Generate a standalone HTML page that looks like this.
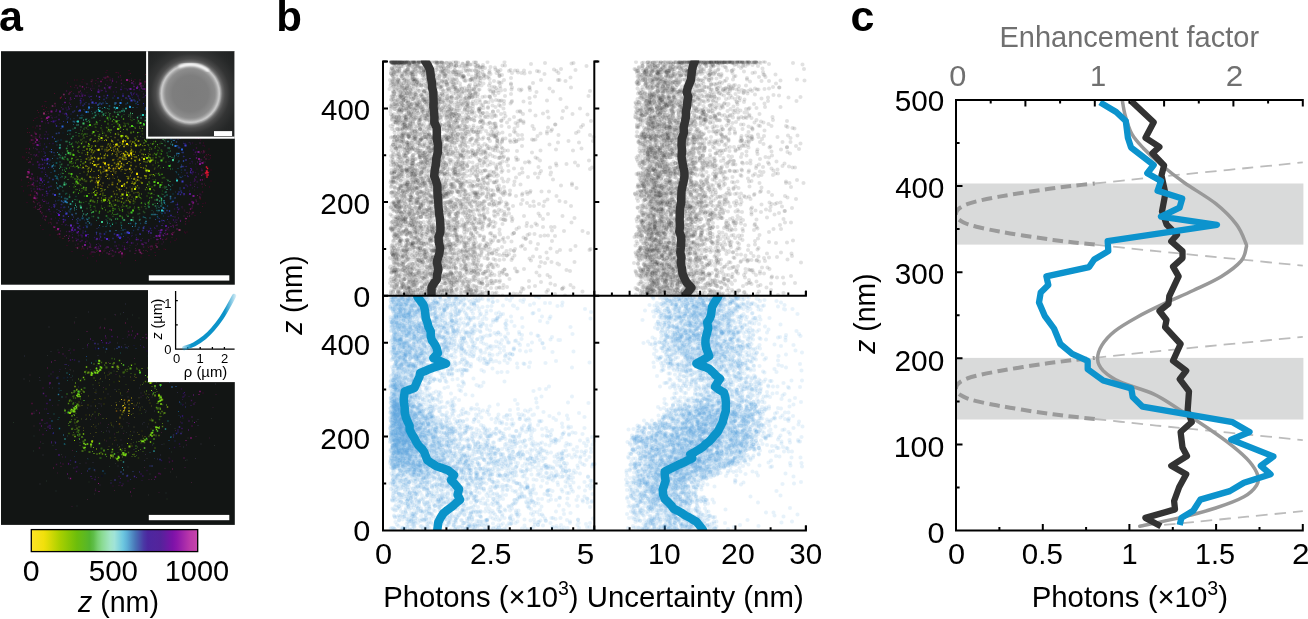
<!DOCTYPE html>
<html><head><meta charset="utf-8"><title>Figure</title>
<style>html,body{margin:0;padding:0;background:#fff}svg{display:block}text{font-family:"Liberation Sans", sans-serif}</style>
</head><body>
<svg width="1308" height="619" viewBox="0 0 1308 619">
<rect width="1308" height="619" fill="#fff"/>
<rect x="1.0" y="51.2" width="233.8" height="233.5" fill="#121514"/>
<rect x="1.0" y="290.1" width="233.8" height="234.8" fill="#121514"/>
<filter id="bl3" x="-2%" y="-2%" width="104%" height="104%"><feGaussianBlur stdDeviation="0.7"/></filter>
<clipPath id="ca1"><rect x="1.0" y="51.2" width="233.8" height="233.5"/></clipPath>
<clipPath id="ca2"><rect x="1.0" y="290.1" width="233.8" height="234.8"/></clipPath>
<g clip-path="url(#ca1)"><g transform="scale(.5)" filter="url(#bl3)" fill="none" stroke-linecap="square">
<path stroke="#14143c" stroke-width="2" d="M216 195zM118 253zM277 197zM367 284zM368 302z"/>
<path stroke="#14143c" stroke-width="2.6" d="M142 228zM287 210zM99 383zM369 290z"/>
<path stroke="#14143c" stroke-width="3.2" d="M352 411z"/>
<path stroke="#14283c" stroke-width="2" d="M242 461zM109 279zM106 325zM200 456zM346 398zM369 313zM115 376zM363 345zM172 451zM351 395zM322 425zM130 415zM109 379zM131 423zM126 266zM299 219zM351 278z"/>
<path stroke="#14283c" stroke-width="2.6" d="M178 213zM114 290zM175 453zM174 455zM251 459zM116 281zM232 207zM335 257z"/>
<path stroke="#14283c" stroke-width="3.2" d="M164 229zM363 340zM183 448zM175 450zM344 270zM109 311z"/>
<path stroke="#142850" stroke-width="2" d="M197 455zM238 464zM126 405zM133 233zM249 459zM295 214zM169 440zM308 231zM211 203zM148 237zM169 222zM173 453zM252 470zM350 267zM116 401zM327 432zM320 230zM243 467zM351 384zM360 379zM348 279zM324 234zM274 215zM112 357z"/>
<path stroke="#142850" stroke-width="2.6" d="M173 452zM267 461zM212 206zM365 353zM208 199zM100 320zM212 464zM226 196zM326 238zM99 329zM358 296z"/>
<path stroke="#142850" stroke-width="3.2" d="M129 414zM316 436zM238 470z"/>
<path stroke="#143c14" stroke-width="2" d="M336 337zM265 236zM223 429zM179 416zM199 232zM318 277zM192 240zM277 419z"/>
<path stroke="#143c14" stroke-width="2.6" d="M324 388zM326 375zM325 382zM306 277z"/>
<path stroke="#143c14" stroke-width="3.2" d="M167 405zM244 232zM324 301z"/>
<path stroke="#143c28" stroke-width="2" d="M130 335zM254 430zM279 434zM125 306zM152 271zM210 227zM314 399zM331 284zM129 354zM338 323zM124 335zM174 237z"/>
<path stroke="#143c28" stroke-width="2.6" d="M234 437zM160 413zM333 374zM297 411zM192 229zM197 228zM154 400zM207 229zM128 370zM330 385zM184 433z"/>
<path stroke="#143c28" stroke-width="3.2" d="M152 393zM216 436zM179 240zM338 303z"/>
<path stroke="#143c3c" stroke-width="2" d="M331 260zM157 249zM144 410zM347 276zM353 357zM345 280zM282 228zM121 348zM356 313zM260 447zM166 231zM113 372zM305 241zM307 424zM331 409zM316 424zM328 401zM117 360zM278 232zM295 227zM115 368zM124 354zM121 355zM212 439z"/>
<path stroke="#143c3c" stroke-width="2.6" d="M292 437zM116 358zM291 230zM118 375zM129 397zM331 392zM322 412zM315 242zM271 445zM317 255z"/>
<path stroke="#143c3c" stroke-width="3.2" d="M345 370zM110 342zM211 216zM164 235z"/>
<path stroke="#143c50" stroke-width="2" d="M356 325zM108 306zM270 453zM335 270zM149 245zM206 453zM357 324zM297 228zM183 223zM128 401zM184 215zM118 393zM176 219z"/>
<path stroke="#143c50" stroke-width="2.6" d="M281 447zM357 349zM330 417zM353 345zM259 212zM318 240zM318 242zM146 243z"/>
<path stroke="#143c50" stroke-width="3.2" d="M272 207zM193 222zM341 398zM115 317z"/>
<path stroke="#143c64" stroke-width="2" d="M339 264zM125 403zM141 238zM162 231zM348 268zM153 439zM188 207zM357 312zM311 228zM102 345zM118 400z"/>
<path stroke="#143c64" stroke-width="2.6" d="M335 412zM160 440zM278 455z"/>
<path stroke="#143c64" stroke-width="3.2" d="M324 427zM243 468zM357 295zM342 278z"/>
<path stroke="#14503c" stroke-width="2" d="M248 224zM136 398zM232 446zM122 373zM346 323zM214 450zM304 421zM292 232zM345 338z"/>
<path stroke="#14503c" stroke-width="2.6" d="M214 442zM282 231zM246 218zM185 227zM242 445zM291 235zM225 447zM313 416z"/>
<path stroke="#14503c" stroke-width="3.2" d="M124 373zM121 311zM124 353zM324 409zM218 218zM133 387z"/>
<path stroke="#145050" stroke-width="2" d="M323 403zM117 349z"/>
<path stroke="#145050" stroke-width="3.2" d="M131 397z"/>
<path stroke="#145064" stroke-width="2" d="M107 337zM352 343zM147 249zM153 419zM346 388zM356 337zM219 447zM131 403zM167 436z"/>
<path stroke="#145064" stroke-width="2.6" d="M341 379zM342 273zM130 397zM178 217zM300 436zM315 433zM120 297z"/>
<path stroke="#145064" stroke-width="3.2" d="M219 212zM287 434zM261 447zM113 283z"/>
<path stroke="#145078" stroke-width="2" d="M164 436zM230 205zM342 405zM140 424zM310 237zM363 330zM117 378zM122 280z"/>
<path stroke="#145078" stroke-width="2.6" d="M255 206zM291 219zM123 394zM198 208zM109 342zM246 460z"/>
<path stroke="#145078" stroke-width="3.2" d="M165 437z"/>
<path stroke="#146450" stroke-width="2" d="M131 388zM135 269zM205 217zM296 235zM193 441z"/>
<path stroke="#146450" stroke-width="2.6" d="M325 256zM348 316z"/>
<path stroke="#146450" stroke-width="3.2" d="M178 436zM163 236z"/>
<path stroke="#146464" stroke-width="2" d="M341 288zM173 438zM307 238zM323 258zM316 412z"/>
<path stroke="#146464" stroke-width="2.6" d="M297 232zM303 429zM314 421zM221 452z"/>
<path stroke="#146464" stroke-width="3.2" d="M113 326z"/>
<path stroke="#146478" stroke-width="2" d="M197 219zM212 453zM200 215zM135 262zM239 211zM110 332zM302 231zM353 310z"/>
<path stroke="#146478" stroke-width="2.6" d="M328 404zM114 354zM271 448zM326 255zM138 261zM326 415zM153 243zM243 451zM343 275zM141 261z"/>
<path stroke="#146478" stroke-width="3.2" d="M114 357zM111 352zM141 419z"/>
<path stroke="#281428" stroke-width="2" d="M326 203zM314 204zM368 255zM322 470zM72 296zM85 412zM60 340zM229 510zM322 187zM356 429zM379 272zM134 466zM174 185zM392 289zM277 175zM92 420zM85 428zM83 303zM68 386zM271 166zM399 321zM349 227zM388 241zM377 232zM78 405zM263 158zM89 400zM181 487zM348 218zM374 260zM248 485zM59 346zM398 332zM247 170zM184 499zM379 424zM105 237zM86 379zM183 495zM386 407zM92 244zM68 361zM339 447zM73 289zM210 501zM302 477zM157 469zM151 490zM208 155zM319 198zM227 503zM157 188zM288 494zM111 436zM394 354zM251 499zM67 274zM389 380zM91 246zM259 495zM63 353z"/>
<path stroke="#281428" stroke-width="2.6" d="M184 177zM355 241zM390 359zM390 369zM133 463zM197 487zM410 324zM91 402zM365 416zM253 177zM365 413zM75 353zM355 231zM174 482zM338 444zM140 200zM75 391zM272 491zM368 432zM212 153zM149 175zM188 177zM348 202zM177 175zM202 179zM400 306zM241 154zM137 475zM221 501zM369 420zM301 472zM394 363zM388 309zM69 309zM221 178zM175 498zM369 422zM412 351zM101 438zM62 377z"/>
<path stroke="#281428" stroke-width="3.2" d="M242 161zM85 436zM298 480zM176 494zM58 305zM406 291zM385 286zM71 273zM214 161zM383 428zM315 487zM72 392zM157 471zM381 254zM345 198zM209 498zM324 488zM76 313zM210 176zM185 172z"/>
<path stroke="#28143c" stroke-width="2" d="M157 472zM333 461zM392 334zM110 235zM102 243zM127 444zM230 180zM96 268zM133 463zM359 228zM381 343zM267 167zM156 458zM83 318zM284 183zM113 425zM314 462zM394 364zM156 192zM231 492zM386 364zM96 270zM136 451zM229 492zM147 187zM97 233zM280 190zM120 247zM93 404zM91 345zM265 195zM300 465zM83 362zM387 256zM128 443zM71 297zM273 177zM94 422zM332 458zM353 262zM144 465zM145 469zM92 263zM391 328zM84 394zM99 413zM385 326zM102 371zM112 222zM197 185zM215 171zM89 393zM162 187zM329 216zM150 188zM199 490zM242 179zM92 256zM90 342zM376 390zM259 478zM258 177zM316 201zM383 339zM92 332zM89 353zM211 180zM265 471zM95 246zM98 323zM133 449zM260 491zM202 170zM385 376zM97 375zM285 477zM125 421zM248 171zM119 437zM125 209z"/>
<path stroke="#28143c" stroke-width="2.6" d="M87 379zM66 359zM79 328zM349 418zM391 345zM385 348zM361 225zM161 210zM96 237zM350 434zM350 444zM161 197zM337 234zM372 291zM307 207zM64 349zM162 470zM139 217zM267 169zM68 378zM266 486zM351 440zM119 457zM381 365zM80 287zM166 189zM90 313zM118 230zM288 194zM103 415zM395 364zM254 497zM227 184zM166 462zM76 324zM203 468zM99 287zM152 477zM193 498zM250 177zM67 359zM325 470zM395 375zM233 473zM113 234zM68 310zM348 227zM243 174zM126 227zM279 179z"/>
<path stroke="#28143c" stroke-width="3.2" d="M277 196zM289 485zM143 462zM222 497zM93 376zM162 470zM163 186zM245 492zM393 310zM403 338zM167 200zM90 269zM379 285zM256 475zM279 180zM347 229zM325 204zM391 304zM211 178zM148 451zM380 327zM352 240zM326 447zM80 291zM203 481zM222 173z"/>
<path stroke="#281450" stroke-width="2" d="M252 480zM371 287zM112 241zM142 213zM286 195zM352 248zM178 190zM179 195zM358 417zM88 303zM92 349zM85 379zM298 454zM100 423zM355 406zM363 414zM255 198zM147 454zM88 339zM376 354zM163 197zM184 192zM256 482zM242 478zM100 381zM84 357zM381 288zM233 184zM177 474zM352 409zM183 199zM374 371zM336 426zM172 478zM379 382z"/>
<path stroke="#281450" stroke-width="2.6" d="M132 228zM294 461zM106 287zM210 476zM384 323zM315 201zM299 462zM131 450zM94 391zM375 373zM303 461zM372 370zM371 287zM208 192zM154 213zM87 298zM189 475zM269 186zM296 204zM373 333zM313 207zM96 364zM117 441zM80 329zM89 326z"/>
<path stroke="#281450" stroke-width="3.2" d="M264 191zM331 223zM111 242zM255 180zM337 433zM122 415zM387 300z"/>
<path stroke="#281464" stroke-width="2" d="M375 351zM95 365zM93 387zM178 193zM309 455zM89 288zM263 472zM111 248zM209 475zM273 475z"/>
<path stroke="#281464" stroke-width="2.6" d="M166 466zM88 361zM131 440zM273 189zM167 455zM229 192zM276 192zM369 388z"/>
<path stroke="#281464" stroke-width="3.2" d="M108 413zM130 440zM320 218zM383 346zM89 320zM162 204z"/>
<path stroke="#282850" stroke-width="2" d="M328 229zM364 386z"/>
<path stroke="#282864" stroke-width="2" d="M85 365zM172 205zM184 206zM264 466zM272 470zM357 264zM340 253zM356 279zM281 469zM319 437zM109 415zM361 277zM122 257zM243 200zM263 189zM114 419zM256 463zM218 481zM100 303zM370 351zM194 457z"/>
<path stroke="#282864" stroke-width="2.6" d="M161 206zM159 452zM367 333zM295 210zM149 222zM241 474zM279 200zM99 356zM355 415zM208 199zM155 442zM213 196zM307 220zM97 364zM344 404z"/>
<path stroke="#282864" stroke-width="3.2" d="M146 224zM169 208zM226 477zM362 382zM136 235zM332 231zM128 415zM123 409zM178 208z"/>
<path stroke="#282878" stroke-width="2" d="M134 220zM111 402zM97 335zM329 442zM372 333zM110 391zM147 434zM322 234zM242 475zM344 250zM118 421zM364 305zM335 439zM199 199zM127 243zM108 305z"/>
<path stroke="#282878" stroke-width="2.6" d="M171 463zM367 313zM324 441zM330 426zM301 457zM93 294zM328 237zM370 340z"/>
<path stroke="#282878" stroke-width="3.2" d="M132 428zM337 247zM359 295zM229 468zM166 211zM94 321z"/>
<path stroke="#28288c" stroke-width="2" d="M102 373zM112 408zM287 207zM153 214zM247 473zM134 238z"/>
<path stroke="#28288c" stroke-width="2.6" d="M358 384zM363 385zM270 202zM105 274z"/>
<path stroke="#28288c" stroke-width="3.2" d="M209 468z"/>
<path stroke="#283c14" stroke-width="2" d="M305 352zM169 380zM298 339zM282 407zM164 367zM142 332zM151 367zM259 416zM236 412zM319 297zM206 388zM191 416zM159 364zM330 356zM156 296zM269 413zM306 359zM278 265zM187 284zM313 277zM268 416zM284 282zM237 253zM301 287zM315 334zM301 389zM254 257zM159 378zM300 372zM142 333zM157 385zM241 421zM255 260zM265 421zM254 411zM286 275zM158 285zM320 287zM224 243zM180 271z"/>
<path stroke="#283c14" stroke-width="2.6" d="M198 278zM146 294zM322 300zM310 336zM129 319zM323 300zM309 381zM283 414zM204 232zM165 267zM258 427zM215 262zM244 414zM248 252zM243 414zM261 239zM295 378zM320 372zM162 384zM250 404zM164 358zM204 404zM235 399zM168 276zM307 379zM269 386zM153 369z"/>
<path stroke="#283c14" stroke-width="3.2" d="M332 324zM169 362zM315 292zM216 424zM285 268zM326 318zM321 308zM192 261zM208 266zM293 344z"/>
<path stroke="#283c78" stroke-width="2" d="M91 311zM250 466zM138 422zM135 243zM233 206zM311 439zM168 219zM182 450z"/>
<path stroke="#283c78" stroke-width="2.6" d="M145 430zM353 284zM200 467zM276 459zM155 231zM156 437zM350 396zM268 200zM346 269zM127 405z"/>
<path stroke="#283c78" stroke-width="3.2" d="M104 334zM113 267z"/>
<path stroke="#283c8c" stroke-width="2" d="M356 292zM355 264zM288 453zM314 222zM299 219zM109 277z"/>
<path stroke="#283c8c" stroke-width="2.6" d="M193 465zM342 247zM118 266zM313 229zM334 421zM366 305zM275 204zM174 454z"/>
<path stroke="#283c8c" stroke-width="3.2" d="M203 208zM106 359z"/>
<path stroke="#283cb4" stroke-width="2.6" d="M319 443zM260 197zM339 422zM356 388z"/>
<path stroke="#283cb4" stroke-width="3.2" d="M236 196z"/>
<path stroke="#285014" stroke-width="2" d="M155 379zM307 283zM165 278zM274 246zM216 425zM311 359zM170 255zM168 282zM218 252zM334 359zM139 373zM167 405zM188 413zM256 424zM302 387zM224 249zM203 251zM297 408zM294 276zM204 404zM290 242zM276 242zM227 255zM237 250zM172 403zM300 381zM237 413zM254 247zM221 239zM192 255zM248 251zM295 289zM148 383zM181 250zM150 384zM190 420zM269 416zM260 407zM312 347zM181 415zM147 326zM226 432zM324 369zM308 389zM149 370zM138 309zM320 288zM195 405zM176 259zM269 416zM320 306zM281 273zM180 403zM143 319zM157 283zM325 365zM195 401zM283 405zM248 413zM156 336zM194 406zM216 412zM145 333zM317 392zM300 387zM209 415zM323 307zM253 430zM203 412z"/>
<path stroke="#285014" stroke-width="2.6" d="M152 366zM167 378zM329 373zM245 420zM320 314zM315 306zM315 391zM279 419zM250 248zM220 438zM205 418zM155 286zM168 275zM217 240zM163 268zM311 322zM256 247zM284 252zM298 373zM225 413zM152 321zM311 360zM174 268zM203 416zM162 371zM294 279zM248 406zM257 249zM216 263zM238 417zM264 241zM198 426zM308 363zM205 264zM318 313zM256 416zM323 301zM316 325z"/>
<path stroke="#285014" stroke-width="3.2" d="M191 254zM328 355zM267 407zM324 365zM299 367zM168 375zM297 386zM223 412zM146 355zM189 249zM169 392zM144 327zM216 256zM325 356zM235 248zM327 316zM282 397z"/>
<path stroke="#285028" stroke-width="2" d="M327 279zM310 407zM248 229zM226 433zM129 357zM275 238zM238 231zM145 286zM312 255zM242 448zM217 225zM338 331zM232 233zM161 260zM309 272zM264 230zM322 284zM296 412zM322 402z"/>
<path stroke="#285028" stroke-width="2.6" d="M230 225zM292 417zM287 423zM212 226zM187 424zM258 230zM174 417zM261 234zM310 400zM184 236z"/>
<path stroke="#285028" stroke-width="3.2" d="M339 297zM289 425zM220 439zM298 408zM330 376zM279 427z"/>
<path stroke="#28503c" stroke-width="2" d="M240 224zM339 295z"/>
<path stroke="#28503c" stroke-width="2.6" d="M321 263z"/>
<path stroke="#28503c" stroke-width="3.2" d="M329 281zM120 315z"/>
<path stroke="#28508c" stroke-width="2" d="M360 354zM360 376zM362 355zM252 208z"/>
<path stroke="#28508c" stroke-width="2.6" d="M123 402zM144 429zM341 396zM362 334z"/>
<path stroke="#28508c" stroke-width="3.2" d="M196 210zM231 206z"/>
<path stroke="#2850b4" stroke-width="2" d="M103 299zM157 222zM348 265zM135 245zM354 291z"/>
<path stroke="#2850b4" stroke-width="2.6" d="M341 253zM367 322zM292 216zM103 304z"/>
<path stroke="#2850b4" stroke-width="3.2" d="M346 403z"/>
<path stroke="#286414" stroke-width="2" d="M200 241zM184 252zM228 246zM210 243zM318 295zM321 336zM296 407zM144 302zM216 246zM146 367z"/>
<path stroke="#286414" stroke-width="2.6" d="M226 233zM173 256zM270 255zM152 379zM244 433z"/>
<path stroke="#286414" stroke-width="3.2" d="M181 411zM189 413zM230 418zM316 301zM260 414z"/>
<path stroke="#286428" stroke-width="2" d="M124 346zM124 328zM185 425zM301 254zM219 234zM257 233zM181 414z"/>
<path stroke="#286428" stroke-width="2.6" d="M221 237zM187 433zM127 318zM266 435zM317 270zM176 252zM134 297zM178 407zM290 407zM335 311zM315 399zM219 230z"/>
<path stroke="#286428" stroke-width="3.2" d="M320 395zM235 428z"/>
<path stroke="#28643c" stroke-width="2" d="M261 230zM326 389zM206 229zM234 225zM314 398zM135 292zM139 390zM341 330zM261 227zM177 241z"/>
<path stroke="#28643c" stroke-width="2.6" d="M314 267zM304 248zM123 329zM136 330zM132 309zM332 374zM338 296z"/>
<path stroke="#28643c" stroke-width="3.2" d="M134 283zM161 411zM331 277z"/>
<path stroke="#286450" stroke-width="2" d="M267 440zM341 373zM215 217zM126 382zM321 261zM146 258zM322 271zM267 442zM125 375z"/>
<path stroke="#286450" stroke-width="2.6" d="M336 296zM329 393zM280 439z"/>
<path stroke="#286450" stroke-width="3.2" d="M173 429zM156 250z"/>
<path stroke="#286464" stroke-width="2" d="M318 415z"/>
<path stroke="#286464" stroke-width="3.2" d="M345 289z"/>
<path stroke="#28648c" stroke-width="2" d="M271 452zM348 281zM137 414zM111 283zM314 429zM336 252zM199 451zM105 317z"/>
<path stroke="#28648c" stroke-width="2.6" d="M334 261zM358 307zM152 427zM148 243z"/>
<path stroke="#28648c" stroke-width="3.2" d="M328 241zM175 439z"/>
<path stroke="#2864b4" stroke-width="2" d="M292 447zM200 206zM206 206zM172 446z"/>
<path stroke="#2864b4" stroke-width="2.6" d="M220 462z"/>
<path stroke="#2864dc" stroke-width="4" d="M125 253zM347 268zM364 299z"/>
<path stroke="#287828" stroke-width="2.6" d="M136 320z"/>
<path stroke="#28783c" stroke-width="2" d="M183 426z"/>
<path stroke="#28783c" stroke-width="2.6" d="M240 224zM330 291z"/>
<path stroke="#28783c" stroke-width="3.2" d="M336 361zM146 273z"/>
<path stroke="#287850" stroke-width="2" d="M140 268zM249 223zM344 315zM337 369zM341 302zM120 330z"/>
<path stroke="#287850" stroke-width="2.6" d="M139 285zM132 283zM197 436zM196 435zM229 224z"/>
<path stroke="#287850" stroke-width="3.2" d="M207 228zM311 412zM129 365z"/>
<path stroke="#287864" stroke-width="2" d="M149 420zM120 324zM119 337zM236 216zM153 250zM337 274z"/>
<path stroke="#287864" stroke-width="2.6" d="M319 402zM323 406zM167 428zM279 440zM282 236z"/>
<path stroke="#28788c" stroke-width="2" d="M290 446zM349 312zM115 305z"/>
<path stroke="#28788c" stroke-width="2.6" d="M134 398zM179 446zM230 208zM306 429zM115 376z"/>
<path stroke="#28788c" stroke-width="3.2" d="M119 388zM318 421zM341 393zM330 260z"/>
<path stroke="#2878b4" stroke-width="2" d="M348 281zM232 461zM142 417zM357 307zM214 207zM197 215zM341 263z"/>
<path stroke="#2878b4" stroke-width="2.6" d="M327 422zM303 224zM327 416zM354 307z"/>
<path stroke="#2878dc" stroke-width="4" d="M173 224zM178 215zM351 292zM241 206z"/>
<path stroke="#288c28" stroke-width="2" d="M290 413zM267 253zM238 241zM140 289zM228 239zM268 239zM276 246zM243 234z"/>
<path stroke="#288c28" stroke-width="2.6" d="M235 438zM131 354zM133 337zM143 288zM162 405z"/>
<path stroke="#288c28" stroke-width="3.2" d="M135 318zM213 432z"/>
<path stroke="#288c3c" stroke-width="2" d="M183 425zM150 399zM129 340zM159 402zM211 231zM334 306zM158 267zM152 265zM199 426zM341 338zM296 259zM236 224zM276 428z"/>
<path stroke="#288c3c" stroke-width="2.6" d="M130 314zM133 297z"/>
<path stroke="#288c3c" stroke-width="3.2" d="M125 315zM306 409z"/>
<path stroke="#288c50" stroke-width="2" d="M125 340zM174 243zM131 309z"/>
<path stroke="#288c50" stroke-width="2.6" d="M143 277zM121 334z"/>
<path stroke="#288c50" stroke-width="3.2" d="M298 414zM125 317zM291 241z"/>
<path stroke="#288c64" stroke-width="2" d="M320 259zM133 368zM175 427zM151 408z"/>
<path stroke="#288c64" stroke-width="2.6" d="M309 255zM332 384zM207 230z"/>
<path stroke="#288c64" stroke-width="3.2" d="M150 256zM311 257zM188 235zM204 224zM191 231zM139 394zM247 440z"/>
<path stroke="#288c78" stroke-width="2" d="M257 447zM231 218zM172 430z"/>
<path stroke="#288c78" stroke-width="2.6" d="M119 296zM248 221zM190 225z"/>
<path stroke="#288c8c" stroke-width="2" d="M343 284zM313 242zM165 432zM243 456zM290 435z"/>
<path stroke="#288c8c" stroke-width="2.6" d="M120 372zM336 283z"/>
<path stroke="#288cb4" stroke-width="2" d="M272 447zM107 330zM265 453zM266 215zM177 224z"/>
<path stroke="#288cb4" stroke-width="2.6" d="M292 443zM310 429z"/>
<path stroke="#288cb4" stroke-width="3.2" d="M134 405zM105 332z"/>
<path stroke="#288cdc" stroke-width="4" d="M131 403zM335 257z"/>
<path stroke="#28a0b4" stroke-width="2" d="M160 236zM209 215zM328 401zM358 322zM176 443zM322 412zM345 290z"/>
<path stroke="#28a0b4" stroke-width="2.6" d="M329 406z"/>
<path stroke="#28a0b4" stroke-width="3.2" d="M229 215z"/>
<path stroke="#28a0dc" stroke-width="4" d="M260 214z"/>
<path stroke="#28b48c" stroke-width="2" d="M153 414zM151 411zM225 449z"/>
<path stroke="#28b48c" stroke-width="2.6" d="M120 290zM172 239zM323 397zM244 222zM145 403z"/>
<path stroke="#28b4a0" stroke-width="2" d="M215 446zM294 235zM167 240zM334 390z"/>
<path stroke="#28b4a0" stroke-width="2.6" d="M120 295zM197 219z"/>
<path stroke="#28b4a0" stroke-width="3.2" d="M141 408zM252 217z"/>
<path stroke="#28b4b4" stroke-width="2" d="M325 258zM113 366zM149 416z"/>
<path stroke="#28b4b4" stroke-width="2.6" d="M303 239z"/>
<path stroke="#28b4c8" stroke-width="4" d="M234 216z"/>
<path stroke="#28c8b4" stroke-width="4" d="M286 230zM156 243z"/>
<path stroke="#28c8c8" stroke-width="4" d="M324 421zM354 361zM199 222z"/>
<path stroke="#3c1414" stroke-width="2" d="M66 398zM199 510z"/>
<path stroke="#3c1414" stroke-width="2.6" d="M163 498zM401 398z"/>
<path stroke="#3c1428" stroke-width="2" d="M410 302zM91 441zM384 428zM137 482zM118 468zM184 159zM58 306zM110 208zM365 220zM400 266zM395 260zM191 167zM315 175zM287 501zM96 223zM349 464zM403 303zM66 287zM170 166zM100 216zM411 350zM58 371zM54 320zM409 368zM92 229zM289 168zM305 494zM344 475z"/>
<path stroke="#3c1428" stroke-width="2.6" d="M205 159zM115 469zM63 358zM379 425zM69 405zM371 448zM146 482zM208 502zM97 227zM185 160zM92 238zM346 466z"/>
<path stroke="#3c1428" stroke-width="3.2" d="M101 445zM152 171zM405 384zM302 493zM280 160zM68 372zM83 237z"/>
<path stroke="#3c143c" stroke-width="2" d="M360 219zM102 428zM326 189zM377 247zM103 448zM221 160zM402 390zM220 156zM339 195zM65 349zM129 473zM327 484zM75 356zM189 504zM401 266zM123 215zM217 495zM271 497zM275 173zM209 156zM392 303zM404 320zM102 231zM57 315zM394 338zM376 232zM223 166zM343 467zM130 472zM111 212zM330 181zM373 438zM382 398zM139 481zM296 492zM196 164zM124 449zM402 326zM270 168zM81 415zM378 427z"/>
<path stroke="#3c143c" stroke-width="2.6" d="M139 206zM393 403zM278 500zM196 501zM82 379zM291 178zM155 176zM375 433zM198 172zM58 339zM336 204zM329 192zM225 158zM208 155zM211 169zM71 413zM63 382zM174 168zM393 296zM78 283zM237 154zM260 502zM116 460zM173 175zM212 496zM363 229zM400 286zM233 164zM196 498zM337 212zM175 497zM249 493zM385 412zM287 494zM74 252zM314 473zM87 432zM355 215zM70 266zM404 368zM74 396z"/>
<path stroke="#3c143c" stroke-width="3.2" d="M74 386zM385 256zM139 472zM341 212zM354 450zM161 483zM214 506zM351 217zM390 269zM74 373zM286 172zM396 408zM133 182zM193 494zM80 258zM67 356zM325 479zM110 454zM70 397zM334 458zM402 319zM301 493zM189 496zM72 285zM80 270zM183 504z"/>
<path stroke="#3c1450" stroke-width="2" d="M341 447zM328 201zM397 348zM103 243zM353 445zM179 486zM82 367zM389 373zM67 370zM80 380zM238 490zM391 360zM193 498zM93 264zM331 466zM300 181zM275 488zM287 188zM355 225zM162 193zM249 496zM274 188zM255 483zM94 407zM297 483z"/>
<path stroke="#3c1450" stroke-width="2.6" d="M391 305zM85 400zM297 480zM326 204zM104 235zM321 200zM164 190zM197 494zM66 329zM103 438zM181 490zM197 179zM74 299zM389 362zM82 277zM97 246zM68 287z"/>
<path stroke="#3c1450" stroke-width="3.2" d="M381 370zM164 481zM332 469zM214 494z"/>
<path stroke="#3c1464" stroke-width="2" d="M308 475zM381 275zM342 213zM193 489zM119 424zM383 337zM218 478zM346 433zM85 363zM158 457zM202 182zM79 366zM149 460zM141 209zM373 263zM196 182zM354 440zM354 254zM86 372zM310 457zM132 216zM198 181zM88 313zM80 371zM108 424zM126 439zM129 228z"/>
<path stroke="#3c1464" stroke-width="2.6" d="M255 485zM291 191zM352 241zM267 188zM126 218zM319 469zM89 277zM347 440zM212 183zM392 354zM156 479zM150 459zM164 471zM134 230zM339 219zM138 218zM339 219z"/>
<path stroke="#3c1464" stroke-width="3.2" d="M282 481zM193 479zM386 344zM357 419zM194 477zM85 329zM95 387zM78 330zM199 478z"/>
<path stroke="#3c1478" stroke-width="2" d="M97 406zM147 462zM355 425zM253 485z"/>
<path stroke="#3c1478" stroke-width="2.6" d="M78 335z"/>
<path stroke="#3c1478" stroke-width="3.2" d="M242 179zM353 238z"/>
<path stroke="#3c148c" stroke-width="2" d="M381 337zM84 344zM89 369z"/>
<path stroke="#3c148c" stroke-width="3.2" d="M161 201zM150 460z"/>
<path stroke="#3c148c" stroke-width="4" d="M107 243z"/>
<path stroke="#3c2878" stroke-width="2" d="M362 250zM137 214z"/>
<path stroke="#3c288c" stroke-width="2" d="M246 188zM94 328zM91 349zM315 220zM308 208zM240 474zM145 439zM182 200zM160 458zM368 287zM327 441zM376 353zM121 423zM381 342zM297 466zM366 268z"/>
<path stroke="#3c288c" stroke-width="2.6" d="M127 439zM258 193zM262 186zM361 389zM303 198zM132 227zM355 409zM368 389zM257 192zM252 196zM201 474zM93 383zM286 461zM95 277zM381 345z"/>
<path stroke="#3c288c" stroke-width="3.2" d="M127 432zM237 474zM109 412zM344 240z"/>
<path stroke="#3c28b4" stroke-width="2" d="M368 387zM200 470zM90 306zM94 352zM98 374zM82 337zM89 336zM116 427zM137 433z"/>
<path stroke="#3c28b4" stroke-width="2.6" d="M347 258zM342 431zM280 468zM215 191zM372 320zM359 257zM113 252zM368 376z"/>
<path stroke="#3c28b4" stroke-width="3.2" d="M336 233zM192 206zM246 192z"/>
<path stroke="#3c28c8" stroke-width="4" d="M240 476z"/>
<path stroke="#3c3c14" stroke-width="2" d="M293 353zM194 284zM164 337zM178 321zM246 266zM212 273zM215 403zM205 278zM192 362zM247 388zM180 352zM222 413zM280 332zM243 388zM180 292zM181 325zM199 273zM280 355zM168 328zM174 362z"/>
<path stroke="#3c3c14" stroke-width="2.6" d="M297 307zM271 323zM274 290zM255 397zM264 394zM279 387zM291 341zM195 375zM205 388zM193 299zM240 383zM269 338zM253 383zM218 396zM222 292zM205 378z"/>
<path stroke="#3c3c14" stroke-width="3.2" d="M200 358zM260 284zM243 276zM275 372zM177 315z"/>
<path stroke="#3c3cb4" stroke-width="2" d="M276 209zM106 388zM156 447z"/>
<path stroke="#3c3cb4" stroke-width="2.6" d="M95 327zM364 333z"/>
<path stroke="#3c3cb4" stroke-width="3.2" d="M287 456z"/>
<path stroke="#3c3cc8" stroke-width="4" d="M185 205zM255 465zM160 221zM263 201zM371 291zM258 466zM110 390zM365 363zM133 427z"/>
<path stroke="#3c5014" stroke-width="2" d="M299 303zM155 359zM178 336zM286 292zM159 368zM237 395zM209 379zM206 271zM169 301zM241 272zM179 280zM262 399zM160 335zM176 305zM242 397zM271 281zM171 309zM270 291zM168 337zM255 396zM175 348zM165 356zM223 279z"/>
<path stroke="#3c5014" stroke-width="2.6" d="M278 376zM309 338zM175 338zM234 389zM239 258zM172 363zM292 331zM275 273z"/>
<path stroke="#3c5014" stroke-width="3.2" d="M238 402zM172 284zM243 271zM246 272zM197 273zM210 299zM179 319z"/>
<path stroke="#3c6414" stroke-width="2" d="M306 310zM185 394zM230 241zM239 257zM219 263zM270 404zM278 389zM160 347zM228 408zM162 319zM299 356zM300 295zM152 314zM316 348zM195 248zM166 272zM267 398zM248 246zM318 346zM271 257zM203 401zM165 284zM161 369zM166 301zM275 266zM219 401zM204 260zM298 357zM245 410zM246 412zM153 333zM157 358zM184 386zM306 330zM236 247zM164 382zM270 256z"/>
<path stroke="#3c6414" stroke-width="2.6" d="M297 290zM169 359zM303 298zM299 299zM156 319zM180 279zM297 291zM309 307zM213 255zM192 248zM216 248zM291 379zM260 254zM235 402zM223 409zM307 287zM221 265zM271 398zM206 391zM186 401zM162 280z"/>
<path stroke="#3c6414" stroke-width="3.2" d="M312 315zM189 404zM254 273zM156 302zM186 403zM185 267zM182 400zM199 269z"/>
<path stroke="#3c7814" stroke-width="2.6" d="M219 412z"/>
<path stroke="#3c7814" stroke-width="3.2" d="M278 392z"/>
<path stroke="#3c8c14" stroke-width="2" d="M158 305zM167 270zM317 347zM299 396zM140 326zM165 262zM139 336zM150 334zM324 303zM311 293zM151 373zM291 409zM294 392zM318 331zM142 354zM235 242zM159 381zM284 262zM158 272z"/>
<path stroke="#3c8c14" stroke-width="2.6" d="M220 422zM210 243zM150 358zM138 347zM311 283zM283 406zM301 276zM313 309zM170 268zM199 423zM245 422z"/>
<path stroke="#3c8c14" stroke-width="3.2" d="M140 324zM141 309zM303 395zM309 371zM215 235zM253 412zM319 350zM312 309z"/>
<path stroke="#3ca014" stroke-width="2" d="M148 374zM228 429zM157 387zM205 417zM225 426zM324 349zM323 308z"/>
<path stroke="#3ca014" stroke-width="2.6" d="M226 421z"/>
<path stroke="#3ca014" stroke-width="3.2" d="M297 405z"/>
<path stroke="#3ca028" stroke-width="2" d="M227 239zM299 402zM131 343zM232 429zM152 284zM194 245zM187 423zM143 352zM192 422zM315 289zM300 268zM182 420zM327 335zM256 433z"/>
<path stroke="#3ca028" stroke-width="2.6" d="M233 234zM193 244zM145 293zM147 385zM277 242zM245 436z"/>
<path stroke="#3ca028" stroke-width="3.2" d="M240 432zM141 306zM215 237z"/>
<path stroke="#3ca03c" stroke-width="2" d="M136 359zM220 227zM168 258z"/>
<path stroke="#3ca03c" stroke-width="3.2" d="M135 302zM320 374z"/>
<path stroke="#3cb43c" stroke-width="2.6" d="M179 244z"/>
<path stroke="#3cb450" stroke-width="2" d="M126 347zM287 247zM337 314zM340 363zM324 287zM162 254zM256 432zM326 279z"/>
<path stroke="#3cb450" stroke-width="2.6" d="M186 424zM159 404zM317 392z"/>
<path stroke="#3cb464" stroke-width="2" d="M231 438zM261 226zM340 313z"/>
<path stroke="#3cb464" stroke-width="2.6" d="M323 400zM314 400zM249 440z"/>
<path stroke="#3cb464" stroke-width="3.2" d="M236 229z"/>
<path stroke="#3cb478" stroke-width="2" d="M334 379zM165 422zM265 227zM223 440zM315 407zM163 415zM338 371z"/>
<path stroke="#3cb478" stroke-width="2.6" d="M118 309zM275 235z"/>
<path stroke="#3cb48c" stroke-width="3.2" d="M326 273z"/>
<path stroke="#3cc828" stroke-width="4" d="M288 249zM263 425zM339 332z"/>
<path stroke="#3cc850" stroke-width="4" d="M137 306z"/>
<path stroke="#3cc864" stroke-width="4" d="M167 247z"/>
<path stroke="#3cc878" stroke-width="4" d="M129 369z"/>
<path stroke="#3cc88c" stroke-width="4" d="M263 440zM162 415zM346 320zM204 444z"/>
<path stroke="#460a28" stroke-width="2" d="M55 257zM375 217zM184 168zM328 498zM312 489zM89 212zM261 147zM66 254zM91 223zM83 427zM327 180zM93 215zM135 166zM58 390zM214 155zM303 168zM391 239zM413 309zM193 503zM305 494zM44 373zM342 189zM409 358zM90 203zM411 371zM259 163zM81 451zM390 431zM86 459zM405 374zM365 208zM243 160zM419 374zM291 149zM405 359zM318 499zM205 506zM182 508zM418 319zM336 175zM70 237zM134 491zM418 298zM308 165zM192 161zM241 151zM68 415zM180 508zM298 511zM399 393zM144 503zM311 172zM341 190zM421 311zM408 349zM149 160zM422 340zM347 198zM166 511zM370 227zM401 265zM341 484zM404 359zM186 513zM279 164zM245 506zM142 174zM52 298zM397 232zM366 210zM358 205zM56 348zM407 286zM53 305zM45 314zM248 510zM305 161zM379 238zM412 311zM421 316zM310 505zM384 226zM327 164zM214 141zM87 219zM88 219zM55 265zM219 160zM271 521zM295 503zM317 177zM71 256zM422 362zM371 466zM54 319zM420 311zM48 314zM141 173zM112 461zM282 514zM234 145zM370 215zM297 495zM241 526zM75 221zM258 148zM393 236zM366 192zM405 413zM328 166zM66 290zM67 241zM369 464zM72 399zM312 487zM371 443zM74 401zM403 304zM411 406zM290 165zM212 156zM166 159zM48 316zM417 348zM350 481zM334 476zM361 194zM54 297zM212 145zM232 145zM414 312zM97 446zM303 166zM373 228zM74 235zM331 479zM137 482zM417 309zM158 494zM354 204zM253 161zM100 470zM84 213zM60 284zM224 513zM250 508zM244 515zM306 497zM312 174zM59 265zM43 360zM407 269zM379 236zM302 161zM143 183zM175 516zM412 273zM398 249zM129 194zM62 361zM66 287zM47 382zM331 499zM408 315zM152 495zM374 464zM311 511zM80 232zM85 212zM237 146zM317 484zM182 506zM401 280zM164 164zM409 292zM55 372zM193 522zM65 274zM109 187zM286 507zM406 407zM57 365zM270 159zM353 478zM401 425zM202 503zM92 203zM69 264zM402 266zM258 141zM347 189zM77 225zM388 249zM419 344zM378 442zM322 175zM71 416zM54 405zM154 160zM108 213z"/>
<path stroke="#501428" stroke-width="2.6" d="M217 154z"/>
<path stroke="#50143c" stroke-width="2" d="M168 498zM166 496zM70 276zM84 425zM281 168zM292 501zM129 473zM333 478zM190 505zM280 503zM57 325zM374 223zM346 195zM62 370zM67 296zM357 209zM384 244zM62 309zM407 324z"/>
<path stroke="#50143c" stroke-width="2.6" d="M407 302zM56 348zM279 504zM302 499zM127 189zM392 276zM412 318zM376 236zM211 156zM406 348zM215 153zM90 439zM67 403zM267 163zM335 189zM343 468zM404 350z"/>
<path stroke="#50143c" stroke-width="3.2" d="M183 163zM241 503zM110 207zM69 392zM338 204zM408 304zM70 383zM290 163z"/>
<path stroke="#501450" stroke-width="2" d="M406 306zM78 406zM338 460zM382 256zM219 503zM71 312zM388 263zM352 451zM121 462zM169 178zM400 388zM378 241z"/>
<path stroke="#501450" stroke-width="2.6" d="M354 458zM346 451zM243 167zM79 274zM361 441zM384 403zM272 501zM186 504zM114 446zM404 341z"/>
<path stroke="#501450" stroke-width="3.2" d="M231 504zM369 227zM225 501zM64 348zM279 169z"/>
<path stroke="#501464" stroke-width="2" d="M329 467zM317 471zM361 443zM72 362zM395 324zM233 492zM232 175zM75 362zM181 178zM321 470zM142 199zM183 181zM323 208zM198 497zM321 461zM131 197zM155 192zM336 203zM357 436z"/>
<path stroke="#501464" stroke-width="2.6" d="M331 461zM201 492zM145 475zM153 481zM75 324zM85 390zM67 366zM216 494zM73 310zM113 220zM141 196zM75 388zM292 486zM283 176zM337 455zM171 484z"/>
<path stroke="#501464" stroke-width="3.2" d="M307 190zM299 184zM364 232zM284 488zM139 463zM400 323zM235 497zM316 185zM374 241zM268 173zM75 378z"/>
<path stroke="#501478" stroke-width="2" d="M112 223zM355 424zM164 474zM88 403zM149 197zM78 304zM318 461zM389 358zM204 181z"/>
<path stroke="#501478" stroke-width="2.6" d="M268 179zM276 479zM79 378zM127 444zM317 196zM263 486zM152 192zM275 173zM165 192zM365 258zM209 176zM170 191z"/>
<path stroke="#501478" stroke-width="3.2" d="M307 198zM306 194zM98 419z"/>
<path stroke="#50148c" stroke-width="2.6" d="M383 340zM118 239z"/>
<path stroke="#50148c" stroke-width="3.2" d="M273 479z"/>
<path stroke="#50148c" stroke-width="4" d="M332 452zM81 357zM321 465zM197 184zM155 465zM380 388zM120 223zM144 460zM82 360z"/>
<path stroke="#5014a0" stroke-width="2" d="M84 318zM312 209z"/>
<path stroke="#5028a0" stroke-width="2" d="M297 463zM324 451z"/>
<path stroke="#5028a0" stroke-width="2.6" d="M85 336z"/>
<path stroke="#5028b4" stroke-width="2" d="M298 462zM380 317zM374 346zM108 409zM90 320zM369 270zM193 192zM154 446zM314 452zM85 320zM193 468zM182 193zM351 239zM133 228zM176 469zM230 484zM341 234z"/>
<path stroke="#5028b4" stroke-width="2.6" d="M194 478zM302 466zM156 455z"/>
<path stroke="#5028b4" stroke-width="3.2" d="M199 194z"/>
<path stroke="#5028c8" stroke-width="4" d="M214 478zM310 203zM314 207zM307 207zM235 470zM95 318z"/>
<path stroke="#503c14" stroke-width="2" d="M194 331zM249 381zM225 338zM254 292zM262 297zM260 374z"/>
<path stroke="#503c14" stroke-width="2.6" d="M192 355zM226 351zM207 334zM261 305zM274 348z"/>
<path stroke="#503c14" stroke-width="3.2" d="M191 365zM204 372z"/>
<path stroke="#505014" stroke-width="2" d="M269 356zM218 358zM260 344zM266 374zM224 296zM223 332zM241 309zM216 375zM234 368zM213 348zM215 290zM208 343zM243 379zM215 329zM233 381zM267 386zM272 358zM191 317zM229 357zM226 356zM201 369zM258 307zM185 308zM261 350zM232 334zM235 354zM188 302zM218 341zM242 318zM243 307zM183 361zM274 318zM266 313zM202 345zM190 302zM228 344zM194 366zM279 328zM202 354zM241 291z"/>
<path stroke="#505014" stroke-width="2.6" d="M212 332zM233 374zM227 295zM228 319zM219 357zM227 383zM221 297zM278 361zM231 291zM227 342zM247 313zM236 319zM236 280zM215 301zM218 340zM194 329zM253 310zM262 325zM192 330zM213 299zM249 319zM218 370zM227 299zM247 329z"/>
<path stroke="#505014" stroke-width="3.2" d="M279 320zM198 300zM210 316zM224 309zM226 284zM244 315zM248 316zM204 298zM202 293zM245 334zM231 346zM235 333zM225 365zM233 304zM194 362zM227 340zM245 318zM183 361zM236 301zM262 293zM272 333zM187 355zM261 282zM227 341z"/>
<path stroke="#506414" stroke-width="2" d="M272 385zM173 375zM204 281zM166 360zM174 273zM262 267zM285 291zM292 355zM236 266zM202 377zM211 379zM231 394zM179 301zM202 383zM279 317z"/>
<path stroke="#506414" stroke-width="2.6" d="M291 337zM305 320zM182 312zM189 386zM187 378zM292 324zM242 392zM209 380z"/>
<path stroke="#506414" stroke-width="3.2" d="M255 274zM176 343zM237 269zM300 309zM216 275zM236 257zM264 382zM257 393zM253 401zM267 402zM199 279zM211 396z"/>
<path stroke="#507814" stroke-width="2" d="M154 319zM291 281zM192 390zM247 406zM229 411zM248 253zM222 273zM262 264zM311 326zM172 362zM196 263zM168 326z"/>
<path stroke="#507814" stroke-width="2.6" d="M203 401zM176 292zM270 276zM181 280zM182 355zM271 374zM181 363zM166 327zM162 323zM298 364zM288 286zM240 253z"/>
<path stroke="#507814" stroke-width="3.2" d="M257 385zM212 271zM169 293z"/>
<path stroke="#508c14" stroke-width="2" d="M304 349zM209 401zM164 377zM226 402zM205 267zM239 420zM280 257zM153 352zM306 316zM283 388zM195 402zM154 333zM304 374zM279 254zM317 332zM182 277zM262 265zM247 259z"/>
<path stroke="#508c14" stroke-width="2.6" d="M219 404zM155 332zM226 417zM254 259zM198 273zM155 354zM163 357zM220 406zM309 351zM158 293zM172 376zM190 271zM267 264zM160 360zM172 380z"/>
<path stroke="#508c14" stroke-width="3.2" d="M231 410zM222 260z"/>
<path stroke="#50a014" stroke-width="2" d="M154 358zM225 242zM151 326zM147 332zM285 257zM324 348zM147 300zM146 308zM211 420z"/>
<path stroke="#50a014" stroke-width="2.6" d="M247 238zM305 288zM143 323z"/>
<path stroke="#50a014" stroke-width="3.2" d="M155 365zM303 387zM277 415zM181 402z"/>
<path stroke="#50b414" stroke-width="2" d="M228 253zM156 295zM160 313zM310 296zM202 256zM310 370zM245 419zM276 265z"/>
<path stroke="#50b414" stroke-width="2.6" d="M157 335zM167 375z"/>
<path stroke="#50b414" stroke-width="3.2" d="M144 317z"/>
<path stroke="#50c814" stroke-width="4" d="M147 310zM321 370zM264 252zM174 392zM266 421zM143 348zM153 363zM309 364zM180 250z"/>
<path stroke="#50c828" stroke-width="4" d="M323 321zM281 246z"/>
<path stroke="#641428" stroke-width="2" d="M120 474zM126 477zM367 215z"/>
<path stroke="#641428" stroke-width="2.6" d="M61 390z"/>
<path stroke="#641450" stroke-width="2" d="M82 415zM222 508zM400 394zM270 507zM71 397zM156 488zM63 318zM351 209zM370 225zM196 157zM123 194zM384 237zM55 343zM133 471zM244 512zM263 161zM72 397zM171 491zM258 160zM346 465zM374 425zM380 234zM75 408zM161 182zM395 391zM409 314z"/>
<path stroke="#641450" stroke-width="2.6" d="M398 263zM165 493zM158 184zM386 425zM140 185zM72 277zM79 418zM283 507zM346 195zM138 188zM80 411zM81 423zM304 174zM360 212zM337 192z"/>
<path stroke="#641450" stroke-width="3.2" d="M60 324zM165 174zM356 207zM92 433zM218 508zM63 280zM238 505zM63 271z"/>
<path stroke="#641478" stroke-width="2" d="M342 453zM316 479zM362 237zM347 454zM130 205zM381 275zM159 192zM76 291zM292 182zM88 403zM95 241z"/>
<path stroke="#641478" stroke-width="2.6" d="M249 498zM286 489zM289 178zM286 178zM321 477zM225 162zM191 495zM327 471zM401 360zM393 316z"/>
<path stroke="#641478" stroke-width="3.2" d="M379 409zM130 205zM314 479zM84 243zM398 318zM385 404zM264 166z"/>
<path stroke="#64148c" stroke-width="4" d="M384 271zM274 176zM219 175zM313 472zM323 460zM261 178z"/>
<path stroke="#6414a0" stroke-width="2" d="M157 463z"/>
<path stroke="#6414a0" stroke-width="3.2" d="M145 456z"/>
<path stroke="#6414c8" stroke-width="4" d="M172 471zM118 430z"/>
<path stroke="#6428c8" stroke-width="4" d="M368 270zM142 451z"/>
<path stroke="#646414" stroke-width="2" d="M189 302zM231 309zM247 370zM235 327zM236 330zM245 312zM175 333zM200 370zM242 342zM215 374zM282 364zM236 301zM241 363zM263 357zM199 354zM227 289zM235 376zM210 302zM249 312z"/>
<path stroke="#646414" stroke-width="2.6" d="M224 369zM233 290zM193 357zM284 308zM184 361zM248 330zM240 285zM242 331zM219 292zM206 366zM202 347zM204 381zM230 275zM178 335zM214 295zM253 376zM252 315zM263 304zM238 304zM238 378zM229 388zM284 315z"/>
<path stroke="#646414" stroke-width="3.2" d="M257 354zM205 293zM282 356zM247 369zM181 319zM265 364zM250 339zM183 304zM215 349zM269 358zM229 326zM181 326z"/>
<path stroke="#647800" stroke-width="2" d="M183 295zM174 350zM234 388zM234 287zM206 386zM277 311zM168 344zM280 304zM246 272zM247 279z"/>
<path stroke="#647800" stroke-width="2.6" d="M187 305zM288 323zM266 303zM257 401zM276 385zM272 375zM300 350z"/>
<path stroke="#647800" stroke-width="3.2" d="M243 274zM217 288zM268 284z"/>
<path stroke="#647814" stroke-width="2" d="M295 324zM177 344z"/>
<path stroke="#647814" stroke-width="2.6" d="M297 321zM272 279zM254 274zM196 396z"/>
<path stroke="#647814" stroke-width="3.2" d="M297 321z"/>
<path stroke="#648c00" stroke-width="2" d="M178 387zM220 396zM197 277zM203 396zM164 306z"/>
<path stroke="#648c00" stroke-width="2.6" d="M301 316zM243 404zM217 400z"/>
<path stroke="#648c00" stroke-width="3.2" d="M289 299z"/>
<path stroke="#648c14" stroke-width="2" d="M293 375zM241 263zM220 406z"/>
<path stroke="#64b400" stroke-width="2.6" d="M167 294z"/>
<path stroke="#64b400" stroke-width="3.2" d="M178 289z"/>
<path stroke="#64b414" stroke-width="2" d="M275 265zM251 252zM189 383zM219 407zM280 395zM259 403zM289 280z"/>
<path stroke="#64b414" stroke-width="2.6" d="M295 369zM218 260zM292 283zM298 315zM163 287zM241 255zM239 250z"/>
<path stroke="#64b414" stroke-width="3.2" d="M180 298zM156 367z"/>
<path stroke="#64c814" stroke-width="4" d="M316 366zM187 264zM233 243z"/>
<path stroke="#781464" stroke-width="2" d="M66 280zM304 492zM312 491zM165 173zM59 298zM400 396zM403 351zM405 360zM241 503zM384 416zM392 400zM109 455zM379 432zM385 247z"/>
<path stroke="#781464" stroke-width="2.6" d="M80 252zM58 346zM371 437zM71 284zM381 418zM345 469zM73 386zM386 407zM180 494zM335 468z"/>
<path stroke="#781464" stroke-width="3.2" d="M72 268zM119 468zM279 500zM61 357zM65 369zM202 163zM397 276zM379 235zM108 454z"/>
<path stroke="#781478" stroke-width="2" d="M137 477z"/>
<path stroke="#781478" stroke-width="2.6" d="M282 172zM387 405z"/>
<path stroke="#781478" stroke-width="4" d="M398 318zM97 234zM405 326zM74 280zM103 223z"/>
<path stroke="#78148c" stroke-width="4" d="M397 304zM319 472zM170 490zM387 392zM75 290zM400 328zM378 260zM383 259z"/>
<path stroke="#782864" stroke-width="2" d="M160 172zM226 512zM76 419zM373 437z"/>
<path stroke="#782864" stroke-width="2.6" d="M155 496zM281 505zM128 189z"/>
<path stroke="#782864" stroke-width="3.2" d="M105 212zM314 494z"/>
<path stroke="#786414" stroke-width="2" d="M232 343zM216 329zM242 303zM218 336zM238 316zM252 341z"/>
<path stroke="#786414" stroke-width="2.6" d="M214 302z"/>
<path stroke="#786414" stroke-width="3.2" d="M231 337z"/>
<path stroke="#787800" stroke-width="2" d="M239 379zM271 304zM275 371zM200 340zM231 298zM290 314zM221 288zM255 364zM281 327zM233 333zM219 299z"/>
<path stroke="#787800" stroke-width="2.6" d="M177 337zM196 375zM273 314zM257 357zM261 302zM249 372zM287 336z"/>
<path stroke="#787800" stroke-width="3.2" d="M246 319zM270 314z"/>
<path stroke="#788c00" stroke-width="2" d="M201 388zM200 389zM282 300zM165 358zM191 374zM196 282zM187 283z"/>
<path stroke="#788c00" stroke-width="2.6" d="M278 291zM194 386zM287 309zM231 400zM256 276z"/>
<path stroke="#788c00" stroke-width="3.2" d="M270 287zM174 298zM173 318zM260 404z"/>
<path stroke="#78b400" stroke-width="2" d="M178 293zM210 391zM291 309zM187 385zM306 320zM245 271zM217 259zM161 330z"/>
<path stroke="#78b400" stroke-width="2.6" d="M207 399z"/>
<path stroke="#78b400" stroke-width="3.2" d="M223 393z"/>
<path stroke="#78c800" stroke-width="4" d="M210 400zM300 378zM208 401zM191 390zM236 258z"/>
<path stroke="#8c1428" stroke-width="2.6" d="M390 245zM121 196z"/>
<path stroke="#8c1478" stroke-width="4" d="M200 502zM57 344zM69 396zM281 167zM94 236zM254 160zM244 507zM116 458z"/>
<path stroke="#8c2864" stroke-width="4" d="M312 171zM384 235zM55 354zM88 227zM359 460z"/>
<path stroke="#8c7800" stroke-width="2" d="M236 324zM254 339zM198 328zM261 352zM263 346zM217 337z"/>
<path stroke="#8c7800" stroke-width="2.6" d="M228 302zM233 329zM235 290zM218 329zM217 300zM237 336z"/>
<path stroke="#8c7800" stroke-width="3.2" d="M230 293zM240 315zM207 325zM225 369z"/>
<path stroke="#8c8c00" stroke-width="2" d="M289 351zM274 345zM177 342zM193 362zM188 343zM209 281z"/>
<path stroke="#8c8c00" stroke-width="2.6" d="M175 309zM224 282zM197 341zM290 352z"/>
<path stroke="#8c8c00" stroke-width="3.2" d="M264 378zM239 379zM172 332zM183 316z"/>
<path stroke="#8ca000" stroke-width="2" d="M250 290zM293 332zM257 290z"/>
<path stroke="#8ca000" stroke-width="2.6" d="M265 284z"/>
<path stroke="#8ca000" stroke-width="3.2" d="M245 288z"/>
<path stroke="#8cb400" stroke-width="2" d="M297 312zM177 287zM209 401zM307 349zM192 381zM202 377zM212 279zM167 335z"/>
<path stroke="#8cb400" stroke-width="2.6" d="M171 324zM175 305zM231 268zM191 292zM281 289zM245 397z"/>
<path stroke="#8cb400" stroke-width="3.2" d="M296 341z"/>
<path stroke="#8cc800" stroke-width="4" d="M294 316zM273 394zM302 321z"/>
<path stroke="#a0a000" stroke-width="2" d="M181 343zM201 308zM265 344zM223 301zM250 347zM244 339zM206 344zM254 353zM196 320zM209 327zM225 307zM245 317zM211 308zM214 350zM201 344zM221 295zM210 342zM211 328zM255 326zM255 309zM238 364zM183 338zM215 357zM253 304z"/>
<path stroke="#a0a000" stroke-width="2.6" d="M263 311zM255 306zM235 298zM193 333zM262 331zM237 327zM189 315zM251 303zM275 360zM256 357zM215 311zM263 300zM237 360zM203 316zM238 293z"/>
<path stroke="#a0a000" stroke-width="3.2" d="M237 329zM254 365zM224 282zM209 311zM268 368zM198 362z"/>
<path stroke="#a0b400" stroke-width="2" d="M289 318zM290 291zM292 357zM184 292zM260 390zM251 273z"/>
<path stroke="#a0b400" stroke-width="2.6" d="M184 300zM252 272zM166 335zM292 352zM256 277zM190 282z"/>
<path stroke="#a0b400" stroke-width="3.2" d="M284 366zM270 366z"/>
<path stroke="#a0c800" stroke-width="4" d="M300 323z"/>
<path stroke="#a0dc00" stroke-width="4" d="M243 272zM254 390z"/>
<path stroke="#b4a000" stroke-width="2" d="M237 337zM222 343zM241 335zM208 338zM220 337zM197 351zM224 331z"/>
<path stroke="#b4a000" stroke-width="2.6" d="M240 362zM226 320zM227 337zM263 317z"/>
<path stroke="#b4b400" stroke-width="2" d="M253 386zM263 309zM183 340zM213 281zM258 323zM282 335zM263 288z"/>
<path stroke="#b4b400" stroke-width="2.6" d="M251 282zM180 354zM196 370z"/>
<path stroke="#b4b400" stroke-width="3.2" d="M187 323zM277 282z"/>
<path stroke="#b4c800" stroke-width="2" d="M198 298z"/>
<path stroke="#b4c800" stroke-width="2.6" d="M270 321z"/>
<path stroke="#b4dc00" stroke-width="4" d="M203 276zM293 341zM245 389zM298 342z"/>
<path stroke="#c8c800" stroke-width="2" d="M272 362zM197 365zM235 368zM234 312zM185 327zM231 289zM248 281zM263 309zM185 316zM264 367zM208 316zM252 316zM268 309z"/>
<path stroke="#c8c800" stroke-width="2.6" d="M260 337zM268 358zM279 320zM250 312zM249 368z"/>
<path stroke="#c8c800" stroke-width="3.2" d="M197 317zM249 310z"/>
<path stroke="#c8dc00" stroke-width="4" d="M288 318zM270 378zM272 291z"/>
<path stroke="#dcc800" stroke-width="2" d="M250 309zM196 329zM211 326zM212 353zM262 340zM197 355zM190 329zM252 319zM225 349zM234 308zM254 327z"/>
<path stroke="#dcc800" stroke-width="2.6" d="M259 338zM240 323zM263 306zM217 330zM248 293zM239 337zM276 354zM243 327zM242 333z"/>
<path stroke="#dcc800" stroke-width="3.2" d="M197 317zM218 335zM201 334zM247 307z"/>
<path stroke="#dcdc00" stroke-width="4" d="M189 330zM197 300zM244 372zM233 289zM196 365z"/>
<path stroke="#e61432" stroke-width="3" d="M414 354zM413 334zM414 343zM414 350zM414 346zM416 345zM415 337zM416 350zM411 346zM414 342zM413 342zM414 345z"/>
<path stroke="#f0dc00" stroke-width="4" d="M254 288zM274 348zM262 307zM258 311zM246 283zM210 327z"/>
<path stroke="#ffdc00" stroke-width="4" d="M213 341z"/>
</g></g>
<g clip-path="url(#ca2)"><g transform="scale(.5)" filter="url(#bl3)" fill="none" stroke-linecap="square">
<path stroke="#14143c" stroke-width="2" d="M204 952zM234 695zM365 811zM268 691z"/>
<path stroke="#14143c" stroke-width="2.8" d="M191 698zM349 760z"/>
<path stroke="#14283c" stroke-width="2" d="M119 782zM246 696zM186 936zM358 831zM360 805zM309 917zM149 913z"/>
<path stroke="#14283c" stroke-width="2.8" d="M135 755zM210 947zM118 777zM180 937z"/>
<path stroke="#142850" stroke-width="2" d="M272 697zM128 756zM339 897z"/>
<path stroke="#142850" stroke-width="2.8" d="M207 695z"/>
<path stroke="#143c3c" stroke-width="2" d="M176 918zM135 872zM145 752z"/>
<path stroke="#143c3c" stroke-width="2.8" d="M108 828zM297 712z"/>
<path stroke="#143c50" stroke-width="2" d="M255 696zM339 765zM362 808z"/>
<path stroke="#143c78" stroke-width="2" d="M173 713z"/>
<path stroke="#145050" stroke-width="2" d="M300 905zM118 835zM173 720zM116 839zM122 781zM192 722zM135 761zM153 903zM118 801zM241 706z"/>
<path stroke="#145050" stroke-width="2.8" d="M134 746zM321 746zM336 842z"/>
<path stroke="#145078" stroke-width="2" d="M357 823zM338 881z"/>
<path stroke="#145078" stroke-width="2.8" d="M206 942zM104 842z"/>
<path stroke="#146478" stroke-width="2" d="M341 875zM308 903zM321 773zM139 749z"/>
<path stroke="#146478" stroke-width="2.8" d="M342 874zM129 888zM119 857z"/>
<path stroke="#243228" stroke-width="2" d="M291 825zM158 791zM222 961zM350 857zM376 876zM163 758zM181 739zM244 791zM67 902zM106 891zM403 688zM278 636zM308 711zM219 933zM366 836zM229 698zM255 638zM141 740zM285 814zM86 887zM228 742zM205 763zM211 704zM343 904zM145 760zM260 870zM248 862zM241 628zM93 962zM227 854zM166 875zM374 760zM328 888zM27 845zM265 630zM149 644zM385 842zM334 998zM257 852zM178 964zM177 687zM131 889zM145 719z"/>
<path stroke="#28143c" stroke-width="2" d="M378 793zM99 775zM106 754zM110 883zM89 818zM376 838zM340 918zM175 694zM119 743zM221 685zM141 706zM191 696zM120 739zM365 799zM246 677zM105 811zM284 961zM255 674zM309 723zM158 940zM129 729zM100 857zM285 952zM281 679zM301 696z"/>
<path stroke="#28143c" stroke-width="2.8" d="M219 686zM246 968zM366 793zM294 941zM370 790zM366 809zM93 818zM99 769zM349 895zM363 778zM368 793zM238 953zM98 851z"/>
<path stroke="#281450" stroke-width="2" d="M288 695zM186 681zM131 914zM281 691zM137 731zM307 714zM100 837zM294 702zM325 713zM217 687zM366 795z"/>
<path stroke="#281450" stroke-width="2.8" d="M149 720zM323 921zM359 888zM357 754zM356 860zM205 685zM364 846zM367 787zM240 965zM141 921zM106 867z"/>
<path stroke="#282814" stroke-width="2" d="M254 785zM186 804zM249 827zM236 817zM262 760zM193 857zM262 889zM247 838zM197 888zM284 813zM238 784zM221 793zM240 854zM278 828zM297 848z"/>
<path stroke="#282850" stroke-width="2" d="M339 758zM333 741zM105 857zM315 918zM352 762z"/>
<path stroke="#282850" stroke-width="2.8" d="M347 870zM111 885zM158 723zM196 688z"/>
<path stroke="#282864" stroke-width="2" d="M322 715zM261 959zM350 882zM103 886z"/>
<path stroke="#282864" stroke-width="2.8" d="M252 695z"/>
<path stroke="#282878" stroke-width="2" d="M116 756zM371 814zM220 684zM361 834z"/>
<path stroke="#282878" stroke-width="2.8" d="M114 756zM346 759z"/>
<path stroke="#28288c" stroke-width="2.8" d="M353 867zM320 919z"/>
<path stroke="#282c2c" stroke-width="2" d="M154 1012zM364 864zM141 929zM233 782zM112 982zM244 890zM429 891zM152 635zM123 909zM231 927zM147 742zM151 805zM192 780zM140 698zM423 837zM374 920zM187 777zM304 794zM198 807zM59 762zM186 770zM302 841zM113 756zM133 716zM297 990zM341 849zM341 944zM371 921zM327 750zM235 738zM399 694zM116 753zM294 917zM393 843zM116 700zM400 764zM90 857zM333 740zM256 934zM68 872zM192 852zM332 986zM307 757zM245 897zM189 988zM294 676zM253 865zM95 711zM353 954zM308 853z"/>
<path stroke="#283c14" stroke-width="2" d="M236 905zM149 844zM211 732zM317 748zM238 779zM207 865zM267 885zM228 764zM252 769zM211 752zM242 852zM295 793zM186 769zM283 827z"/>
<path stroke="#283c14" stroke-width="2.8" d="M149 869zM277 916zM152 851z"/>
<path stroke="#283c14" stroke-width="4" d="M312 871zM310 776z"/>
<path stroke="#283c78" stroke-width="2" d="M266 943z"/>
<path stroke="#283c78" stroke-width="2.8" d="M246 948zM255 951zM304 932zM242 944zM189 940zM118 767z"/>
<path stroke="#283ca0" stroke-width="2" d="M300 932zM107 866z"/>
<path stroke="#283ca0" stroke-width="2.8" d="M197 697z"/>
<path stroke="#285014" stroke-width="2" d="M199 723zM171 748zM316 818zM273 911zM311 785zM138 820zM152 827zM327 828zM192 738zM257 733zM159 879z"/>
<path stroke="#285014" stroke-width="2.8" d="M244 901zM319 839zM224 717zM325 809zM142 843zM223 905zM143 802zM225 910zM296 764zM307 887zM249 744z"/>
<path stroke="#285014" stroke-width="4" d="M201 916zM146 823zM158 785zM140 844zM203 897zM169 776z"/>
<path stroke="#2850a0" stroke-width="2" d="M331 748zM234 697zM359 804zM178 938z"/>
<path stroke="#2850a0" stroke-width="2.8" d="M238 694zM213 698z"/>
<path stroke="#2864a0" stroke-width="2" d="M352 773z"/>
<path stroke="#2864a0" stroke-width="2.8" d="M344 774z"/>
<path stroke="#2878a0" stroke-width="2" d="M324 728zM127 870z"/>
<path stroke="#2878a0" stroke-width="2.8" d="M117 789z"/>
<path stroke="#288c8c" stroke-width="2" d="M320 760zM245 935zM183 726zM247 940zM124 794z"/>
<path stroke="#288c8c" stroke-width="2.8" d="M247 924zM130 878zM308 902zM331 858z"/>
<path stroke="#2c2c3c" stroke-width="2" d="M213 862zM219 864zM233 783zM175 816zM300 948zM396 729zM149 814zM49 712zM396 851zM186 828zM344 731zM48 758zM248 753zM98 654zM166 697zM268 899zM182 812zM236 932zM90 847zM289 921zM195 817zM256 794zM86 910zM230 629zM324 635zM80 761zM268 854zM288 845zM137 956zM268 864zM102 748zM337 724zM186 925zM345 656zM321 826zM196 711zM396 839zM192 787zM430 752zM367 894zM321 910zM175 917zM199 732zM371 806zM292 822zM235 890zM305 890zM142 755zM216 788zM230 779zM203 812zM160 885zM309 754zM80 968zM402 888zM251 608zM145 814zM324 889zM247 625zM355 785zM277 814z"/>
<path stroke="#2e283a" stroke-width="2" d="M295 854zM102 703zM215 855zM328 762zM201 654zM299 799zM282 786zM391 917zM264 801zM346 742zM130 827zM242 880zM431 768zM172 926zM202 808zM131 737zM257 693zM305 783zM158 877zM129 818zM244 857zM278 795zM160 927zM285 848zM191 954zM79 755zM171 839zM279 807zM68 827zM254 845zM194 731zM218 862zM291 909zM68 824zM323 673zM200 970zM132 825zM250 689zM309 822zM157 774zM177 624zM235 686zM181 839zM203 863zM282 794zM147 936zM279 776zM105 776zM163 806z"/>
<path stroke="#3a1a30" stroke-width="2" d="M60 750zM231 630zM360 893zM227 730zM286 791zM303 959zM125 695zM140 739zM255 783zM132 794zM419 876zM258 847zM351 861zM191 836zM125 914zM156 813zM263 992zM207 775zM426 815zM201 829zM302 932zM232 749zM229 868zM213 882zM229 881zM323 865zM68 852zM229 981zM291 896zM217 725zM289 935zM383 965zM144 1013zM197 955zM115 946zM247 867zM217 849zM238 971zM338 916zM361 844zM218 744zM145 785zM145 901zM330 937zM244 972zM270 812zM210 638zM257 782zM116 810zM190 942zM263 654zM175 999zM269 717zM149 646zM432 789zM201 846zM318 985z"/>
<path stroke="#3c143c" stroke-width="2" d="M373 890zM64 829zM303 683zM390 805zM298 959zM157 679zM79 860zM300 680zM226 972zM392 873zM81 884zM370 935zM263 670zM191 978z"/>
<path stroke="#3c143c" stroke-width="2.8" d="M292 669zM308 684zM113 929zM118 705zM191 981zM86 869zM339 924zM345 922zM220 659zM321 948zM73 821zM257 663zM137 927zM258 670zM126 708z"/>
<path stroke="#3c1450" stroke-width="2" d="M256 962zM263 670zM309 959zM130 712zM163 947zM184 957zM121 926z"/>
<path stroke="#3c1450" stroke-width="2.8" d="M383 801zM378 842zM388 808zM153 943zM328 704zM96 854zM80 847zM269 676zM384 834z"/>
<path stroke="#3c1464" stroke-width="2" d="M382 811zM369 785zM241 957zM150 936zM353 746zM287 694zM93 861zM273 955zM316 711zM112 899zM106 744zM98 752z"/>
<path stroke="#3c1464" stroke-width="2.8" d="M345 740zM224 673zM190 959zM141 720zM94 807zM364 857zM100 851z"/>
<path stroke="#3c148c" stroke-width="2.8" d="M365 832z"/>
<path stroke="#3c288c" stroke-width="2" d="M100 854zM222 966zM96 827zM132 729zM352 744zM243 694zM175 942zM347 874zM352 754zM356 864zM279 944zM111 886z"/>
<path stroke="#3c288c" stroke-width="2.8" d="M87 787zM269 953zM151 924zM190 687zM362 867zM100 800zM359 854zM230 960zM254 952z"/>
<path stroke="#3c3c14" stroke-width="2" d="M200 759zM239 803zM183 832zM231 817zM261 863zM154 835zM232 880zM197 848zM285 872zM187 849zM269 753zM219 770zM268 810zM207 784zM284 862zM238 895zM289 819zM266 827zM181 867zM241 788zM209 880zM233 783zM199 797zM190 785zM223 811zM262 887zM220 876zM160 812zM226 852zM298 801zM269 835zM268 854zM230 875zM293 796zM281 816zM281 770zM211 756zM245 854zM278 796zM160 853zM218 893zM279 806zM275 865zM172 830zM183 853zM298 789zM187 873zM190 854zM210 796zM240 754zM192 784zM225 888z"/>
<path stroke="#3c5014" stroke-width="2" d="M283 881zM275 894zM263 879zM287 766zM239 752zM222 746zM163 838zM257 831zM237 864zM239 893zM273 810zM247 745zM265 871zM297 795zM289 784zM302 858zM219 748zM185 829zM190 824zM234 865zM280 820zM198 766z"/>
<path stroke="#3c5014" stroke-width="2.8" d="M166 894zM226 915zM298 873zM158 872zM231 916zM325 800z"/>
<path stroke="#3c5014" stroke-width="4" d="M154 844zM154 857z"/>
<path stroke="#3c6414" stroke-width="2" d="M143 839zM298 761zM161 798zM254 743zM131 821zM243 902zM222 746zM137 847zM273 736zM285 769zM318 793zM297 765zM313 779zM157 865zM281 899zM301 868zM265 909zM183 749zM160 891zM286 903zM185 885zM172 742zM147 865zM299 763zM264 913zM262 747zM314 783zM242 921zM273 884z"/>
<path stroke="#3c6414" stroke-width="2.8" d="M202 905zM203 725zM320 833zM316 816zM300 751zM225 904zM255 739zM146 793zM270 749zM298 762zM144 786zM257 905zM151 796zM250 901zM320 818zM150 839zM274 738zM224 904zM235 736zM138 867zM188 728zM289 885zM160 783zM158 854zM226 728zM287 877zM145 857zM249 907zM321 827zM311 845zM251 740zM320 816z"/>
<path stroke="#3c6414" stroke-width="4" d="M297 736zM170 880zM189 743zM213 735zM167 883zM179 904zM247 745zM164 874zM144 858zM315 817zM165 902zM182 893zM157 811zM168 784z"/>
<path stroke="#3c7814" stroke-width="2" d="M319 853zM148 792zM229 718zM147 796zM270 728zM246 905zM159 790zM154 819zM313 764zM213 913zM282 886zM272 897zM314 807zM237 739z"/>
<path stroke="#3c7814" stroke-width="2.8" d="M140 800zM147 806zM294 879zM146 808zM300 766zM175 746zM169 759zM319 797zM247 906z"/>
<path stroke="#3c7814" stroke-width="4" d="M320 795zM159 869zM208 901zM157 861zM149 782z"/>
<path stroke="#50143c" stroke-width="2" d="M122 933zM406 786zM373 726zM268 977z"/>
<path stroke="#50143c" stroke-width="2.8" d="M369 726zM79 896zM353 721zM377 756zM64 807z"/>
<path stroke="#501450" stroke-width="2" d="M138 701z"/>
<path stroke="#501450" stroke-width="2.8" d="M318 947zM293 676z"/>
<path stroke="#501464" stroke-width="2" d="M332 705zM235 674zM244 971z"/>
<path stroke="#501464" stroke-width="2.8" d="M330 709zM328 712z"/>
<path stroke="#50148c" stroke-width="2" d="M137 928zM182 953zM282 948zM286 952zM94 846zM100 857zM154 934z"/>
<path stroke="#50148c" stroke-width="2.8" d="M118 910zM213 686zM323 709z"/>
<path stroke="#505014" stroke-width="2" d="M201 757zM208 808zM222 846zM167 856zM216 750zM275 806zM199 771zM190 799zM233 843zM303 838zM202 798zM300 806zM305 790zM261 754zM219 759zM256 802zM167 861zM248 801zM163 787zM257 779zM177 792zM232 805zM213 837zM303 812z"/>
<path stroke="#506414" stroke-width="2" d="M241 786zM191 761zM206 837zM197 830zM198 827zM234 743zM209 746zM223 850zM292 788zM173 838zM300 840zM263 829zM212 778zM250 897z"/>
<path stroke="#507814" stroke-width="2" d="M245 914zM150 846zM150 859zM277 901zM304 773zM209 730zM141 821zM322 833zM310 785zM143 785zM188 756zM325 847z"/>
<path stroke="#507814" stroke-width="2.8" d="M318 789zM268 909zM316 806zM263 730zM324 823zM318 871zM236 921zM194 908zM226 910zM325 853zM291 763z"/>
<path stroke="#507814" stroke-width="4" d="M226 912zM302 755zM329 826zM310 791z"/>
<path stroke="#508c14" stroke-width="2" d="M144 833zM223 913zM185 903zM270 913zM272 903z"/>
<path stroke="#508c14" stroke-width="2.8" d="M137 807zM282 881zM313 815z"/>
<path stroke="#508c14" stroke-width="4" d="M310 772zM155 809zM305 841zM130 821z"/>
<path stroke="#50a014" stroke-width="2" d="M149 831zM138 851zM170 900zM154 864zM144 823z"/>
<path stroke="#50a014" stroke-width="2.8" d="M308 878zM239 721zM183 889zM303 753zM211 909zM244 909z"/>
<path stroke="#50a014" stroke-width="4" d="M261 737zM321 793z"/>
<path stroke="#50c828" stroke-width="2" d="M193 736zM159 878zM155 870zM168 801zM134 788zM291 751zM272 892zM307 786zM306 788z"/>
<path stroke="#50c828" stroke-width="2.8" d="M289 896zM306 861zM199 887zM306 757zM247 730zM315 862zM229 908zM293 877z"/>
<path stroke="#50c828" stroke-width="4" d="M280 745zM157 783zM137 825zM321 770z"/>
<path stroke="#641450" stroke-width="2" d="M174 663zM271 672zM110 721zM126 928zM95 736z"/>
<path stroke="#641464" stroke-width="2" d="M148 700zM286 675zM87 787zM328 713zM86 776zM265 662zM212 676z"/>
<path stroke="#641464" stroke-width="2.8" d="M275 668zM84 840zM311 954zM343 708z"/>
<path stroke="#64148c" stroke-width="2" d="M175 690zM181 678zM103 884zM92 792zM211 672zM357 747zM377 860zM203 681z"/>
<path stroke="#646414" stroke-width="2" d="M191 812zM164 811zM240 834zM278 869zM192 865zM257 877zM179 830zM264 892zM268 761zM272 755zM290 873zM239 763zM158 804zM238 762zM176 810z"/>
<path stroke="#646414" stroke-width="2.8" d="M258 809zM244 829z"/>
<path stroke="#648c14" stroke-width="2" d="M157 758z"/>
<path stroke="#648c14" stroke-width="2.8" d="M237 735zM325 799zM212 726zM205 908zM308 870zM139 802zM154 779z"/>
<path stroke="#648c14" stroke-width="4" d="M177 745z"/>
<path stroke="#64a014" stroke-width="2" d="M278 883zM293 782zM243 727zM187 895zM148 785zM154 791zM333 810zM146 870zM310 896zM148 829zM297 751zM220 727zM216 899z"/>
<path stroke="#64a014" stroke-width="2.8" d="M156 842zM279 741zM228 726zM161 761zM163 779zM199 907z"/>
<path stroke="#64a014" stroke-width="4" d="M225 734zM322 808z"/>
<path stroke="#781450" stroke-width="2" d="M342 709zM345 938zM251 646zM200 656zM107 936zM391 761z"/>
<path stroke="#781450" stroke-width="2.8" d="M64 827z"/>
<path stroke="#781478" stroke-width="2" d="M103 724zM297 675zM79 826zM384 852z"/>
<path stroke="#78148c" stroke-width="2" d="M389 845zM387 790zM83 852zM135 948z"/>
<path stroke="#78148c" stroke-width="2.8" d="M100 766z"/>
<path stroke="#785014" stroke-width="2.8" d="M239 848zM249 800zM233 822z"/>
<path stroke="#786414" stroke-width="2" d="M255 804zM250 809z"/>
<path stroke="#786414" stroke-width="2.8" d="M241 821z"/>
<path stroke="#78a014" stroke-width="2" d="M166 782zM284 737zM140 844z"/>
<path stroke="#78a014" stroke-width="2.8" d="M247 910zM335 814zM323 798zM199 741zM150 773zM185 882z"/>
<path stroke="#78a014" stroke-width="4" d="M222 911zM235 733z"/>
<path stroke="#78c814" stroke-width="2" d="M153 811zM302 869zM321 818zM303 781zM221 916zM151 766zM304 764zM263 731zM295 754zM144 831zM188 907z"/>
<path stroke="#78c814" stroke-width="2.8" d="M167 755zM173 734zM247 909zM170 744zM142 824zM317 824zM167 868zM241 899zM301 884zM313 859zM225 899zM150 873z"/>
<path stroke="#78c814" stroke-width="4" d="M259 893zM149 823zM183 750zM182 889z"/>
<path stroke="#78dc14" stroke-width="3.2" d="M323 800zM321 801zM322 795zM320 802zM317 803zM246 906zM251 911zM252 908zM247 906zM249 910zM198 722zM197 727zM199 722zM198 727zM198 721zM191 746zM183 747zM190 745zM185 747zM183 745zM284 883zM290 880zM287 883zM286 882zM286 883zM201 734zM203 736zM200 739zM203 735zM201 740zM303 866zM301 870zM304 866zM304 872zM305 865zM312 854zM318 856zM312 855zM315 855zM315 855zM153 814zM150 818zM153 816zM153 814zM151 813zM170 895zM175 888zM171 889zM168 896zM168 887zM238 915zM235 917zM237 913zM234 918zM237 916zM147 823zM144 820zM148 820zM148 816zM143 819zM195 746zM195 745zM193 737zM194 741zM197 743zM154 791zM156 793zM160 793zM158 789zM156 788z"/>
<path stroke="#8c1478" stroke-width="2" d="M209 656zM261 984zM198 983zM398 789zM223 660zM197 967zM372 881zM368 916z"/>
<path stroke="#8c1478" stroke-width="2.8" d="M141 957zM382 876zM400 783z"/>
<path stroke="#8cc800" stroke-width="2" d="M255 887zM193 898zM153 780zM149 881zM311 754z"/>
<path stroke="#8cc800" stroke-width="4" d="M318 791zM140 826zM184 883zM301 766z"/>
<path stroke="#a0a014" stroke-width="2" d="M248 822zM247 821z"/>
<path stroke="#b48c14" stroke-width="2" d="M267 817zM240 836z"/>
<path stroke="#b4a014" stroke-width="2" d="M249 806zM258 827zM263 796z"/>
<path stroke="#c8b414" stroke-width="2" d="M243 799zM258 816zM264 807z"/>
<path stroke="#c8b414" stroke-width="2.8" d="M250 815z"/>
<path stroke="#dca014" stroke-width="2" d="M257 831z"/>
<path stroke="#dca014" stroke-width="2.8" d="M258 801zM249 816z"/>
<path stroke="#dcc814" stroke-width="2" d="M249 820zM246 824zM247 811zM245 812zM233 810z"/>
<path stroke="#dcc814" stroke-width="2.8" d="M258 822z"/>
</g></g>
<defs>
<radialGradient id="gbg" cx="190.4" cy="93.5" r="62" gradientUnits="userSpaceOnUse"><stop offset="0" stop-color="#8a8a8a"/><stop offset="0.485" stop-color="#8c8c8c"/><stop offset="0.51" stop-color="#6c6c6c"/><stop offset="0.56" stop-color="#4a4a4a"/><stop offset="0.64" stop-color="#333434"/><stop offset="0.78" stop-color="#262828"/><stop offset="1" stop-color="#1d1f1f"/></radialGradient>
<radialGradient id="gdisc" cx="190.4" cy="93.5" r="29.8" gradientUnits="userSpaceOnUse"><stop offset="0" stop-color="#7c7c7c"/><stop offset="0.6" stop-color="#7e7e7e"/><stop offset="0.82" stop-color="#8c8c8c"/><stop offset="0.92" stop-color="#a8a8a8"/><stop offset="0.97" stop-color="#c4c4c4"/><stop offset="1" stop-color="#cacaca"/></radialGradient>
<filter id="bl1" x="-20%" y="-20%" width="140%" height="140%"><feGaussianBlur stdDeviation="0.9"/></filter>
</defs>
<rect x="146.1" y="51.2" width="88.7" height="87.5" fill="#fff"/>
<rect x="148.1" y="51.2" width="86.2" height="85.4" fill="url(#gbg)"/>
<circle cx="190.4" cy="93.5" r="29.6" fill="url(#gdisc)"/>
<circle cx="190.4" cy="93.5" r="29.2" fill="none" stroke="#cbcbcb" stroke-width="2.0" filter="url(#bl1)"/>
<path d="M180 66.3A29 29 0 0 1 208 70.5" fill="none" stroke="#fff" stroke-width="2.6" stroke-linecap="round" filter="url(#bl1)"/>
<rect x="214" y="131.1" width="18.1" height="4.9" fill="#fff"/>
<rect x="148.8" y="275.3" width="80.5" height="5.3" fill="#fff"/>
<rect x="148.8" y="514.9" width="80.5" height="5.3" fill="#fff"/>
<rect x="148.0" y="289.6" width="87.8" height="92.5" fill="#fff"/>
<g stroke="#000" stroke-width="1.3" fill="none">
<path d="M175.6 291V349.1H234.6"/>
<path d="M175.6 300.6h2.2M175.6 324.8h2.2M187.8 349.1v-2.2M200.2 349.1v-2.2M212.4 349.1v-2.2M224.4 349.1v-2.2"/>
</g>
<defs><linearGradient id="gcv" x1="180" y1="0" x2="236" y2="0" gradientUnits="userSpaceOnUse"><stop offset="0" stop-color="#0c93c9" stop-opacity="0.1"/><stop offset="0.2" stop-color="#0c93c9"/><stop offset="0.8" stop-color="#0c93c9"/><stop offset="1" stop-color="#0c93c9" stop-opacity="0.15"/></linearGradient></defs>
<path d="M184.1 348.1C185.8 347.5 190.8 346.1 194.2 344.3C197.6 342.5 201.3 340.0 204.4 337.5C207.5 335.0 210.1 332.3 212.9 329.1C215.7 325.9 218.9 321.8 221.4 318.1C223.9 314.4 226.0 310.7 228.1 307.0C230.2 303.3 233.1 297.8 234.1 296.0" fill="none" stroke="url(#gcv)" stroke-width="4.3" stroke-linecap="round"/>
<text transform="translate(171.60 307.60)" font-size="13" text-anchor="end">1</text>
<text transform="translate(171.60 354.30)" font-size="13" text-anchor="end">0</text>
<text transform="translate(176.70 362.60)" font-size="13" text-anchor="middle">0</text>
<text transform="translate(200.20 362.60)" font-size="13" text-anchor="middle">1</text>
<text transform="translate(224.60 362.60)" font-size="13" text-anchor="middle">2</text>
<text transform="translate(183.86 377.30) scale(1.0375 1)" font-size="14.3">ρ (µm)</text>
<text transform="translate(162.20 339.60) rotate(-90) scale(1.0050 1)" font-size="14.3"><tspan font-style="italic">z</tspan> (µm)</text>
<defs><linearGradient id="gcb" x1="0" y1="0" x2="1" y2="0">
<stop offset="0.000" stop-color="#fde228"/>
<stop offset="0.025" stop-color="#f9e11f"/>
<stop offset="0.050" stop-color="#f5e115"/>
<stop offset="0.075" stop-color="#f1e00c"/>
<stop offset="0.100" stop-color="#e0dc08"/>
<stop offset="0.125" stop-color="#cdd805"/>
<stop offset="0.150" stop-color="#bad402"/>
<stop offset="0.175" stop-color="#a7cf00"/>
<stop offset="0.200" stop-color="#98cb03"/>
<stop offset="0.225" stop-color="#89c605"/>
<stop offset="0.250" stop-color="#7ac208"/>
<stop offset="0.275" stop-color="#6cbd0c"/>
<stop offset="0.300" stop-color="#64bb17"/>
<stop offset="0.325" stop-color="#5cb822"/>
<stop offset="0.350" stop-color="#53b52e"/>
<stop offset="0.375" stop-color="#5fbe4a"/>
<stop offset="0.400" stop-color="#78d072"/>
<stop offset="0.425" stop-color="#8ada92"/>
<stop offset="0.450" stop-color="#96e0ad"/>
<stop offset="0.475" stop-color="#a2e5c7"/>
<stop offset="0.500" stop-color="#a0e3d8"/>
<stop offset="0.525" stop-color="#87d6dc"/>
<stop offset="0.550" stop-color="#6ec8e0"/>
<stop offset="0.575" stop-color="#5eb1d7"/>
<stop offset="0.600" stop-color="#5392c7"/>
<stop offset="0.625" stop-color="#4874b7"/>
<stop offset="0.650" stop-color="#4857ad"/>
<stop offset="0.675" stop-color="#4a39a5"/>
<stop offset="0.700" stop-color="#4c279f"/>
<stop offset="0.725" stop-color="#4f269e"/>
<stop offset="0.750" stop-color="#52259d"/>
<stop offset="0.775" stop-color="#54239b"/>
<stop offset="0.800" stop-color="#601e9f"/>
<stop offset="0.825" stop-color="#6e18a3"/>
<stop offset="0.850" stop-color="#7c12a8"/>
<stop offset="0.875" stop-color="#8b16aa"/>
<stop offset="0.900" stop-color="#9a21aa"/>
<stop offset="0.925" stop-color="#aa2caa"/>
<stop offset="0.950" stop-color="#b937aa"/>
<stop offset="0.975" stop-color="#c03eaa"/>
<stop offset="1.000" stop-color="#c846aa"/>
</linearGradient></defs>
<rect x="31.3" y="529.6" width="166.4" height="22.0" fill="url(#gcb)" stroke="#000" stroke-width="1.3"/>
<text transform="translate(22.84 580.80) scale(1.0105 1)" font-size="30">0</text>
<text transform="translate(88.77 580.80) scale(0.9843 1)" font-size="30">500</text>
<text transform="translate(164.73 580.80) scale(0.9660 1)" font-size="30">1000</text>
<text transform="translate(77.94 612.20) scale(0.9533 1)" font-size="30"><tspan font-style="italic">z</tspan> (nm)</text>
<text transform="translate(-1.00 31.00)" font-size="43" font-weight="bold">a</text>
<text transform="translate(276.20 30.80)" font-size="42" font-weight="bold">b</text>
<text transform="translate(850.50 31.00)" font-size="43" font-weight="bold">c</text>
<clipPath id="cb1"><rect x="383.0" y="60.6" width="424.9" height="235.2"/></clipPath>
<clipPath id="cb2"><rect x="383.0" y="295.8" width="424.9" height="234.6"/></clipPath>
<path d="M383.0 249.0h3.2M594.3 249.0h3.2M383.0 202.1h5.0M594.3 202.1h5.0M383.0 155.3h3.2M594.3 155.3h3.2M383.0 108.4h5.0M594.3 108.4h5.0M383.0 61.6h5.0M594.3 61.6h5.0M404.1 295.8v-3.2M425.3 295.8v-3.2M446.4 295.8v-3.2M467.5 295.8v-3.2M488.6 295.8v-5.0M509.8 295.8v-3.2M530.9 295.8v-3.2M552.0 295.8v-3.2M573.2 295.8v-3.2M594.3 295.8v-5.0M383.0 483.5h3.2M594.3 483.5h3.2M383.0 436.6h5.0M594.3 436.6h5.0M383.0 389.6h3.2M594.3 389.6h3.2M383.0 342.7h5.0M594.3 342.7h5.0M383.0 295.8h5.0M594.3 295.8h5.0M404.1 530.4v-3.2M425.3 530.4v-3.2M446.4 530.4v-3.2M467.5 530.4v-3.2M488.6 530.4v-5.0M509.8 530.4v-3.2M530.9 530.4v-3.2M552.0 530.4v-3.2M573.2 530.4v-3.2M594.3 530.4v-5.0M611.9 295.8v-3.2M629.6 295.8v-5.0M647.2 295.8v-3.2M664.8 295.8v-5.0M682.5 295.8v-3.2M700.1 295.8v-5.0M717.7 295.8v-3.2M735.4 295.8v-5.0M753.0 295.8v-3.2M770.6 295.8v-5.0M788.3 295.8v-3.2M805.9 295.8v-5.0M629.6 530.4v-3.2M664.8 530.4v-5.0M700.1 530.4v-3.2M735.4 530.4v-5.0M770.6 530.4v-3.2M805.9 530.4v-5.0" fill="none" stroke="#000" stroke-width="2"/>
<filter id="bl2" x="-2%" y="-2%" width="104%" height="104%"><feGaussianBlur stdDeviation="0.8"/></filter>
<g clip-path="url(#cb1)">
<g transform="scale(.5)" filter="url(#bl2)" fill="none" stroke="#1c1c1c" stroke-opacity="0.118" stroke-width="8.2" stroke-linecap="round"><path d="M1045 491zM881 174zM880 198zM929 176zM848 490zM831 365zM845 311zM844 582zM832 436zM813 252zM827 495zM883 535zM880 328zM900 589zM811 437zM893 279zM783 504zM855 230zM844 276zM935 181zM789 545zM904 384zM857 191zM840 314zM815 213zM970 438zM897 302zM932 230zM871 200zM842 349zM827 429zM911 241zM860 244zM875 317zM866 310zM846 523zM922 311zM887 126zM868 496zM862 406zM957 141zM887 147zM805 382zM983 263zM855 460zM861 581zM933 538zM821 355zM916 433zM1023 434zM859 225zM886 472zM930 485zM1000 326zM969 544zM945 371zM882 392zM825 143zM967 318zM914 579zM861 246zM855 507zM927 152zM822 186zM831 460zM791 244zM848 137zM1177 192zM824 491zM846 336zM799 484zM937 234zM878 215zM932 475zM1095 550zM789 274zM882 556zM797 308zM823 143zM825 265zM819 520zM789 574zM911 227zM786 124zM796 512zM802 371zM848 355zM825 519zM881 249zM902 219zM963 331zM808 254zM888 405zM802 132zM956 161zM1089 471zM915 280zM819 299zM891 495zM830 445zM1032 315zM926 425zM854 257zM872 440zM806 156zM905 372zM830 554zM1078 408zM946 449zM828 128zM807 210zM849 198zM834 387zM947 488zM842 453zM992 271zM900 408zM868 171zM889 442zM853 296zM852 176zM994 280zM821 538zM975 366zM784 150zM897 222zM869 333zM961 438zM792 572zM967 152zM859 500zM916 254zM993 585zM789 410zM791 333zM790 457zM827 158zM911 456zM974 500zM803 153zM861 441zM833 420zM816 381zM959 363zM947 553zM980 498zM890 446zM1153 376zM861 274zM823 591zM948 241zM792 570zM932 503zM888 395zM855 497zM876 585zM805 178zM795 331zM812 503zM1074 450zM935 142zM970 193zM826 315zM860 138zM992 333zM815 369zM874 277zM784 546zM837 415zM825 528zM930 362zM897 275zM827 560zM1090 126zM924 335zM870 226zM950 130zM795 388zM911 429zM818 435zM864 426zM960 225zM933 132zM831 414zM940 499zM840 258zM814 398zM825 157zM888 579zM792 470zM875 310zM1130 591zM946 212zM898 565zM893 388zM827 248zM898 429zM909 518zM828 444zM797 448zM811 576zM812 167zM848 183zM943 499zM916 269zM893 465zM922 409zM984 174zM899 532zM913 333zM945 476zM961 367zM793 414zM967 216zM826 590zM879 319zM863 305zM832 444zM792 393zM893 491zM818 465zM847 487zM824 291zM939 224zM945 225zM871 168zM896 524zM817 541zM912 132zM923 240zM799 564zM1142 412zM911 454zM842 404zM1001 140zM985 211zM782 585zM993 348zM806 575zM891 507zM931 382zM866 182zM993 562zM788 146zM887 201zM941 393zM975 518zM914 442zM979 158zM845 471zM799 488zM795 284zM847 141zM950 163zM908 376zM919 545zM819 129zM907 368zM946 423zM936 294zM814 285zM897 455zM786 509zM849 274zM818 273zM806 568zM824 423zM790 192zM849 558zM854 434zM795 505zM969 516zM935 571zM859 203zM987 566zM792 234zM797 423zM907 336zM900 505zM875 557zM859 431zM1137 282zM958 447zM880 465zM936 490zM816 250zM822 146zM857 487zM889 407zM805 181zM830 451zM895 159zM881 125zM794 201zM866 449zM884 133zM890 230zM962 406zM875 548zM876 475zM896 178zM866 328zM951 587zM833 359zM905 170zM930 133zM1012 405zM985 411zM873 259zM913 468zM965 331zM871 158zM793 153zM803 182zM925 288zM950 141zM1027 587zM854 464zM910 233zM900 235zM801 174zM813 296zM785 519zM927 330zM789 420zM976 268zM841 589zM864 318zM930 431zM874 235zM797 126zM954 282zM805 528zM877 173zM868 164zM940 188zM796 498zM869 239zM860 478zM868 408zM898 252zM863 417zM870 306zM812 196zM888 493zM876 526zM964 253zM1122 138zM959 217zM959 472zM882 371zM854 197zM817 339zM856 278zM881 520zM868 501zM821 235zM827 172zM789 468zM951 285zM1008 507zM810 175zM824 372zM882 282zM817 574zM864 155zM802 184zM858 287zM946 511zM889 373zM959 179zM926 276zM894 309zM835 132zM800 432zM894 357zM916 322zM851 499zM1122 371zM859 512zM928 337zM799 287zM803 439zM946 306zM824 208zM897 535zM935 513zM938 194zM899 348zM806 448zM850 396zM812 544zM912 188zM861 509zM1000 172zM822 423zM857 138zM960 431zM911 333zM870 202zM979 179zM857 330zM876 237zM825 557zM804 427zM839 480zM950 287zM825 134zM840 288zM941 586zM797 348zM863 515zM849 333zM823 298zM868 150zM949 543zM893 372zM923 332zM832 272zM837 226zM867 567zM817 304zM806 125zM802 125zM815 125zM845 123zM873 123zM791 126zM815 123zM801 126zM787 123zM790 123zM802 125zM788 123zM812 123zM812 125zM827 123zM786 123z"/><path d="M791 288zM857 359zM790 449zM902 229zM832 551zM835 481zM1019 390zM807 200zM949 363zM906 166zM920 232zM893 230zM841 461zM860 180zM789 344zM956 546zM1030 141zM852 373zM824 261zM841 146zM1005 542zM838 170zM887 338zM898 361zM1059 174zM894 197zM788 461zM925 225zM816 139zM916 146zM943 189zM823 546zM824 358zM881 178zM808 160zM991 296zM800 126zM788 406zM846 230zM821 161zM871 413zM871 289zM929 388zM929 424zM827 337zM1080 514zM917 350zM1028 502zM860 125zM939 431zM1066 166zM786 513zM1047 475zM892 328zM864 501zM1048 432zM847 310zM874 528zM913 506zM950 475zM858 591zM816 544zM790 272zM927 299zM809 249zM825 343zM956 345zM963 211zM929 255zM906 145zM841 319zM840 214zM951 155zM866 470zM914 146zM849 510zM829 220zM883 198zM835 356zM885 143zM881 499zM824 489zM814 300zM931 142zM801 415zM885 204zM900 519zM820 432zM1152 266zM916 195zM796 335zM813 298zM845 535zM933 425zM966 130zM859 249zM821 267zM836 179zM891 507zM975 354zM848 182zM782 166zM820 419zM920 195zM881 335zM829 459zM790 535zM938 324zM836 361zM843 172zM802 424zM959 405zM938 182zM908 529zM802 577zM794 425zM982 390zM889 495zM786 355zM870 250zM952 148zM797 417zM845 223zM810 536zM825 481zM806 383zM828 225zM790 589zM809 394zM1003 242zM881 507zM885 179zM899 338zM1149 436zM872 257zM1141 500zM804 274zM880 457zM868 492zM787 308zM797 377zM1108 139zM957 288zM827 271zM929 380zM873 406zM796 551zM921 173zM786 325zM855 148zM881 481zM880 464zM977 277zM911 177zM903 202zM786 154zM955 193zM793 412zM921 383zM808 288zM961 218zM859 390zM789 541zM918 385zM849 241zM795 248zM842 487zM967 418zM873 208zM784 161zM924 453zM877 343zM904 277zM869 343zM884 521zM813 322zM975 297zM868 501zM838 587zM858 405zM867 297zM914 237zM808 535zM802 393zM882 203zM931 277zM857 295zM1004 282zM866 147zM865 395zM852 515zM796 583zM866 370zM970 341zM895 547zM860 170zM966 480zM1150 325zM872 570zM789 244zM875 299zM814 590zM1067 280zM807 500zM1002 228zM1010 440zM873 565zM795 448zM893 517zM848 587zM879 323zM902 203zM884 188zM830 277zM936 435zM850 306zM822 478zM873 140zM799 310zM808 177zM789 391zM820 424zM920 547zM832 195zM840 309zM838 434zM830 353zM907 168zM907 396zM866 475zM867 326zM934 564zM865 144zM867 276zM812 486zM793 516zM829 239zM908 231zM822 587zM791 560zM931 540zM1020 281zM976 385zM928 537zM902 523zM961 410zM979 450zM845 363zM844 344zM864 235zM904 263zM891 405zM940 194zM951 545zM853 547zM914 565zM840 576zM800 426zM831 485zM1147 575zM863 186zM804 566zM939 447zM827 159zM860 548zM907 499zM994 264zM1016 331zM821 394zM867 529zM809 311zM1029 279zM1023 179zM1070 347zM936 263zM894 583zM907 228zM911 460zM862 366zM932 575zM850 366zM919 329zM903 577zM857 213zM884 591zM929 451zM1032 355zM829 476zM802 334zM1001 212zM931 415zM934 242zM954 529zM780 535zM937 572zM886 489zM903 560zM950 557zM914 399zM942 129zM813 267zM836 169zM801 193zM816 366zM784 460zM957 494zM907 571zM822 210zM853 343zM896 575zM1058 562zM1040 587zM781 365zM1017 419zM797 384zM962 241zM805 175zM929 221zM792 236zM792 551zM923 531zM1019 239zM798 354zM794 357zM819 451zM897 471zM825 281zM888 357zM939 510zM820 213zM934 240zM861 530zM788 188zM907 418zM789 453zM826 565zM901 135zM952 464zM1029 511zM786 289zM895 577zM825 231zM946 372zM803 319zM867 459zM982 380zM980 527zM813 338zM881 305zM845 311zM790 470zM834 506zM1028 466zM912 328zM793 131zM897 515zM882 175zM925 313zM840 348zM922 198zM917 143zM944 193zM880 504zM972 493zM1180 270zM813 230zM849 158zM843 190zM787 471zM793 445zM811 143zM843 135zM916 306zM888 297zM873 398zM789 411zM880 282zM1008 202zM955 387zM943 238zM875 307zM822 327zM926 301zM823 159zM812 444zM924 439zM853 302zM879 153zM859 444zM850 544zM851 554zM916 241zM922 413zM781 533zM841 537zM827 169zM1010 192zM951 438zM961 539zM829 426zM881 544zM886 274zM903 401zM946 208zM872 315zM797 465zM849 583zM832 194zM856 163zM900 433zM885 379zM783 385zM1045 400zM843 434zM1045 278zM836 173zM826 536zM860 475zM824 299zM849 373zM826 326zM964 564zM788 123zM864 124zM786 124zM794 124zM798 124zM788 124zM798 123zM785 124zM788 123zM854 123zM793 123zM798 124zM841 125zM795 123zM782 123zM795 125z"/><path d="M966 134zM843 325zM851 370zM858 157zM886 557zM917 203zM908 571zM980 193zM869 225zM1003 344zM846 585zM829 217zM885 145zM785 393zM809 368zM934 581zM903 368zM802 468zM910 302zM838 521zM791 244zM810 551zM804 221zM914 361zM890 566zM970 403zM819 171zM848 386zM813 177zM927 398zM857 260zM791 124zM906 555zM909 277zM898 231zM817 240zM873 458zM867 300zM906 124zM805 208zM795 447zM921 585zM784 385zM943 379zM884 565zM999 149zM1181 498zM902 547zM923 576zM796 460zM902 453zM941 478zM831 342zM943 509zM859 335zM811 453zM925 339zM952 513zM940 408zM933 487zM925 303zM807 281zM955 350zM837 182zM820 179zM833 571zM871 334zM878 276zM971 233zM870 511zM809 220zM840 209zM800 450zM858 131zM789 294zM855 275zM810 249zM872 504zM807 390zM1053 384zM982 229zM944 516zM821 590zM950 403zM838 240zM1009 384zM809 159zM911 274zM881 444zM789 167zM886 133zM871 306zM835 207zM940 193zM928 450zM909 476zM891 149zM865 561zM869 423zM995 282zM928 183zM879 480zM888 436zM952 419zM865 221zM911 580zM812 360zM815 255zM798 519zM920 252zM996 351zM1086 438zM948 522zM803 193zM955 532zM834 164zM1028 466zM834 374zM804 341zM821 343zM861 302zM918 325zM1014 511zM1102 454zM949 487zM907 230zM1131 162zM872 473zM905 255zM786 360zM878 342zM852 453zM1180 182zM782 217zM936 517zM815 509zM899 125zM782 414zM782 582zM827 321zM968 411zM944 228zM876 205zM853 220zM896 450zM910 461zM895 344zM957 171zM998 371zM865 463zM846 223zM889 491zM922 368zM950 340zM829 195zM814 149zM875 126zM908 460zM801 184zM910 294zM793 508zM830 446zM907 149zM851 328zM849 428zM782 199zM828 269zM977 230zM871 497zM801 189zM829 370zM817 425zM895 260zM860 523zM891 222zM814 186zM912 415zM817 361zM855 295zM791 515zM882 295zM807 568zM797 445zM800 333zM899 196zM940 422zM890 367zM893 421zM901 276zM986 402zM927 311zM901 150zM980 308zM879 198zM1002 385zM820 229zM860 297zM844 555zM872 342zM838 367zM785 230zM836 530zM834 464zM886 334zM857 301zM886 324zM848 341zM1165 462zM852 151zM936 235zM907 533zM839 512zM853 230zM912 144zM860 147zM802 575zM839 518zM786 139zM853 203zM856 320zM812 238zM952 351zM797 161zM864 228zM898 206zM990 301zM882 583zM788 481zM784 508zM889 522zM889 219zM841 384zM906 585zM826 550zM895 490zM914 244zM797 224zM856 544zM894 200zM806 232zM1144 367zM935 212zM823 527zM910 344zM795 574zM878 229zM821 446zM1143 127zM862 179zM1059 176zM1033 588zM781 429zM920 450zM871 413zM809 536zM1113 392zM829 236zM813 233zM796 163zM877 167zM858 445zM905 358zM874 192zM783 445zM823 548zM821 242zM873 412zM838 543zM1116 160zM871 430zM823 551zM917 341zM1032 283zM815 504zM957 559zM874 235zM819 383zM879 512zM974 226zM839 548zM942 159zM901 587zM792 543zM989 247zM878 492zM955 255zM878 355zM788 217zM864 369zM825 555zM781 588zM976 542zM985 471zM1016 301zM890 141zM825 535zM995 425zM910 440zM890 467zM782 374zM825 450zM826 559zM808 424zM969 366zM824 342zM911 438zM1104 461zM908 159zM839 247zM798 410zM861 208zM1005 479zM925 551zM800 468zM996 532zM794 415zM841 501zM793 476zM868 580zM853 539zM890 204zM956 360zM808 464zM947 385zM890 431zM815 239zM825 147zM819 400zM994 352zM897 202zM1052 477zM806 358zM926 259zM945 277zM892 554zM926 414zM883 584zM1089 148zM1022 188zM934 586zM790 218zM786 493zM1062 521zM855 577zM1110 249zM992 252zM835 566zM790 575zM837 200zM826 223zM810 143zM785 390zM783 193zM991 446zM914 426zM868 229zM858 420zM945 529zM984 529zM809 386zM812 460zM848 508zM808 166zM902 565zM871 176zM856 272zM803 278zM893 261zM924 519zM846 367zM891 531zM842 509zM860 373zM878 320zM858 341zM829 539zM787 458zM897 280zM820 581zM1004 545zM805 433zM879 276zM819 298zM841 136zM802 480zM860 135zM790 501zM913 475zM910 557zM982 576zM916 451zM901 438zM965 144zM789 234zM796 450zM860 176zM984 547zM995 381zM949 504zM846 276zM909 167zM832 159zM855 215zM794 243zM883 422zM1024 442zM831 207zM815 206zM955 334zM875 371zM933 516zM807 199zM985 505zM925 450zM831 235zM796 273zM856 171zM911 414zM859 572zM950 187zM843 471zM909 439zM801 124zM789 125zM803 124zM853 123zM825 124zM801 125zM807 125zM838 123zM784 123zM783 123zM811 124zM790 123zM788 125zM800 124zM800 123zM808 125z"/><path d="M786 405zM897 582zM805 327zM893 588zM1044 292zM829 574zM902 543zM986 481zM828 278zM799 277zM818 269zM887 485zM939 388zM1035 223zM891 295zM811 234zM891 170zM996 378zM786 482zM1007 570zM927 481zM836 511zM808 243zM836 580zM916 499zM854 325zM1063 453zM813 256zM802 426zM874 293zM928 316zM824 510zM839 235zM878 304zM947 251zM798 145zM851 144zM853 324zM863 403zM875 328zM958 439zM865 170zM821 378zM888 153zM931 267zM919 366zM1066 513zM913 131zM926 450zM802 283zM979 145zM1165 583zM1032 392zM838 125zM846 468zM786 510zM907 412zM1016 317zM960 234zM806 382zM1023 483zM820 267zM994 361zM786 198zM790 377zM856 460zM872 296zM860 161zM850 381zM931 238zM963 241zM1020 381zM859 219zM1125 577zM852 388zM1082 160zM812 243zM795 435zM862 551zM924 155zM951 458zM856 240zM823 132zM830 264zM797 133zM817 400zM865 559zM893 523zM891 458zM882 204zM901 325zM897 143zM893 549zM944 386zM842 413zM862 300zM788 346zM841 525zM806 512zM799 485zM854 583zM849 578zM863 530zM784 500zM932 285zM828 400zM824 385zM909 231zM795 418zM847 565zM826 528zM964 431zM861 303zM1005 448zM911 222zM832 456zM921 207zM836 196zM823 495zM841 482zM872 200zM1064 305zM816 374zM905 174zM972 204zM999 407zM805 196zM874 421zM883 469zM841 410zM887 259zM859 267zM805 274zM827 325zM867 333zM940 438zM884 231zM835 377zM799 411zM902 374zM862 208zM787 422zM836 134zM791 524zM919 190zM884 342zM884 590zM821 375zM812 512zM1044 390zM819 428zM957 521zM869 159zM859 290zM911 554zM832 137zM921 546zM951 125zM860 354zM934 330zM918 221zM907 471zM787 530zM936 442zM917 454zM856 516zM861 460zM839 144zM902 537zM853 533zM892 529zM886 381zM905 205zM1182 242zM950 550zM866 466zM934 178zM951 343zM936 504zM893 278zM809 266zM813 341zM855 519zM873 207zM855 540zM855 507zM809 547zM896 176zM878 498zM792 412zM1013 511zM801 241zM856 156zM806 271zM796 511zM949 308zM857 456zM890 552zM822 590zM884 280zM801 361zM837 421zM823 553zM810 542zM820 549zM811 372zM913 205zM873 386zM818 412zM870 396zM806 151zM890 421zM882 240zM807 432zM870 580zM841 301zM878 209zM880 277zM940 541zM989 232zM949 391zM953 307zM870 550zM853 336zM927 348zM837 301zM907 357zM946 497zM988 409zM834 567zM861 233zM826 198zM850 509zM805 189zM848 142zM831 354zM992 292zM911 428zM798 476zM897 382zM856 485zM934 439zM855 314zM952 497zM960 156zM919 340zM958 260zM798 581zM1112 327zM794 149zM819 210zM883 250zM892 389zM832 560zM942 511zM989 274zM920 341zM807 185zM893 349zM807 373zM795 577zM853 168zM895 538zM927 240zM872 587zM867 328zM871 233zM947 373zM836 286zM960 457zM830 220zM797 400zM801 302zM896 404zM1119 160zM1006 511zM929 248zM788 170zM795 169zM841 370zM815 489zM794 525zM937 139zM863 327zM853 420zM805 506zM889 518zM836 199zM840 562zM789 524zM900 560zM1011 413zM850 568zM839 554zM937 579zM948 348zM792 297zM803 387zM897 168zM812 547zM805 504zM802 413zM900 175zM825 487zM805 495zM965 194zM786 182zM785 324zM871 145zM818 296zM1067 403zM865 501zM890 149zM916 384zM838 233zM882 522zM844 562zM834 210zM839 312zM791 506zM895 303zM802 214zM842 279zM854 479zM1144 370zM799 552zM818 130zM860 391zM781 212zM873 200zM980 567zM870 379zM942 279zM804 191zM892 237zM802 336zM795 176zM894 550zM815 365zM797 267zM832 162zM819 451zM889 533zM868 220zM865 545zM820 245zM887 491zM887 337zM865 287zM984 507zM898 218zM791 141zM818 228zM856 399zM1048 141zM875 217zM829 158zM927 445zM899 499zM855 366zM889 248zM822 183zM1079 347zM868 389zM856 227zM865 456zM787 363zM925 365zM882 143zM925 504zM841 326zM786 249zM1008 374zM875 564zM805 339zM845 383zM803 541zM926 246zM906 557zM820 304zM843 546zM898 433zM852 501zM841 423zM1007 363zM866 211zM928 509zM878 391zM934 544zM828 495zM881 133zM955 509zM958 566zM914 481zM934 219zM1016 475zM793 500zM943 456zM803 221zM820 546zM880 367zM920 374zM805 344zM892 361zM850 317zM981 255zM837 239zM966 547zM805 500zM786 290zM1059 325zM861 331zM822 194zM1082 524zM925 127zM865 405zM816 539zM857 253zM823 327zM878 229zM847 306zM945 158zM794 123zM809 126zM793 123zM816 123zM791 123zM789 124zM807 123zM792 125zM830 123zM847 123zM787 124zM799 125zM846 124zM840 124zM873 124zM851 124z"/><path d="M818 565zM1024 146zM831 374zM950 545zM850 317zM812 414zM827 246zM825 350zM811 436zM992 232zM853 282zM923 503zM1149 524zM1038 279zM820 514zM940 495zM934 225zM791 229zM855 198zM783 293zM1041 224zM862 252zM826 381zM814 342zM947 542zM969 150zM831 139zM896 469zM818 223zM945 311zM794 164zM864 185zM787 192zM784 211zM845 289zM1035 141zM830 585zM957 298zM944 587zM843 234zM840 505zM962 511zM799 418zM1071 315zM897 244zM831 152zM897 485zM863 167zM882 473zM861 366zM799 353zM919 560zM785 418zM845 267zM922 327zM905 507zM923 482zM802 382zM1128 462zM949 181zM865 553zM837 519zM814 514zM1004 150zM994 286zM987 443zM1035 248zM950 442zM839 282zM1163 297zM798 587zM828 418zM946 527zM1003 165zM1143 445zM841 497zM790 209zM844 220zM999 459zM787 129zM856 547zM992 529zM832 484zM881 398zM948 444zM791 289zM929 524zM915 252zM822 441zM1038 455zM888 534zM829 351zM785 191zM885 331zM845 366zM868 323zM858 192zM975 488zM940 169zM967 275zM866 344zM815 306zM895 590zM873 245zM792 339zM852 237zM781 171zM800 293zM884 288zM893 248zM935 444zM975 570zM847 402zM873 272zM833 381zM1101 349zM783 492zM975 124zM948 235zM842 271zM883 221zM873 219zM807 534zM859 436zM829 139zM859 240zM987 388zM844 334zM806 530zM812 379zM903 584zM831 253zM1035 252zM938 190zM814 322zM825 290zM958 220zM860 252zM831 416zM889 499zM966 443zM1007 217zM894 344zM844 269zM977 296zM974 489zM871 288zM874 339zM887 391zM787 356zM820 559zM989 550zM791 508zM790 203zM839 460zM1059 468zM831 177zM1018 254zM947 445zM956 359zM846 428zM785 364zM945 325zM984 567zM817 208zM906 165zM930 488zM897 232zM804 409zM890 587zM862 490zM875 469zM924 326zM858 269zM988 430zM842 383zM816 445zM900 368zM839 314zM867 210zM821 218zM879 198zM839 522zM836 406zM915 280zM840 170zM1004 284zM888 581zM880 379zM838 167zM900 237zM981 134zM872 332zM799 456zM823 491zM806 250zM810 255zM813 469zM878 581zM840 250zM879 397zM844 201zM811 493zM813 505zM1147 126zM851 332zM782 147zM823 285zM974 511zM810 180zM884 377zM945 335zM1000 561zM797 380zM934 342zM795 352zM807 298zM905 583zM817 205zM841 240zM836 130zM845 180zM896 133zM890 251zM972 355zM831 189zM874 258zM858 233zM874 205zM900 320zM912 126zM949 180zM906 304zM809 366zM877 491zM832 216zM952 313zM796 334zM1020 270zM930 162zM965 567zM890 297zM875 372zM804 220zM916 268zM835 477zM850 450zM931 529zM831 274zM788 234zM963 347zM834 278zM1000 202zM952 282zM907 564zM798 441zM849 325zM879 195zM860 430zM921 530zM820 260zM815 483zM892 330zM1118 529zM839 541zM923 325zM978 294zM903 185zM812 521zM872 169zM904 527zM873 472zM892 365zM798 283zM788 144zM816 135zM957 180zM783 555zM843 268zM785 502zM816 485zM904 224zM843 248zM800 349zM816 216zM889 406zM850 334zM810 303zM800 350zM824 262zM801 350zM835 462zM813 498zM796 336zM788 184zM833 143zM929 156zM909 529zM811 306zM952 184zM1012 431zM943 412zM780 516zM840 454zM824 464zM838 464zM929 198zM842 373zM893 126zM866 404zM828 196zM900 470zM848 226zM793 297zM902 129zM893 409zM805 341zM926 563zM847 370zM823 568zM954 330zM913 350zM971 376zM970 435zM882 359zM959 422zM831 589zM821 180zM921 373zM922 553zM1115 527zM839 547zM1024 175zM795 540zM888 463zM988 423zM962 447zM806 540zM843 551zM891 482zM874 408zM819 487zM872 294zM822 461zM848 139zM788 228zM872 515zM835 398zM909 174zM843 342zM881 467zM867 366zM1102 345zM781 457zM891 567zM873 480zM894 389zM799 218zM786 583zM890 549zM876 390zM802 548zM1059 517zM858 381zM874 551zM910 467zM964 417zM861 188zM976 388zM842 459zM940 280zM929 493zM1007 431zM948 264zM888 128zM845 193zM862 289zM832 339zM869 273zM854 458zM885 529zM849 200zM991 214zM993 411zM859 356zM903 164zM908 590zM915 518zM842 413zM822 565zM812 258zM926 409zM872 502zM917 318zM928 464zM806 528zM862 482zM976 248zM840 334zM915 208zM815 285zM1081 301zM831 463zM965 452zM788 544zM865 514zM854 429zM844 547zM852 429zM824 457zM897 459zM821 446zM794 281zM813 513zM818 555zM880 264zM855 263zM907 187zM789 202zM838 341zM817 463zM867 193zM794 123zM803 125zM812 124zM796 126zM800 123zM790 123zM788 123zM790 123zM798 124zM810 123zM832 123zM870 124zM811 125zM791 124zM789 125zM795 124z"/><path d="M831 362zM866 273zM957 292zM893 125zM782 275zM817 517zM891 250zM904 291zM825 563zM1068 258zM788 474zM875 254zM829 454zM839 393zM865 138zM789 281zM880 252zM884 569zM996 406zM825 160zM910 349zM932 140zM865 563zM807 511zM929 454zM845 211zM823 199zM793 172zM882 477zM1145 228zM867 298zM860 521zM894 335zM875 138zM886 581zM1000 469zM969 341zM828 354zM790 553zM954 543zM884 172zM901 221zM890 270zM881 290zM920 310zM962 230zM1055 388zM819 131zM806 352zM824 377zM878 138zM820 277zM858 165zM887 159zM888 505zM912 131zM853 129zM846 199zM815 363zM1008 208zM887 388zM926 326zM822 535zM802 167zM1124 578zM1158 285zM838 486zM797 208zM784 563zM931 292zM920 366zM885 420zM915 482zM948 456zM1023 520zM896 128zM860 283zM909 210zM810 419zM892 468zM986 381zM790 516zM891 567zM843 326zM821 351zM981 443zM861 568zM815 341zM1002 241zM783 496zM792 240zM899 213zM793 525zM873 563zM784 363zM968 247zM892 456zM1039 348zM789 408zM902 578zM890 161zM909 286zM801 482zM991 403zM976 214zM913 217zM820 466zM909 506zM1133 215zM908 547zM899 493zM1041 242zM900 567zM912 271zM877 405zM1023 204zM880 161zM798 219zM905 339zM817 493zM933 238zM823 395zM986 454zM946 302zM900 284zM821 204zM935 124zM789 161zM806 279zM1096 255zM899 484zM911 241zM997 143zM801 292zM818 174zM802 362zM836 497zM932 182zM899 250zM1046 228zM821 198zM1007 390zM785 384zM869 519zM830 503zM1001 378zM830 474zM853 187zM895 442zM850 269zM839 414zM814 457zM912 564zM915 182zM933 414zM911 565zM849 287zM886 498zM804 177zM928 381zM916 125zM835 163zM784 125zM841 258zM849 275zM846 307zM793 519zM814 161zM821 249zM961 575zM923 357zM957 395zM938 196zM875 249zM959 200zM792 559zM893 234zM999 466zM838 306zM798 220zM1009 484zM788 208zM1110 472zM862 145zM836 375zM959 541zM972 314zM873 297zM949 459zM806 133zM915 518zM958 444zM792 392zM990 135zM971 153zM865 548zM843 345zM960 496zM823 257zM826 383zM898 569zM810 245zM964 228zM952 151zM935 460zM912 175zM790 344zM860 322zM897 245zM875 404zM815 131zM952 154zM800 259zM836 268zM811 468zM816 289zM1077 334zM794 437zM802 402zM868 228zM929 397zM897 249zM835 226zM902 238zM806 501zM966 210zM847 557zM835 519zM884 527zM792 566zM845 372zM794 395zM902 498zM855 177zM903 515zM903 411zM889 374zM875 454zM847 483zM790 501zM835 446zM846 252zM853 131zM791 327zM1014 574zM961 489zM905 374zM854 428zM876 588zM954 575zM868 151zM823 285zM950 529zM939 534zM893 473zM859 532zM943 591zM903 571zM831 144zM826 489zM807 124zM895 338zM913 154zM1058 574zM798 234zM859 195zM976 312zM848 141zM814 576zM896 386zM861 589zM880 427zM913 399zM850 305zM865 173zM873 225zM794 330zM946 470zM805 280zM856 360zM871 572zM817 125zM804 346zM837 544zM800 412zM792 571zM987 266zM822 351zM866 539zM885 316zM803 526zM886 190zM851 402zM893 336zM813 254zM811 234zM930 549zM918 563zM843 410zM944 346zM959 223zM934 459zM842 238zM796 403zM953 386zM893 295zM819 528zM912 413zM891 416zM788 340zM869 302zM819 390zM813 500zM934 244zM856 582zM846 324zM893 580zM817 343zM832 210zM804 271zM787 289zM809 255zM881 434zM815 235zM965 568zM840 280zM809 186zM990 475zM966 209zM849 365zM919 313zM802 206zM819 232zM832 189zM881 343zM816 181zM911 159zM835 423zM888 257zM796 237zM946 571zM902 299zM815 139zM846 524zM809 462zM1048 538zM827 550zM802 461zM941 216zM961 162zM864 378zM821 549zM860 540zM814 250zM782 545zM820 529zM832 406zM948 582zM959 326zM824 437zM1026 412zM863 288zM896 467zM952 201zM874 216zM1071 279zM794 567zM860 218zM865 464zM861 405zM880 520zM816 481zM899 410zM933 502zM795 451zM826 433zM883 552zM940 367zM979 245zM813 413zM863 426zM813 494zM863 417zM922 365zM886 526zM818 419zM887 183zM811 586zM904 406zM785 164zM789 178zM936 398zM828 570zM835 295zM907 450zM810 558zM955 338zM870 283zM805 184zM991 247zM893 181zM799 208zM892 575zM866 183zM804 534zM914 273zM865 149zM933 352zM782 229zM949 310zM968 475zM814 533zM823 544zM815 268zM975 155zM886 394zM876 134zM934 210zM960 295zM837 485zM784 349zM891 273zM784 123zM830 126zM791 125zM804 125zM788 125zM912 123zM783 123zM803 124zM795 124zM811 125zM805 124zM799 125zM790 125zM884 125zM795 125zM838 123z"/><path d="M970 136zM936 547zM972 585zM966 342zM903 413zM961 391zM868 473zM862 209zM976 517zM866 272zM800 482zM847 201zM806 203zM794 398zM969 436zM931 448zM803 513zM976 234zM845 302zM824 272zM854 325zM833 376zM804 260zM939 405zM833 170zM819 322zM848 170zM829 564zM827 237zM871 176zM995 277zM784 544zM982 562zM939 196zM798 165zM837 589zM970 204zM866 337zM868 292zM850 236zM898 384zM943 277zM861 547zM834 406zM972 556zM987 535zM995 329zM946 504zM862 258zM1060 180zM974 563zM884 503zM868 414zM806 531zM926 334zM984 235zM930 326zM1045 387zM884 370zM942 467zM786 584zM827 310zM952 143zM860 534zM856 386zM913 197zM985 312zM922 282zM839 134zM828 430zM869 524zM936 519zM965 135zM911 363zM884 251zM869 174zM938 578zM970 234zM956 130zM826 486zM981 270zM937 230zM860 154zM814 538zM791 528zM916 237zM812 568zM1064 279zM839 532zM965 138zM851 143zM825 571zM969 415zM838 125zM810 192zM990 191zM835 341zM780 160zM844 194zM1005 297zM958 278zM1162 254zM951 584zM883 136zM843 385zM787 563zM870 556zM789 407zM953 455zM799 391zM912 455zM800 423zM869 470zM813 165zM828 169zM828 533zM811 313zM793 548zM962 309zM784 590zM804 469zM809 481zM837 141zM908 263zM912 148zM870 344zM848 314zM1117 270zM820 369zM889 325zM861 364zM847 557zM856 327zM886 181zM807 275zM783 573zM933 544zM790 208zM1081 472zM807 442zM866 504zM919 274zM808 212zM799 322zM883 234zM859 415zM892 136zM1086 227zM842 277zM849 548zM1020 388zM997 164zM1082 564zM880 462zM921 537zM838 204zM848 516zM826 243zM950 507zM801 375zM855 308zM844 145zM866 276zM823 211zM803 224zM845 498zM829 438zM895 488zM825 198zM910 347zM909 344zM893 508zM933 558zM802 522zM1009 124zM877 362zM784 346zM944 447zM904 353zM831 330zM839 416zM878 417zM893 306zM920 167zM900 488zM797 497zM874 479zM903 285zM926 154zM854 159zM784 538zM931 253zM935 132zM801 194zM817 131zM818 257zM996 498zM852 591zM873 470zM880 322zM802 554zM924 187zM824 360zM947 255zM932 327zM877 521zM936 303zM862 186zM1110 588zM829 207zM795 588zM879 271zM815 294zM953 279zM898 484zM981 447zM922 580zM922 259zM976 537zM871 338zM914 446zM842 227zM998 575zM1015 408zM988 352zM848 338zM835 265zM895 480zM899 250zM882 388zM901 424zM821 583zM853 550zM865 504zM1184 335zM921 213zM840 334zM924 177zM841 445zM826 151zM863 401zM894 289zM986 390zM960 321zM918 524zM869 567zM807 267zM890 425zM890 209zM818 560zM875 476zM896 224zM825 167zM955 389zM955 421zM870 561zM806 463zM909 492zM783 340zM929 584zM920 407zM925 352zM855 422zM830 184zM820 250zM802 192zM797 403zM832 230zM782 386zM835 541zM815 323zM989 500zM863 367zM876 554zM822 225zM956 301zM949 587zM1157 263zM799 138zM863 449zM1009 424zM817 145zM903 284zM949 225zM785 174zM813 165zM880 589zM864 558zM881 420zM797 519zM794 407zM795 137zM932 452zM1151 492zM905 367zM902 227zM815 171zM828 361zM1069 468zM813 297zM795 204zM900 257zM853 378zM950 492zM883 362zM878 199zM798 235zM844 231zM936 519zM950 459zM1060 412zM813 221zM784 238zM878 257zM999 152zM917 165zM909 141zM972 262zM921 472zM936 397zM885 522zM843 160zM949 516zM873 571zM798 528zM800 521zM854 565zM914 254zM952 264zM872 135zM885 371zM915 560zM872 206zM893 271zM976 398zM889 494zM799 204zM1019 558zM887 328zM821 214zM808 526zM942 303zM835 496zM813 141zM898 450zM923 587zM814 131zM886 551zM796 273zM1005 341zM913 586zM840 522zM889 567zM827 166zM813 390zM903 308zM1033 543zM937 481zM828 458zM940 186zM876 169zM823 315zM885 427zM891 387zM822 147zM812 236zM839 500zM803 341zM871 280zM848 385zM884 187zM820 507zM958 563zM1180 338zM814 286zM815 376zM920 216zM829 162zM823 395zM807 200zM867 467zM810 542zM868 237zM932 427zM809 406zM836 215zM852 352zM916 355zM784 136zM996 302zM914 455zM873 261zM817 272zM872 395zM990 422zM930 290zM951 561zM933 254zM796 295zM889 471zM1133 328zM968 326zM987 184zM861 188zM785 489zM876 197zM814 520zM836 362zM971 307zM868 500zM866 455zM809 519zM806 166zM809 558zM791 439zM810 580zM838 255zM971 543zM870 465zM929 493zM909 307zM805 125zM784 124zM792 124zM807 125zM797 125zM828 124zM788 124zM826 124zM811 126zM884 124zM791 125zM802 123zM786 123zM794 125zM786 126zM804 123zM860 124z"/><path d="M969 288zM890 351zM884 426zM952 580zM849 274zM852 474zM822 564zM841 469zM983 405zM801 373zM895 583zM884 126zM948 542zM987 518zM894 170zM1093 584zM914 160zM853 221zM795 258zM873 497zM804 453zM838 378zM800 332zM784 317zM982 466zM846 462zM985 586zM822 335zM812 238zM862 249zM894 394zM826 326zM910 446zM924 178zM914 430zM824 334zM819 566zM815 536zM885 141zM879 348zM1041 369zM822 487zM841 357zM1050 498zM856 516zM813 515zM858 352zM925 306zM803 225zM907 443zM952 174zM852 568zM914 474zM824 451zM917 427zM1074 142zM929 305zM884 307zM842 564zM825 484zM1187 274zM873 213zM850 151zM870 306zM858 207zM782 322zM956 525zM831 573zM903 129zM948 495zM861 296zM1041 240zM1126 222zM938 373zM878 207zM806 528zM834 549zM859 307zM942 581zM937 506zM1141 155zM923 375zM919 149zM957 264zM877 216zM913 382zM997 382zM798 135zM952 232zM883 366zM852 464zM893 418zM927 152zM891 215zM1005 265zM803 501zM788 496zM986 182zM884 162zM822 446zM914 324zM789 199zM817 567zM1057 323zM821 390zM864 454zM997 201zM884 499zM888 426zM803 466zM862 482zM861 478zM826 329zM929 560zM841 206zM931 563zM869 337zM792 199zM809 177zM814 588zM787 149zM905 306zM895 555zM840 240zM948 429zM864 502zM909 522zM794 281zM830 397zM871 214zM791 434zM812 434zM848 501zM1006 576zM801 186zM899 157zM810 187zM913 383zM805 127zM877 369zM822 296zM815 322zM894 281zM920 307zM1045 345zM805 514zM853 525zM944 191zM860 382zM946 589zM789 347zM826 561zM822 404zM807 559zM818 377zM836 399zM797 225zM859 425zM797 403zM785 167zM924 331zM833 538zM891 535zM1114 504zM831 515zM846 400zM830 466zM828 584zM815 424zM974 582zM1028 263zM893 256zM813 369zM906 159zM899 403zM864 296zM819 344zM868 327zM918 510zM888 548zM860 418zM792 413zM1133 540zM894 387zM896 552zM1002 438zM785 312zM824 468zM799 221zM1010 131zM800 197zM874 496zM939 560zM793 509zM839 415zM1009 539zM923 183zM807 250zM885 425zM1127 575zM810 404zM1041 181zM994 295zM860 284zM818 225zM805 266zM905 143zM890 273zM840 269zM903 582zM814 327zM1038 179zM901 517zM851 146zM979 550zM870 217zM798 315zM798 415zM912 427zM821 575zM846 307zM934 333zM908 418zM920 556zM826 357zM944 153zM874 127zM954 537zM809 439zM952 390zM883 389zM811 426zM892 274zM851 150zM883 127zM814 346zM787 542zM816 301zM1028 234zM856 389zM831 279zM932 486zM810 384zM924 368zM813 202zM856 513zM807 172zM844 337zM949 526zM870 462zM848 184zM938 568zM819 296zM967 404zM802 434zM799 191zM916 573zM872 226zM841 433zM812 534zM890 364zM810 509zM822 365zM795 367zM931 494zM794 423zM895 491zM908 536zM1000 575zM987 269zM816 290zM1110 570zM789 133zM945 307zM795 411zM795 431zM890 471zM829 495zM788 518zM948 492zM971 289zM788 365zM825 352zM813 339zM827 347zM854 319zM833 170zM886 278zM897 387zM936 205zM849 590zM845 188zM859 387zM960 342zM819 427zM826 149zM840 376zM832 585zM880 175zM800 252zM999 545zM790 273zM901 267zM826 193zM851 310zM940 576zM878 485zM789 579zM863 547zM875 272zM911 245zM868 395zM968 304zM805 465zM875 202zM840 361zM859 536zM1021 140zM1112 299zM1002 422zM781 223zM965 587zM833 263zM936 430zM904 233zM798 359zM798 180zM878 447zM915 221zM1009 226zM827 192zM785 505zM787 535zM913 491zM871 464zM799 227zM1109 454zM789 260zM850 204zM814 177zM912 228zM791 509zM862 479zM925 208zM794 210zM907 346zM861 256zM935 258zM880 236zM1113 142zM962 532zM833 486zM915 571zM797 239zM905 243zM782 455zM826 227zM839 315zM905 277zM850 232zM967 421zM869 242zM795 568zM819 188zM829 230zM850 151zM834 533zM799 531zM842 279zM896 201zM807 310zM929 536zM877 411zM936 202zM950 455zM894 554zM876 200zM792 246zM1003 421zM903 572zM844 574zM830 350zM894 532zM842 412zM949 241zM931 537zM834 211zM822 148zM823 576zM855 567zM966 356zM784 355zM876 210zM905 228zM850 568zM835 366zM796 478zM923 509zM962 254zM835 579zM814 479zM822 407zM782 330zM848 221zM865 435zM859 360zM873 573zM951 193zM831 363zM975 418zM845 393zM790 214zM800 313zM842 510zM929 528zM797 308zM883 574zM920 379zM932 403zM807 377zM866 473zM794 123zM783 124zM787 125zM805 126zM785 123zM815 123zM848 123zM824 124zM787 124zM784 125zM851 123zM801 123zM797 125zM821 126zM790 124zM813 125zM793 124z"/><path d="M852 232zM932 388zM863 313zM834 475zM805 371zM902 273zM817 274zM830 258zM864 481zM832 453zM878 482zM783 407zM978 508zM952 262zM854 489zM812 372zM835 580zM1011 232zM810 439zM868 163zM856 148zM898 479zM806 385zM911 490zM917 180zM875 392zM871 482zM946 189zM1101 497zM894 169zM902 163zM847 144zM889 163zM982 392zM893 521zM862 316zM918 259zM818 337zM926 315zM802 442zM1073 184zM893 589zM871 455zM812 123zM902 490zM830 161zM1043 146zM853 490zM938 458zM1106 183zM852 420zM928 521zM925 403zM963 506zM886 515zM895 446zM909 374zM829 566zM978 171zM825 452zM932 512zM969 434zM812 311zM828 215zM931 384zM836 436zM842 170zM1025 516zM975 331zM826 439zM857 160zM939 460zM979 409zM932 386zM814 305zM876 441zM814 175zM781 415zM903 370zM795 398zM861 497zM847 157zM918 364zM815 192zM865 563zM941 239zM869 277zM1116 285zM942 580zM850 204zM891 223zM818 585zM810 326zM858 256zM841 353zM796 259zM853 354zM953 207zM977 153zM871 468zM886 448zM847 367zM822 582zM804 515zM793 399zM866 524zM961 499zM900 378zM844 521zM884 506zM837 328zM900 525zM1022 156zM947 560zM967 386zM815 430zM900 229zM833 401zM881 474zM838 302zM845 259zM956 548zM878 389zM1078 143zM1007 476zM830 128zM838 399zM840 450zM826 296zM813 337zM869 427zM829 189zM865 523zM986 300zM999 315zM868 181zM855 466zM809 585zM784 240zM976 368zM797 159zM825 390zM848 590zM974 354zM814 334zM794 400zM837 504zM868 200zM943 207zM802 478zM804 586zM935 128zM890 336zM872 290zM897 276zM860 421zM897 427zM925 539zM966 226zM945 589zM807 463zM981 148zM932 495zM808 412zM877 511zM852 253zM814 307zM861 250zM828 445zM836 127zM920 333zM803 271zM884 460zM912 537zM858 564zM1103 524zM857 403zM949 384zM947 555zM888 225zM810 420zM923 291zM988 344zM794 398zM807 245zM790 454zM844 572zM813 499zM903 195zM834 252zM912 260zM1125 432zM913 196zM928 205zM851 552zM851 254zM802 426zM999 152zM895 308zM871 368zM878 574zM886 393zM814 580zM889 153zM842 486zM816 467zM1033 458zM932 272zM820 499zM874 284zM887 347zM909 411zM811 196zM864 195zM820 575zM848 248zM785 274zM796 591zM868 206zM932 396zM803 206zM923 475zM831 186zM803 590zM876 544zM792 323zM874 395zM806 590zM908 197zM956 169zM805 429zM928 284zM824 124zM844 214zM802 350zM823 572zM861 344zM818 195zM1070 193zM991 139zM888 136zM818 167zM849 335zM797 400zM956 154zM848 419zM918 444zM857 141zM857 312zM797 403zM839 484zM963 171zM863 511zM894 276zM828 408zM956 132zM990 587zM795 221zM824 421zM907 144zM908 565zM948 178zM850 325zM975 533zM967 167zM860 223zM842 454zM989 229zM797 246zM785 232zM800 465zM967 324zM789 265zM999 520zM893 163zM805 257zM812 217zM842 586zM968 473zM932 190zM954 589zM800 315zM791 469zM825 331zM916 194zM862 394zM864 522zM874 242zM987 365zM812 202zM972 543zM832 360zM942 468zM903 547zM841 192zM848 134zM819 414zM824 387zM1031 246zM869 291zM784 458zM942 401zM908 438zM901 547zM988 162zM867 341zM908 454zM923 402zM916 420zM943 259zM810 140zM862 492zM790 356zM986 223zM910 489zM992 176zM897 444zM937 264zM849 488zM813 340zM944 195zM890 553zM970 491zM872 161zM823 588zM1006 315zM1008 519zM1005 387zM892 326zM865 422zM943 158zM879 409zM836 447zM947 450zM804 152zM862 251zM992 200zM792 540zM880 151zM861 373zM857 361zM933 197zM820 427zM890 415zM953 552zM826 346zM1077 427zM911 315zM826 495zM952 133zM805 540zM788 509zM788 577zM814 481zM956 144zM947 504zM913 379zM784 432zM1013 549zM875 156zM864 591zM930 458zM1101 567zM892 302zM884 436zM791 361zM894 470zM925 273zM826 394zM899 405zM812 434zM957 218zM1179 500zM791 179zM966 241zM783 300zM926 369zM886 590zM893 478zM935 332zM919 256zM893 146zM1096 471zM814 187zM822 188zM846 326zM876 488zM861 566zM808 574zM824 123zM886 314zM829 277zM833 445zM884 308zM793 309zM869 348zM920 502zM813 383zM797 355zM865 300zM884 495zM847 323zM825 158zM916 421zM880 221zM877 543zM827 589zM988 408zM893 556zM887 390zM960 244zM847 362zM815 551zM851 424zM909 455zM872 380zM814 152zM978 147zM789 185zM912 335zM873 431zM785 123zM837 123zM828 123zM827 123zM790 126zM783 124zM793 124zM784 124zM786 124zM784 124zM809 124zM784 123zM824 125zM800 123zM823 123zM805 124zM801 124z"/><path d="M1002 181zM920 290zM954 352zM858 569zM867 214zM911 183zM816 372zM845 151zM877 349zM856 342zM968 496zM866 380zM804 273zM832 306zM837 328zM1075 272zM797 240zM930 251zM839 165zM882 437zM803 170zM799 163zM870 587zM1141 570zM876 238zM927 475zM914 246zM823 348zM865 375zM944 141zM817 272zM965 547zM890 347zM929 368zM867 318zM1028 370zM844 387zM806 438zM807 193zM918 253zM960 205zM978 505zM976 216zM832 348zM897 555zM932 529zM896 495zM943 465zM891 591zM891 515zM801 454zM944 300zM871 566zM850 361zM854 470zM902 520zM850 269zM885 439zM919 349zM830 477zM811 408zM958 491zM1015 363zM855 158zM1009 539zM832 148zM796 128zM863 274zM807 573zM819 289zM855 209zM963 504zM931 514zM948 513zM926 243zM796 582zM898 422zM915 362zM813 228zM971 324zM806 524zM834 360zM792 546zM938 527zM854 269zM906 253zM902 545zM814 463zM877 263zM852 274zM854 186zM824 329zM905 385zM931 511zM803 157zM935 577zM959 511zM985 202zM906 323zM867 454zM858 321zM927 522zM787 524zM795 472zM805 284zM839 293zM862 236zM913 545zM898 179zM1121 198zM803 267zM871 561zM917 150zM929 262zM821 400zM786 141zM981 324zM977 350zM1001 328zM813 588zM814 572zM854 577zM903 227zM887 479zM788 384zM868 537zM941 499zM1047 203zM817 564zM881 144zM869 378zM954 369zM813 490zM1102 262zM877 410zM865 233zM991 253zM1094 267zM876 253zM922 267zM796 193zM932 538zM815 353zM866 158zM787 443zM826 310zM817 584zM897 445zM1060 206zM814 144zM1124 236zM957 318zM790 343zM910 556zM834 206zM830 378zM987 327zM928 153zM848 389zM898 351zM900 427zM873 215zM811 397zM931 236zM835 297zM827 366zM926 235zM910 140zM895 550zM946 521zM906 405zM800 492zM941 160zM799 234zM882 344zM965 378zM866 380zM838 430zM869 455zM859 471zM944 179zM939 269zM912 526zM809 294zM993 364zM978 438zM875 258zM818 128zM914 473zM893 378zM866 351zM910 372zM857 161zM899 219zM784 234zM999 166zM795 341zM853 134zM834 222zM847 165zM825 586zM869 530zM797 385zM951 185zM793 561zM903 415zM812 179zM929 502zM784 507zM1017 359zM835 406zM785 444zM927 338zM870 297zM788 124zM951 405zM930 516zM900 177zM989 272zM864 452zM898 132zM855 165zM908 245zM788 413zM825 435zM827 514zM897 515zM826 586zM834 133zM808 307zM863 538zM961 589zM904 217zM1090 526zM913 435zM817 370zM901 495zM1007 439zM1002 305zM841 452zM1001 177zM812 462zM825 488zM819 252zM1005 323zM821 392zM911 338zM799 220zM934 575zM870 182zM933 301zM848 141zM893 165zM820 577zM792 365zM917 212zM989 390zM791 296zM974 320zM967 371zM1022 167zM882 286zM905 268zM933 364zM865 285zM877 548zM868 539zM924 250zM955 466zM805 590zM944 560zM1073 498zM848 408zM815 317zM910 255zM825 548zM979 141zM826 149zM941 563zM825 167zM883 398zM802 434zM933 582zM985 534zM922 310zM884 164zM879 149zM862 191zM840 496zM871 394zM837 520zM873 457zM944 259zM877 131zM908 373zM884 585zM864 519zM845 529zM892 279zM903 581zM849 500zM878 583zM960 204zM853 397zM846 218zM794 279zM889 411zM878 157zM861 393zM958 515zM820 534zM861 231zM828 298zM794 234zM889 441zM820 370zM944 222zM914 478zM813 283zM851 514zM956 188zM866 191zM819 336zM982 199zM849 289zM954 303zM797 561zM853 201zM902 534zM843 142zM844 427zM968 480zM799 195zM785 151zM866 202zM877 525zM882 586zM992 182zM809 559zM929 470zM957 549zM996 180zM896 419zM928 489zM952 303zM894 187zM900 257zM908 499zM977 450zM885 191zM877 506zM931 535zM879 435zM825 338zM877 293zM950 395zM848 347zM899 456zM873 212zM905 374zM931 510zM870 431zM901 525zM882 124zM880 498zM797 460zM796 408zM902 493zM865 328zM925 501zM856 226zM936 390zM860 464zM894 404zM892 425zM997 592zM795 143zM852 505zM943 177zM840 453zM918 516zM982 351zM927 372zM974 291zM843 357zM943 546zM983 530zM829 490zM783 372zM899 255zM963 135zM986 223zM835 209zM787 419zM890 188zM814 379zM966 307zM1089 403zM907 249zM823 228zM853 563zM968 157zM954 446zM856 569zM1047 578zM850 237zM851 128zM918 236zM886 212zM788 562zM970 304zM922 375zM884 377zM865 349zM983 561zM872 197zM816 518zM832 123zM902 369zM836 386zM860 211zM811 123zM801 123zM789 125zM783 123zM782 124zM788 124zM835 123zM794 124zM803 125zM804 125zM846 125zM797 124zM797 125zM828 124zM783 125zM782 124zM815 124z"/><path d="M959 146zM894 193zM826 449zM905 440zM808 219zM886 215zM785 253zM955 150zM1073 545zM808 331zM944 370zM950 173zM806 348zM904 549zM983 399zM965 459zM981 182zM918 229zM907 437zM853 274zM956 270zM897 550zM809 236zM961 471zM869 184zM922 202zM927 136zM811 269zM999 510zM1120 500zM901 445zM793 241zM836 404zM809 345zM886 528zM901 258zM823 208zM811 261zM980 361zM953 581zM993 336zM939 480zM871 483zM916 384zM884 478zM809 392zM907 510zM800 482zM817 205zM917 187zM846 357zM811 443zM823 469zM826 502zM835 427zM818 127zM817 285zM898 430zM887 311zM823 252zM842 215zM925 297zM798 405zM808 127zM799 585zM1166 250zM843 491zM922 298zM814 315zM880 487zM1096 428zM925 427zM913 511zM911 407zM930 196zM927 512zM837 246zM894 476zM924 485zM859 269zM787 332zM840 258zM921 370zM940 351zM792 444zM935 403zM833 521zM946 472zM804 148zM950 157zM933 447zM851 570zM939 214zM841 137zM829 554zM865 535zM999 551zM790 354zM980 246zM908 131zM1021 500zM846 427zM1018 427zM861 535zM874 550zM1099 289zM897 266zM1009 428zM1018 508zM888 142zM926 300zM866 426zM851 172zM1013 502zM828 377zM853 319zM860 362zM931 215zM847 590zM930 533zM782 361zM869 307zM903 498zM940 431zM1062 128zM960 135zM1008 313zM935 500zM865 149zM861 432zM989 453zM796 473zM884 510zM788 328zM1175 229zM797 245zM825 145zM865 243zM1042 408zM803 575zM995 282zM882 285zM1100 335zM815 479zM882 306zM798 553zM902 500zM876 272zM883 526zM938 485zM902 271zM896 215zM907 440zM873 343zM899 310zM1011 277zM930 389zM980 488zM1151 140zM924 275zM830 349zM831 415zM880 546zM1061 485zM862 284zM1106 359zM821 230zM902 258zM803 371zM849 508zM938 587zM867 561zM809 300zM949 572zM1003 201zM1054 446zM830 273zM1176 466zM1051 478zM894 580zM890 512zM842 189zM952 485zM846 423zM958 412zM965 388zM937 212zM903 283zM932 267zM884 470zM911 175zM947 179zM864 276zM855 583zM832 520zM885 204zM1186 282zM832 261zM933 464zM792 434zM795 528zM822 441zM789 124zM950 480zM805 325zM1082 342zM843 420zM892 499zM964 375zM812 491zM954 404zM977 277zM902 269zM864 424zM1016 319zM842 251zM926 153zM912 536zM900 270zM834 126zM1034 302zM839 310zM886 554zM1024 202zM862 157zM872 177zM803 347zM817 214zM936 125zM938 422zM938 588zM825 153zM789 218zM827 581zM831 567zM795 161zM884 284zM862 276zM810 438zM963 566zM789 472zM816 546zM953 538zM971 315zM943 223zM916 520zM817 583zM785 463zM916 473zM850 305zM912 543zM967 447zM885 349zM918 424zM925 322zM840 407zM847 444zM867 560zM863 164zM837 389zM873 260zM797 436zM929 202zM823 465zM965 244zM928 160zM1049 147zM973 394zM853 534zM970 576zM910 342zM1047 243zM918 476zM831 338zM847 454zM1076 355zM844 515zM901 450zM785 451zM1111 249zM813 306zM787 511zM879 204zM902 389zM815 221zM861 368zM800 295zM889 390zM940 341zM860 462zM1013 409zM796 179zM842 434zM806 346zM943 262zM804 397zM873 499zM869 225zM926 566zM818 289zM942 372zM921 347zM876 448zM854 585zM805 258zM963 530zM915 302zM904 382zM784 345zM923 143zM907 347zM1068 412zM837 497zM884 500zM881 331zM923 207zM799 141zM781 559zM842 421zM986 295zM830 512zM835 159zM952 124zM1018 142zM794 519zM1044 576zM929 347zM845 281zM885 536zM1007 237zM911 468zM784 571zM841 394zM960 147zM845 576zM804 235zM1025 468zM901 242zM912 438zM847 149zM837 488zM792 554zM814 470zM920 474zM1021 284zM898 213zM964 292zM885 329zM930 583zM808 541zM990 433zM959 217zM862 317zM944 543zM812 459zM825 321zM1096 580zM1017 342zM850 314zM838 480zM833 565zM861 569zM878 481zM952 533zM799 548zM940 129zM796 434zM822 394zM816 222zM885 387zM806 216zM1061 484zM845 363zM967 499zM896 308zM807 199zM821 415zM829 187zM815 365zM848 504zM781 252zM823 472zM788 558zM865 332zM978 193zM882 281zM898 560zM919 179zM915 473zM1021 207zM831 132zM961 264zM801 340zM815 205zM946 218zM889 530zM930 420zM832 168zM786 305zM808 338zM966 246zM801 342zM1006 277zM867 529zM831 300zM816 209zM877 347zM898 262zM831 268zM974 555zM1095 517zM796 159zM828 263zM817 290zM898 329zM858 239zM990 562zM816 192zM803 403zM841 491zM1003 252zM815 124zM784 124zM796 123zM786 123zM878 124zM805 124zM793 124zM787 125zM794 124zM791 125zM850 124zM792 125zM838 124zM786 126zM813 123zM799 124zM808 123z"/><path d="M826 581zM994 373zM819 549zM795 160zM814 172zM825 422zM795 552zM839 217zM938 172zM808 313zM1079 551zM803 391zM1053 452zM872 548zM848 213zM805 127zM931 131zM865 180zM1028 501zM798 327zM901 488zM956 275zM958 429zM938 584zM1099 177zM975 425zM903 194zM860 179zM840 258zM956 360zM869 236zM915 230zM899 490zM969 548zM924 284zM883 173zM898 274zM855 349zM870 579zM932 206zM913 236zM873 346zM852 486zM1004 494zM898 247zM809 231zM905 558zM1095 223zM910 266zM803 415zM1036 319zM883 517zM918 402zM843 357zM856 276zM915 345zM846 407zM811 311zM994 374zM864 458zM943 363zM809 146zM936 363zM998 267zM894 152zM789 526zM989 255zM842 345zM919 360zM853 239zM919 391zM806 269zM859 173zM882 219zM795 470zM1173 132zM992 274zM830 238zM950 387zM861 562zM1060 385zM824 539zM961 566zM958 591zM936 572zM823 145zM862 477zM790 468zM834 508zM932 196zM782 458zM946 491zM785 443zM822 436zM846 477zM798 232zM910 338zM786 163zM875 485zM872 256zM932 435zM892 273zM816 408zM914 461zM938 253zM934 254zM801 213zM1070 572zM839 250zM901 552zM819 499zM795 292zM922 407zM976 351zM797 540zM874 244zM973 392zM1014 245zM813 575zM836 494zM802 562zM863 392zM915 412zM797 260zM945 404zM844 492zM798 314zM880 192zM834 403zM946 203zM869 235zM792 453zM820 152zM873 210zM819 214zM853 583zM810 581zM849 311zM1044 337zM912 563zM824 344zM817 575zM856 411zM865 356zM814 591zM880 577zM932 161zM993 339zM1020 590zM1010 301zM847 293zM865 515zM798 377zM947 537zM862 364zM807 245zM926 379zM860 302zM864 433zM814 186zM908 249zM962 445zM877 213zM899 291zM855 558zM862 584zM823 350zM795 212zM804 568zM785 194zM815 463zM962 300zM801 587zM820 247zM895 387zM912 124zM980 166zM1029 363zM836 301zM816 346zM1036 270zM813 469zM1005 131zM832 346zM888 311zM946 484zM898 251zM863 279zM804 173zM816 159zM813 209zM795 437zM795 351zM864 348zM968 402zM786 205zM904 471zM800 423zM996 222zM788 157zM897 280zM965 258zM1031 265zM813 240zM944 161zM1036 145zM931 573zM786 510zM868 580zM860 152zM1104 482zM887 303zM912 149zM1104 259zM872 127zM906 269zM965 584zM883 480zM784 138zM784 207zM982 395zM993 576zM968 428zM936 419zM907 262zM802 509zM791 241zM877 326zM788 541zM814 290zM858 231zM806 440zM832 318zM835 469zM943 339zM794 166zM835 304zM853 208zM788 403zM869 502zM880 233zM896 299zM827 238zM893 274zM1028 284zM839 259zM826 486zM810 252zM933 532zM977 494zM809 502zM820 269zM936 221zM800 370zM814 428zM921 151zM858 452zM924 570zM934 541zM953 519zM851 183zM924 268zM782 142zM831 466zM837 546zM789 509zM868 364zM1009 382zM854 129zM814 217zM996 429zM823 377zM803 353zM893 211zM879 382zM792 387zM954 384zM873 124zM787 284zM830 202zM875 522zM1094 263zM912 297zM885 532zM965 454zM881 574zM942 584zM997 186zM846 312zM977 531zM954 270zM953 412zM828 428zM794 257zM939 160zM1076 488zM820 401zM1146 301zM786 314zM805 512zM849 507zM1156 331zM810 158zM817 274zM886 374zM791 169zM846 525zM902 320zM817 269zM803 481zM802 416zM912 327zM854 404zM1000 316zM905 564zM902 460zM839 236zM790 374zM1029 257zM807 287zM909 286zM797 342zM978 408zM845 524zM825 321zM804 245zM860 577zM953 372zM983 484zM848 416zM838 367zM902 569zM859 271zM956 418zM946 264zM918 487zM918 553zM785 209zM843 576zM877 293zM793 312zM882 452zM1079 533zM873 463zM889 349zM960 320zM855 581zM896 317zM803 173zM849 546zM804 294zM801 218zM825 374zM836 427zM811 523zM853 269zM916 480zM940 141zM831 277zM816 239zM1030 537zM836 208zM840 291zM843 171zM824 234zM884 512zM858 588zM968 364zM906 341zM939 237zM860 185zM934 209zM821 430zM965 359zM835 274zM828 443zM813 460zM839 395zM825 332zM820 564zM803 451zM809 149zM974 571zM887 557zM821 550zM815 240zM1117 146zM873 151zM930 218zM946 578zM869 542zM1030 498zM855 581zM1017 417zM802 484zM875 382zM794 490zM784 460zM855 225zM930 555zM868 365zM908 461zM807 127zM789 274zM788 438zM940 362zM897 392zM959 134zM792 540zM972 305zM888 149zM808 248zM839 182zM824 336zM816 202zM867 382zM845 555zM993 508zM1095 399zM894 262zM954 397zM798 126zM806 125zM790 123zM785 123zM796 123zM783 124zM822 125zM801 124zM791 125zM790 124zM796 125zM788 125zM795 123zM800 124zM791 124zM827 124zM802 126z"/><path d="M908 257zM793 279zM878 467zM849 132zM862 208zM830 318zM790 477zM1014 550zM823 243zM822 400zM814 588zM965 558zM790 124zM798 143zM820 255zM804 570zM843 345zM862 228zM803 132zM875 525zM842 519zM943 413zM1094 201zM833 560zM893 292zM874 366zM816 555zM838 347zM1080 321zM878 474zM884 318zM870 388zM899 181zM1075 317zM903 458zM901 464zM811 239zM861 185zM812 439zM808 402zM905 235zM960 583zM817 138zM995 141zM891 383zM955 265zM904 456zM889 196zM913 578zM863 325zM842 408zM908 178zM893 232zM924 562zM788 496zM805 438zM831 580zM937 305zM914 405zM787 364zM852 504zM980 350zM964 408zM960 382zM867 395zM1060 221zM967 360zM864 174zM838 287zM1060 145zM825 450zM808 501zM903 196zM815 552zM816 485zM950 169zM799 415zM900 461zM790 145zM796 302zM936 124zM793 486zM822 219zM858 450zM876 343zM799 440zM850 264zM784 368zM933 310zM1054 406zM907 507zM907 455zM817 584zM797 277zM1071 447zM848 422zM835 394zM832 547zM812 162zM1037 242zM881 491zM876 537zM788 280zM858 296zM864 518zM835 284zM890 347zM937 149zM860 481zM833 164zM902 204zM843 221zM874 523zM815 445zM893 370zM905 488zM823 254zM895 224zM872 225zM865 394zM836 125zM806 282zM792 406zM798 274zM961 387zM879 442zM938 408zM779 178zM911 227zM892 331zM953 393zM907 330zM946 194zM810 444zM811 507zM789 375zM906 310zM827 569zM834 221zM955 370zM872 404zM1000 288zM791 444zM866 515zM986 248zM803 490zM843 344zM821 187zM782 312zM828 162zM901 210zM1028 337zM914 448zM1047 246zM861 526zM790 536zM830 300zM869 243zM922 311zM896 134zM866 501zM895 278zM835 460zM842 323zM885 282zM830 527zM973 486zM868 335zM826 276zM880 248zM861 410zM854 379zM869 555zM894 450zM817 373zM883 421zM879 187zM983 271zM918 230zM920 293zM915 446zM842 476zM780 566zM915 144zM827 141zM869 215zM852 372zM1003 311zM893 138zM912 360zM885 393zM833 331zM869 298zM843 265zM795 448zM832 376zM882 321zM842 434zM858 415zM800 404zM957 395zM818 185zM911 344zM1042 583zM966 226zM896 192zM805 257zM973 379zM1005 279zM999 564zM988 364zM864 481zM979 344zM871 183zM884 378zM1035 543zM962 156zM950 386zM902 251zM920 401zM930 408zM901 295zM1013 323zM802 333zM822 236zM878 505zM934 128zM1098 383zM936 315zM854 385zM829 131zM996 482zM853 315zM1003 403zM1087 412zM908 337zM874 236zM864 196zM907 174zM839 307zM895 236zM898 562zM863 139zM980 297zM905 284zM1059 196zM880 447zM817 576zM827 137zM804 210zM823 176zM802 446zM833 473zM872 590zM1004 357zM882 285zM802 151zM892 164zM816 533zM825 312zM858 269zM913 560zM916 331zM998 419zM813 502zM837 443zM949 436zM802 191zM788 126zM948 124zM812 252zM808 571zM876 415zM1113 331zM960 376zM838 419zM789 343zM849 125zM809 551zM851 514zM785 542zM921 417zM879 496zM872 276zM863 403zM982 343zM794 571zM965 588zM811 369zM822 473zM790 339zM936 208zM835 366zM1080 432zM980 467zM913 285zM1008 160zM842 135zM948 333zM1003 295zM840 581zM884 258zM867 398zM1083 383zM942 540zM902 195zM827 293zM885 553zM922 554zM890 414zM824 343zM818 165zM1050 325zM878 167zM795 185zM796 512zM937 173zM938 175zM980 282zM797 378zM818 558zM804 248zM897 453zM839 383zM903 566zM916 551zM902 492zM866 236zM865 588zM875 416zM848 391zM922 384zM830 289zM899 416zM1142 175zM955 581zM848 197zM925 276zM901 400zM856 522zM887 139zM899 323zM834 467zM976 356zM798 171zM925 184zM954 307zM788 354zM915 383zM835 284zM787 173zM927 356zM927 211zM840 370zM888 375zM885 483zM923 131zM820 319zM789 405zM907 487zM876 190zM895 196zM909 457zM809 495zM941 181zM887 165zM930 260zM810 273zM866 462zM794 543zM782 147zM799 138zM909 219zM980 329zM879 413zM800 243zM852 422zM858 458zM978 440zM911 535zM787 158zM890 562zM990 472zM812 502zM960 244zM809 415zM846 218zM882 393zM941 579zM846 293zM884 581zM888 324zM1042 493zM954 132zM868 528zM794 536zM835 478zM894 242zM789 447zM926 128zM849 488zM977 205zM976 453zM916 426zM824 327zM829 380zM886 292zM845 501zM839 205zM980 194zM945 419zM825 364zM834 222zM902 549zM935 515zM837 477zM818 275zM793 328zM791 412zM935 213zM800 540zM799 125zM782 124zM790 123zM800 126zM804 123zM792 123zM792 123zM842 123zM815 123zM828 125zM795 124zM794 125zM822 124zM815 124zM815 123zM783 126z"/><path d="M1055 470zM831 547zM947 401zM909 134zM1033 282zM942 546zM894 167zM822 471zM872 516zM935 204zM849 367zM930 269zM849 530zM914 270zM813 449zM845 328zM792 517zM1010 180zM904 193zM830 262zM864 317zM805 573zM912 167zM874 346zM826 365zM851 290zM825 217zM893 559zM906 487zM846 426zM822 407zM840 456zM796 584zM910 460zM937 476zM898 144zM960 166zM1007 547zM823 541zM806 145zM848 572zM783 214zM819 450zM891 560zM997 316zM881 311zM919 133zM871 294zM798 348zM888 383zM836 212zM875 308zM949 496zM788 557zM898 423zM992 256zM798 504zM849 182zM816 329zM991 520zM917 315zM990 365zM977 589zM924 515zM850 203zM870 195zM837 245zM902 303zM843 467zM859 549zM810 444zM888 300zM898 535zM842 446zM981 543zM884 217zM786 320zM867 539zM854 233zM834 399zM987 345zM817 530zM814 369zM849 570zM792 517zM903 585zM905 515zM872 166zM888 393zM834 387zM866 442zM862 182zM850 554zM845 199zM952 388zM1040 222zM793 423zM815 497zM928 394zM796 439zM817 143zM981 480zM876 437zM1178 321zM1002 335zM814 384zM911 484zM943 441zM959 153zM993 502zM886 509zM900 507zM860 480zM821 488zM830 139zM864 279zM907 279zM827 509zM913 432zM799 473zM900 502zM793 468zM923 410zM869 396zM979 351zM846 410zM820 466zM847 541zM872 337zM835 426zM911 273zM999 405zM1033 320zM790 298zM789 542zM1160 217zM859 581zM794 142zM912 180zM846 458zM875 320zM821 404zM972 492zM806 317zM864 460zM843 525zM840 497zM876 456zM929 501zM889 581zM834 386zM905 423zM826 319zM1005 305zM1097 235zM794 355zM886 340zM913 470zM964 303zM1011 440zM939 475zM793 212zM990 314zM924 418zM824 416zM858 176zM800 323zM807 590zM960 371zM842 315zM852 468zM986 259zM876 485zM783 137zM888 317zM1086 454zM815 352zM852 207zM855 443zM982 551zM802 282zM887 294zM804 399zM911 277zM840 416zM866 515zM824 442zM913 312zM993 270zM1025 438zM807 194zM901 385zM858 303zM914 213zM807 591zM1007 439zM862 551zM915 268zM862 246zM828 405zM884 462zM903 218zM843 425zM820 335zM939 284zM837 351zM949 438zM952 138zM822 296zM897 274zM869 513zM883 224zM967 149zM953 354zM1119 402zM798 205zM976 376zM783 539zM784 258zM961 370zM831 438zM824 348zM906 271zM863 179zM985 507zM929 219zM805 562zM790 385zM897 141zM830 284zM788 185zM798 503zM785 458zM783 200zM850 321zM839 243zM902 578zM833 524zM918 483zM829 340zM945 433zM818 577zM972 341zM872 501zM790 134zM927 569zM803 445zM898 308zM855 553zM928 279zM793 466zM855 533zM883 468zM835 559zM840 302zM802 440zM856 294zM808 389zM822 544zM998 210zM858 124zM1061 382zM965 278zM993 146zM911 408zM795 124zM804 240zM1000 397zM953 573zM891 290zM827 124zM870 329zM820 379zM884 274zM834 527zM878 245zM994 293zM863 184zM941 314zM1131 404zM860 220zM937 564zM827 476zM787 329zM830 347zM862 518zM808 424zM995 146zM812 340zM1093 505zM936 583zM798 530zM957 222zM996 378zM880 320zM895 505zM801 377zM925 499zM959 590zM825 178zM825 154zM841 280zM1140 542zM890 394zM787 148zM969 301zM792 301zM792 210zM905 157zM791 539zM865 535zM998 482zM917 505zM1056 354zM1081 267zM864 144zM801 559zM834 453zM865 546zM855 419zM790 492zM851 141zM902 404zM888 506zM848 262zM852 434zM863 147zM872 453zM869 218zM855 327zM922 193zM820 542zM786 185zM808 216zM1011 387zM806 202zM989 272zM956 149zM879 502zM887 462zM1071 231zM1043 179zM807 393zM900 544zM835 190zM851 193zM796 200zM939 441zM942 442zM837 286zM873 273zM874 475zM854 396zM829 159zM866 404zM849 517zM858 202zM941 583zM967 430zM891 152zM989 174zM845 486zM865 374zM950 309zM901 127zM961 305zM855 163zM1022 169zM885 344zM883 309zM864 455zM792 297zM917 182zM859 437zM789 569zM1005 591zM942 424zM892 392zM939 438zM986 187zM868 449zM955 410zM870 333zM923 391zM832 235zM923 147zM912 348zM906 550zM863 135zM799 201zM796 318zM837 555zM806 322zM858 310zM788 189zM846 150zM945 290zM808 558zM872 525zM782 457zM1044 270zM782 346zM950 504zM900 494zM874 538zM830 464zM814 146zM879 581zM899 506zM1100 554zM880 420zM877 308zM1065 252zM871 577zM817 225zM815 498zM951 187zM905 552zM976 379zM887 369zM928 458zM868 123zM819 123zM796 123zM814 123zM788 124zM815 124zM815 123zM875 125zM793 124zM789 125zM784 124zM815 123zM786 125zM790 125zM819 125zM803 125z"/></g>
<g transform="scale(.5)" filter="url(#bl2)" fill="none" stroke="#1c1c1c" stroke-opacity="0.118" stroke-width="8.2" stroke-linecap="round"><path d="M1354 491zM1409 174zM1386 198zM1418 176zM1434 490zM1315 365zM1280 311zM1320 582zM1442 436zM1306 252zM1282 495zM1318 535zM1417 328zM1355 589zM1424 437zM1503 279zM1318 504zM1331 230zM1336 276zM1335 181zM1403 545zM1537 384zM1308 191zM1301 314zM1329 213zM1323 438zM1471 302zM1335 230zM1389 200zM1433 349zM1391 429zM1343 241zM1314 244zM1281 317zM1308 310zM1518 523zM1406 311zM1333 126zM1288 496zM1340 406zM1368 141zM1378 147zM1311 382zM1426 263zM1406 460zM1340 581zM1286 538zM1283 355zM1323 433zM1381 434zM1321 225zM1476 472zM1307 485zM1322 326zM1332 544zM1447 371zM1488 392zM1338 143zM1427 318zM1295 579zM1328 246zM1376 507zM1391 152zM1400 186zM1508 460zM1340 244zM1351 137zM1282 192zM1399 491zM1443 336zM1448 484zM1491 234zM1365 215zM1370 475zM1512 550zM1422 274zM1395 556zM1345 308zM1315 143zM1306 265zM1343 520zM1355 574zM1438 227zM1331 124zM1326 512zM1314 371zM1316 355zM1285 519zM1307 249zM1281 219zM1371 331zM1425 254zM1322 405zM1315 132zM1353 161zM1463 471zM1340 280zM1320 299zM1390 495zM1324 445zM1311 315zM1424 425zM1589 257zM1418 440zM1343 156zM1398 372zM1317 554zM1375 408zM1282 449zM1347 128zM1294 210zM1321 198zM1328 387zM1404 488zM1451 453zM1356 271zM1364 408zM1397 171zM1339 442zM1410 296zM1345 176zM1334 280zM1347 538zM1309 366zM1302 150zM1305 222zM1357 333zM1567 438zM1298 572zM1350 152zM1393 500zM1339 254zM1295 585zM1323 410zM1578 333zM1418 457zM1423 158zM1360 456zM1309 500zM1382 153zM1314 441zM1314 420zM1368 381zM1339 363zM1383 553zM1335 498zM1350 446zM1477 376zM1394 274zM1344 591zM1310 241zM1303 570zM1317 503zM1452 395zM1479 497zM1355 585zM1303 178zM1411 331zM1312 503zM1490 450zM1463 142zM1380 193zM1330 315zM1349 138zM1454 333zM1276 369zM1359 277zM1312 546zM1386 415zM1310 528zM1440 362zM1310 275zM1301 560zM1396 126zM1342 335zM1330 226zM1425 130zM1470 388zM1333 429zM1429 435zM1399 426zM1303 225zM1300 132zM1338 414zM1334 499zM1340 258zM1449 398zM1285 157zM1303 579zM1439 470zM1315 310zM1282 591zM1338 212zM1305 565zM1361 388zM1366 248zM1287 429zM1350 518zM1368 444zM1368 448zM1412 576zM1292 167zM1361 183zM1321 499zM1348 269zM1350 465zM1481 409zM1312 174zM1382 532zM1320 333zM1344 476zM1360 367zM1319 414zM1321 216zM1347 590zM1358 319zM1321 305zM1390 444zM1317 393zM1365 491zM1445 465zM1299 487zM1328 291zM1408 224zM1284 225zM1429 168zM1481 524zM1320 541zM1413 132zM1410 240zM1360 564zM1358 412zM1389 454zM1374 404zM1322 140zM1366 211zM1488 585zM1273 348zM1299 575zM1347 507zM1458 382zM1346 182zM1377 562zM1355 146zM1381 201zM1407 393zM1381 518zM1283 442zM1296 158zM1478 471zM1321 488zM1277 284zM1336 141zM1345 163zM1467 376zM1336 545zM1496 129zM1343 368zM1471 423zM1399 294zM1319 285zM1300 455zM1482 509zM1555 274zM1374 273zM1277 568zM1321 423zM1382 192zM1420 558zM1391 434zM1293 505zM1334 516zM1332 571zM1320 203zM1330 566zM1346 234zM1283 423zM1357 336zM1279 505zM1313 557zM1354 431zM1291 282zM1416 447zM1358 465zM1373 490zM1401 250zM1315 146zM1275 487zM1350 407zM1300 181zM1347 451zM1365 159zM1336 125zM1364 201zM1339 449zM1342 133zM1285 230zM1457 406zM1465 548zM1304 475zM1433 178zM1451 328zM1362 587zM1294 359zM1374 170zM1372 133zM1468 405zM1400 411zM1296 259zM1425 468zM1300 331zM1320 158zM1294 153zM1396 182zM1375 288zM1372 141zM1281 587zM1333 464zM1430 233zM1381 235zM1335 174zM1391 296zM1352 519zM1375 330zM1475 420zM1364 268zM1434 589zM1427 318zM1433 431zM1477 235zM1284 126zM1312 282zM1312 528zM1325 173zM1274 164zM1402 188zM1291 498zM1328 239zM1329 478zM1439 408zM1331 252zM1314 417zM1435 306zM1337 196zM1332 493zM1268 526zM1443 253zM1390 138zM1292 217zM1402 472zM1396 371zM1375 197zM1358 339zM1375 278zM1503 520zM1397 501zM1429 235zM1393 172zM1329 468zM1346 285zM1340 507zM1333 175zM1364 372zM1372 282zM1285 574zM1324 155zM1410 184zM1431 287zM1301 511zM1320 373zM1385 179zM1352 276zM1296 309zM1331 132zM1437 432zM1496 357zM1372 322zM1281 499zM1426 371zM1291 512zM1543 337zM1402 287zM1386 439zM1295 306zM1336 208zM1368 535zM1285 513zM1429 194zM1379 348zM1370 448zM1331 396zM1334 544zM1315 188zM1275 509zM1300 172zM1380 423zM1292 138zM1439 431zM1299 333zM1426 202zM1337 179zM1455 330zM1401 237zM1333 557zM1355 427zM1485 480zM1601 287zM1402 134zM1398 288zM1316 586zM1310 348zM1362 515zM1430 333zM1334 298zM1419 150zM1520 543zM1323 372zM1337 332zM1312 272zM1426 226zM1448 567zM1575 304zM1387 125zM1508 125zM1419 125zM1425 123zM1512 123zM1383 126zM1479 123zM1357 126zM1391 123zM1385 123zM1375 125zM1427 123zM1481 123zM1448 125zM1458 123zM1438 123z"/><path d="M1378 288zM1378 359zM1340 449zM1371 229zM1304 551zM1404 481zM1272 390zM1323 200zM1414 363zM1351 166zM1330 232zM1449 230zM1296 461zM1364 180zM1315 344zM1304 546zM1337 141zM1287 373zM1357 261zM1415 146zM1363 542zM1354 170zM1339 338zM1340 361zM1418 174zM1438 197zM1322 461zM1274 225zM1315 139zM1315 146zM1443 189zM1347 546zM1448 358zM1529 178zM1418 160zM1310 296zM1521 126zM1360 406zM1329 230zM1401 161zM1304 413zM1438 289zM1311 388zM1522 424zM1293 337zM1291 514zM1319 350zM1306 502zM1363 125zM1304 431zM1315 166zM1517 513zM1353 475zM1343 328zM1451 501zM1475 432zM1339 310zM1441 528zM1296 506zM1330 475zM1388 591zM1406 544zM1325 272zM1292 299zM1320 249zM1318 343zM1383 345zM1420 211zM1310 255zM1288 145zM1359 319zM1395 214zM1380 155zM1402 470zM1303 146zM1295 510zM1300 220zM1367 198zM1433 356zM1298 143zM1311 499zM1510 489zM1303 300zM1376 142zM1376 415zM1299 204zM1374 519zM1368 432zM1399 266zM1536 195zM1590 335zM1476 298zM1535 535zM1411 425zM1487 130zM1367 249zM1344 267zM1514 179zM1316 507zM1337 354zM1371 182zM1330 166zM1308 419zM1339 195zM1361 335zM1455 459zM1278 535zM1316 324zM1378 361zM1315 172zM1301 424zM1334 405zM1323 182zM1327 529zM1386 577zM1446 425zM1508 390zM1327 495zM1336 355zM1302 250zM1401 148zM1318 417zM1363 223zM1308 536zM1378 481zM1301 383zM1322 225zM1430 589zM1371 394zM1349 242zM1391 507zM1445 179zM1407 338zM1443 436zM1333 257zM1418 500zM1403 274zM1424 457zM1310 492zM1378 308zM1317 377zM1271 139zM1301 288zM1313 271zM1350 380zM1323 406zM1377 551zM1326 173zM1310 325zM1293 148zM1310 481zM1538 464zM1326 277zM1450 177zM1293 202zM1280 154zM1347 193zM1415 412zM1370 383zM1418 288zM1369 218zM1300 390zM1392 541zM1320 385zM1285 241zM1383 248zM1288 487zM1359 418zM1369 208zM1284 161zM1369 453zM1333 343zM1312 277zM1328 343zM1277 521zM1285 322zM1369 297zM1317 501zM1438 587zM1539 405zM1319 297zM1431 237zM1380 535zM1423 393zM1308 203zM1413 277zM1385 295zM1330 282zM1405 147zM1422 395zM1346 515zM1429 583zM1407 370zM1307 341zM1273 547zM1458 170zM1300 480zM1357 325zM1360 570zM1420 244zM1562 299zM1297 590zM1298 280zM1496 500zM1346 228zM1384 440zM1329 565zM1510 448zM1381 517zM1376 587zM1295 323zM1361 203zM1300 188zM1366 277zM1389 435zM1380 306zM1441 478zM1311 140zM1420 310zM1334 177zM1319 391zM1358 424zM1434 547zM1280 195zM1295 309zM1307 434zM1296 353zM1395 168zM1329 396zM1456 475zM1455 326zM1359 564zM1396 144zM1452 276zM1552 486zM1300 516zM1298 239zM1430 231zM1285 587zM1359 560zM1286 540zM1374 281zM1294 385zM1328 537zM1341 523zM1356 410zM1317 450zM1409 363zM1330 344zM1302 235zM1287 263zM1386 405zM1302 194zM1507 545zM1417 547zM1442 565zM1442 576zM1371 426zM1328 485zM1386 575zM1299 186zM1333 566zM1300 447zM1316 159zM1283 548zM1299 499zM1470 264zM1412 331zM1289 394zM1332 529zM1401 311zM1336 279zM1327 179zM1337 347zM1391 263zM1306 583zM1357 228zM1306 460zM1286 366zM1334 575zM1284 366zM1285 329zM1348 577zM1325 213zM1314 591zM1368 451zM1362 355zM1412 476zM1387 334zM1347 212zM1392 415zM1574 242zM1454 529zM1308 535zM1372 572zM1361 489zM1388 560zM1406 557zM1290 399zM1342 129zM1459 267zM1356 169zM1379 193zM1385 366zM1381 460zM1281 494zM1329 571zM1319 210zM1299 343zM1325 575zM1335 562zM1303 587zM1334 365zM1284 419zM1345 384zM1412 241zM1558 175zM1305 221zM1359 236zM1326 551zM1415 531zM1374 239zM1301 354zM1454 357zM1342 451zM1362 471zM1484 281zM1307 357zM1311 510zM1444 213zM1408 240zM1315 530zM1471 188zM1322 418zM1310 453zM1500 565zM1365 135zM1306 464zM1313 511zM1388 289zM1335 577zM1308 231zM1437 372zM1330 319zM1287 459zM1418 380zM1329 527zM1393 338zM1372 305zM1544 311zM1360 470zM1361 506zM1326 466zM1346 328zM1309 131zM1318 515zM1325 175zM1299 313zM1296 348zM1363 198zM1333 143zM1413 193zM1376 504zM1355 493zM1283 270zM1315 230zM1288 158zM1285 190zM1388 471zM1314 445zM1308 143zM1380 135zM1310 306zM1297 297zM1325 398zM1471 411zM1497 282zM1386 202zM1343 387zM1279 238zM1357 307zM1425 327zM1358 301zM1494 159zM1299 444zM1398 439zM1326 302zM1341 153zM1342 444zM1357 544zM1465 554zM1458 241zM1351 413zM1308 533zM1350 537zM1393 169zM1387 192zM1377 438zM1387 539zM1287 426zM1340 544zM1296 274zM1334 401zM1304 208zM1340 315zM1376 465zM1439 583zM1287 194zM1291 163zM1301 433zM1384 379zM1371 385zM1311 400zM1362 434zM1390 278zM1325 173zM1328 536zM1300 475zM1317 299zM1309 373zM1494 326zM1342 564zM1440 123zM1438 124zM1475 124zM1497 124zM1434 124zM1496 124zM1422 123zM1455 124zM1479 123zM1459 123zM1435 123zM1494 124zM1438 125zM1382 123zM1395 123zM1500 125z"/><path d="M1363 134zM1484 325zM1365 370zM1409 157zM1341 557zM1375 203zM1301 571zM1294 193zM1385 225zM1448 344zM1367 585zM1441 217zM1395 145zM1498 393zM1374 368zM1478 581zM1450 368zM1363 468zM1397 302zM1513 521zM1472 244zM1340 551zM1395 221zM1311 361zM1355 566zM1326 403zM1467 171zM1318 386zM1319 177zM1294 398zM1290 260zM1296 124zM1490 555zM1301 277zM1414 231zM1339 240zM1310 458zM1343 300zM1329 124zM1400 208zM1295 447zM1299 585zM1432 385zM1393 379zM1381 565zM1551 149zM1300 498zM1297 547zM1341 576zM1362 460zM1302 453zM1322 478zM1343 342zM1323 509zM1407 335zM1350 453zM1341 339zM1286 513zM1287 408zM1286 487zM1311 303zM1385 281zM1407 350zM1367 182zM1501 179zM1415 571zM1332 334zM1348 276zM1320 233zM1284 511zM1331 220zM1340 209zM1453 450zM1428 131zM1308 294zM1358 275zM1299 249zM1293 504zM1397 390zM1345 384zM1326 229zM1284 516zM1312 590zM1325 403zM1285 240zM1345 384zM1286 159zM1289 274zM1311 444zM1358 167zM1485 133zM1371 306zM1322 207zM1429 193zM1309 450zM1420 476zM1428 149zM1385 561zM1370 423zM1385 282zM1329 183zM1366 480zM1361 436zM1532 419zM1357 221zM1366 580zM1281 360zM1306 255zM1488 519zM1382 252zM1305 351zM1393 438zM1395 522zM1337 193zM1476 532zM1337 164zM1404 466zM1418 374zM1498 341zM1372 343zM1404 302zM1326 325zM1336 511zM1321 454zM1435 487zM1289 230zM1333 162zM1385 473zM1415 255zM1341 360zM1460 342zM1348 453zM1315 182zM1314 217zM1325 517zM1474 509zM1395 125zM1541 414zM1308 582zM1501 321zM1290 411zM1338 228zM1301 205zM1325 220zM1456 450zM1332 461zM1331 344zM1492 171zM1289 371zM1283 463zM1373 223zM1312 491zM1325 368zM1339 340zM1338 195zM1438 149zM1410 126zM1391 460zM1316 184zM1299 294zM1272 508zM1296 446zM1336 149zM1335 328zM1296 428zM1309 199zM1444 269zM1333 230zM1359 497zM1308 189zM1328 370zM1411 425zM1372 260zM1311 523zM1343 222zM1487 186zM1289 415zM1361 361zM1454 295zM1290 515zM1409 295zM1280 568zM1321 445zM1424 333zM1367 196zM1569 422zM1382 367zM1354 421zM1337 276zM1339 402zM1297 311zM1377 150zM1336 308zM1470 198zM1320 385zM1435 229zM1306 297zM1350 555zM1348 342zM1358 367zM1284 230zM1378 530zM1295 464zM1423 334zM1287 301zM1420 324zM1310 341zM1368 462zM1373 151zM1392 235zM1390 533zM1362 512zM1412 230zM1289 144zM1292 147zM1371 575zM1491 518zM1421 139zM1378 203zM1324 320zM1376 238zM1363 351zM1290 161zM1338 228zM1352 206zM1420 301zM1422 583zM1307 481zM1307 508zM1396 522zM1394 219zM1381 384zM1410 585zM1457 550zM1312 490zM1286 244zM1408 224zM1473 544zM1382 200zM1392 232zM1358 367zM1333 212zM1430 527zM1446 344zM1302 574zM1271 229zM1452 446zM1405 127zM1460 179zM1305 176zM1315 588zM1503 429zM1300 450zM1365 413zM1368 536zM1305 392zM1282 236zM1455 233zM1329 163zM1334 167zM1359 445zM1312 358zM1404 192zM1359 445zM1378 548zM1302 242zM1380 412zM1308 543zM1276 160zM1309 430zM1311 551zM1484 341zM1369 283zM1361 504zM1331 559zM1272 235zM1393 383zM1413 512zM1345 226zM1300 548zM1291 159zM1322 587zM1286 543zM1457 247zM1303 492zM1277 255zM1287 355zM1316 217zM1371 369zM1334 555zM1515 588zM1280 542zM1386 471zM1447 301zM1329 141zM1342 535zM1410 425zM1351 440zM1317 467zM1370 374zM1377 450zM1315 559zM1439 424zM1607 366zM1339 342zM1403 438zM1460 461zM1375 159zM1295 247zM1343 410zM1448 208zM1311 479zM1360 551zM1351 468zM1430 532zM1312 415zM1349 501zM1377 476zM1319 580zM1298 539zM1391 204zM1338 360zM1372 464zM1380 385zM1420 431zM1388 239zM1425 147zM1297 400zM1417 352zM1407 202zM1480 477zM1305 358zM1383 259zM1333 277zM1463 554zM1399 414zM1289 584zM1443 148zM1372 188zM1567 586zM1296 218zM1335 493zM1398 521zM1392 577zM1328 249zM1429 252zM1386 566zM1533 575zM1324 200zM1391 223zM1488 143zM1320 390zM1284 193zM1338 446zM1367 426zM1340 229zM1346 420zM1355 529zM1324 529zM1327 386zM1306 460zM1354 508zM1344 166zM1416 565zM1327 176zM1305 272zM1371 278zM1290 261zM1309 519zM1416 367zM1389 531zM1298 509zM1330 373zM1386 320zM1371 341zM1359 539zM1372 458zM1351 280zM1304 581zM1334 545zM1276 433zM1581 276zM1303 298zM1340 136zM1368 480zM1452 135zM1300 501zM1303 475zM1372 557zM1379 576zM1470 451zM1383 438zM1322 144zM1309 234zM1304 450zM1452 176zM1294 547zM1280 381zM1421 504zM1482 276zM1294 167zM1318 159zM1433 215zM1384 243zM1312 422zM1310 442zM1344 207zM1340 206zM1325 334zM1389 371zM1406 516zM1321 199zM1318 505zM1364 450zM1364 235zM1287 273zM1370 171zM1345 414zM1435 572zM1438 187zM1484 471zM1474 439zM1393 124zM1428 125zM1421 124zM1369 123zM1449 124zM1513 125zM1465 125zM1484 123zM1420 123zM1384 123zM1376 124zM1511 123zM1389 125zM1464 124zM1406 123zM1474 125z"/><path d="M1438 405zM1293 582zM1331 327zM1305 588zM1338 292zM1296 574zM1350 543zM1365 481zM1365 278zM1303 277zM1302 269zM1338 485zM1366 388zM1323 223zM1320 295zM1270 234zM1470 170zM1337 378zM1396 482zM1384 570zM1305 481zM1306 511zM1384 243zM1350 580zM1364 499zM1536 325zM1338 453zM1296 256zM1383 426zM1339 293zM1429 316zM1333 510zM1298 235zM1302 304zM1453 251zM1510 145zM1526 144zM1327 324zM1315 403zM1385 328zM1414 439zM1331 170zM1374 378zM1307 153zM1408 267zM1286 366zM1393 513zM1304 131zM1560 450zM1493 283zM1335 145zM1336 583zM1312 392zM1305 125zM1350 468zM1299 510zM1286 412zM1354 317zM1306 234zM1300 382zM1273 483zM1283 267zM1304 361zM1299 198zM1288 377zM1310 460zM1387 296zM1609 161zM1288 381zM1334 238zM1440 241zM1388 381zM1300 219zM1381 577zM1345 388zM1371 160zM1402 243zM1295 435zM1324 551zM1342 155zM1485 458zM1357 240zM1491 132zM1317 264zM1340 133zM1344 400zM1341 559zM1399 523zM1368 458zM1340 204zM1386 325zM1374 143zM1334 549zM1333 386zM1381 413zM1341 300zM1282 346zM1461 525zM1313 512zM1475 485zM1373 583zM1300 578zM1334 530zM1306 500zM1388 285zM1339 400zM1383 385zM1302 231zM1322 418zM1430 565zM1413 528zM1393 431zM1514 303zM1381 448zM1376 222zM1398 456zM1331 207zM1308 196zM1333 495zM1348 482zM1290 200zM1296 305zM1333 374zM1433 174zM1273 204zM1325 407zM1458 196zM1316 421zM1297 469zM1332 410zM1323 259zM1379 267zM1399 274zM1408 325zM1319 333zM1293 438zM1285 231zM1346 377zM1376 411zM1333 374zM1383 208zM1374 422zM1346 134zM1304 524zM1370 190zM1468 342zM1455 590zM1354 375zM1368 512zM1381 390zM1343 428zM1364 521zM1312 159zM1323 290zM1447 554zM1525 137zM1424 546zM1294 125zM1292 354zM1320 330zM1392 221zM1304 471zM1288 530zM1288 442zM1286 454zM1340 516zM1414 460zM1290 144zM1344 537zM1353 533zM1338 529zM1364 381zM1271 205zM1304 242zM1488 550zM1309 466zM1336 178zM1372 343zM1385 504zM1505 278zM1308 266zM1294 341zM1295 519zM1529 207zM1319 540zM1385 507zM1312 547zM1461 176zM1334 498zM1281 412zM1324 511zM1433 241zM1494 156zM1595 271zM1431 511zM1369 308zM1328 456zM1582 552zM1332 590zM1457 280zM1304 361zM1314 421zM1411 553zM1400 542zM1303 549zM1283 372zM1300 205zM1318 386zM1370 412zM1304 396zM1345 151zM1302 421zM1513 240zM1287 432zM1337 580zM1359 301zM1341 209zM1381 277zM1503 541zM1279 232zM1298 391zM1322 307zM1333 550zM1440 336zM1331 348zM1386 301zM1381 357zM1281 497zM1368 409zM1396 567zM1276 233zM1415 198zM1387 509zM1389 189zM1293 142zM1430 354zM1486 292zM1422 428zM1328 476zM1312 382zM1321 485zM1414 439zM1421 314zM1380 497zM1314 156zM1330 340zM1442 260zM1426 581zM1312 327zM1315 149zM1294 210zM1315 250zM1325 389zM1429 560zM1403 511zM1309 274zM1324 341zM1304 185zM1346 349zM1335 373zM1319 577zM1375 168zM1336 538zM1380 240zM1362 587zM1328 328zM1430 233zM1499 373zM1405 286zM1380 457zM1406 220zM1290 400zM1279 302zM1335 404zM1360 160zM1279 511zM1299 248zM1431 170zM1388 169zM1313 370zM1406 489zM1403 525zM1305 139zM1406 327zM1311 420zM1299 506zM1364 518zM1285 199zM1365 562zM1400 524zM1317 560zM1345 413zM1354 568zM1306 554zM1275 579zM1390 348zM1302 297zM1328 387zM1277 168zM1346 547zM1385 504zM1460 413zM1559 175zM1395 487zM1314 495zM1348 194zM1370 182zM1328 324zM1335 145zM1344 296zM1422 403zM1295 501zM1300 149zM1520 384zM1401 233zM1333 522zM1435 562zM1317 210zM1359 312zM1381 506zM1317 303zM1348 214zM1383 279zM1401 479zM1367 370zM1349 552zM1469 130zM1319 391zM1346 212zM1322 200zM1306 567zM1400 379zM1310 279zM1461 191zM1334 237zM1286 336zM1331 176zM1356 550zM1331 365zM1333 267zM1323 162zM1296 451zM1296 533zM1275 220zM1325 545zM1368 245zM1444 491zM1387 337zM1349 287zM1583 507zM1277 218zM1360 141zM1409 228zM1452 399zM1334 141zM1283 217zM1307 158zM1356 445zM1515 499zM1572 366zM1336 248zM1326 183zM1348 347zM1431 389zM1372 227zM1315 456zM1281 363zM1312 365zM1364 143zM1342 504zM1392 326zM1374 249zM1381 374zM1304 564zM1398 339zM1276 383zM1325 541zM1293 246zM1310 557zM1382 304zM1388 546zM1391 433zM1290 501zM1456 423zM1305 363zM1338 211zM1299 509zM1298 391zM1305 544zM1318 495zM1399 133zM1391 509zM1420 566zM1394 481zM1327 219zM1346 475zM1329 500zM1340 456zM1364 221zM1306 546zM1359 367zM1439 374zM1413 344zM1289 361zM1361 317zM1341 255zM1411 239zM1307 547zM1315 500zM1496 290zM1360 325zM1279 331zM1307 194zM1393 524zM1343 127zM1333 405zM1287 539zM1328 253zM1351 327zM1373 229zM1386 306zM1340 158zM1479 123zM1498 126zM1366 123zM1509 123zM1468 123zM1530 124zM1422 123zM1368 125zM1496 123zM1464 123zM1464 124zM1403 125zM1433 124zM1427 124zM1351 124zM1470 124z"/><path d="M1428 565zM1505 146zM1582 374zM1370 545zM1408 317zM1304 414zM1353 246zM1317 350zM1465 436zM1389 232zM1300 282zM1299 503zM1458 524zM1391 279zM1554 514zM1328 495zM1315 225zM1388 229zM1331 198zM1325 293zM1295 224zM1520 252zM1347 381zM1329 342zM1271 542zM1285 150zM1402 139zM1314 469zM1357 223zM1351 311zM1347 164zM1336 185zM1326 192zM1382 211zM1356 289zM1292 141zM1363 585zM1362 298zM1337 587zM1421 234zM1466 505zM1308 511zM1349 418zM1339 315zM1320 244zM1341 152zM1336 485zM1434 167zM1374 473zM1519 366zM1319 353zM1377 560zM1502 418zM1296 267zM1318 327zM1348 507zM1282 482zM1366 382zM1420 462zM1370 181zM1286 553zM1317 519zM1339 514zM1418 150zM1292 286zM1419 443zM1317 248zM1324 442zM1280 282zM1289 297zM1294 587zM1390 418zM1276 527zM1334 165zM1341 445zM1369 497zM1423 209zM1360 220zM1278 459zM1373 129zM1305 547zM1289 529zM1423 484zM1501 398zM1338 444zM1386 289zM1305 524zM1360 252zM1417 441zM1290 455zM1376 534zM1282 351zM1448 191zM1430 331zM1404 366zM1305 323zM1318 192zM1313 488zM1336 169zM1349 275zM1338 344zM1344 306zM1398 590zM1358 245zM1483 339zM1397 237zM1307 171zM1409 293zM1355 288zM1537 248zM1386 444zM1521 570zM1473 402zM1365 272zM1288 381zM1359 349zM1347 492zM1441 124zM1332 235zM1324 271zM1337 221zM1298 219zM1448 534zM1300 436zM1345 139zM1368 240zM1342 388zM1404 334zM1422 530zM1374 379zM1489 584zM1370 253zM1302 252zM1300 190zM1400 322zM1291 290zM1344 220zM1323 252zM1351 416zM1376 499zM1339 443zM1274 217zM1527 344zM1286 269zM1403 296zM1316 489zM1527 288zM1555 339zM1335 391zM1415 356zM1400 559zM1346 550zM1358 508zM1314 203zM1342 460zM1295 468zM1325 177zM1339 254zM1415 445zM1288 359zM1317 428zM1355 364zM1300 325zM1542 567zM1454 208zM1340 165zM1478 488zM1372 232zM1397 409zM1320 587zM1327 490zM1401 469zM1367 326zM1352 269zM1314 430zM1361 383zM1339 445zM1308 368zM1345 314zM1455 210zM1461 218zM1353 198zM1355 522zM1355 406zM1280 280zM1336 170zM1354 284zM1284 581zM1307 379zM1310 167zM1326 237zM1359 134zM1386 332zM1397 456zM1372 491zM1365 250zM1345 255zM1347 469zM1374 581zM1383 250zM1432 397zM1295 201zM1334 493zM1351 505zM1325 126zM1428 332zM1316 147zM1291 285zM1358 511zM1347 180zM1351 377zM1355 335zM1332 561zM1323 380zM1338 342zM1290 352zM1395 298zM1303 583zM1359 205zM1350 240zM1328 130zM1398 180zM1285 133zM1318 251zM1374 355zM1428 189zM1445 258zM1301 233zM1377 205zM1325 320zM1364 126zM1391 180zM1331 304zM1340 366zM1322 491zM1365 216zM1328 313zM1310 334zM1287 270zM1306 162zM1432 567zM1306 297zM1276 372zM1356 220zM1325 268zM1312 477zM1384 450zM1347 529zM1332 274zM1311 234zM1551 347zM1385 278zM1403 202zM1367 282zM1402 564zM1319 441zM1316 325zM1371 195zM1283 430zM1294 530zM1365 260zM1364 483zM1372 330zM1340 529zM1281 541zM1387 325zM1292 294zM1381 185zM1293 521zM1328 169zM1342 527zM1284 472zM1294 365zM1293 283zM1304 144zM1358 135zM1317 180zM1369 555zM1350 268zM1434 502zM1316 485zM1291 224zM1306 248zM1351 349zM1499 216zM1373 406zM1282 334zM1305 303zM1546 350zM1355 262zM1523 350zM1404 462zM1314 498zM1388 336zM1478 184zM1422 143zM1357 156zM1299 529zM1307 306zM1359 184zM1306 431zM1303 412zM1296 516zM1293 454zM1388 464zM1438 464zM1452 198zM1387 373zM1309 126zM1367 404zM1480 196zM1341 470zM1371 226zM1303 297zM1410 129zM1450 409zM1392 341zM1379 563zM1332 370zM1412 568zM1425 330zM1333 350zM1365 376zM1332 435zM1339 359zM1326 422zM1272 589zM1315 180zM1288 373zM1352 553zM1435 527zM1528 547zM1393 175zM1328 540zM1359 463zM1280 423zM1482 447zM1313 540zM1400 551zM1434 482zM1309 408zM1387 487zM1364 294zM1280 461zM1321 139zM1519 228zM1360 515zM1592 398zM1546 174zM1350 342zM1302 467zM1433 366zM1324 345zM1308 457zM1340 567zM1413 480zM1404 389zM1304 218zM1330 583zM1362 549zM1316 390zM1342 548zM1433 517zM1308 381zM1295 551zM1369 467zM1327 417zM1360 188zM1346 388zM1295 459zM1441 280zM1357 493zM1283 431zM1317 264zM1336 128zM1337 193zM1329 289zM1403 339zM1336 273zM1385 458zM1318 529zM1303 200zM1291 214zM1389 411zM1450 356zM1377 164zM1339 590zM1312 518zM1377 413zM1364 565zM1291 258zM1339 409zM1303 502zM1520 318zM1315 464zM1304 528zM1293 482zM1363 248zM1526 334zM1457 208zM1287 285zM1321 301zM1291 463zM1420 452zM1328 544zM1365 514zM1343 429zM1394 547zM1549 429zM1515 457zM1305 459zM1310 446zM1435 281zM1273 513zM1345 555zM1349 264zM1339 263zM1340 187zM1357 202zM1292 341zM1402 463zM1355 193zM1448 123zM1362 125zM1431 124zM1391 126zM1396 123zM1361 123zM1445 123zM1443 123zM1374 124zM1491 123zM1381 123zM1385 124zM1475 125zM1390 124zM1443 125zM1451 124z"/><path d="M1317 362zM1284 273zM1375 292zM1314 125zM1339 275zM1278 517zM1353 250zM1341 291zM1347 563zM1305 258zM1269 474zM1275 254zM1435 454zM1413 393zM1408 138zM1327 281zM1324 252zM1340 569zM1361 406zM1417 160zM1301 349zM1436 140zM1281 563zM1324 511zM1288 454zM1360 211zM1288 199zM1478 172zM1296 477zM1378 228zM1340 298zM1495 521zM1357 335zM1363 138zM1365 581zM1381 469zM1304 341zM1465 354zM1357 553zM1362 543zM1379 172zM1330 221zM1327 270zM1449 290zM1357 310zM1313 230zM1334 388zM1398 131zM1317 352zM1338 377zM1323 138zM1291 277zM1317 165zM1369 159zM1330 505zM1316 131zM1382 129zM1350 199zM1313 363zM1397 208zM1289 388zM1429 326zM1299 535zM1552 167zM1368 578zM1389 285zM1331 486zM1382 208zM1396 563zM1358 292zM1305 366zM1338 420zM1341 482zM1448 456zM1514 520zM1359 128zM1443 283zM1278 210zM1441 419zM1330 468zM1403 381zM1528 516zM1329 567zM1280 326zM1362 351zM1281 443zM1464 568zM1381 341zM1309 241zM1476 496zM1546 240zM1313 213zM1312 525zM1457 563zM1475 363zM1368 247zM1367 456zM1510 348zM1331 408zM1313 578zM1396 161zM1409 286zM1321 482zM1363 403zM1314 214zM1421 217zM1318 466zM1314 506zM1326 215zM1327 547zM1303 493zM1299 242zM1308 567zM1302 271zM1321 405zM1325 204zM1303 161zM1401 219zM1351 339zM1395 493zM1424 238zM1493 395zM1309 454zM1359 302zM1290 284zM1348 204zM1342 124zM1331 161zM1353 279zM1331 255zM1322 484zM1455 241zM1400 143zM1592 292zM1457 174zM1311 362zM1314 497zM1315 182zM1376 250zM1372 228zM1275 198zM1425 390zM1426 384zM1401 519zM1410 503zM1404 378zM1277 474zM1495 187zM1467 442zM1363 269zM1294 414zM1279 457zM1364 564zM1460 182zM1351 414zM1462 565zM1282 287zM1381 498zM1538 177zM1394 381zM1388 125zM1353 163zM1336 125zM1319 258zM1387 275zM1344 307zM1376 519zM1320 161zM1274 249zM1293 575zM1298 357zM1296 395zM1295 196zM1487 249zM1298 200zM1291 559zM1372 234zM1402 466zM1333 306zM1404 220zM1307 484zM1344 208zM1347 472zM1381 145zM1306 375zM1327 541zM1373 314zM1309 297zM1471 459zM1310 133zM1345 518zM1302 444zM1283 392zM1359 135zM1275 153zM1386 548zM1371 345zM1436 496zM1336 257zM1301 383zM1450 569zM1310 245zM1320 228zM1362 151zM1299 460zM1295 175zM1497 344zM1467 322zM1426 245zM1319 404zM1297 131zM1278 154zM1310 259zM1380 268zM1416 468zM1288 289zM1301 334zM1334 437zM1276 402zM1320 228zM1392 397zM1321 249zM1405 226zM1408 238zM1331 501zM1332 210zM1368 557zM1328 519zM1419 527zM1317 566zM1284 372zM1385 395zM1302 498zM1465 177zM1300 515zM1319 411zM1321 374zM1401 454zM1408 483zM1439 501zM1426 446zM1390 252zM1445 131zM1569 327zM1325 574zM1394 489zM1305 374zM1373 428zM1293 588zM1308 575zM1298 151zM1277 285zM1306 529zM1469 534zM1356 473zM1302 532zM1348 591zM1419 571zM1313 144zM1347 489zM1316 124zM1313 338zM1411 154zM1314 574zM1367 234zM1319 195zM1276 312zM1292 141zM1381 576zM1454 386zM1298 589zM1377 427zM1293 399zM1354 305zM1301 173zM1310 225zM1325 330zM1387 470zM1353 280zM1331 360zM1336 572zM1377 125zM1366 346zM1272 544zM1355 412zM1380 571zM1335 266zM1394 351zM1432 539zM1312 316zM1404 526zM1414 190zM1411 402zM1354 336zM1340 254zM1319 234zM1360 549zM1302 563zM1382 410zM1296 346zM1272 223zM1346 459zM1417 238zM1411 403zM1341 386zM1539 295zM1403 528zM1411 413zM1307 416zM1359 340zM1297 302zM1313 390zM1410 500zM1376 244zM1385 582zM1287 324zM1356 580zM1318 343zM1334 210zM1309 271zM1401 289zM1360 255zM1321 434zM1397 235zM1384 568zM1344 280zM1312 186zM1313 475zM1475 209zM1353 365zM1297 313zM1321 206zM1310 232zM1301 189zM1298 343zM1371 181zM1300 159zM1350 423zM1369 257zM1368 237zM1370 571zM1354 299zM1293 139zM1312 524zM1312 462zM1315 538zM1303 550zM1343 461zM1365 216zM1449 162zM1327 378zM1348 549zM1505 540zM1277 250zM1309 545zM1311 529zM1315 406zM1328 582zM1404 326zM1359 437zM1327 412zM1368 288zM1314 467zM1388 201zM1325 216zM1312 279zM1300 567zM1497 218zM1390 464zM1403 405zM1304 520zM1420 481zM1336 410zM1300 502zM1324 451zM1441 433zM1377 552zM1297 367zM1353 245zM1371 413zM1359 426zM1326 494zM1378 417zM1414 365zM1365 526zM1326 419zM1341 183zM1474 586zM1340 406zM1303 164zM1447 178zM1306 398zM1350 570zM1400 295zM1509 450zM1400 558zM1323 338zM1481 283zM1342 184zM1307 247zM1330 181zM1289 208zM1318 575zM1421 183zM1339 534zM1280 273zM1527 149zM1372 352zM1291 229zM1373 310zM1285 475zM1338 533zM1300 544zM1339 268zM1308 155zM1490 394zM1422 134zM1310 210zM1302 295zM1387 485zM1392 349zM1316 273zM1495 123zM1435 126zM1437 125zM1422 125zM1509 125zM1409 123zM1437 123zM1370 124zM1441 124zM1367 125zM1433 124zM1407 125zM1455 125zM1391 125zM1488 125zM1511 123z"/><path d="M1482 136zM1446 547zM1355 585zM1474 342zM1350 413zM1318 391zM1373 473zM1328 209zM1305 517zM1483 272zM1459 482zM1336 201zM1473 203zM1308 398zM1277 436zM1318 448zM1301 513zM1363 234zM1459 302zM1372 272zM1362 325zM1347 376zM1345 260zM1378 405zM1354 170zM1468 322zM1302 170zM1345 564zM1391 237zM1293 176zM1365 277zM1407 544zM1298 562zM1299 196zM1297 165zM1404 589zM1324 204zM1308 337zM1491 292zM1453 236zM1306 384zM1285 277zM1375 547zM1311 406zM1298 556zM1304 535zM1366 329zM1350 504zM1303 258zM1405 180zM1513 563zM1437 503zM1302 414zM1341 531zM1320 334zM1409 235zM1390 326zM1318 387zM1392 370zM1356 467zM1385 584zM1328 310zM1348 143zM1466 534zM1351 386zM1396 197zM1405 312zM1335 282zM1296 134zM1420 430zM1310 524zM1391 519zM1297 135zM1572 363zM1377 251zM1404 174zM1353 578zM1402 234zM1505 130zM1352 486zM1338 270zM1290 230zM1531 154zM1405 538zM1317 528zM1451 237zM1355 568zM1377 279zM1305 532zM1608 138zM1349 143zM1323 571zM1384 415zM1365 125zM1311 192zM1396 191zM1299 341zM1286 160zM1325 194zM1348 297zM1289 278zM1329 254zM1313 584zM1314 136zM1308 385zM1332 563zM1302 556zM1404 407zM1456 455zM1312 391zM1344 455zM1342 423zM1283 470zM1373 165zM1329 169zM1405 533zM1311 313zM1335 548zM1304 309zM1327 590zM1330 469zM1458 481zM1317 141zM1355 263zM1422 148zM1326 344zM1387 314zM1387 270zM1439 369zM1415 325zM1338 364zM1330 557zM1486 327zM1333 181zM1496 275zM1315 573zM1293 544zM1330 208zM1370 472zM1306 442zM1431 504zM1284 274zM1302 212zM1420 322zM1361 234zM1292 415zM1326 136zM1292 227zM1339 277zM1327 548zM1316 388zM1326 164zM1440 564zM1344 462zM1280 537zM1409 204zM1401 516zM1522 243zM1342 507zM1357 375zM1515 308zM1384 145zM1301 276zM1419 211zM1398 224zM1336 498zM1393 438zM1319 488zM1320 198zM1386 347zM1451 344zM1337 508zM1450 558zM1423 522zM1296 124zM1294 362zM1298 346zM1343 447zM1406 353zM1371 330zM1342 416zM1373 417zM1388 306zM1321 167zM1410 488zM1345 497zM1282 479zM1312 285zM1319 154zM1324 159zM1539 538zM1434 253zM1477 132zM1349 194zM1426 131zM1352 257zM1310 498zM1339 591zM1382 470zM1442 322zM1326 554zM1288 187zM1358 360zM1339 255zM1385 327zM1433 521zM1286 303zM1382 186zM1423 588zM1329 207zM1306 588zM1392 271zM1334 294zM1404 279zM1388 484zM1299 447zM1328 580zM1319 259zM1306 537zM1380 338zM1309 446zM1368 227zM1328 575zM1312 408zM1517 352zM1349 338zM1346 265zM1359 480zM1330 250zM1270 388zM1349 424zM1422 583zM1412 550zM1337 504zM1391 335zM1313 213zM1357 334zM1296 177zM1286 445zM1374 151zM1309 401zM1286 289zM1322 390zM1447 321zM1301 524zM1294 567zM1296 267zM1503 425zM1356 209zM1405 560zM1394 476zM1347 224zM1320 167zM1303 389zM1371 421zM1308 561zM1344 463zM1297 492zM1306 340zM1424 584zM1317 407zM1430 352zM1355 422zM1434 184zM1358 250zM1419 192zM1302 403zM1499 230zM1341 386zM1313 541zM1410 323zM1473 500zM1321 367zM1350 554zM1344 225zM1442 301zM1447 587zM1377 263zM1396 138zM1310 449zM1342 424zM1430 145zM1498 284zM1328 225zM1409 174zM1273 165zM1418 589zM1355 558zM1351 420zM1442 519zM1393 407zM1304 137zM1459 452zM1381 492zM1359 367zM1282 227zM1383 171zM1323 361zM1326 468zM1392 297zM1364 204zM1505 257zM1467 378zM1384 492zM1286 362zM1489 199zM1345 235zM1406 231zM1365 519zM1349 459zM1300 412zM1402 221zM1302 238zM1346 257zM1332 152zM1326 165zM1375 141zM1372 262zM1388 472zM1403 397zM1355 522zM1352 160zM1361 516zM1454 571zM1276 528zM1380 521zM1307 565zM1305 254zM1274 264zM1306 135zM1313 371zM1330 560zM1298 206zM1398 271zM1303 398zM1335 494zM1318 204zM1331 558zM1380 328zM1362 214zM1320 526zM1310 303zM1340 496zM1419 141zM1409 450zM1295 587zM1285 131zM1418 551zM1320 273zM1547 341zM1296 586zM1530 522zM1568 567zM1318 166zM1401 390zM1346 308zM1351 543zM1360 481zM1562 458zM1325 186zM1402 169zM1390 315zM1429 427zM1341 387zM1422 147zM1354 236zM1372 500zM1370 341zM1343 280zM1305 385zM1305 187zM1281 507zM1309 563zM1390 338zM1379 286zM1324 376zM1513 216zM1279 162zM1395 395zM1376 200zM1391 467zM1368 542zM1275 237zM1425 427zM1554 406zM1298 215zM1483 352zM1351 355zM1337 136zM1284 302zM1313 455zM1529 261zM1318 272zM1406 395zM1388 422zM1372 290zM1470 561zM1575 254zM1497 295zM1391 471zM1467 328zM1485 326zM1278 184zM1371 188zM1325 489zM1523 197zM1497 520zM1365 362zM1290 307zM1283 500zM1319 455zM1327 519zM1374 166zM1402 558zM1336 439zM1327 580zM1346 255zM1283 543zM1373 465zM1298 493zM1388 307zM1433 125zM1461 124zM1465 124zM1463 125zM1409 125zM1519 124zM1444 124zM1355 124zM1419 126zM1412 124zM1407 125zM1377 123zM1475 123zM1484 125zM1396 126zM1351 123zM1380 124z"/><path d="M1425 288zM1289 351zM1355 426zM1542 580zM1312 274zM1358 474zM1307 564zM1333 469zM1404 405zM1361 373zM1354 583zM1320 126zM1301 542zM1302 518zM1422 170zM1295 584zM1379 160zM1280 221zM1313 258zM1308 497zM1310 453zM1315 378zM1513 332zM1400 317zM1328 466zM1379 462zM1305 586zM1326 335zM1411 238zM1393 249zM1388 394zM1350 326zM1456 446zM1477 178zM1379 430zM1416 334zM1345 566zM1343 536zM1345 141zM1285 348zM1387 369zM1294 487zM1290 357zM1362 498zM1351 516zM1319 515zM1447 352zM1289 306zM1476 225zM1322 443zM1346 174zM1312 568zM1426 474zM1300 451zM1307 427zM1402 142zM1364 305zM1340 307zM1330 564zM1345 484zM1299 274zM1359 213zM1311 151zM1324 306zM1353 207zM1290 322zM1352 525zM1328 573zM1305 129zM1352 495zM1326 296zM1435 240zM1373 222zM1327 373zM1311 207zM1297 528zM1301 549zM1432 307zM1392 581zM1403 506zM1331 155zM1307 375zM1370 149zM1497 264zM1388 216zM1365 382zM1340 382zM1351 135zM1428 232zM1339 366zM1302 464zM1371 418zM1336 152zM1446 215zM1432 265zM1340 501zM1517 496zM1488 182zM1406 162zM1343 446zM1285 324zM1324 199zM1415 567zM1308 323zM1383 390zM1384 454zM1344 201zM1339 499zM1342 426zM1421 466zM1289 482zM1308 478zM1288 329zM1341 560zM1432 206zM1378 563zM1351 337zM1316 199zM1372 177zM1354 588zM1393 149zM1444 306zM1342 555zM1312 240zM1293 429zM1278 502zM1366 522zM1309 281zM1392 397zM1333 214zM1309 434zM1381 434zM1433 501zM1317 576zM1440 186zM1353 157zM1457 187zM1379 383zM1389 127zM1305 369zM1296 296zM1394 322zM1344 281zM1319 307zM1365 345zM1352 514zM1314 525zM1348 191zM1314 382zM1355 589zM1433 347zM1358 561zM1331 404zM1314 559zM1354 377zM1356 399zM1494 225zM1426 425zM1347 403zM1278 167zM1433 331zM1295 538zM1524 535zM1370 504zM1315 515zM1289 400zM1294 466zM1310 584zM1387 424zM1360 582zM1362 263zM1309 256zM1301 369zM1313 159zM1303 403zM1399 296zM1330 344zM1359 327zM1324 510zM1322 548zM1304 418zM1377 413zM1395 540zM1378 387zM1388 552zM1306 438zM1326 312zM1319 468zM1321 221zM1308 131zM1378 197zM1431 496zM1323 560zM1312 509zM1381 415zM1370 539zM1392 183zM1362 250zM1380 425zM1342 575zM1395 404zM1446 181zM1353 295zM1346 284zM1489 225zM1320 266zM1341 143zM1452 273zM1442 269zM1343 582zM1383 327zM1424 179zM1306 517zM1292 146zM1420 550zM1305 217zM1313 315zM1375 415zM1327 427zM1287 575zM1580 307zM1334 333zM1322 418zM1407 556zM1279 357zM1291 153zM1382 127zM1310 537zM1354 439zM1323 390zM1354 389zM1305 426zM1342 274zM1367 150zM1439 127zM1277 346zM1348 542zM1409 301zM1545 234zM1282 389zM1305 279zM1338 486zM1379 384zM1347 368zM1385 202zM1429 513zM1337 172zM1294 337zM1368 526zM1384 462zM1426 184zM1315 568zM1317 296zM1329 404zM1277 434zM1323 191zM1358 573zM1293 226zM1308 433zM1407 534zM1390 364zM1368 509zM1291 365zM1335 367zM1462 494zM1323 423zM1303 491zM1310 536zM1303 575zM1336 269zM1313 290zM1365 570zM1427 133zM1297 307zM1412 411zM1399 431zM1320 471zM1382 495zM1367 518zM1313 492zM1335 289zM1368 365zM1383 352zM1442 339zM1358 347zM1296 319zM1349 170zM1457 278zM1474 387zM1292 205zM1444 590zM1345 188zM1294 387zM1311 342zM1360 427zM1377 149zM1322 376zM1420 585zM1352 175zM1543 252zM1439 545zM1293 273zM1288 267zM1408 193zM1406 310zM1339 576zM1383 485zM1306 579zM1326 547zM1325 272zM1303 245zM1575 395zM1302 304zM1293 465zM1536 202zM1303 361zM1463 536zM1372 140zM1383 299zM1316 422zM1304 223zM1439 587zM1395 263zM1394 430zM1373 233zM1425 359zM1345 180zM1453 447zM1288 221zM1346 226zM1321 192zM1330 505zM1367 535zM1359 491zM1316 464zM1320 227zM1513 454zM1298 260zM1278 204zM1510 177zM1439 228zM1292 509zM1298 479zM1377 208zM1296 210zM1380 346zM1288 256zM1329 258zM1503 236zM1305 142zM1410 532zM1342 486zM1354 571zM1342 239zM1339 243zM1333 455zM1294 227zM1367 315zM1310 277zM1388 232zM1331 421zM1351 242zM1334 568zM1389 188zM1357 230zM1319 151zM1394 533zM1290 531zM1374 279zM1371 201zM1354 310zM1303 536zM1370 411zM1294 202zM1379 455zM1342 554zM1418 200zM1321 246zM1511 421zM1383 572zM1291 574zM1298 350zM1353 532zM1404 412zM1342 241zM1458 537zM1291 211zM1290 148zM1298 576zM1287 567zM1314 356zM1313 355zM1283 210zM1406 228zM1493 568zM1303 366zM1293 478zM1342 509zM1333 254zM1355 579zM1298 479zM1326 407zM1366 330zM1374 221zM1372 435zM1358 360zM1395 573zM1307 193zM1384 363zM1306 418zM1288 393zM1303 214zM1305 313zM1375 510zM1287 528zM1367 308zM1308 574zM1321 379zM1448 403zM1291 377zM1383 473zM1512 123zM1509 124zM1412 125zM1467 126zM1409 123zM1398 123zM1413 123zM1428 124zM1498 124zM1449 125zM1477 123zM1390 123zM1461 125zM1363 126zM1359 124zM1481 125zM1479 124z"/><path d="M1460 232zM1461 388zM1378 313zM1399 475zM1342 371zM1304 273zM1290 274zM1468 258zM1586 481zM1318 453zM1315 482zM1318 407zM1340 508zM1340 262zM1300 489zM1416 372zM1306 580zM1341 232zM1358 439zM1339 163zM1420 148zM1310 479zM1334 385zM1371 490zM1348 180zM1445 392zM1369 482zM1305 189zM1336 497zM1341 169zM1332 163zM1318 144zM1300 163zM1393 392zM1418 521zM1290 316zM1372 259zM1314 337zM1335 315zM1381 442zM1285 184zM1374 589zM1350 455zM1312 123zM1318 490zM1277 161zM1277 146zM1302 490zM1301 458zM1316 183zM1295 420zM1388 521zM1455 403zM1360 506zM1393 515zM1471 446zM1401 374zM1366 566zM1291 171zM1325 452zM1323 512zM1363 434zM1493 311zM1320 215zM1421 384zM1347 436zM1316 170zM1335 516zM1303 331zM1374 439zM1381 160zM1375 460zM1445 409zM1321 386zM1374 305zM1320 441zM1306 175zM1340 415zM1324 370zM1302 398zM1357 497zM1299 157zM1345 364zM1422 192zM1377 563zM1318 239zM1336 277zM1429 285zM1299 580zM1298 204zM1315 223zM1294 585zM1389 326zM1352 256zM1340 353zM1505 259zM1347 354zM1292 207zM1300 153zM1387 468zM1382 448zM1367 367zM1321 582zM1467 515zM1345 399zM1315 524zM1297 499zM1355 378zM1380 521zM1322 506zM1341 328zM1354 525zM1316 156zM1456 560zM1274 386zM1342 430zM1358 229zM1427 401zM1331 474zM1408 302zM1347 259zM1329 548zM1410 389zM1291 143zM1359 476zM1472 128zM1403 399zM1381 450zM1304 296zM1348 337zM1439 427zM1384 189zM1356 523zM1375 300zM1401 315zM1367 181zM1279 466zM1350 585zM1439 240zM1408 368zM1334 159zM1544 390zM1340 590zM1379 354zM1375 334zM1319 400zM1328 504zM1351 200zM1378 207zM1302 478zM1334 586zM1411 128zM1350 336zM1367 290zM1503 276zM1409 421zM1446 427zM1382 539zM1403 226zM1344 589zM1325 463zM1347 148zM1446 495zM1436 412zM1358 511zM1305 253zM1329 307zM1298 250zM1469 445zM1468 127zM1299 333zM1336 271zM1403 460zM1328 537zM1283 564zM1306 524zM1313 403zM1282 384zM1554 555zM1357 225zM1323 420zM1295 291zM1346 344zM1336 398zM1345 245zM1454 454zM1304 572zM1407 499zM1346 195zM1338 252zM1459 260zM1317 432zM1317 196zM1370 205zM1307 552zM1463 254zM1303 426zM1321 152zM1314 308zM1409 368zM1391 574zM1298 393zM1464 580zM1373 153zM1372 486zM1306 467zM1326 458zM1528 272zM1403 499zM1418 284zM1347 347zM1332 411zM1327 196zM1289 195zM1410 575zM1406 248zM1305 274zM1383 591zM1291 206zM1386 396zM1332 206zM1421 475zM1353 186zM1556 590zM1295 544zM1304 323zM1367 395zM1353 590zM1377 197zM1275 169zM1368 429zM1565 284zM1359 124zM1328 214zM1326 350zM1516 572zM1366 344zM1362 195zM1291 193zM1344 139zM1295 136zM1388 167zM1329 335zM1318 400zM1518 154zM1432 419zM1366 444zM1337 141zM1287 312zM1388 403zM1367 484zM1308 171zM1353 511zM1285 276zM1543 408zM1285 132zM1366 587zM1470 221zM1449 421zM1294 144zM1365 565zM1456 178zM1330 325zM1338 533zM1407 167zM1368 223zM1426 454zM1465 229zM1401 246zM1299 232zM1311 465zM1457 324zM1286 265zM1438 520zM1360 163zM1334 257zM1426 217zM1391 586zM1273 473zM1423 190zM1426 589zM1323 315zM1452 469zM1331 331zM1601 194zM1322 394zM1354 522zM1368 242zM1393 365zM1593 202zM1382 543zM1429 360zM1390 468zM1520 547zM1325 192zM1450 134zM1404 414zM1270 387zM1306 246zM1336 291zM1463 458zM1327 401zM1460 438zM1418 547zM1523 162zM1406 341zM1353 454zM1315 402zM1401 420zM1343 259zM1372 140zM1309 492zM1304 356zM1285 223zM1451 489zM1436 176zM1400 444zM1380 264zM1335 488zM1371 340zM1425 195zM1436 553zM1497 491zM1561 161zM1342 588zM1538 315zM1330 519zM1395 387zM1351 326zM1336 422zM1337 158zM1523 409zM1284 447zM1376 450zM1359 152zM1285 251zM1400 200zM1356 540zM1335 151zM1471 373zM1402 361zM1370 197zM1405 427zM1301 415zM1434 552zM1350 346zM1421 427zM1307 315zM1316 495zM1377 133zM1346 540zM1294 509zM1295 577zM1304 481zM1330 144zM1466 504zM1339 379zM1368 432zM1287 549zM1323 156zM1346 591zM1309 458zM1313 567zM1440 302zM1343 436zM1309 361zM1304 470zM1297 273zM1436 394zM1336 405zM1375 434zM1430 218zM1353 500zM1452 179zM1281 241zM1343 300zM1311 369zM1290 590zM1377 478zM1313 332zM1336 256zM1274 146zM1276 471zM1325 187zM1299 188zM1324 326zM1426 488zM1387 566zM1333 574zM1321 123zM1531 314zM1364 277zM1582 445zM1369 308zM1342 309zM1291 348zM1302 502zM1292 383zM1315 355zM1369 300zM1279 495zM1391 323zM1322 158zM1540 421zM1278 221zM1317 543zM1291 589zM1394 408zM1304 556zM1288 390zM1409 244zM1503 362zM1336 551zM1353 424zM1333 455zM1335 380zM1334 152zM1420 147zM1376 185zM1337 335zM1376 431zM1451 123zM1473 123zM1402 123zM1464 123zM1495 126zM1485 124zM1446 124zM1445 124zM1503 124zM1469 124zM1351 124zM1461 123zM1429 125zM1390 123zM1473 123zM1460 124zM1460 124z"/><path d="M1360 181zM1310 290zM1341 352zM1309 569zM1561 214zM1319 183zM1279 372zM1361 151zM1288 349zM1310 342zM1413 496zM1306 380zM1298 273zM1306 306zM1304 328zM1273 272zM1276 240zM1338 251zM1328 165zM1308 437zM1376 170zM1500 163zM1405 587zM1375 570zM1365 238zM1298 475zM1357 246zM1313 348zM1310 375zM1339 141zM1503 272zM1407 547zM1444 347zM1288 368zM1400 318zM1386 370zM1309 387zM1402 438zM1339 193zM1389 253zM1302 205zM1328 505zM1364 216zM1310 348zM1543 555zM1339 529zM1421 495zM1283 465zM1324 591zM1397 515zM1301 454zM1296 300zM1497 566zM1382 361zM1379 470zM1335 520zM1290 269zM1349 439zM1296 349zM1361 477zM1356 408zM1391 491zM1330 363zM1305 158zM1497 539zM1372 148zM1346 128zM1280 274zM1300 573zM1324 289zM1274 209zM1361 504zM1410 514zM1328 513zM1390 243zM1305 582zM1386 422zM1330 362zM1281 228zM1407 324zM1354 524zM1372 360zM1285 546zM1347 527zM1332 269zM1346 253zM1491 545zM1277 463zM1418 263zM1321 274zM1283 186zM1518 329zM1308 385zM1294 511zM1433 157zM1297 577zM1357 511zM1331 202zM1320 323zM1365 454zM1405 321zM1482 522zM1386 524zM1321 472zM1434 284zM1478 293zM1493 236zM1362 545zM1286 179zM1329 198zM1402 267zM1430 561zM1419 150zM1370 262zM1347 400zM1385 141zM1283 324zM1277 350zM1356 328zM1298 588zM1344 572zM1367 577zM1298 227zM1414 479zM1367 384zM1335 537zM1373 499zM1335 203zM1426 564zM1319 144zM1297 378zM1369 369zM1461 490zM1324 262zM1340 410zM1411 233zM1497 253zM1470 267zM1309 253zM1358 267zM1421 193zM1491 538zM1432 353zM1308 158zM1311 443zM1295 310zM1285 584zM1285 445zM1305 206zM1277 144zM1401 236zM1308 318zM1357 343zM1284 556zM1330 206zM1426 378zM1358 327zM1292 153zM1331 389zM1506 351zM1292 427zM1314 215zM1418 397zM1305 236zM1408 297zM1579 366zM1432 235zM1289 140zM1331 550zM1346 521zM1320 405zM1366 492zM1291 160zM1337 234zM1286 344zM1402 378zM1334 380zM1417 430zM1309 455zM1284 471zM1473 179zM1405 269zM1314 526zM1426 294zM1366 364zM1301 438zM1350 258zM1346 128zM1294 473zM1289 378zM1280 351zM1389 372zM1290 161zM1315 219zM1421 234zM1305 166zM1361 341zM1329 134zM1294 222zM1421 165zM1459 586zM1351 530zM1411 385zM1327 185zM1425 561zM1307 415zM1422 179zM1277 502zM1358 507zM1414 359zM1363 406zM1327 444zM1308 338zM1282 297zM1338 124zM1422 405zM1469 516zM1275 177zM1499 272zM1310 452zM1389 132zM1321 165zM1339 245zM1564 413zM1341 435zM1303 514zM1434 515zM1396 586zM1354 133zM1334 307zM1356 538zM1322 589zM1392 217zM1289 526zM1534 435zM1293 370zM1337 495zM1513 439zM1358 305zM1407 452zM1341 177zM1361 462zM1441 488zM1277 252zM1553 323zM1352 392zM1366 338zM1344 220zM1296 575zM1399 182zM1291 301zM1275 141zM1356 165zM1321 577zM1468 365zM1318 212zM1277 390zM1279 296zM1400 320zM1277 371zM1422 167zM1341 286zM1376 268zM1447 364zM1285 285zM1293 548zM1402 539zM1343 250zM1404 466zM1405 590zM1457 560zM1446 498zM1550 408zM1415 317zM1293 255zM1402 548zM1378 141zM1348 149zM1355 563zM1275 167zM1357 398zM1337 434zM1387 582zM1363 534zM1333 310zM1323 164zM1350 149zM1327 191zM1292 496zM1325 394zM1280 520zM1296 457zM1376 259zM1330 131zM1333 373zM1383 585zM1338 519zM1417 529zM1324 279zM1304 581zM1305 500zM1299 583zM1345 204zM1344 397zM1299 218zM1396 279zM1411 411zM1395 157zM1364 393zM1365 515zM1297 534zM1318 231zM1598 298zM1483 234zM1418 441zM1423 370zM1455 222zM1349 478zM1444 283zM1302 514zM1419 188zM1416 191zM1370 336zM1330 199zM1349 289zM1388 303zM1351 561zM1340 201zM1345 534zM1430 142zM1322 427zM1312 480zM1395 195zM1302 151zM1433 202zM1384 525zM1374 586zM1437 182zM1408 559zM1371 470zM1310 549zM1343 180zM1301 419zM1398 489zM1493 303zM1290 187zM1305 257zM1298 499zM1329 450zM1303 191zM1288 506zM1290 535zM1392 435zM1329 338zM1541 293zM1413 395zM1355 347zM1421 456zM1363 212zM1328 374zM1366 510zM1381 431zM1368 525zM1272 124zM1341 498zM1393 460zM1334 408zM1290 493zM1405 328zM1305 501zM1275 226zM1278 390zM1289 464zM1300 404zM1416 425zM1358 592zM1431 143zM1562 505zM1467 177zM1337 453zM1349 516zM1339 351zM1344 372zM1281 291zM1322 357zM1393 546zM1324 530zM1356 490zM1321 372zM1503 255zM1330 135zM1344 223zM1338 209zM1402 419zM1356 188zM1389 379zM1399 307zM1317 403zM1315 249zM1320 228zM1310 563zM1379 157zM1342 446zM1319 569zM1274 578zM1347 237zM1426 128zM1372 236zM1344 212zM1446 562zM1336 304zM1420 375zM1415 377zM1351 349zM1358 561zM1433 197zM1392 518zM1336 123zM1351 369zM1342 386zM1386 211zM1422 123zM1364 123zM1422 125zM1394 123zM1387 124zM1457 124zM1379 123zM1493 124zM1391 125zM1444 125zM1453 125zM1415 124zM1361 125zM1450 124zM1488 125zM1437 124zM1487 124z"/><path d="M1315 146zM1363 193zM1313 449zM1344 440zM1361 219zM1319 215zM1323 253zM1529 150zM1317 545zM1424 331zM1297 370zM1294 173zM1342 348zM1314 549zM1313 399zM1293 459zM1496 182zM1318 229zM1379 437zM1334 274zM1345 270zM1452 550zM1336 236zM1314 471zM1363 184zM1293 202zM1277 136zM1288 269zM1276 510zM1345 500zM1382 445zM1407 241zM1340 404zM1346 345zM1325 528zM1394 258zM1508 208zM1374 261zM1292 361zM1296 581zM1302 336zM1370 480zM1292 483zM1318 384zM1299 478zM1570 392zM1357 510zM1318 482zM1383 205zM1280 187zM1307 357zM1274 443zM1272 469zM1276 502zM1397 427zM1401 127zM1397 285zM1286 430zM1337 311zM1572 252zM1285 215zM1362 297zM1363 405zM1363 127zM1320 585zM1409 250zM1368 491zM1386 298zM1393 315zM1347 487zM1410 428zM1300 427zM1491 511zM1295 407zM1300 196zM1377 512zM1382 246zM1347 476zM1574 485zM1327 269zM1319 332zM1328 258zM1367 370zM1302 351zM1392 444zM1398 403zM1433 521zM1303 472zM1390 148zM1417 157zM1330 447zM1422 570zM1360 214zM1342 137zM1365 554zM1354 535zM1292 551zM1325 354zM1340 246zM1310 131zM1330 500zM1391 427zM1313 427zM1377 535zM1357 550zM1310 289zM1340 266zM1321 428zM1453 508zM1301 142zM1298 300zM1328 426zM1336 172zM1437 502zM1457 377zM1317 319zM1338 362zM1330 215zM1346 590zM1304 533zM1368 361zM1379 307zM1386 498zM1430 431zM1538 128zM1300 135zM1295 313zM1308 500zM1281 149zM1342 432zM1275 453zM1404 473zM1341 510zM1315 328zM1378 229zM1305 245zM1333 145zM1298 243zM1305 408zM1402 575zM1482 282zM1337 285zM1405 335zM1336 479zM1324 306zM1544 553zM1389 500zM1318 272zM1371 526zM1374 485zM1313 271zM1314 215zM1342 440zM1336 343zM1327 310zM1307 277zM1382 389zM1391 488zM1308 140zM1388 275zM1319 349zM1356 415zM1305 546zM1427 485zM1295 284zM1332 359zM1413 230zM1427 258zM1288 371zM1378 508zM1470 587zM1357 561zM1451 300zM1377 572zM1345 201zM1467 446zM1275 273zM1348 466zM1410 478zM1371 580zM1341 512zM1510 189zM1332 485zM1477 423zM1360 412zM1509 388zM1296 212zM1308 283zM1330 267zM1420 470zM1345 175zM1350 179zM1301 276zM1365 583zM1362 520zM1278 204zM1277 282zM1299 261zM1339 464zM1308 434zM1334 528zM1287 441zM1358 124zM1403 480zM1413 325zM1313 342zM1421 420zM1330 499zM1342 375zM1271 491zM1368 404zM1357 277zM1387 269zM1484 424zM1274 319zM1375 251zM1336 153zM1319 536zM1344 270zM1439 126zM1299 302zM1386 310zM1341 554zM1358 202zM1454 157zM1333 177zM1556 347zM1530 214zM1384 125zM1353 422zM1359 588zM1286 153zM1475 218zM1346 581zM1389 567zM1452 161zM1331 284zM1289 276zM1330 438zM1313 566zM1372 472zM1314 546zM1296 538zM1318 315zM1417 223zM1394 520zM1329 583zM1342 463zM1401 473zM1397 305zM1365 543zM1307 447zM1400 349zM1336 424zM1429 322zM1299 407zM1342 444zM1498 560zM1440 164zM1458 389zM1351 260zM1481 436zM1299 202zM1319 465zM1358 244zM1304 160zM1427 147zM1441 394zM1308 534zM1332 576zM1360 342zM1338 243zM1310 476zM1429 338zM1426 454zM1299 355zM1538 515zM1372 450zM1286 451zM1280 249zM1381 306zM1278 511zM1326 204zM1451 389zM1406 221zM1286 368zM1316 295zM1371 390zM1309 341zM1318 462zM1353 409zM1434 179zM1325 434zM1402 346zM1398 262zM1369 397zM1294 499zM1469 225zM1374 566zM1329 289zM1318 372zM1375 347zM1335 448zM1348 585zM1460 258zM1415 530zM1346 302zM1366 382zM1316 345zM1375 143zM1358 347zM1433 412zM1364 497zM1279 500zM1371 331zM1272 207zM1313 141zM1345 559zM1365 421zM1330 295zM1283 512zM1466 159zM1300 124zM1273 142zM1363 519zM1334 576zM1361 347zM1342 281zM1321 536zM1333 237zM1308 468zM1344 571zM1309 394zM1384 147zM1356 576zM1325 235zM1303 468zM1333 242zM1356 438zM1291 149zM1356 488zM1360 554zM1319 470zM1406 474zM1340 284zM1333 213zM1289 292zM1311 329zM1320 583zM1435 541zM1411 433zM1317 217zM1297 317zM1357 543zM1281 459zM1375 321zM1295 580zM1340 342zM1332 314zM1311 480zM1395 565zM1373 569zM1376 481zM1450 533zM1406 548zM1605 129zM1426 434zM1479 394zM1467 222zM1302 387zM1322 216zM1386 484zM1302 363zM1354 499zM1365 308zM1396 199zM1383 415zM1359 187zM1350 365zM1379 504zM1274 252zM1360 472zM1316 558zM1565 332zM1334 193zM1481 281zM1325 560zM1361 179zM1435 473zM1366 207zM1422 132zM1327 264zM1370 340zM1280 205zM1343 218zM1307 530zM1324 420zM1290 168zM1311 305zM1330 338zM1465 246zM1385 342zM1328 277zM1313 529zM1471 300zM1319 209zM1317 347zM1436 262zM1289 268zM1281 555zM1346 517zM1594 159zM1429 263zM1302 290zM1465 329zM1322 239zM1307 562zM1374 192zM1440 403zM1403 491zM1298 252zM1408 124zM1391 124zM1474 123zM1390 123zM1402 124zM1381 124zM1467 124zM1446 125zM1469 124zM1377 125zM1466 124zM1415 125zM1505 124zM1422 126zM1398 123zM1466 124zM1497 123z"/><path d="M1308 581zM1399 373zM1389 549zM1311 160zM1315 172zM1570 422zM1314 552zM1410 217zM1398 172zM1464 313zM1319 551zM1281 391zM1342 452zM1294 548zM1351 213zM1302 127zM1436 131zM1403 180zM1315 501zM1501 327zM1354 488zM1356 275zM1307 429zM1350 584zM1370 177zM1351 425zM1392 194zM1326 179zM1485 258zM1411 360zM1307 236zM1283 230zM1460 490zM1381 548zM1328 284zM1326 173zM1320 274zM1312 349zM1301 579zM1449 206zM1487 236zM1319 346zM1291 486zM1328 494zM1328 247zM1347 231zM1329 558zM1421 223zM1303 266zM1275 415zM1325 319zM1324 517zM1372 402zM1322 357zM1374 276zM1298 345zM1474 407zM1353 311zM1358 374zM1332 458zM1402 363zM1369 146zM1382 363zM1441 267zM1471 152zM1419 526zM1338 255zM1439 345zM1314 360zM1341 239zM1294 391zM1406 269zM1462 173zM1319 219zM1467 470zM1326 132zM1445 274zM1302 238zM1482 387zM1354 562zM1359 385zM1474 539zM1392 566zM1380 591zM1486 572zM1299 145zM1303 477zM1273 468zM1287 508zM1321 196zM1371 458zM1372 491zM1359 443zM1319 436zM1290 477zM1498 232zM1381 338zM1347 163zM1339 485zM1585 256zM1294 435zM1360 273zM1299 408zM1317 461zM1334 253zM1313 254zM1348 213zM1310 572zM1351 250zM1334 552zM1303 499zM1350 292zM1353 407zM1317 351zM1282 540zM1281 244zM1333 392zM1509 245zM1443 575zM1293 494zM1316 562zM1408 392zM1369 412zM1393 260zM1450 404zM1377 492zM1385 314zM1317 192zM1402 403zM1343 203zM1466 235zM1329 453zM1344 152zM1425 210zM1271 214zM1518 583zM1355 581zM1310 311zM1296 337zM1325 563zM1377 344zM1397 575zM1285 411zM1367 356zM1371 591zM1354 577zM1389 161zM1435 339zM1299 590zM1435 301zM1354 293zM1295 515zM1376 377zM1444 537zM1312 364zM1295 245zM1327 379zM1304 302zM1325 433zM1455 186zM1482 249zM1333 445zM1334 213zM1484 291zM1297 558zM1321 584zM1295 350zM1351 212zM1503 568zM1476 194zM1376 463zM1347 300zM1431 587zM1387 247zM1333 387zM1392 124zM1444 166zM1498 363zM1330 301zM1341 346zM1332 270zM1360 469zM1369 131zM1379 346zM1440 311zM1317 484zM1311 251zM1327 279zM1395 173zM1388 159zM1331 209zM1349 437zM1404 351zM1276 348zM1383 402zM1379 205zM1386 471zM1402 423zM1394 222zM1310 157zM1484 280zM1363 258zM1328 265zM1295 240zM1308 161zM1333 145zM1373 573zM1356 510zM1420 580zM1277 152zM1510 482zM1349 303zM1323 149zM1369 259zM1305 127zM1303 269zM1328 584zM1319 480zM1437 138zM1310 207zM1344 395zM1396 576zM1331 428zM1318 419zM1333 262zM1369 509zM1387 241zM1356 326zM1343 541zM1405 290zM1444 231zM1282 440zM1315 318zM1361 469zM1306 339zM1387 166zM1296 304zM1298 208zM1348 403zM1413 502zM1286 233zM1515 299zM1477 238zM1387 274zM1373 284zM1366 259zM1462 486zM1319 252zM1396 532zM1302 494zM1355 502zM1353 269zM1481 221zM1286 370zM1384 428zM1362 151zM1353 452zM1310 570zM1444 541zM1399 519zM1357 183zM1433 268zM1275 142zM1357 466zM1344 546zM1438 509zM1464 364zM1282 382zM1296 129zM1302 217zM1331 429zM1306 377zM1430 353zM1347 211zM1316 382zM1321 387zM1407 384zM1308 124zM1520 284zM1307 202zM1300 522zM1305 263zM1347 297zM1323 532zM1404 454zM1391 574zM1373 584zM1280 186zM1322 312zM1292 531zM1352 270zM1426 412zM1341 428zM1357 257zM1291 160zM1356 488zM1325 401zM1319 301zM1385 314zM1397 512zM1286 507zM1319 331zM1326 158zM1364 274zM1275 374zM1291 169zM1380 525zM1299 320zM1283 269zM1348 481zM1443 416zM1289 327zM1326 404zM1447 316zM1357 564zM1318 460zM1366 236zM1311 374zM1338 257zM1280 287zM1341 286zM1383 342zM1317 408zM1349 524zM1381 321zM1391 245zM1374 577zM1290 372zM1463 484zM1584 416zM1367 367zM1421 569zM1576 271zM1324 418zM1402 264zM1347 487zM1296 553zM1369 209zM1405 576zM1288 293zM1328 312zM1395 452zM1353 533zM1322 463zM1321 349zM1289 320zM1476 581zM1291 317zM1364 173zM1291 546zM1314 294zM1373 218zM1382 374zM1322 427zM1436 523zM1394 269zM1323 480zM1464 141zM1402 277zM1384 239zM1347 537zM1297 208zM1367 291zM1379 171zM1290 234zM1507 512zM1444 588zM1359 364zM1459 341zM1293 237zM1364 185zM1350 209zM1300 430zM1309 359zM1366 274zM1467 443zM1363 460zM1378 395zM1331 332zM1359 564zM1292 451zM1344 149zM1335 571zM1304 557zM1278 550zM1319 240zM1359 146zM1443 151zM1413 218zM1388 578zM1296 542zM1381 498zM1478 581zM1369 417zM1322 484zM1311 382zM1371 490zM1464 460zM1295 225zM1356 555zM1370 365zM1288 461zM1301 127zM1504 274zM1295 438zM1298 362zM1320 392zM1278 134zM1431 540zM1301 305zM1437 149zM1313 248zM1504 182zM1512 336zM1324 202zM1522 382zM1327 555zM1394 508zM1450 399zM1315 262zM1274 397zM1486 126zM1415 125zM1429 123zM1423 123zM1388 123zM1480 124zM1464 125zM1404 124zM1396 125zM1377 124zM1371 125zM1424 125zM1527 123zM1453 124zM1437 124zM1461 124zM1411 126z"/><path d="M1298 257zM1410 279zM1313 467zM1516 132zM1339 208zM1362 318zM1451 477zM1433 550zM1324 243zM1307 400zM1380 588zM1375 558zM1322 124zM1337 143zM1274 255zM1409 570zM1352 345zM1405 228zM1316 132zM1334 525zM1575 519zM1362 413zM1426 201zM1350 560zM1362 292zM1283 366zM1344 555zM1321 347zM1384 321zM1322 474zM1362 318zM1382 388zM1406 181zM1323 317zM1299 458zM1326 464zM1281 239zM1376 185zM1376 439zM1360 402zM1327 235zM1433 583zM1322 138zM1286 141zM1389 383zM1369 265zM1420 456zM1347 196zM1375 578zM1371 325zM1334 408zM1347 178zM1340 232zM1308 562zM1350 496zM1422 438zM1418 580zM1346 305zM1561 405zM1365 364zM1293 504zM1481 350zM1369 408zM1327 382zM1343 395zM1316 221zM1594 360zM1386 174zM1488 287zM1334 145zM1337 450zM1349 501zM1320 196zM1291 552zM1459 485zM1342 169zM1504 415zM1298 461zM1402 145zM1312 302zM1341 124zM1339 486zM1295 219zM1417 450zM1358 343zM1396 440zM1295 264zM1308 368zM1351 310zM1309 406zM1389 507zM1360 455zM1366 584zM1363 277zM1323 447zM1357 422zM1317 394zM1476 547zM1387 162zM1351 242zM1342 491zM1326 537zM1319 280zM1322 296zM1412 518zM1300 284zM1385 347zM1313 149zM1373 481zM1359 164zM1488 204zM1281 221zM1495 523zM1360 445zM1378 370zM1348 488zM1315 254zM1407 224zM1380 225zM1348 394zM1287 125zM1430 282zM1345 406zM1450 274zM1351 387zM1322 442zM1363 408zM1301 178zM1367 227zM1314 331zM1298 393zM1329 330zM1302 194zM1306 444zM1380 507zM1324 375zM1329 310zM1303 569zM1387 221zM1297 370zM1396 404zM1452 288zM1291 444zM1410 515zM1296 248zM1321 490zM1324 344zM1335 187zM1457 312zM1538 162zM1369 210zM1336 337zM1299 448zM1329 246zM1322 526zM1329 536zM1315 300zM1412 243zM1363 311zM1382 134zM1424 501zM1348 278zM1327 460zM1347 323zM1363 282zM1392 527zM1361 486zM1585 335zM1447 276zM1342 248zM1357 410zM1419 379zM1321 555zM1308 450zM1302 373zM1340 421zM1276 187zM1351 271zM1460 230zM1301 293zM1348 446zM1470 476zM1590 566zM1316 144zM1277 141zM1346 215zM1353 372zM1308 311zM1379 138zM1302 360zM1352 393zM1379 331zM1338 298zM1335 265zM1374 448zM1405 376zM1296 321zM1325 434zM1312 415zM1334 404zM1281 395zM1388 185zM1429 344zM1365 583zM1315 226zM1300 192zM1412 257zM1429 379zM1388 279zM1332 564zM1381 364zM1365 481zM1441 344zM1311 183zM1293 378zM1309 543zM1423 156zM1359 386zM1517 251zM1303 401zM1417 408zM1574 295zM1333 323zM1388 333zM1338 236zM1293 505zM1356 128zM1357 383zM1304 315zM1363 385zM1392 131zM1436 482zM1273 315zM1349 403zM1310 412zM1286 337zM1368 236zM1282 196zM1285 174zM1431 307zM1299 236zM1384 562zM1330 139zM1352 297zM1391 284zM1399 196zM1336 447zM1271 576zM1361 137zM1438 210zM1343 176zM1316 446zM1447 473zM1333 590zM1376 357zM1385 285zM1332 151zM1305 164zM1291 533zM1306 312zM1293 269zM1302 560zM1416 331zM1315 419zM1290 502zM1283 443zM1445 436zM1558 191zM1586 126zM1384 124zM1377 252zM1372 571zM1380 415zM1366 331zM1310 376zM1315 419zM1373 343zM1306 125zM1274 551zM1291 514zM1313 542zM1307 417zM1321 496zM1289 276zM1409 403zM1470 343zM1432 571zM1437 588zM1306 369zM1370 473zM1307 339zM1360 208zM1338 366zM1298 432zM1304 467zM1323 285zM1403 160zM1357 135zM1444 333zM1341 295zM1454 581zM1381 258zM1361 398zM1376 383zM1345 540zM1577 195zM1303 293zM1347 553zM1323 554zM1286 414zM1520 343zM1352 165zM1286 325zM1438 167zM1290 185zM1584 512zM1295 173zM1320 175zM1457 282zM1341 378zM1449 558zM1369 248zM1328 453zM1302 383zM1317 566zM1279 551zM1324 492zM1357 236zM1363 588zM1381 416zM1327 391zM1292 384zM1371 289zM1284 416zM1305 175zM1279 581zM1338 197zM1336 276zM1342 400zM1327 522zM1405 139zM1460 323zM1298 467zM1353 356zM1314 171zM1354 184zM1365 307zM1317 354zM1285 383zM1581 284zM1440 173zM1381 356zM1443 211zM1438 370zM1523 375zM1423 483zM1358 131zM1380 319zM1306 405zM1304 487zM1547 190zM1321 196zM1334 457zM1377 495zM1344 181zM1349 165zM1349 260zM1401 273zM1486 462zM1357 543zM1393 147zM1269 138zM1323 219zM1335 329zM1439 413zM1355 243zM1345 422zM1547 458zM1309 440zM1329 535zM1313 158zM1331 562zM1281 472zM1343 502zM1387 244zM1407 415zM1292 218zM1311 393zM1332 579zM1302 293zM1407 581zM1327 324zM1364 493zM1413 132zM1375 528zM1410 536zM1361 478zM1457 242zM1354 447zM1412 128zM1294 488zM1474 205zM1339 453zM1284 426zM1289 327zM1431 380zM1362 292zM1317 501zM1277 205zM1329 194zM1431 419zM1342 364zM1425 222zM1383 549zM1349 515zM1516 477zM1397 275zM1538 328zM1380 412zM1431 213zM1500 540zM1380 125zM1418 124zM1369 123zM1410 126zM1418 123zM1460 123zM1497 123zM1399 123zM1380 123zM1385 125zM1485 124zM1411 125zM1435 124zM1448 124zM1391 123zM1513 126z"/><path d="M1519 470zM1405 547zM1287 401zM1346 134zM1422 282zM1335 546zM1323 167zM1318 471zM1410 516zM1309 204zM1394 367zM1516 269zM1334 530zM1335 270zM1305 449zM1314 328zM1309 517zM1282 180zM1380 193zM1365 262zM1382 317zM1434 573zM1318 167zM1333 346zM1370 365zM1334 290zM1389 217zM1334 559zM1379 487zM1558 426zM1361 407zM1375 456zM1328 584zM1301 460zM1293 476zM1332 144zM1336 166zM1376 547zM1287 541zM1359 145zM1287 572zM1388 214zM1334 450zM1389 560zM1399 316zM1317 311zM1328 133zM1468 294zM1366 348zM1355 383zM1407 212zM1381 308zM1286 496zM1324 557zM1317 423zM1354 256zM1458 504zM1358 182zM1296 329zM1302 520zM1334 315zM1371 365zM1492 589zM1392 515zM1340 203zM1464 195zM1527 245zM1543 303zM1373 467zM1418 549zM1384 444zM1319 300zM1326 535zM1473 446zM1391 543zM1303 217zM1357 320zM1335 539zM1326 233zM1374 399zM1342 345zM1328 530zM1381 369zM1429 570zM1333 517zM1342 585zM1277 515zM1375 166zM1439 393zM1315 387zM1482 442zM1449 182zM1386 554zM1378 199zM1309 388zM1349 222zM1346 423zM1345 497zM1313 394zM1383 439zM1408 143zM1322 480zM1304 437zM1372 321zM1355 335zM1283 384zM1538 484zM1372 441zM1468 153zM1309 502zM1304 509zM1380 507zM1319 480zM1314 488zM1467 139zM1304 279zM1394 279zM1343 509zM1296 432zM1379 473zM1458 502zM1315 468zM1323 410zM1402 396zM1336 351zM1316 410zM1420 466zM1337 541zM1380 337zM1356 426zM1291 273zM1376 405zM1320 320zM1298 298zM1472 542zM1324 217zM1342 581zM1305 142zM1484 180zM1312 458zM1322 320zM1483 404zM1369 492zM1315 317zM1359 460zM1436 525zM1281 497zM1290 456zM1323 501zM1342 581zM1353 386zM1415 423zM1461 319zM1281 305zM1310 235zM1316 355zM1298 340zM1298 470zM1359 303zM1486 440zM1436 475zM1373 212zM1341 314zM1379 418zM1276 416zM1315 176zM1276 323zM1418 590zM1318 371zM1371 315zM1302 468zM1446 259zM1384 485zM1284 137zM1311 317zM1277 454zM1340 352zM1302 207zM1310 443zM1356 551zM1315 282zM1460 294zM1482 399zM1331 277zM1339 416zM1318 515zM1453 442zM1327 312zM1367 270zM1290 438zM1312 194zM1295 385zM1295 303zM1467 213zM1331 591zM1423 439zM1337 551zM1312 268zM1420 246zM1401 405zM1359 462zM1312 218zM1289 425zM1304 335zM1359 284zM1312 351zM1273 438zM1305 138zM1429 296zM1517 274zM1321 513zM1303 224zM1356 149zM1369 354zM1323 402zM1304 205zM1359 376zM1296 539zM1396 258zM1407 370zM1326 438zM1309 348zM1493 271zM1517 179zM1534 507zM1342 219zM1425 562zM1316 385zM1367 141zM1334 284zM1487 185zM1457 503zM1357 458zM1303 200zM1431 321zM1312 243zM1290 578zM1311 524zM1369 483zM1302 340zM1306 433zM1325 577zM1335 341zM1364 501zM1311 134zM1356 569zM1570 445zM1484 308zM1432 553zM1368 279zM1328 466zM1330 533zM1279 468zM1374 559zM1380 302zM1286 440zM1574 294zM1400 389zM1306 544zM1332 210zM1328 124zM1405 382zM1524 278zM1338 146zM1298 408zM1360 124zM1292 240zM1356 397zM1315 573zM1352 290zM1357 124zM1471 329zM1303 379zM1373 274zM1317 527zM1305 245zM1324 293zM1353 184zM1482 314zM1325 404zM1310 220zM1363 564zM1337 476zM1375 329zM1351 347zM1309 518zM1347 424zM1320 146zM1369 340zM1271 505zM1338 583zM1300 530zM1417 222zM1304 378zM1369 320zM1390 505zM1441 377zM1294 499zM1397 590zM1378 178zM1441 154zM1334 280zM1373 542zM1403 394zM1347 148zM1303 301zM1319 301zM1358 210zM1384 157zM1291 539zM1356 535zM1358 482zM1305 505zM1296 354zM1359 267zM1325 144zM1368 559zM1284 453zM1397 546zM1444 419zM1334 492zM1454 141zM1302 404zM1304 506zM1434 262zM1395 434zM1289 147zM1363 453zM1492 218zM1278 327zM1304 193zM1383 542zM1338 185zM1391 216zM1361 387zM1416 202zM1444 272zM1363 149zM1309 502zM1303 462zM1283 231zM1344 179zM1306 393zM1332 544zM1387 190zM1422 193zM1308 200zM1337 441zM1328 442zM1372 286zM1387 273zM1326 475zM1319 396zM1397 159zM1361 404zM1333 517zM1318 202zM1466 583zM1425 430zM1348 152zM1413 174zM1424 486zM1278 374zM1300 309zM1321 127zM1314 305zM1329 163zM1423 169zM1290 344zM1299 309zM1309 455zM1480 297zM1489 182zM1436 437zM1345 569zM1281 591zM1407 424zM1410 392zM1321 438zM1309 187zM1338 449zM1423 410zM1347 333zM1362 391zM1312 235zM1317 147zM1426 348zM1417 550zM1324 135zM1479 201zM1296 318zM1566 555zM1301 322zM1377 310zM1294 189zM1284 150zM1314 290zM1447 558zM1602 525zM1298 457zM1375 270zM1383 346zM1340 504zM1293 494zM1337 538zM1359 464zM1465 146zM1346 581zM1502 506zM1322 554zM1310 420zM1325 308zM1314 252zM1457 577zM1362 225zM1397 498zM1348 187zM1281 552zM1304 379zM1400 369zM1333 458zM1399 123zM1443 123zM1433 123zM1387 123zM1395 124zM1458 124zM1371 123zM1434 125zM1348 124zM1455 125zM1447 124zM1392 123zM1384 125zM1422 125zM1511 125zM1381 125z"/></g>
</g>
<g clip-path="url(#cb2)">
<g transform="scale(.5)" filter="url(#bl2)" fill="none" stroke="#3a94d2" stroke-opacity="0.118" stroke-width="8.2" stroke-linecap="round"><path d="M817 860zM849 690zM961 1033zM789 863zM872 783zM942 946zM943 704zM837 622zM843 668zM795 809zM873 942zM815 880zM785 808zM808 812zM841 891zM864 892zM818 636zM815 621zM805 948zM936 996zM937 1048zM805 899zM1096 990zM821 705zM786 915zM789 678zM817 1013zM786 952zM796 810zM1061 1002zM1061 701zM835 679zM792 633zM918 878zM904 886zM834 791zM786 845zM954 976zM833 670zM788 789zM874 708zM839 855zM790 819zM940 893zM1158 975zM865 885zM789 1057zM1002 910zM977 695zM956 1051zM882 911zM1053 936zM855 1006zM1160 947zM813 973zM838 715zM825 1051zM1006 872zM847 872zM789 847zM860 859zM827 661zM806 933zM871 934zM1138 954zM818 702zM803 731zM841 970zM832 861zM791 899zM861 921zM789 801zM1088 932zM822 1040zM824 919zM900 897zM902 787zM788 932zM821 641zM839 929zM844 628zM937 993zM840 863zM907 1052zM799 916zM890 682zM887 917zM1035 1029zM842 998zM837 658zM921 1005zM1166 1003zM807 764zM834 663zM807 641zM991 907zM803 918zM792 633zM920 598zM793 814zM855 864zM893 889zM804 822zM796 593zM795 830zM904 921zM808 926zM1123 875zM956 966zM855 844zM831 832zM801 908zM984 897zM860 911zM1108 953zM817 810zM801 704zM847 945zM828 1049zM789 655zM835 602zM843 754zM790 910zM1028 873zM815 894zM839 789zM790 837zM906 607zM938 893zM812 911zM942 656zM1007 927zM872 855zM1015 930zM825 908zM790 793zM1097 932zM834 816zM784 865zM896 701zM797 603zM863 906zM791 963zM947 996zM938 1053zM808 885zM927 1012zM1058 854zM826 870zM814 909zM1060 1005zM813 677zM791 919zM794 882zM830 710zM907 663zM788 956zM854 951zM846 611zM1013 598zM811 873zM908 907zM847 694zM788 890zM817 627zM1057 837zM791 952zM1169 834zM796 608zM1022 925zM812 633zM822 928zM835 882zM797 929zM829 655zM822 862zM798 901zM789 697zM942 1024zM929 940zM1045 942zM905 811zM841 927zM802 746zM838 1004zM874 973zM817 660zM1008 916zM986 1056zM923 698zM859 947zM803 900zM902 628zM848 673zM791 803zM995 745zM822 709zM1056 918zM814 898zM905 715zM900 900zM864 833zM817 733zM957 830zM832 855zM986 644zM1138 910zM914 664zM998 880zM914 975zM1015 744zM810 905zM886 972zM893 717zM795 1016zM882 850zM783 794zM808 970zM856 612zM884 731zM1059 879zM896 868zM818 596zM970 1060zM869 873zM959 1043zM824 851zM786 618zM836 893zM900 651zM847 902zM815 858zM812 778zM795 593zM1020 719zM800 878zM786 690zM883 883zM782 595zM867 728zM788 745zM792 816zM961 700zM894 1032zM819 842zM830 663zM848 657zM819 887zM844 870zM804 811zM974 824zM780 825zM830 669zM897 867zM888 930zM1014 1051zM795 767zM837 901zM799 786zM825 932zM872 873zM843 971zM1041 940zM1125 868zM794 820zM1179 914zM787 815zM789 851zM1074 902zM792 820zM1069 923zM804 817zM874 635zM781 644zM796 788zM847 833zM894 951zM797 827zM816 749zM942 728zM883 938zM894 884zM1112 943zM853 908zM1147 703zM820 878zM789 891zM782 916zM928 936zM1024 839zM876 881zM825 949zM818 838zM828 662zM873 863zM791 705zM868 662zM838 806zM848 599zM819 911zM840 593zM783 844zM819 638zM874 926zM841 708zM1065 627zM816 876zM791 857zM846 884zM815 925zM818 620zM869 903zM861 645zM845 958zM792 749zM872 902zM1025 1009zM785 851zM885 814zM800 678zM885 908zM857 767zM842 851zM928 677zM920 842zM810 900zM934 970zM825 689zM805 1005zM833 868zM942 640zM1063 922zM818 974zM928 768zM844 677zM803 633zM892 924zM812 710zM787 828zM814 780zM923 912zM841 599zM1169 930zM798 736zM792 649zM872 623zM970 705zM820 867zM804 849zM785 848zM827 622zM882 922zM794 743zM932 663zM812 872zM855 839zM817 880zM1019 906zM1045 861zM810 856zM801 763zM961 955zM939 969zM802 609zM1017 948zM896 989zM1184 962zM907 659zM791 810zM877 999zM934 911zM792 895zM915 1034zM902 687zM808 869zM878 914zM808 714zM1041 913zM886 850zM803 673zM801 829zM789 797zM1015 726zM880 999zM800 764zM866 674zM911 597zM1127 1020zM806 916zM1068 1039zM926 868zM818 914zM814 700zM849 929zM868 914zM827 835zM792 974zM813 705zM887 929zM807 631zM810 757zM905 609zM916 656zM838 862zM875 672zM926 1019zM874 924zM847 725zM806 1024zM790 1013zM865 832zM792 871zM799 642zM842 974zM946 627zM812 727zM1028 874zM869 612zM852 914zM797 659zM866 924zM979 872zM815 847zM965 937zM787 925zM827 687zM1056 918zM1015 971zM846 661zM819 629zM893 994zM1044 829zM943 872zM895 662zM803 925zM785 1017zM856 739zM879 956zM903 942zM835 655zM843 923zM835 847zM798 829zM815 799zM987 964zM808 887zM859 912zM813 1038zM792 863zM783 872zM865 870zM866 887zM823 728zM903 1015zM802 631zM873 876zM985 710zM838 941zM815 1001zM890 646zM799 942zM936 1017zM825 659zM849 916zM841 723zM907 1045zM832 669zM785 890zM930 935zM893 1038zM842 849zM855 641zM813 848zM795 829zM810 874zM821 609zM800 646zM857 867zM963 706zM828 811zM800 766zM952 951zM816 597zM817 699zM1080 887zM821 794zM787 672zM902 1059zM882 962zM811 798zM862 869zM1010 919zM966 821zM811 880zM889 944zM825 762zM925 955zM920 927zM913 601zM835 624zM1039 1029zM1033 951zM920 924zM902 695zM977 601zM816 870zM871 835zM802 680zM831 633zM866 871zM865 706zM868 919zM782 806zM799 884zM789 757zM883 927zM1078 920zM1065 934zM826 925zM826 837zM803 839zM899 923zM881 970zM805 646zM796 925zM811 841zM924 773zM789 678zM969 717zM796 740zM869 759zM911 1033zM888 656zM854 1024zM857 849zM891 674zM827 805zM815 866zM814 868zM945 921zM891 1033zM809 883zM1047 910z"/><path d="M836 1046zM796 626zM838 757zM825 906zM788 639zM813 802zM792 933zM846 830zM907 652zM806 776zM911 862zM954 1030zM882 616zM801 715zM823 812zM797 888zM859 926zM901 811zM981 942zM820 885zM1073 805zM844 704zM1012 676zM799 920zM886 1047zM828 677zM986 997zM977 598zM807 661zM813 867zM835 738zM1014 679zM892 1004zM969 904zM911 896zM781 878zM1145 668zM812 884zM815 686zM861 808zM790 690zM1169 993zM783 947zM843 617zM793 799zM851 602zM872 630zM812 967zM800 800zM997 665zM892 664zM786 897zM903 906zM859 1017zM865 797zM887 879zM936 1043zM903 997zM903 806zM869 899zM829 770zM872 910zM911 879zM824 845zM795 646zM1116 970zM823 881zM895 695zM988 988zM956 950zM906 864zM793 810zM934 839zM994 641zM904 642zM838 607zM788 818zM961 702zM989 896zM944 1040zM846 859zM798 1013zM973 698zM1165 1000zM800 778zM911 634zM1030 682zM817 1041zM921 874zM813 821zM791 829zM819 666zM787 792zM812 600zM1118 881zM799 874zM871 636zM980 992zM801 869zM823 876zM832 901zM834 892zM856 651zM827 692zM1055 974zM793 774zM845 741zM872 874zM885 641zM852 878zM794 764zM789 846zM883 990zM839 960zM1062 1018zM802 828zM1006 611zM949 998zM788 921zM922 829zM892 687zM827 864zM967 879zM795 603zM781 775zM866 858zM872 643zM786 840zM837 931zM856 674zM808 629zM982 718zM809 861zM865 617zM823 853zM811 767zM826 947zM1104 1055zM810 1007zM795 657zM851 1038zM819 623zM1175 998zM815 1053zM1102 880zM842 900zM876 916zM799 753zM952 829zM785 892zM807 738zM826 733zM872 632zM888 906zM796 609zM995 1003zM953 770zM787 817zM904 863zM861 997zM798 688zM796 839zM902 932zM795 671zM909 723zM818 627zM1126 941zM878 675zM789 1058zM806 605zM893 904zM839 822zM795 811zM906 660zM803 827zM961 899zM869 691zM938 941zM794 915zM831 912zM781 857zM821 811zM1030 1005zM923 673zM847 893zM1119 995zM900 860zM829 812zM1155 931zM791 871zM930 852zM819 645zM818 691zM948 965zM869 973zM793 855zM960 1060zM855 991zM1033 862zM813 857zM785 769zM935 966zM824 871zM782 654zM810 719zM902 686zM866 599zM790 844zM823 927zM894 956zM819 889zM850 845zM810 900zM841 897zM933 631zM837 646zM933 983zM848 912zM874 963zM853 668zM790 666zM794 877zM928 930zM821 1001zM814 875zM810 867zM809 866zM800 847zM807 660zM935 725zM828 950zM904 998zM976 885zM1056 690zM845 639zM841 834zM824 620zM819 921zM959 928zM790 802zM945 962zM869 1059zM860 843zM1033 1003zM847 660zM862 923zM1059 926zM946 1023zM851 853zM817 819zM807 800zM836 1017zM815 871zM837 692zM1060 610zM825 713zM894 846zM796 803zM874 813zM854 853zM788 697zM819 710zM835 857zM981 909zM863 671zM1104 674zM951 1052zM791 817zM896 610zM928 676zM825 697zM876 835zM1037 828zM849 745zM1118 827zM825 903zM822 914zM799 872zM805 845zM812 960zM898 866zM872 920zM785 912zM864 924zM845 611zM904 800zM836 904zM955 678zM787 662zM811 634zM881 747zM803 839zM816 770zM814 829zM821 810zM852 956zM805 995zM833 630zM793 595zM841 653zM908 690zM932 1008zM837 921zM986 640zM798 820zM841 1023zM804 737zM813 666zM814 901zM861 667zM814 776zM956 594zM934 1037zM875 693zM826 858zM826 901zM814 665zM868 669zM845 798zM798 688zM811 785zM854 751zM883 866zM808 711zM805 900zM822 651zM781 600zM903 681zM872 606zM784 848zM855 911zM858 914zM1003 744zM805 696zM832 715zM992 683zM1029 1000zM803 846zM798 884zM874 917zM1109 913zM941 1043zM803 939zM873 859zM896 774zM873 613zM846 809zM785 599zM800 865zM823 613zM842 927zM783 775zM983 612zM853 697zM790 776zM852 835zM1036 818zM1049 953zM1083 913zM790 925zM856 892zM785 839zM807 600zM1147 965zM856 646zM992 838zM976 882zM800 857zM822 752zM880 853zM853 754zM812 875zM854 969zM830 828zM795 819zM833 727zM960 662zM791 905zM829 904zM879 992zM1048 952zM789 821zM973 728zM808 801zM820 1060zM826 911zM819 674zM793 890zM849 1009zM977 929zM906 886zM843 752zM809 934zM807 934zM1017 941zM795 905zM945 599zM907 1000zM823 863zM851 659zM1042 973zM860 671zM799 848zM965 639zM828 1025zM807 618zM827 784zM860 842zM1141 1026zM922 637zM856 892zM786 651zM792 771zM827 885zM889 700zM949 606zM845 598zM1068 607zM818 832zM1169 964zM832 856zM800 940zM1057 855zM784 861zM844 942zM1011 1021zM982 621zM806 831zM806 789zM842 956zM845 944zM832 859zM1061 899zM900 934zM893 875zM923 919zM935 708zM799 772zM823 946zM891 640zM813 877zM894 863zM874 816zM949 993zM815 778zM828 850zM816 871zM800 601zM795 855zM799 846zM822 995zM783 720zM818 787zM823 823zM974 1042zM870 1012zM806 883zM870 661zM880 874zM816 630zM863 841zM802 819zM820 839zM865 699zM832 792zM815 1038zM800 819zM796 837zM956 771zM877 979zM1128 926zM818 880zM916 918zM974 894zM841 796zM906 884zM784 854zM813 907zM881 815zM897 713zM1110 878zM1078 1044zM802 905zM1139 941zM833 718zM879 805zM828 684zM822 1003zM923 992zM864 935zM796 882zM791 881zM843 710zM863 918zM805 898zM811 868zM962 960zM794 771zM1103 958zM880 762zM827 602zM1170 618zM809 884zM793 933zM800 658zM906 866zM852 594zM833 836zM781 777zM790 870zM975 873zM865 835zM821 654zM799 618zM806 974zM808 866zM848 870zM812 943zM822 878zM806 886zM820 944zM882 732zM857 931zM849 659zM822 1036zM949 663zM1106 1036zM909 612zM798 922zM805 855zM849 706zM957 843zM807 900zM832 843zM913 592zM800 680zM915 842zM873 958zM943 1035zM1147 899zM854 694zM807 873zM829 1021z"/><path d="M815 670zM809 635zM828 644zM791 870zM867 847zM788 801zM842 1042zM791 813zM953 918zM793 804zM958 932zM797 784zM1038 664zM872 857zM817 597zM788 714zM781 876zM830 947zM803 951zM850 957zM835 611zM796 787zM861 893zM874 678zM942 1005zM843 812zM833 709zM843 656zM1059 861zM916 924zM789 769zM891 663zM831 850zM788 906zM808 863zM806 851zM843 940zM834 1012zM887 947zM819 652zM1100 980zM881 886zM853 927zM784 899zM850 630zM1050 821zM1095 989zM1020 708zM918 693zM865 796zM798 841zM862 823zM860 930zM803 878zM799 696zM817 810zM824 873zM862 683zM886 701zM811 832zM880 639zM857 1027zM858 654zM842 909zM898 697zM805 946zM842 947zM861 738zM828 940zM894 1051zM838 726zM1004 1060zM1026 873zM828 754zM785 845zM799 846zM950 894zM994 987zM828 766zM1039 967zM831 997zM875 759zM919 920zM837 717zM828 929zM816 773zM792 834zM795 872zM825 812zM848 927zM938 879zM802 862zM869 910zM835 989zM782 875zM820 666zM786 965zM851 876zM798 874zM820 935zM824 608zM837 906zM862 936zM847 1040zM826 992zM817 843zM877 1002zM932 596zM1077 926zM803 799zM933 923zM868 613zM1020 1021zM971 1008zM1025 941zM786 742zM1105 982zM799 831zM820 882zM1044 670zM854 840zM844 845zM1061 928zM815 658zM804 874zM1024 595zM1101 633zM834 900zM943 1052zM917 896zM967 852zM912 698zM954 660zM922 897zM854 969zM1026 1039zM815 984zM906 894zM799 658zM942 989zM1021 958zM859 916zM782 773zM953 1042zM821 845zM993 973zM952 602zM812 959zM909 912zM982 917zM863 899zM890 905zM820 673zM863 832zM869 934zM981 670zM1102 870zM922 694zM788 813zM870 595zM912 672zM814 993zM952 938zM824 898zM915 866zM861 923zM890 653zM810 881zM830 921zM973 892zM820 911zM900 938zM829 895zM798 815zM820 741zM973 627zM1173 920zM859 930zM801 819zM806 926zM845 885zM785 931zM896 593zM809 846zM949 611zM912 891zM786 601zM791 844zM883 829zM792 917zM800 626zM825 994zM853 929zM894 651zM928 908zM852 917zM998 1056zM861 919zM1140 970zM798 851zM966 966zM853 668zM963 968zM801 1032zM1020 830zM832 905zM887 694zM847 739zM827 616zM869 891zM882 935zM888 690zM793 634zM832 832zM865 852zM801 797zM1000 705zM789 800zM817 831zM956 958zM905 881zM803 769zM953 858zM824 835zM953 1001zM804 893zM860 924zM998 929zM800 816zM1001 880zM902 907zM863 972zM810 603zM1038 906zM865 892zM942 940zM804 788zM834 742zM790 711zM817 890zM850 635zM863 989zM789 879zM884 713zM801 681zM811 841zM825 665zM801 805zM899 858zM811 789zM888 865zM800 834zM793 654zM953 993zM905 747zM1187 1058zM784 803zM845 699zM790 675zM1027 883zM808 877zM860 869zM833 705zM798 645zM827 914zM887 888zM987 1057zM818 728zM1174 997zM822 866zM797 920zM808 851zM781 902zM1077 672zM848 1039zM836 884zM947 667zM827 884zM816 919zM813 605zM1025 851zM805 827zM930 1058zM920 623zM787 796zM884 971zM833 1027zM852 966zM929 983zM835 891zM824 787zM925 763zM920 956zM790 836zM805 637zM908 886zM1119 1056zM964 908zM853 610zM792 889zM962 1034zM792 834zM857 852zM848 906zM805 813zM802 684zM832 684zM925 747zM803 812zM792 592zM785 928zM846 680zM803 655zM807 888zM838 824zM801 925zM979 813zM876 927zM795 729zM785 858zM823 751zM807 665zM887 696zM852 948zM910 623zM849 891zM877 939zM807 867zM835 858zM852 941zM791 915zM1027 884zM861 613zM992 627zM999 864zM836 951zM820 679zM848 836zM834 621zM819 952zM791 720zM785 835zM831 922zM884 1045zM816 920zM859 684zM862 937zM795 678zM818 730zM801 672zM831 610zM790 772zM985 964zM1080 680zM798 682zM797 658zM850 654zM794 654zM891 931zM989 908zM841 678zM847 643zM931 865zM940 1052zM827 649zM872 935zM866 725zM994 1060zM1072 987zM793 812zM827 829zM805 665zM839 656zM826 729zM791 777zM946 1053zM807 708zM817 980zM854 627zM787 857zM970 866zM1083 793zM955 869zM1035 886zM915 758zM819 662zM817 705zM806 620zM809 1033zM879 703zM1144 793zM896 724zM793 869zM802 703zM800 878zM809 886zM888 670zM797 879zM866 700zM1006 1047zM1022 633zM952 997zM973 941zM801 855zM849 665zM1000 951zM1144 915zM785 709zM950 1010zM1058 1016zM804 668zM937 647zM859 817zM1030 800zM854 600zM805 842zM892 945zM1024 912zM794 874zM821 634zM1084 1029zM949 909zM880 894zM792 628zM826 613zM872 1040zM839 770zM874 1041zM834 953zM819 624zM786 598zM1020 911zM789 833zM876 1014zM838 1013zM793 723zM889 1034zM1031 1007zM827 961zM819 1043zM804 880zM935 931zM786 921zM941 1057zM844 865zM954 946zM836 715zM924 1052zM995 962zM802 608zM870 619zM1077 931zM947 712zM809 891zM800 823zM836 885zM860 861zM796 841zM830 877zM849 795zM931 947zM789 828zM808 864zM867 610zM784 872zM791 820zM798 880zM844 645zM798 1040zM792 791zM837 945zM881 688zM920 841zM808 834zM1095 983zM970 864zM783 853zM823 661zM791 999zM905 966zM802 897zM825 1039zM861 901zM1012 1059zM1106 961zM862 865zM932 987zM912 1054zM866 1048zM809 884zM807 626zM797 601zM898 863zM885 899zM827 888zM862 948zM905 857zM890 687zM863 612zM1022 944zM818 765zM880 642zM937 636zM818 851zM814 829zM807 666zM1054 958zM837 895zM851 669zM844 609zM922 944zM853 938zM1134 1040zM1066 985zM866 762zM1111 886zM839 930zM796 809zM936 998zM924 698zM1101 991zM863 608zM789 912zM789 894zM786 903zM812 609zM931 707zM1006 998zM900 741zM963 740zM1066 1004zM1185 929zM789 962zM825 977zM833 836zM821 895zM807 869zM1125 911zM858 1009zM1092 930zM799 906zM878 784zM820 602z"/><path d="M948 839zM791 866zM896 968zM856 932zM831 665zM847 657zM896 1035zM919 866zM789 703zM894 887zM825 864zM856 990zM795 866zM954 612zM831 1036zM810 655zM1168 886zM806 819zM900 1001zM812 930zM894 686zM848 904zM830 904zM973 967zM881 711zM847 686zM806 944zM1069 860zM828 594zM913 941zM834 638zM852 680zM865 675zM819 833zM858 911zM812 824zM922 1040zM822 617zM825 679zM818 964zM831 853zM869 993zM916 847zM1051 839zM797 814zM1074 917zM799 715zM961 938zM810 948zM949 1049zM875 886zM1122 915zM820 718zM819 820zM791 839zM839 850zM893 929zM804 858zM810 714zM905 668zM813 938zM895 628zM930 862zM841 864zM789 706zM983 922zM1084 885zM869 1012zM904 641zM788 978zM832 735zM861 629zM839 698zM899 858zM840 884zM1009 915zM966 648zM890 929zM912 858zM886 628zM1063 887zM785 974zM794 628zM785 617zM810 691zM833 913zM792 725zM855 636zM1018 897zM1026 937zM809 863zM1042 943zM905 738zM789 774zM884 924zM807 865zM863 871zM1123 908zM800 771zM791 599zM878 1058zM973 651zM802 898zM870 929zM1138 1011zM830 856zM886 686zM803 908zM808 880zM831 855zM857 949zM839 914zM1025 899zM919 888zM819 833zM973 622zM802 843zM820 859zM806 964zM799 867zM802 886zM798 865zM930 682zM886 997zM816 823zM781 816zM821 680zM871 928zM789 833zM820 985zM860 914zM1001 908zM827 950zM859 912zM799 991zM804 855zM943 698zM1175 1005zM991 639zM800 893zM795 682zM797 918zM887 715zM927 925zM960 721zM948 691zM812 967zM913 741zM840 860zM884 736zM808 926zM793 761zM812 835zM799 596zM839 682zM925 955zM1030 893zM873 1010zM791 644zM828 1037zM789 802zM967 977zM996 921zM943 664zM824 1010zM817 940zM861 837zM1172 1048zM1112 952zM851 937zM933 975zM1035 617zM847 638zM824 902zM998 1041zM998 1055zM875 702zM885 609zM836 854zM858 802zM866 816zM902 630zM905 592zM909 677zM800 841zM836 950zM797 949zM911 911zM833 664zM838 674zM927 609zM818 1032zM843 722zM930 892zM829 813zM1048 851zM800 623zM1076 998zM820 772zM843 822zM821 862zM826 905zM806 889zM947 867zM1107 937zM843 890zM919 726zM799 598zM801 823zM875 906zM1060 907zM975 915zM852 1036zM902 1015zM992 907zM801 961zM856 913zM836 853zM912 644zM890 697zM815 869zM842 926zM813 663zM807 651zM789 785zM984 867zM821 613zM804 840zM795 859zM783 821zM932 990zM833 716zM782 866zM881 721zM1134 1007zM861 682zM830 1028zM858 1012zM813 879zM922 605zM783 881zM810 685zM1025 709zM805 821zM810 857zM940 701zM871 1010zM1054 974zM942 960zM789 817zM839 653zM842 932zM1075 815zM938 889zM930 915zM895 728zM818 928zM873 848zM804 648zM908 973zM856 676zM841 937zM866 923zM858 849zM790 684zM868 605zM921 855zM845 721zM1061 940zM831 799zM842 706zM820 646zM794 625zM946 926zM820 785zM856 981zM820 625zM791 848zM881 650zM815 836zM795 848zM865 730zM808 837zM844 833zM955 899zM818 1039zM1184 874zM824 644zM859 680zM799 855zM819 1019zM804 927zM826 731zM977 866zM817 883zM816 850zM968 920zM890 988zM784 680zM853 698zM817 874zM820 692zM829 667zM854 982zM876 726zM841 915zM856 734zM848 804zM798 637zM883 803zM802 915zM795 665zM788 608zM808 827zM1009 1019zM866 939zM1060 852zM815 1008zM860 862zM814 688zM833 860zM811 869zM868 902zM860 1003zM1010 931zM985 737zM883 982zM927 1046zM947 883zM812 917zM823 911zM793 737zM836 681zM853 819zM876 950zM1182 897zM968 726zM974 658zM840 738zM1174 1054zM819 732zM909 810zM940 978zM861 991zM814 819zM822 691zM788 831zM1055 998zM885 933zM955 1048zM800 908zM1023 1047zM827 687zM810 885zM784 679zM804 669zM954 1002zM915 620zM846 837zM899 881zM854 964zM918 983zM803 909zM800 863zM1049 992zM845 802zM786 603zM794 828zM873 686zM873 1045zM910 879zM820 828zM828 876zM874 603zM894 747zM1037 913zM884 733zM790 720zM955 1001zM819 895zM1030 944zM858 954zM857 666zM848 894zM829 707zM819 633zM1034 967zM816 600zM1020 947zM1040 867zM799 936zM852 896zM797 1031zM806 931zM940 891zM810 841zM938 937zM810 626zM784 645zM953 953zM871 702zM783 844zM797 865zM855 1058zM955 900zM823 768zM878 942zM945 907zM1032 934zM791 775zM852 779zM894 710zM1062 1027zM849 870zM822 598zM870 858zM914 981zM848 928zM852 900zM785 821zM808 902zM866 992zM824 1028zM811 1020zM1035 1043zM784 783zM911 910zM927 645zM829 835zM809 868zM913 728zM853 854zM807 641zM886 1030zM858 869zM834 898zM908 1050zM1040 834zM899 1046zM794 921zM819 917zM1121 915zM798 900zM853 606zM799 830zM840 916zM795 702zM820 783zM1004 927zM830 629zM848 702zM1163 903zM832 719zM818 892zM905 962zM993 1006zM788 837zM788 907zM1083 1013zM792 770zM836 801zM850 837zM818 738zM834 721zM785 864zM847 636zM788 756zM792 808zM800 841zM795 847zM812 760zM843 822zM813 828zM915 595zM1097 1002zM788 828zM810 946zM801 683zM1094 966zM785 717zM939 854zM859 865zM794 636zM816 901zM835 746zM890 682zM1012 990zM889 973zM851 939zM796 815zM917 1054zM809 1032zM974 887zM841 855zM844 634zM820 595zM798 988zM907 1001zM825 814zM917 909zM1023 1011zM835 654zM794 863zM911 1041zM789 805zM784 690zM847 848zM900 1038zM935 892zM822 997zM798 798zM983 838zM989 918zM995 1060zM958 905zM853 908zM938 643zM789 617zM907 1010zM813 908zM794 819zM901 891zM894 928zM824 737zM895 728zM853 653zM799 637zM829 690zM820 801zM855 633zM925 719zM847 921zM969 633zM812 766zM809 827zM869 945zM1032 862zM889 618zM895 647zM937 693zM824 953zM960 714zM912 906z"/><path d="M994 637zM916 889zM810 722zM940 1016zM793 723zM872 912zM903 979zM817 884zM871 931zM827 840zM939 956zM893 972zM890 993zM804 824zM859 788zM854 872zM783 662zM956 887zM928 938zM867 616zM807 707zM782 840zM1001 1038zM959 959zM862 1045zM1111 1038zM856 643zM946 691zM802 814zM840 625zM822 1016zM794 1049zM826 764zM869 652zM788 845zM854 680zM1055 975zM895 939zM866 603zM904 827zM1041 601zM981 1034zM799 764zM1179 725zM804 912zM900 925zM969 859zM998 940zM828 876zM880 840zM789 811zM856 977zM802 891zM1064 857zM792 985zM1022 929zM813 1048zM1088 901zM781 817zM839 972zM903 747zM815 1001zM1029 883zM797 733zM841 706zM877 999zM804 704zM793 895zM917 628zM801 613zM839 892zM800 827zM997 952zM827 595zM780 614zM1145 865zM999 973zM791 821zM874 1003zM931 637zM1033 910zM815 880zM999 905zM954 1023zM798 844zM915 949zM821 924zM804 772zM785 892zM795 904zM827 853zM912 1004zM801 943zM861 929zM839 858zM783 604zM841 739zM823 923zM960 824zM804 692zM805 652zM831 1042zM798 867zM845 674zM833 932zM865 616zM954 809zM855 661zM790 695zM893 890zM968 978zM918 966zM863 1030zM1004 844zM832 890zM799 850zM787 678zM815 703zM940 941zM793 928zM1067 971zM796 886zM849 647zM805 592zM843 814zM876 709zM1132 943zM781 639zM874 976zM787 816zM964 679zM958 861zM865 825zM799 678zM791 882zM814 926zM1014 953zM816 778zM830 860zM783 928zM895 957zM882 723zM841 721zM941 930zM840 871zM940 668zM876 866zM796 780zM802 889zM841 827zM1018 857zM862 833zM816 631zM948 708zM997 949zM812 826zM858 699zM920 592zM792 896zM824 887zM841 920zM887 911zM858 712zM843 686zM805 711zM795 932zM836 689zM1138 986zM805 905zM834 983zM832 691zM900 971zM804 618zM1015 838zM935 617zM797 790zM782 662zM872 650zM882 1026zM849 877zM821 873zM795 953zM799 951zM800 678zM789 970zM847 956zM1020 1037zM835 700zM873 1040zM805 922zM832 860zM789 934zM833 825zM851 974zM794 798zM838 1007zM783 852zM837 776zM788 877zM947 635zM850 728zM959 876zM802 649zM802 891zM801 655zM1077 1007zM929 675zM788 593zM838 814zM815 899zM913 648zM813 815zM874 856zM928 1046zM796 852zM863 800zM1013 848zM893 706zM818 921zM799 803zM960 937zM791 931zM870 848zM961 674zM787 906zM891 948zM852 1030zM827 900zM807 895zM936 1054zM834 718zM882 904zM816 876zM793 827zM785 815zM856 933zM807 887zM923 878zM799 808zM840 783zM819 780zM842 655zM894 885zM816 940zM856 942zM818 686zM824 925zM1077 905zM798 833zM788 695zM995 944zM797 616zM805 872zM833 969zM819 795zM893 648zM785 951zM838 778zM811 918zM1135 965zM1041 917zM844 725zM796 818zM793 935zM882 930zM797 878zM814 874zM858 829zM810 652zM889 658zM1005 909zM877 667zM819 683zM928 740zM815 898zM1002 919zM839 812zM895 666zM1127 902zM827 890zM839 922zM1028 961zM858 695zM1004 1032zM1181 969zM869 721zM887 694zM1039 871zM873 596zM794 956zM812 859zM794 824zM782 822zM789 1033zM803 951zM802 858zM824 836zM884 856zM879 618zM794 722zM1034 966zM789 889zM905 759zM817 1015zM944 1049zM849 887zM893 1052zM918 887zM1036 926zM838 672zM951 945zM1115 612zM900 958zM789 775zM817 835zM855 640zM1002 1050zM787 893zM933 724zM788 823zM800 910zM843 789zM910 939zM849 894zM869 797zM1103 885zM801 688zM1126 939zM838 622zM1183 1004zM933 860zM826 870zM915 927zM945 1034zM836 934zM985 604zM933 1017zM791 615zM855 833zM806 990zM845 832zM868 889zM847 660zM817 703zM807 882zM810 837zM860 755zM971 860zM836 617zM842 839zM905 990zM908 933zM856 597zM898 964zM887 1004zM845 865zM947 899zM789 678zM891 867zM808 687zM858 1027zM793 713zM835 694zM826 730zM800 622zM856 862zM904 651zM963 835zM791 782zM950 596zM818 762zM848 862zM788 659zM1046 604zM881 598zM820 890zM847 730zM807 909zM830 627zM793 901zM957 894zM795 818zM908 985zM1055 970zM880 906zM836 828zM879 1015zM1050 881zM1011 972zM1092 937zM911 629zM790 841zM858 903zM792 928zM793 888zM1083 842zM948 607zM840 877zM822 846zM823 935zM879 623zM950 686zM904 678zM799 877zM924 677zM905 812zM831 712zM802 659zM808 819zM938 673zM858 985zM878 1004zM816 823zM815 629zM843 707zM786 930zM849 860zM784 798zM1054 904zM926 1047zM836 808zM820 837zM903 938zM797 936zM812 670zM859 940zM1143 979zM819 692zM798 762zM1084 633zM859 631zM1029 1000zM840 612zM784 673zM826 923zM801 941zM886 929zM849 595zM792 898zM880 1048zM1180 971zM831 626zM805 865zM846 934zM795 680zM815 945zM836 904zM800 838zM823 706zM825 904zM795 867zM815 607zM871 1035zM976 873zM822 804zM828 1010zM833 770zM1152 913zM797 843zM1078 620zM788 790zM1138 870zM811 755zM816 832zM804 802zM914 976zM854 695zM832 716zM808 761zM923 917zM827 944zM903 818zM860 802zM858 835zM789 651zM1031 881zM797 908zM908 598zM961 1022zM983 925zM813 903zM815 829zM827 857zM816 909zM812 954zM834 913zM1158 1056zM789 833zM867 989zM840 968zM1087 917zM801 828zM833 821zM821 996zM809 886zM932 923zM790 677zM873 637zM821 834zM808 639zM790 666zM860 695zM897 1004zM846 1023zM783 839zM881 674zM807 913zM812 844zM819 703zM857 612zM839 883zM915 1059zM787 851zM1018 1014zM846 608zM795 853zM820 766zM845 876zM805 725zM879 1012zM980 951zM802 856zM977 1023zM801 889zM885 921zM872 679zM913 955zM824 698zM786 850zM790 1021zM794 904zM810 967zM788 645zM865 712zM798 624zM789 811zM848 740zM826 822zM1068 891zM898 686zM793 871zM819 759zM865 890z"/><path d="M784 644zM837 929zM838 845zM835 925zM965 955zM954 966zM901 690zM864 814zM1048 599zM815 1044zM947 1025zM799 849zM1086 1032zM828 948zM799 987zM802 853zM799 816zM816 852zM808 897zM806 692zM983 1008zM810 617zM826 875zM935 855zM878 921zM798 896zM814 738zM869 646zM920 663zM788 765zM830 858zM800 888zM801 863zM832 987zM818 827zM904 912zM791 852zM814 865zM843 755zM794 747zM930 652zM885 915zM816 921zM818 831zM859 610zM800 842zM836 973zM944 991zM800 753zM993 669zM805 1055zM996 900zM837 1005zM948 1000zM1015 952zM827 678zM785 635zM948 934zM795 758zM840 769zM794 611zM790 918zM817 802zM978 890zM799 835zM823 877zM900 645zM834 611zM1026 904zM946 1054zM908 864zM900 977zM902 862zM792 880zM798 891zM877 607zM864 704zM855 941zM856 708zM846 865zM895 611zM907 1050zM865 892zM1052 943zM912 598zM995 636zM823 937zM925 682zM788 918zM815 599zM804 879zM1185 988zM1023 890zM930 925zM826 799zM901 732zM1020 882zM1185 889zM906 935zM902 1040zM800 606zM785 855zM1081 904zM846 851zM789 944zM906 956zM885 1025zM787 940zM1009 960zM851 771zM827 601zM835 894zM793 778zM798 893zM1021 926zM885 729zM825 814zM799 856zM829 861zM1112 1056zM1112 840zM791 807zM798 759zM944 963zM832 624zM1050 947zM940 712zM790 880zM952 836zM795 951zM1069 1011zM864 608zM821 877zM995 709zM806 697zM837 642zM840 676zM820 847zM813 844zM919 969zM861 740zM825 941zM1060 916zM995 835zM812 614zM790 650zM868 692zM1072 797zM801 817zM958 1051zM820 654zM1144 735zM973 908zM800 914zM829 625zM820 743zM792 856zM907 878zM854 987zM790 622zM810 925zM827 809zM856 627zM936 858zM846 874zM840 603zM857 706zM829 1054zM800 794zM829 869zM788 859zM801 617zM988 931zM881 786zM818 738zM803 837zM805 925zM787 943zM794 922zM787 810zM788 756zM1062 994zM1014 952zM790 842zM842 820zM836 816zM1138 941zM899 939zM907 690zM800 652zM784 999zM1107 836zM805 723zM804 721zM804 612zM842 726zM858 744zM839 942zM793 847zM883 678zM792 855zM820 595zM797 902zM896 669zM834 1003zM906 1006zM804 907zM883 936zM829 930zM795 629zM814 597zM887 721zM1123 979zM867 1009zM930 649zM789 732zM788 802zM1013 650zM994 969zM859 1014zM806 702zM938 936zM794 1034zM879 969zM935 877zM1071 935zM850 717zM884 961zM808 898zM850 693zM859 825zM807 684zM831 964zM891 608zM798 737zM933 686zM838 621zM795 894zM785 803zM805 696zM997 965zM845 711zM796 613zM816 864zM913 993zM812 916zM787 941zM798 773zM787 639zM854 1049zM821 727zM812 769zM972 1040zM839 648zM800 680zM883 996zM872 917zM856 849zM803 596zM951 890zM817 872zM796 782zM940 603zM840 778zM833 887zM855 720zM881 629zM1099 832zM805 1039zM786 761zM1113 950zM889 599zM791 874zM817 842zM1180 1014zM798 834zM883 873zM935 905zM805 929zM817 743zM801 614zM807 838zM808 598zM971 1060zM878 885zM820 693zM828 673zM788 850zM792 980zM835 1020zM816 897zM865 878zM851 673zM840 894zM1044 988zM871 636zM990 1029zM801 835zM877 933zM898 749zM818 896zM866 916zM806 828zM821 880zM855 949zM800 842zM1076 1050zM940 898zM937 967zM803 1010zM915 923zM821 716zM800 831zM784 886zM797 932zM952 958zM802 1003zM825 764zM1067 626zM1032 873zM801 721zM830 859zM793 858zM835 888zM878 698zM821 829zM1029 888zM1056 919zM790 683zM784 894zM788 826zM857 750zM828 894zM1140 1046zM798 886zM791 864zM841 873zM850 903zM809 751zM825 750zM1029 951zM808 894zM818 827zM954 984zM1000 1023zM1025 709zM788 669zM815 834zM897 911zM941 985zM881 918zM945 660zM1021 921zM794 810zM786 874zM797 915zM822 882zM1035 997zM792 956zM830 701zM802 1023zM798 882zM896 658zM1067 782zM817 618zM916 936zM814 705zM1032 681zM1085 687zM899 863zM871 866zM890 870zM837 907zM1175 878zM1156 1039zM886 854zM876 1004zM790 841zM1083 936zM820 594zM835 846zM1045 654zM822 1026zM799 691zM786 992zM826 734zM1035 735zM1027 1007zM805 957zM868 904zM864 975zM868 874zM805 773zM832 939zM846 674zM811 707zM879 1021zM805 592zM824 851zM809 890zM853 871zM810 704zM929 911zM815 837zM932 998zM792 846zM809 853zM813 733zM812 672zM1105 704zM850 872zM797 842zM864 960zM807 950zM979 960zM829 962zM797 995zM808 833zM809 785zM1013 659zM800 866zM793 893zM881 1037zM904 1005zM938 932zM1051 1057zM838 618zM935 896zM808 687zM799 692zM921 959zM790 888zM883 660zM888 707zM822 828zM909 647zM792 632zM861 817zM1061 819zM817 875zM903 710zM838 903zM792 840zM850 837zM938 615zM859 765zM910 1016zM1011 647zM1091 916zM879 670zM994 923zM935 741zM788 881zM854 837zM815 650zM861 708zM927 843zM1017 1012zM827 1047zM827 926zM1090 606zM840 795zM798 860zM1069 1045zM1054 1006zM784 870zM787 857zM972 1017zM806 826zM781 855zM825 1029zM955 925zM780 870zM853 809zM786 958zM829 951zM807 680zM1027 698zM1036 908zM836 833zM811 902zM866 860zM915 627zM797 848zM923 940zM873 734zM781 923zM802 856zM838 662zM1101 679zM1126 917zM849 648zM832 595zM831 597zM1107 882zM851 955zM818 668zM1179 1054zM906 822zM969 898zM854 898zM1014 899zM1001 1014zM870 955zM806 919zM940 639zM842 889zM812 923zM838 1004zM866 955zM791 753zM901 612zM903 634zM928 700zM790 771zM950 1049zM965 676zM852 890zM1095 982zM842 936zM820 874zM782 863zM1016 960zM975 1050zM835 678zM830 652zM830 830zM794 646zM1000 951zM945 791zM1101 1046zM855 746zM811 998zM811 882zM817 928zM880 823zM815 643zM797 842zM866 645zM795 693zM818 735zM1012 958zM802 628z"/><path d="M841 969zM921 936zM858 618zM914 1036zM897 972zM794 917zM910 1058zM792 834zM817 789zM817 654zM781 921zM804 916zM853 657zM840 868zM848 979zM1128 926zM936 968zM803 843zM802 680zM862 792zM934 955zM810 814zM794 881zM810 708zM866 923zM1055 859zM907 672zM882 847zM821 909zM807 716zM866 725zM792 707zM815 741zM821 656zM818 832zM823 901zM781 612zM799 1000zM874 660zM1119 923zM848 701zM857 639zM820 718zM833 594zM794 662zM782 935zM882 950zM1181 977zM962 1024zM813 901zM907 857zM831 653zM845 706zM851 636zM796 838zM879 1029zM862 892zM980 661zM794 888zM791 994zM808 855zM962 977zM794 835zM877 948zM923 940zM840 811zM802 754zM820 794zM1067 959zM849 841zM812 885zM867 841zM782 828zM799 696zM1125 953zM814 806zM821 842zM810 874zM849 912zM980 949zM846 874zM974 892zM891 623zM945 1039zM882 1012zM866 1032zM944 878zM819 852zM885 955zM789 604zM962 850zM916 995zM805 856zM1009 1057zM801 633zM789 882zM855 1055zM828 882zM862 753zM816 804zM794 858zM887 699zM978 723zM868 891zM793 608zM784 965zM914 843zM804 876zM874 986zM1084 998zM837 796zM896 691zM782 978zM1160 881zM1025 953zM858 1055zM947 605zM811 687zM895 692zM797 932zM801 989zM954 679zM824 1002zM833 1013zM823 869zM854 980zM837 662zM848 818zM984 949zM854 898zM812 993zM780 857zM829 674zM849 636zM822 844zM788 993zM828 902zM813 854zM911 862zM798 948zM822 888zM787 778zM812 865zM860 649zM825 822zM896 739zM1013 641zM792 896zM786 700zM869 944zM879 701zM1091 726zM833 975zM808 707zM801 647zM916 928zM1020 1036zM940 664zM815 914zM785 893zM816 728zM877 959zM1035 999zM790 732zM848 616zM893 764zM788 820zM800 709zM1055 975zM1085 901zM836 704zM870 1011zM820 991zM791 778zM970 1006zM842 664zM928 1012zM805 909zM817 871zM826 808zM815 833zM817 747zM847 624zM807 858zM864 665zM929 1046zM820 660zM1134 927zM881 941zM957 1042zM822 991zM861 695zM827 879zM1004 938zM808 917zM899 723zM920 1054zM931 935zM786 993zM837 933zM809 777zM929 909zM830 828zM863 1027zM873 670zM842 1032zM823 747zM810 901zM834 876zM884 730zM857 862zM814 743zM795 722zM843 876zM819 642zM834 791zM856 667zM818 627zM829 893zM804 874zM949 839zM1132 943zM973 872zM802 621zM791 769zM859 1017zM898 666zM832 910zM816 636zM932 922zM787 628zM834 898zM793 951zM851 892zM848 953zM1025 882zM962 1006zM821 917zM901 1025zM781 796zM887 737zM1085 686zM1078 595zM811 930zM808 872zM1135 1056zM1004 847zM974 724zM813 672zM1028 696zM1023 1031zM932 959zM844 883zM962 872zM791 657zM791 933zM1076 1050zM977 944zM854 648zM828 889zM797 856zM809 695zM977 1054zM781 899zM796 839zM992 1054zM924 866zM853 659zM861 704zM1100 937zM839 772zM793 847zM930 721zM839 826zM802 638zM855 830zM797 987zM968 897zM927 621zM892 917zM990 1002zM788 891zM824 714zM823 885zM832 817zM840 818zM879 617zM792 929zM816 988zM788 733zM797 916zM798 687zM804 843zM863 884zM883 920zM981 974zM845 592zM905 968zM911 977zM860 619zM796 884zM789 812zM814 773zM829 944zM803 880zM824 727zM794 913zM808 604zM840 912zM879 920zM931 978zM1112 722zM1115 914zM836 972zM1177 806zM803 860zM825 842zM797 908zM919 991zM833 870zM800 940zM840 611zM1005 974zM958 943zM901 607zM858 984zM806 845zM849 692zM933 985zM1007 951zM919 922zM996 634zM874 1054zM936 889zM867 878zM955 928zM833 866zM783 754zM921 604zM973 638zM827 882zM792 677zM803 862zM822 962zM794 827zM867 606zM805 594zM936 931zM798 779zM810 596zM816 980zM803 1059zM920 870zM848 717zM785 961zM873 731zM829 607zM924 975zM810 818zM827 732zM828 880zM845 878zM859 985zM789 729zM784 766zM1085 871zM788 689zM926 898zM807 941zM851 662zM932 1023zM848 817zM828 695zM1118 907zM788 830zM909 896zM848 899zM786 623zM787 813zM846 688zM967 947zM962 1043zM954 696zM827 760zM807 829zM880 611zM800 851zM867 935zM804 801zM829 698zM834 1061zM863 922zM811 872zM863 703zM1023 848zM1137 889zM832 930zM831 917zM789 687zM888 752zM829 902zM1034 932zM1006 628zM995 693zM870 968zM882 633zM792 899zM788 949zM935 727zM870 625zM927 677zM996 1006zM845 964zM796 979zM807 896zM827 740zM818 870zM882 939zM987 1026zM797 633zM796 966zM973 925zM865 652zM801 837zM791 767zM946 661zM795 975zM842 839zM785 966zM835 890zM783 906zM961 893zM844 1038zM807 717zM800 824zM1039 968zM977 898zM798 617zM797 902zM1016 685zM796 882zM791 656zM893 835zM861 611zM1156 1040zM952 992zM784 902zM928 994zM995 990zM924 910zM841 1053zM800 1017zM966 1007zM906 804zM786 987zM812 853zM851 715zM922 927zM869 704zM847 653zM818 847zM815 838zM800 768zM1094 873zM1072 1006zM871 633zM1067 1054zM790 823zM962 628zM936 881zM807 892zM810 797zM815 1055zM798 926zM840 680zM814 885zM806 920zM1165 928zM801 930zM803 613zM800 842zM789 918zM786 647zM802 896zM811 906zM1005 1029zM811 701zM790 809zM922 947zM790 828zM877 738zM970 1057zM800 680zM802 784zM818 966zM838 951zM898 748zM890 633zM814 825zM991 1039zM829 734zM874 632zM800 926zM870 718zM990 975zM1012 945zM802 825zM824 636zM822 634zM984 896zM1028 918zM1186 928zM832 905zM947 958zM1176 953zM923 822zM978 906zM884 750zM1134 831zM1016 667zM798 817zM899 1009zM787 847zM1003 1025zM833 601zM959 986zM801 767zM814 775zM831 936zM950 1055zM818 871zM790 861zM842 856zM792 673zM845 634zM782 752zM978 959zM1049 1039zM962 684zM794 768zM821 849zM939 897zM833 1025z"/><path d="M848 1023zM855 1053zM843 633zM865 627zM817 812zM999 998zM842 1017zM837 882zM1045 932zM944 866zM790 830zM848 1041zM806 917zM862 899zM818 872zM976 820zM801 926zM872 905zM788 862zM794 853zM864 909zM837 647zM851 933zM898 874zM896 911zM1064 1001zM811 870zM898 869zM838 713zM974 1040zM879 1003zM1085 961zM923 918zM845 667zM818 663zM843 943zM899 1061zM832 611zM821 622zM804 836zM801 854zM1063 949zM1035 808zM1040 883zM1043 858zM837 666zM827 613zM829 982zM893 831zM855 898zM854 673zM1092 1042zM805 870zM943 931zM802 824zM892 902zM851 756zM792 689zM1011 711zM784 595zM936 915zM821 826zM807 919zM819 987zM1001 669zM833 890zM821 815zM804 734zM832 949zM819 809zM902 644zM861 691zM967 889zM844 671zM1056 1059zM1176 954zM796 846zM966 917zM805 760zM839 827zM939 927zM803 739zM956 718zM974 881zM1005 970zM840 733zM808 852zM790 869zM1142 854zM847 965zM786 812zM796 855zM808 834zM840 724zM840 893zM886 875zM784 804zM881 1021zM991 913zM789 860zM819 700zM1124 847zM1083 940zM825 875zM949 701zM827 828zM812 862zM819 889zM850 714zM833 592zM829 677zM1011 950zM870 644zM782 875zM933 863zM962 866zM1065 917zM811 607zM921 739zM909 662zM988 885zM852 866zM840 931zM907 990zM837 612zM793 821zM812 881zM927 600zM791 838zM861 759zM967 687zM806 906zM803 822zM803 962zM923 985zM826 1061zM805 829zM793 907zM814 933zM838 598zM953 977zM823 887zM838 711zM932 703zM887 677zM848 945zM879 818zM834 875zM897 904zM794 888zM842 601zM799 651zM793 710zM838 810zM815 692zM819 847zM840 855zM873 1041zM995 602zM876 942zM818 759zM809 852zM794 827zM921 1012zM866 821zM796 655zM858 688zM836 629zM811 1025zM791 881zM790 844zM803 976zM1000 994zM1050 894zM811 710zM803 899zM818 724zM850 787zM789 852zM949 649zM806 898zM1002 952zM812 619zM804 879zM857 863zM793 814zM807 849zM932 669zM783 900zM829 839zM837 843zM788 935zM786 676zM922 647zM937 600zM871 946zM788 895zM838 600zM792 751zM895 719zM798 877zM879 673zM858 1037zM807 841zM799 848zM785 839zM788 765zM1019 935zM843 646zM802 895zM806 919zM930 951zM842 965zM791 904zM928 945zM816 1010zM832 750zM894 852zM800 875zM836 929zM1097 980zM796 898zM1124 1059zM971 721zM923 711zM874 634zM929 1029zM798 895zM844 909zM824 817zM854 612zM997 1050zM821 658zM944 684zM791 681zM843 737zM954 950zM895 894zM787 867zM1052 864zM977 927zM1010 894zM847 956zM950 818zM842 727zM789 814zM857 925zM1061 1041zM861 790zM959 1025zM996 809zM907 952zM832 882zM826 950zM850 616zM809 611zM788 741zM802 779zM783 917zM794 831zM817 934zM1020 871zM1013 887zM937 995zM867 934zM870 883zM838 758zM809 688zM961 653zM835 628zM793 827zM938 1036zM861 844zM1121 1036zM822 749zM890 609zM919 780zM953 953zM1137 853zM825 829zM827 742zM923 677zM862 985zM809 871zM885 642zM785 832zM825 849zM856 847zM799 773zM877 888zM889 620zM804 864zM824 892zM799 811zM824 698zM794 700zM1091 889zM982 904zM788 963zM815 601zM822 947zM826 670zM864 1028zM795 611zM926 912zM807 935zM897 675zM804 893zM904 750zM807 950zM790 871zM790 870zM785 852zM845 823zM859 615zM855 831zM788 895zM822 879zM850 925zM992 868zM846 770zM911 1037zM1121 933zM802 729zM786 911zM902 918zM876 608zM961 888zM982 692zM922 941zM820 638zM861 701zM852 644zM906 934zM799 820zM786 770zM837 722zM847 610zM1112 1000zM916 893zM1045 953zM801 841zM903 611zM866 916zM795 874zM809 599zM817 629zM802 613zM799 880zM910 726zM802 792zM967 937zM836 718zM835 841zM803 821zM811 860zM886 894zM832 612zM839 632zM985 927zM846 603zM1027 847zM795 683zM880 655zM898 883zM942 680zM1024 1017zM1136 838zM806 716zM804 892zM796 855zM789 930zM791 912zM1005 934zM872 917zM899 966zM784 828zM796 699zM792 646zM810 1057zM819 901zM837 769zM788 860zM961 597zM813 821zM824 620zM867 970zM801 702zM801 824zM800 842zM899 1012zM896 1044zM811 617zM1165 868zM931 704zM826 1028zM863 659zM936 918zM895 999zM805 874zM879 698zM1132 901zM816 873zM1093 903zM940 951zM836 660zM808 666zM798 804zM799 825zM811 835zM814 903zM785 854zM894 607zM781 617zM834 959zM805 932zM818 921zM805 822zM854 866zM880 663zM823 793zM852 776zM807 631zM806 920zM857 882zM1018 913zM807 699zM897 956zM814 974zM796 823zM886 702zM826 668zM822 889zM816 924zM809 663zM796 894zM839 849zM917 994zM855 1004zM792 712zM1049 881zM1044 994zM1035 1027zM917 608zM984 963zM1068 978zM813 656zM892 842zM1093 934zM839 975zM858 636zM828 935zM796 717zM964 910zM950 696zM943 609zM855 879zM802 625zM809 663zM811 744zM1032 1021zM865 875zM991 976zM785 812zM867 592zM1031 925zM793 984zM841 620zM966 997zM1188 882zM878 877zM808 828zM977 725zM925 594zM812 634zM824 912zM869 933zM852 660zM799 926zM871 863zM822 880zM897 945zM810 827zM1088 696zM827 825zM1147 946zM883 655zM870 717zM986 604zM923 1004zM809 822zM800 874zM805 834zM795 811zM935 650zM934 851zM864 674zM808 739zM830 1007zM826 928zM853 914zM806 897zM806 773zM872 888zM868 627zM878 822zM908 603zM871 870zM792 723zM1174 972zM971 857zM850 873zM814 908zM1010 673zM843 849zM1155 1012zM867 857zM873 883zM864 943zM819 914zM792 797zM789 880zM933 740zM811 945zM926 659zM856 881zM1020 707zM871 651zM824 749zM822 752zM971 1048zM919 690zM801 924zM785 896zM985 949zM807 899zM939 1050zM786 622zM893 616zM935 935zM838 633zM1169 856zM900 903z"/><path d="M944 668zM786 774zM822 611zM809 926zM825 611zM787 833zM786 658zM821 869zM892 694zM838 684zM846 910zM1186 1037zM924 898zM888 724zM880 953zM791 933zM887 929zM867 883zM826 938zM842 896zM977 900zM836 742zM890 664zM785 653zM811 873zM979 671zM807 792zM803 594zM833 852zM787 598zM933 628zM1180 1046zM944 856zM808 729zM903 958zM830 1033zM860 834zM826 878zM812 864zM801 714zM788 700zM857 951zM879 1009zM974 1040zM870 944zM812 905zM789 841zM810 768zM789 937zM897 901zM1133 951zM795 825zM947 902zM842 597zM965 956zM1061 916zM1027 918zM1011 858zM911 909zM786 641zM1024 946zM896 987zM860 1027zM850 922zM967 949zM903 739zM1080 843zM850 1008zM830 778zM836 592zM858 914zM796 929zM826 715zM885 674zM785 826zM783 920zM810 671zM928 929zM918 897zM895 855zM890 960zM825 630zM881 909zM840 875zM809 934zM859 690zM813 681zM826 735zM1137 856zM1099 873zM830 791zM816 843zM1015 980zM817 638zM864 697zM872 842zM825 848zM904 868zM844 715zM845 664zM794 871zM811 806zM796 667zM985 596zM947 844zM1077 910zM818 626zM949 993zM1023 910zM839 877zM787 827zM855 613zM1116 918zM809 890zM1020 601zM798 681zM850 859zM1090 930zM835 863zM845 1025zM854 730zM841 950zM956 1014zM1013 831zM801 766zM996 939zM869 708zM911 945zM866 874zM890 645zM785 820zM905 958zM806 859zM845 1039zM925 892zM893 975zM870 692zM836 601zM820 666zM843 880zM787 760zM824 894zM906 1033zM838 749zM802 824zM913 938zM1131 937zM806 848zM891 762zM820 931zM790 631zM788 809zM819 848zM796 863zM997 829zM804 812zM790 874zM905 631zM858 956zM844 932zM880 761zM784 802zM849 931zM867 1020zM942 956zM886 910zM804 737zM824 773zM1114 909zM798 902zM811 880zM1012 937zM786 869zM827 873zM792 774zM816 895zM906 698zM929 665zM939 911zM832 602zM1092 856zM939 732zM804 901zM825 913zM819 809zM853 1018zM832 698zM938 1038zM800 809zM1125 854zM1055 920zM1048 831zM812 626zM895 987zM884 1009zM801 821zM793 834zM848 706zM804 769zM1128 1055zM842 631zM828 939zM818 941zM852 617zM851 886zM1076 1044zM899 1039zM830 854zM895 612zM889 919zM826 845zM836 924zM903 1027zM956 884zM840 605zM801 725zM942 819zM879 899zM906 978zM786 907zM973 671zM794 800zM869 847zM1026 904zM970 955zM808 837zM839 899zM912 594zM924 957zM808 633zM999 1023zM975 993zM816 822zM917 628zM854 801zM895 700zM830 648zM936 665zM880 631zM887 979zM889 620zM881 649zM1092 946zM818 835zM1013 971zM797 842zM1010 713zM891 947zM822 632zM782 801zM1069 923zM804 862zM821 872zM846 599zM820 793zM934 1054zM793 858zM901 1034zM818 905zM788 889zM923 696zM793 775zM1123 918zM822 901zM911 928zM843 731zM871 626zM813 849zM828 762zM906 656zM926 739zM1137 957zM781 763zM1128 1060zM869 955zM803 855zM837 762zM979 979zM846 834zM843 829zM811 843zM1038 992zM856 847zM850 752zM811 712zM936 1052zM1100 606zM811 659zM808 691zM795 766zM803 968zM1050 978zM841 827zM878 883zM885 727zM786 880zM1020 880zM791 831zM812 840zM801 903zM810 881zM834 846zM788 825zM900 878zM820 704zM861 900zM1066 883zM1063 876zM855 683zM801 863zM1157 1046zM798 868zM901 902zM1125 907zM828 813zM1092 778zM790 813zM905 973zM791 808zM835 853zM1040 838zM1036 989zM880 921zM825 745zM800 791zM841 985zM892 844zM803 850zM889 1005zM803 866zM883 704zM819 892zM808 688zM918 625zM801 820zM838 652zM1090 1037zM1118 1011zM1002 1060zM793 834zM785 821zM838 713zM790 822zM963 903zM896 928zM851 881zM888 656zM1109 923zM791 771zM782 605zM855 938zM930 983zM900 915zM1114 930zM883 932zM898 597zM872 878zM1187 973zM867 848zM851 636zM970 950zM948 1060zM1155 1050zM826 846zM785 788zM833 703zM982 651zM873 674zM823 665zM864 906zM842 869zM877 790zM843 703zM839 711zM980 918zM827 922zM940 938zM852 740zM806 800zM869 601zM817 840zM820 840zM799 720zM846 799zM818 801zM791 726zM814 867zM806 871zM829 630zM810 685zM793 1020zM996 899zM835 814zM923 1027zM796 866zM784 1001zM857 626zM793 873zM924 1061zM784 644zM913 640zM937 920zM836 940zM857 767zM956 1023zM842 914zM809 908zM788 902zM1044 855zM1003 932zM848 800zM880 666zM798 633zM796 868zM822 823zM926 818zM838 826zM1009 763zM833 786zM826 843zM796 810zM1002 629zM802 888zM1043 678zM783 788zM833 860zM819 793zM850 881zM852 832zM816 862zM864 667zM848 734zM861 945zM869 946zM973 990zM879 1014zM808 670zM822 1042zM786 615zM813 884zM1113 880zM1032 887zM859 964zM957 916zM1136 952zM870 864zM852 913zM813 723zM1125 605zM798 835zM796 848zM833 656zM817 875zM866 870zM803 830zM801 849zM868 757zM1058 734zM809 609zM795 907zM1112 925zM791 873zM827 930zM796 755zM800 689zM800 818zM815 935zM848 642zM1080 1020zM801 919zM830 672zM848 1004zM903 856zM1093 955zM904 881zM884 636zM795 973zM832 976zM889 866zM791 853zM804 876zM1023 643zM872 604zM814 611zM855 663zM792 805zM1020 884zM805 884zM1106 1054zM802 620zM908 924zM800 810zM860 622zM797 786zM826 662zM802 859zM847 757zM891 601zM1060 725zM942 618zM864 642zM816 1008zM955 925zM1019 915zM874 653zM900 1035zM1099 953zM982 980zM794 706zM827 892zM902 711zM787 803zM831 863zM807 751zM827 859zM813 849zM910 796zM809 655zM815 835zM973 989zM832 962zM1007 867zM866 845zM876 912zM849 827zM852 615zM897 966zM1113 1052zM847 710zM926 828zM803 834zM800 821zM815 877zM826 757zM865 927zM982 1060zM829 849zM989 897zM993 925zM823 873zM997 928zM926 842zM886 943z"/><path d="M837 619zM887 731zM791 928zM813 854zM1006 908zM944 913zM1085 922zM951 946zM942 953zM796 735zM796 896zM934 921zM790 757zM872 999zM918 652zM782 770zM875 738zM797 882zM824 649zM838 875zM862 851zM822 907zM798 870zM867 801zM873 970zM810 692zM838 1020zM802 900zM784 912zM831 702zM952 1003zM1059 984zM1146 983zM898 1046zM799 706zM842 809zM784 884zM788 850zM947 1013zM926 950zM839 940zM824 861zM806 650zM897 1050zM885 1026zM1044 1057zM824 832zM802 853zM848 1005zM965 598zM938 947zM795 835zM922 724zM1059 1007zM1009 924zM835 713zM816 896zM789 899zM825 645zM895 615zM815 823zM804 885zM832 850zM986 1037zM794 878zM976 1011zM820 697zM814 910zM887 623zM863 1037zM905 641zM827 610zM825 876zM808 848zM1056 823zM805 904zM930 912zM813 909zM797 873zM849 666zM830 938zM792 842zM854 976zM948 609zM791 839zM1002 866zM978 940zM977 951zM1103 1036zM870 887zM871 923zM813 1027zM806 793zM827 631zM808 675zM966 943zM987 924zM912 1045zM866 632zM785 793zM997 1015zM815 692zM836 885zM812 865zM801 625zM797 858zM828 830zM784 702zM931 1061zM905 864zM799 961zM794 905zM933 961zM787 906zM959 650zM866 1002zM854 706zM845 599zM831 694zM986 885zM848 647zM847 741zM796 887zM879 846zM789 610zM845 999zM853 1043zM787 761zM886 629zM906 937zM960 1001zM1017 962zM811 807zM783 825zM1008 834zM814 957zM789 806zM831 1046zM829 730zM835 682zM993 995zM957 975zM829 834zM907 854zM808 593zM814 698zM799 819zM880 940zM851 871zM832 847zM916 983zM831 917zM785 834zM884 858zM886 627zM805 806zM796 830zM842 606zM881 843zM864 717zM821 1007zM820 919zM833 679zM811 619zM812 719zM913 964zM981 946zM865 831zM827 761zM1004 876zM806 822zM1009 873zM920 682zM809 817zM989 893zM803 933zM842 847zM803 995zM781 967zM819 617zM798 746zM1006 957zM828 717zM791 890zM884 902zM792 813zM812 729zM782 861zM926 1007zM806 874zM825 814zM855 962zM965 1043zM813 718zM1066 1030zM961 964zM893 956zM831 877zM875 798zM798 600zM831 832zM785 936zM863 952zM813 939zM894 806zM893 694zM808 900zM842 911zM894 656zM896 701zM941 985zM793 768zM912 668zM1106 935zM836 667zM817 850zM803 825zM867 628zM871 735zM841 1022zM812 844zM859 918zM925 1020zM964 1050zM902 849zM894 913zM808 691zM878 741zM796 706zM830 623zM887 675zM899 635zM965 1048zM831 873zM889 955zM1022 917zM1122 1050zM942 1028zM831 826zM1059 840zM808 779zM839 608zM797 932zM856 632zM943 940zM786 827zM796 895zM1121 931zM925 696zM1064 864zM954 1057zM1111 879zM833 831zM1053 841zM1103 946zM790 676zM809 694zM875 1043zM1154 894zM801 823zM993 857zM797 630zM1076 890zM871 731zM939 592zM895 666zM876 855zM805 887zM854 620zM922 601zM851 762zM819 837zM800 730zM902 887zM875 969zM826 882zM936 929zM790 706zM816 881zM856 923zM850 891zM803 806zM805 653zM853 886zM850 678zM835 948zM802 596zM956 602zM826 977zM919 622zM970 867zM810 902zM824 864zM820 806zM1184 1002zM1012 928zM971 933zM868 935zM856 734zM820 709zM793 754zM1043 992zM1089 988zM914 960zM790 861zM781 851zM924 981zM786 872zM803 679zM899 594zM879 654zM782 869zM789 865zM884 891zM783 696zM804 743zM790 769zM802 631zM959 623zM1062 870zM802 597zM873 708zM811 826zM849 621zM916 954zM878 860zM802 831zM1001 877zM996 922zM792 680zM816 730zM823 874zM903 864zM829 668zM784 884zM782 824zM925 689zM895 859zM907 663zM893 880zM909 903zM788 996zM888 653zM821 931zM843 593zM814 909zM832 883zM796 949zM941 920zM792 866zM786 887zM1074 1024zM854 650zM960 958zM782 841zM841 931zM824 612zM789 719zM824 743zM881 849zM827 689zM818 894zM856 847zM832 891zM952 904zM790 923zM852 994zM826 775zM836 1016zM922 782zM813 866zM823 897zM892 729zM850 865zM1017 915zM814 792zM816 962zM932 731zM859 813zM792 643zM812 593zM788 665zM794 771zM829 830zM814 902zM813 710zM826 919zM828 843zM850 632zM806 773zM887 937zM1058 1006zM1125 983zM848 871zM836 678zM827 872zM813 671zM830 714zM980 872zM830 923zM836 861zM995 1008zM818 787zM785 896zM793 609zM824 891zM987 943zM820 850zM817 665zM854 849zM838 859zM904 1032zM920 858zM789 867zM810 914zM964 914zM791 954zM852 616zM813 857zM832 658zM830 751zM857 935zM835 933zM819 801zM790 779zM796 886zM835 943zM808 918zM803 850zM811 642zM820 939zM887 632zM793 935zM848 719zM802 852zM882 899zM823 753zM857 759zM904 619zM867 998zM868 690zM831 891zM974 861zM889 851zM866 813zM814 757zM821 849zM794 730zM1131 892zM914 988zM822 866zM797 766zM814 685zM855 791zM887 622zM816 598zM788 841zM814 847zM813 799zM824 861zM831 927zM1142 960zM897 932zM846 900zM851 667zM820 845zM900 904zM853 838zM851 620zM871 938zM846 738zM863 827zM790 780zM806 853zM868 679zM1161 913zM989 906zM896 983zM1003 866zM800 764zM815 845zM900 834zM901 956zM804 815zM827 624zM857 848zM855 914zM794 937zM846 912zM817 659zM785 749zM799 834zM785 594zM849 609zM817 1013zM887 900zM1032 966zM845 725zM796 861zM850 936zM797 887zM800 792zM1154 903zM874 896zM817 626zM823 621zM809 719zM828 1032zM946 917zM810 894zM921 1025zM889 1007zM796 722zM808 744zM804 814zM827 982zM785 928zM999 993zM850 928zM891 719zM915 599zM809 828zM913 999zM1141 950zM785 838zM799 716zM885 1009zM784 734zM835 859zM912 941zM869 931zM938 672zM853 1005zM825 886zM929 740zM829 795zM813 607zM832 935zM877 949zM825 861zM847 978zM1005 990zM840 856z"/><path d="M838 652zM811 860zM861 928zM808 824zM834 643zM841 873zM1040 978zM806 848zM882 794zM871 670zM797 702zM917 771zM917 832zM1002 914zM844 991zM1005 982zM802 855zM1097 955zM941 708zM802 858zM857 866zM996 1019zM889 951zM932 741zM781 883zM794 879zM885 1033zM811 858zM836 819zM940 1031zM798 669zM801 718zM803 719zM843 674zM874 671zM805 802zM868 642zM883 890zM897 891zM786 738zM840 1041zM808 721zM904 957zM814 1002zM1065 830zM853 870zM858 658zM826 955zM937 974zM831 958zM812 724zM813 609zM842 881zM799 878zM930 920zM828 661zM796 815zM817 883zM832 713zM1020 1034zM785 846zM845 757zM808 645zM823 868zM845 911zM913 662zM848 592zM831 644zM806 663zM860 650zM923 907zM914 954zM885 626zM796 930zM947 757zM841 822zM868 819zM791 618zM895 1025zM790 969zM791 669zM794 605zM852 684zM891 610zM857 873zM815 669zM802 613zM823 928zM802 796zM809 632zM1068 829zM830 613zM998 685zM858 678zM798 844zM806 928zM1140 1043zM934 1042zM836 635zM865 992zM799 864zM848 865zM832 744zM803 712zM842 648zM794 793zM823 775zM807 817zM885 923zM828 887zM979 707zM854 645zM897 1021zM1077 948zM824 830zM1049 994zM809 1057zM789 678zM817 602zM796 709zM948 636zM1055 972zM963 772zM824 1004zM906 666zM824 849zM850 707zM790 709zM878 637zM807 685zM802 857zM898 840zM845 651zM906 830zM910 731zM830 814zM1004 898zM936 939zM791 635zM918 695zM847 845zM816 803zM846 851zM1111 883zM844 902zM790 915zM810 790zM785 834zM871 893zM827 606zM961 874zM831 646zM799 920zM835 853zM809 880zM794 835zM816 969zM810 646zM793 595zM786 830zM805 822zM971 885zM910 1018zM819 887zM822 617zM1156 936zM859 867zM795 958zM784 646zM865 663zM788 1031zM1044 973zM821 786zM823 644zM882 933zM944 676zM879 671zM942 1026zM872 855zM898 1017zM846 1057zM806 653zM867 786zM833 804zM850 845zM885 853zM823 661zM830 879zM878 641zM814 806zM900 677zM794 827zM916 949zM915 646zM794 779zM849 670zM834 618zM803 609zM999 948zM802 678zM955 904zM785 825zM789 694zM824 1032zM910 1043zM904 984zM824 863zM914 936zM786 809zM836 756zM798 878zM1072 911zM895 945zM803 873zM800 867zM816 927zM824 793zM828 674zM991 845zM827 1015zM831 914zM894 870zM817 713zM824 861zM825 631zM958 617zM823 880zM848 1055zM891 719zM857 670zM800 902zM849 690zM899 875zM887 614zM806 694zM983 872zM857 943zM818 865zM960 773zM795 902zM832 658zM858 719zM1031 1046zM789 920zM949 652zM884 956zM789 619zM824 1058zM941 636zM790 613zM978 829zM943 986zM839 897zM876 895zM813 832zM861 668zM794 818zM829 674zM828 934zM796 738zM924 1020zM824 600zM825 606zM797 829zM795 681zM828 893zM838 857zM827 887zM1110 955zM783 800zM1033 1029zM945 683zM828 923zM814 875zM866 875zM870 939zM907 1010zM817 896zM903 653zM802 914zM788 774zM784 835zM817 813zM801 921zM873 907zM861 593zM791 814zM910 682zM1008 694zM844 851zM1064 901zM797 907zM845 754zM864 902zM795 758zM949 618zM965 614zM820 654zM818 856zM869 637zM798 808zM784 928zM804 779zM795 650zM1141 889zM871 1054zM868 717zM878 792zM863 746zM788 694zM796 927zM909 706zM985 987zM1061 987zM793 780zM899 1016zM864 696zM841 698zM927 765zM842 882zM900 926zM791 836zM851 909zM810 809zM817 871zM1054 929zM798 883zM831 653zM787 715zM843 706zM790 789zM912 942zM980 938zM815 849zM863 732zM813 926zM883 855zM797 1052zM833 938zM909 822zM794 598zM810 894zM816 731zM793 889zM1082 896zM781 805zM979 910zM884 967zM828 932zM795 866zM852 655zM999 725zM814 832zM870 602zM922 915zM950 982zM788 935zM1169 905zM909 932zM797 818zM786 827zM819 708zM811 825zM860 597zM855 781zM1094 946zM797 749zM799 822zM788 750zM844 659zM943 816zM896 996zM826 600zM847 821zM791 883zM923 849zM792 819zM830 928zM819 723zM811 974zM937 946zM804 836zM829 924zM833 900zM842 849zM807 708zM1087 824zM868 944zM802 642zM870 619zM880 923zM1030 879zM835 837zM789 929zM884 993zM790 1002zM962 906zM827 862zM854 990zM795 858zM821 599zM1010 889zM1095 862zM935 854zM818 842zM831 988zM786 684zM813 829zM1101 933zM861 679zM804 840zM813 927zM785 640zM823 860zM982 983zM858 881zM1133 886zM797 605zM882 662zM892 680zM801 689zM786 868zM812 865zM811 647zM791 1044zM806 745zM1133 912zM1131 931zM814 847zM850 856zM823 677zM906 862zM785 773zM807 652zM1189 928zM829 852zM805 1029zM807 913zM1040 690zM889 776zM837 921zM876 643zM791 732zM903 871zM830 710zM852 886zM924 1041zM987 998zM940 957zM796 775zM795 746zM857 718zM824 793zM1008 701zM895 974zM831 736zM855 631zM883 865zM788 713zM784 788zM796 860zM804 613zM792 629zM888 689zM937 971zM836 867zM814 712zM1041 894zM884 706zM815 906zM792 834zM834 902zM793 841zM843 646zM898 948zM926 975zM794 895zM946 713zM792 631zM859 662zM818 1048zM820 640zM1040 902zM820 832zM909 974zM838 982zM853 633zM829 782zM877 652zM851 720zM1095 934zM787 882zM830 781zM824 606zM858 593zM821 894zM840 892zM791 848zM811 1023zM786 934zM791 805zM806 598zM819 594zM835 955zM803 654zM837 950zM1079 778zM850 675zM877 1047zM832 854zM810 879zM869 860zM1062 667zM849 687zM824 1048zM804 852zM1176 883zM841 648zM828 886zM787 889zM806 907zM787 832zM796 714zM808 866zM895 852zM814 883zM885 655zM814 850zM1102 951zM991 926zM801 840zM927 895zM786 923zM789 760zM832 916zM830 940zM806 870zM830 600zM802 731zM912 949zM792 890zM853 1021zM813 667z"/><path d="M818 869zM812 826zM824 922zM811 742zM985 938zM798 654zM829 638zM807 846zM816 927zM873 739zM795 815zM954 957zM833 659zM884 710zM792 816zM1049 1051zM1108 951zM918 1030zM821 802zM972 945zM854 917zM827 695zM788 777zM813 629zM817 856zM789 906zM801 759zM882 959zM1065 890zM871 883zM790 823zM975 1001zM817 667zM811 867zM796 885zM813 887zM791 777zM1015 922zM858 893zM1022 1042zM839 621zM975 938zM981 719zM952 1024zM782 682zM831 939zM1071 593zM1135 997zM817 842zM825 677zM816 608zM956 636zM807 970zM788 786zM883 847zM968 1052zM1160 924zM797 760zM812 735zM825 656zM801 594zM866 676zM852 955zM808 880zM815 753zM808 765zM988 970zM854 905zM809 662zM894 837zM868 732zM784 905zM853 879zM786 602zM882 690zM790 680zM828 985zM837 684zM1057 1013zM844 943zM804 899zM943 1015zM1059 859zM802 906zM1081 947zM797 1013zM1000 697zM850 934zM1014 830zM793 645zM872 691zM826 1032zM789 778zM799 650zM897 890zM805 728zM922 619zM881 899zM846 615zM826 883zM898 599zM837 650zM1134 986zM856 660zM815 691zM801 796zM916 978zM848 927zM861 828zM950 894zM894 694zM796 640zM826 839zM788 800zM810 779zM871 667zM924 751zM828 771zM911 846zM1000 633zM810 849zM797 897zM889 916zM840 913zM952 865zM805 799zM1021 974zM822 654zM802 868zM836 891zM781 879zM921 702zM882 980zM922 872zM902 592zM794 906zM848 973zM792 670zM1120 680zM986 1004zM828 844zM818 672zM925 1023zM811 842zM998 841zM918 667zM799 822zM787 1019zM798 827zM932 1000zM897 595zM925 982zM862 926zM796 829zM966 856zM857 623zM1128 1028zM858 685zM913 689zM855 623zM849 692zM847 886zM978 925zM889 675zM952 938zM882 999zM873 639zM929 1030zM793 714zM800 806zM872 992zM934 665zM842 885zM1047 727zM865 868zM791 861zM847 859zM794 913zM830 601zM850 743zM855 793zM1081 953zM800 810zM787 771zM886 900zM809 838zM783 811zM804 736zM830 775zM830 622zM930 928zM794 891zM817 858zM855 955zM786 1056zM874 969zM875 885zM801 747zM858 714zM846 950zM825 795zM960 970zM832 762zM795 710zM836 767zM801 728zM814 683zM841 681zM810 779zM891 602zM817 682zM886 651zM789 674zM801 674zM995 951zM989 965zM1170 981zM784 782zM920 620zM891 963zM860 607zM816 686zM820 1059zM924 719zM790 889zM847 732zM820 960zM816 634zM986 973zM789 764zM783 610zM894 617zM924 690zM822 949zM813 711zM854 886zM982 869zM943 622zM787 811zM1052 1004zM851 621zM912 613zM893 866zM782 683zM803 687zM854 862zM818 613zM1022 1047zM797 634zM831 994zM827 834zM989 666zM848 689zM831 733zM834 933zM796 842zM823 897zM799 714zM819 733zM809 660zM783 868zM993 902zM805 913zM785 937zM812 702zM985 909zM871 658zM782 834zM856 948zM1081 1041zM796 845zM885 988zM842 892zM787 913zM997 899zM1117 680zM1004 680zM864 686zM797 672zM859 889zM791 814zM831 723zM894 870zM791 793zM975 728zM1152 945zM794 730zM807 1057zM810 886zM1172 892zM836 786zM838 728zM798 751zM888 928zM826 599zM889 621zM858 965zM822 811zM836 887zM870 810zM785 881zM1032 982zM795 928zM786 895zM809 810zM862 671zM919 870zM1045 909zM789 875zM879 889zM802 892zM792 831zM858 905zM834 917zM812 1016zM841 922zM852 665zM829 844zM815 885zM915 1019zM848 727zM961 664zM879 894zM810 901zM829 790zM803 592zM804 769zM837 606zM937 892zM824 773zM811 778zM851 899zM1080 642zM795 887zM798 820zM884 880zM796 904zM788 634zM829 909zM856 732zM895 600zM809 941zM879 594zM820 913zM808 806zM901 597zM1076 850zM951 888zM841 843zM861 813zM992 858zM807 799zM946 881zM1076 941zM877 922zM909 917zM882 975zM962 653zM784 654zM794 758zM852 649zM868 882zM1036 908zM789 615zM811 623zM982 917zM862 822zM793 806zM963 1049zM859 965zM851 683zM785 707zM814 899zM812 723zM807 640zM807 861zM839 838zM799 849zM1158 826zM816 834zM804 603zM896 889zM817 709zM918 937zM942 733zM810 981zM788 604zM975 613zM814 647zM850 934zM966 896zM836 722zM1182 904zM962 893zM816 868zM782 796zM796 620zM820 940zM895 1013zM846 847zM797 670zM844 700zM999 862zM923 706zM795 796zM801 903zM820 602zM892 857zM784 684zM989 693zM909 1002zM918 800zM868 689zM1123 935zM791 623zM780 884zM841 902zM975 1039zM1093 871zM824 928zM858 1023zM789 816zM850 967zM813 865zM800 734zM871 615zM799 921zM826 933zM986 905zM837 858zM1115 965zM782 704zM904 737zM815 841zM787 747zM841 712zM788 781zM846 656zM814 694zM945 965zM799 675zM1018 1046zM807 773zM800 857zM849 601zM821 631zM798 875zM819 704zM796 797zM879 933zM800 782zM933 1057zM960 916zM866 679zM792 833zM844 784zM790 797zM943 987zM842 624zM862 834zM885 839zM839 1001zM876 694zM819 915zM801 597zM804 664zM1005 876zM1095 907zM923 943zM807 864zM992 641zM795 923zM804 633zM805 887zM796 911zM844 633zM856 794zM815 710zM805 879zM793 812zM826 929zM827 944zM925 963zM823 759zM805 757zM817 902zM817 690zM853 903zM799 827zM844 943zM968 948zM823 696zM942 970zM912 967zM818 991zM899 731zM1009 721zM796 672zM889 1039zM798 864zM854 964zM1055 939zM939 1053zM846 657zM816 630zM812 821zM826 932zM839 930zM792 866zM786 969zM819 964zM834 884zM825 804zM1016 932zM794 845zM1061 989zM920 1026zM828 903zM824 948zM860 826zM896 959zM841 932zM782 761zM845 846zM929 879zM916 660zM868 702zM798 696zM797 877zM815 826zM811 605zM1128 865zM792 889zM786 611zM981 1026zM1124 905zM929 717zM930 610zM1173 891zM864 679zM814 635zM877 604zM1148 941z"/><path d="M823 895zM798 1041zM1123 919zM905 920zM803 820zM1181 961zM811 704zM848 666zM820 821zM790 902zM789 854zM794 890zM881 969zM867 653zM807 1034zM1080 907zM837 816zM810 873zM1040 701zM907 943zM840 695zM804 826zM811 922zM823 872zM806 740zM991 930zM1034 727zM846 675zM784 866zM827 768zM1081 898zM876 999zM862 866zM859 776zM874 606zM944 925zM950 972zM791 865zM930 957zM848 961zM802 977zM1125 953zM810 717zM1039 994zM827 861zM794 895zM842 950zM789 788zM900 1032zM1120 996zM788 666zM843 697zM910 974zM814 898zM805 599zM782 916zM792 1010zM1036 1033zM822 826zM902 674zM855 878zM844 882zM1060 848zM1039 905zM794 810zM838 840zM866 843zM984 958zM839 616zM809 868zM821 696zM855 901zM862 854zM798 732zM819 697zM1063 1057zM889 685zM786 695zM793 818zM890 925zM996 665zM793 783zM924 744zM855 817zM804 869zM1095 936zM903 641zM787 713zM858 847zM916 1015zM800 599zM814 870zM1135 958zM857 824zM799 859zM871 681zM969 946zM805 851zM1104 860zM823 796zM1023 894zM953 946zM953 888zM835 901zM828 757zM851 658zM1063 1001zM817 826zM823 864zM928 729zM803 690zM799 921zM806 830zM798 740zM809 632zM879 957zM798 817zM1045 943zM818 899zM859 1044zM832 731zM800 964zM931 913zM917 1031zM800 678zM1098 773zM816 998zM810 738zM958 930zM857 924zM854 943zM1039 668zM786 859zM793 774zM1184 933zM852 902zM792 599zM846 959zM943 607zM1126 868zM792 892zM846 974zM842 661zM869 642zM854 979zM789 698zM896 742zM797 876zM893 893zM827 651zM808 655zM885 830zM828 1053zM1084 858zM797 851zM857 935zM810 610zM844 677zM800 818zM867 875zM830 798zM1037 1021zM794 820zM842 1021zM1095 981zM873 850zM824 849zM814 899zM841 694zM801 627zM873 919zM816 760zM1025 981zM797 905zM1026 611zM862 867zM796 867zM1141 974zM1186 930zM781 913zM802 881zM808 620zM949 887zM831 945zM796 690zM888 967zM969 940zM1091 933zM1156 993zM836 815zM833 718zM875 648zM791 818zM856 837zM841 922zM968 981zM794 902zM795 799zM833 757zM858 646zM1062 913zM824 760zM967 765zM801 776zM891 814zM1120 954zM803 661zM898 883zM987 1010zM968 743zM806 827zM787 964zM851 1031zM829 868zM786 704zM816 878zM989 936zM868 883zM1011 878zM931 927zM809 988zM795 809zM809 649zM806 933zM871 732zM977 877zM822 857zM1079 1029zM1172 902zM960 971zM790 832zM926 1056zM1070 924zM994 1034zM825 837zM908 684zM823 624zM879 921zM850 660zM815 943zM875 894zM1181 637zM911 933zM875 800zM868 958zM909 664zM838 923zM1131 963zM794 618zM956 885zM837 599zM833 624zM843 828zM783 1056zM811 745zM813 803zM802 823zM787 592zM928 1021zM884 911zM902 654zM860 616zM1017 716zM831 987zM1056 976zM834 623zM890 757zM804 841zM843 685zM798 820zM801 973zM979 1018zM876 739zM798 1007zM827 671zM855 921zM860 740zM839 605zM1038 874zM907 646zM898 931zM791 825zM835 709zM788 669zM875 679zM938 898zM1052 703zM863 619zM874 876zM824 1044zM787 878zM787 857zM845 650zM789 771zM825 837zM826 784zM791 847zM832 899zM796 652zM828 649zM854 624zM920 903zM945 694zM790 595zM834 828zM880 917zM1011 921zM827 831zM1018 685zM818 921zM807 888zM817 875zM880 1047zM963 967zM799 884zM1025 873zM803 856zM801 838zM798 625zM873 864zM817 907zM937 827zM881 905zM906 999zM786 1001zM798 811zM789 804zM806 694zM790 1035zM879 891zM1020 918zM792 864zM889 924zM900 971zM788 863zM797 674zM924 937zM863 841zM802 861zM847 821zM788 932zM798 634zM1075 671zM829 791zM1017 901zM911 619zM786 715zM1078 842zM864 975zM902 882zM793 813zM900 1009zM973 689zM793 914zM882 601zM831 874zM1070 1049zM867 920zM1101 864zM1017 892zM909 606zM888 923zM1067 1004zM878 863zM948 1020zM1010 950zM1044 636zM802 828zM800 846zM793 645zM853 595zM895 939zM804 729zM868 837zM928 598zM1102 905zM900 945zM797 704zM984 892zM802 1004zM830 897zM788 596zM1153 1000zM858 612zM912 974zM820 859zM823 1043zM811 827zM793 640zM1037 686zM903 1009zM933 825zM799 854zM860 855zM812 890zM811 755zM827 825zM864 836zM796 825zM870 631zM1056 977zM960 645zM962 975zM811 1007zM885 713zM1065 979zM818 696zM1006 978zM864 914zM1065 928zM789 658zM853 742zM804 911zM887 715zM935 648zM811 852zM928 702zM810 832zM818 845zM1064 685zM1151 866zM1049 728zM958 894zM864 674zM886 1035zM797 833zM921 924zM829 869zM842 943zM792 842zM852 1012zM814 822zM970 1023zM856 604zM888 965zM852 1039zM820 985zM847 674zM823 877zM988 864zM906 912zM886 967zM1070 898zM834 824zM816 743zM890 694zM1009 1036zM813 855zM801 805zM968 919zM787 941zM829 847zM787 866zM784 814zM803 607zM788 669zM901 960zM973 940zM1160 916zM793 881zM786 981zM1045 883zM818 760zM910 1058zM950 873zM793 842zM870 897zM1169 910zM930 625zM909 838zM818 964zM848 609zM893 679zM906 660zM820 893zM800 618zM876 915zM803 804zM900 897zM1002 922zM799 780zM848 743zM796 850zM795 908zM809 866zM883 706zM841 656zM796 920zM899 935zM818 745zM886 996zM927 945zM829 727zM810 960zM841 871zM858 618zM795 738zM965 647zM832 834zM900 1021zM839 826zM841 648zM1028 612zM852 620zM832 850zM815 943zM833 672zM1125 918zM863 971zM991 930zM790 934zM1124 611zM1046 909zM960 630zM849 722zM861 837zM884 1034zM831 1000zM810 627zM838 663zM786 642zM1020 820zM820 914zM800 756zM810 889zM802 942zM788 635zM881 597zM789 882zM815 872zM907 817zM816 860zM1011 648zM797 889zM790 888zM819 731zM797 977zM888 616zM1146 955zM1000 920zM891 907zM839 891z"/><path d="M881 716zM938 914zM786 959zM799 610zM890 881zM893 926zM830 770zM806 839zM828 939zM794 780zM820 716zM805 1056zM1032 1025zM804 729zM863 643zM845 860zM806 719zM889 879zM998 625zM932 666zM853 740zM903 729zM803 780zM781 634zM812 683zM829 864zM789 801zM917 741zM929 607zM835 1038zM894 970zM797 897zM913 915zM1050 927zM936 635zM824 901zM846 847zM886 747zM913 660zM825 892zM869 896zM1042 910zM930 866zM828 886zM843 959zM979 859zM854 653zM851 842zM783 650zM876 846zM851 616zM822 851zM1182 624zM816 926zM860 828zM835 901zM992 722zM912 631zM849 917zM811 709zM982 901zM788 808zM840 961zM791 757zM913 1028zM793 637zM1013 708zM814 930zM781 928zM904 979zM804 989zM1055 1013zM803 883zM851 856zM831 680zM1102 999zM811 781zM842 910zM910 608zM838 627zM821 715zM784 829zM880 595zM886 912zM1068 1024zM800 619zM826 892zM1116 949zM794 808zM898 944zM933 856zM919 640zM788 697zM1043 985zM894 825zM902 638zM835 929zM890 1039zM842 691zM784 618zM823 668zM796 864zM912 1039zM1131 943zM828 1043zM810 924zM827 967zM881 997zM1082 973zM815 826zM882 891zM954 950zM931 825zM831 732zM817 822zM821 817zM824 610zM1099 637zM837 1001zM991 867zM792 664zM792 872zM806 630zM965 1060zM783 864zM791 837zM811 696zM816 630zM931 789zM885 690zM794 826zM1000 1011zM901 625zM863 890zM799 866zM844 965zM809 617zM833 882zM1025 946zM1097 958zM898 684zM795 686zM801 814zM900 846zM831 973zM810 636zM804 879zM781 841zM792 755zM912 702zM807 628zM945 874zM817 947zM787 868zM852 664zM791 902zM811 845zM818 647zM833 887zM841 862zM809 921zM797 606zM813 826zM971 1041zM967 673zM802 788zM989 922zM792 831zM823 731zM840 763zM785 760zM824 848zM824 701zM821 851zM873 983zM840 872zM850 833zM831 709zM836 872zM1030 984zM976 986zM803 765zM860 667zM896 804zM817 999zM853 646zM926 1007zM803 837zM1050 976zM846 827zM1053 941zM1073 960zM953 1003zM801 956zM818 780zM788 796zM1131 973zM843 1052zM871 734zM849 1056zM911 714zM802 803zM863 897zM855 632zM966 959zM960 1032zM791 595zM897 964zM803 848zM784 786zM1002 688zM1075 950zM796 819zM879 992zM934 882zM840 809zM786 827zM1136 805zM874 742zM781 1057zM819 666zM834 989zM829 741zM838 844zM840 926zM842 598zM837 709zM818 878zM947 1060zM809 821zM795 652zM917 607zM799 860zM891 853zM877 888zM898 892zM1112 1023zM832 890zM798 658zM921 881zM938 1035zM986 1047zM845 929zM867 982zM871 681zM839 697zM903 858zM783 871zM926 684zM796 883zM805 811zM788 626zM790 880zM838 656zM912 961zM929 894zM986 723zM905 865zM919 903zM1039 838zM909 873zM798 811zM897 1007zM995 1059zM823 883zM806 819zM817 886zM810 723zM829 605zM783 923zM847 997zM807 626zM873 922zM781 865zM810 776zM1040 995zM786 852zM800 819zM816 602zM842 864zM1000 846zM969 920zM827 784zM1028 699zM957 899zM871 606zM865 612zM811 799zM808 771zM788 605zM926 614zM913 998zM792 871zM1138 868zM824 985zM792 634zM842 855zM820 825zM942 858zM807 961zM862 877zM916 969zM822 597zM789 785zM833 828zM835 934zM832 604zM1045 903zM821 899zM985 1022zM800 1034zM818 813zM1032 934zM783 599zM887 908zM867 833zM809 900zM794 832zM888 620zM893 904zM810 907zM868 759zM922 686zM790 902zM855 705zM798 856zM923 901zM846 638zM831 957zM951 918zM911 625zM838 932zM795 810zM857 730zM792 885zM1020 1048zM886 963zM852 650zM966 718zM854 629zM1072 887zM1061 981zM1115 950zM1051 965zM797 863zM792 752zM907 642zM872 715zM807 757zM897 1045zM845 922zM811 880zM836 712zM849 949zM874 842zM790 836zM810 979zM815 905zM902 856zM994 973zM790 822zM871 901zM823 751zM780 836zM1032 944zM804 674zM835 794zM806 684zM797 1002zM878 925zM933 960zM854 775zM814 913zM801 877zM812 638zM1011 655zM942 947zM886 724zM1141 654zM800 879zM888 891zM866 953zM788 821zM874 902zM1086 1051zM940 1029zM871 1050zM809 883zM929 857zM813 839zM815 914zM788 622zM883 999zM835 650zM796 853zM810 857zM951 958zM807 885zM793 871zM861 619zM939 1027zM787 863zM780 926zM803 803zM808 653zM822 939zM804 870zM884 755zM784 811zM885 674zM888 919zM1027 964zM886 856zM783 661zM883 690zM814 642zM821 596zM983 915zM1099 891zM846 1057zM1031 937zM877 897zM827 714zM841 945zM824 989zM897 1010zM976 909zM824 855zM912 889zM828 942zM869 863zM1095 645zM792 635zM1029 652zM850 760zM840 823zM830 612zM953 600zM812 660zM982 896zM824 937zM800 663zM821 896zM841 664zM1149 909zM899 603zM951 970zM841 598zM847 896zM879 883zM838 619zM829 894zM788 986zM897 961zM792 780zM804 882zM912 616zM840 938zM879 705zM979 957zM791 788zM857 619zM825 879zM789 816zM914 933zM833 846zM812 859zM792 879zM890 830zM841 855zM983 698zM798 903zM845 597zM797 880zM957 818zM830 908zM912 882zM849 977zM958 601zM803 868zM857 1047zM822 820zM796 901zM960 937zM851 889zM1014 979zM894 875zM781 772zM864 628zM982 949zM918 852zM1047 887zM785 785zM995 933zM826 635zM829 685zM871 872zM792 609zM791 729zM838 885zM901 934zM913 641zM793 835zM844 874zM813 814zM798 989zM832 676zM1029 914zM873 605zM841 609zM1091 1041zM883 1003zM805 833zM796 893zM813 886zM971 890zM1072 916zM1087 953zM852 672zM810 863zM1050 917zM809 626zM892 901zM860 764zM847 621zM808 727zM793 893zM1124 945zM804 779zM869 692zM879 878zM1052 891zM949 654zM833 685zM870 1022zM881 721zM816 835zM968 964zM979 711zM1065 918zM817 911zM980 693z"/></g>
<g transform="scale(.5)" filter="url(#bl2)" fill="none" stroke="#3a94d2" stroke-opacity="0.118" stroke-width="8.2" stroke-linecap="round"><path d="M1488 860zM1368 690zM1343 1033zM1525 863zM1416 783zM1364 946zM1433 704zM1443 622zM1455 668zM1509 809zM1392 942zM1462 880zM1507 808zM1460 812zM1317 891zM1459 892zM1330 636zM1416 621zM1332 948zM1269 996zM1383 1048zM1413 899zM1326 990zM1480 705zM1410 915zM1410 678zM1257 1013zM1276 952zM1409 810zM1280 1002zM1433 701zM1423 679zM1424 633zM1371 878zM1348 886zM1565 791zM1365 845zM1351 976zM1392 670zM1397 789zM1386 708zM1380 855zM1423 819zM1395 893zM1325 975zM1395 885zM1338 1057zM1385 910zM1460 695zM1341 1051zM1327 911zM1403 936zM1303 1006zM1325 947zM1316 973zM1352 715zM1330 1051zM1368 872zM1525 872zM1310 847zM1541 859zM1497 661zM1413 933zM1420 934zM1327 954zM1390 702zM1482 731zM1282 970zM1465 861zM1474 899zM1434 921zM1404 801zM1333 932zM1307 1040zM1354 919zM1319 897zM1519 787zM1359 932zM1513 641zM1355 929zM1459 628zM1272 993zM1406 863zM1387 1052zM1412 916zM1480 682zM1366 917zM1346 1029zM1316 998zM1443 658zM1428 1005zM1303 1003zM1462 764zM1371 663zM1408 641zM1326 907zM1385 918zM1353 633zM1516 598zM1443 814zM1287 864zM1341 889zM1351 822zM1473 593zM1333 830zM1488 921zM1325 926zM1303 875zM1384 966zM1516 844zM1421 832zM1262 908zM1423 897zM1375 911zM1297 953zM1460 810zM1453 704zM1429 945zM1419 1049zM1394 655zM1553 602zM1477 754zM1363 910zM1282 873zM1424 894zM1394 789zM1383 837zM1393 607zM1304 893zM1378 911zM1395 656zM1440 927zM1435 855zM1341 930zM1517 908zM1484 793zM1324 932zM1401 816zM1321 865zM1400 701zM1444 603zM1294 906zM1371 963zM1329 996zM1375 1053zM1345 885zM1302 1012zM1517 854zM1433 870zM1301 909zM1314 1005zM1356 677zM1364 919zM1382 882zM1339 710zM1323 663zM1325 956zM1428 951zM1408 611zM1473 598zM1488 873zM1488 907zM1419 694zM1352 890zM1413 627zM1337 837zM1316 952zM1488 834zM1460 608zM1340 925zM1420 633zM1375 928zM1408 882zM1462 929zM1425 655zM1465 862zM1401 901zM1464 697zM1370 1024zM1361 940zM1364 942zM1479 811zM1447 927zM1389 746zM1315 1004zM1343 973zM1453 660zM1283 916zM1284 1056zM1340 698zM1427 947zM1378 900zM1333 628zM1408 673zM1494 803zM1480 745zM1477 709zM1303 918zM1351 898zM1317 715zM1481 900zM1424 833zM1338 733zM1437 830zM1450 855zM1389 644zM1311 910zM1478 664zM1269 880zM1392 975zM1457 744zM1406 905zM1352 972zM1397 717zM1332 1016zM1398 850zM1496 794zM1386 970zM1525 612zM1443 731zM1477 879zM1443 868zM1332 596zM1387 1060zM1367 873zM1339 1043zM1479 851zM1370 618zM1394 893zM1318 651zM1374 902zM1435 858zM1504 778zM1414 593zM1342 719zM1476 878zM1338 690zM1331 883zM1380 595zM1457 728zM1436 745zM1504 816zM1396 700zM1419 1032zM1381 842zM1371 663zM1353 657zM1362 887zM1480 870zM1402 811zM1524 824zM1338 825zM1448 669zM1330 867zM1435 930zM1321 1051zM1348 767zM1469 901zM1353 786zM1359 932zM1475 873zM1394 971zM1282 940zM1309 868zM1437 820zM1304 914zM1407 815zM1483 851zM1442 902zM1422 820zM1435 923zM1413 817zM1407 635zM1477 644zM1430 788zM1386 833zM1281 951zM1402 827zM1446 749zM1430 728zM1293 938zM1343 884zM1355 943zM1348 908zM1385 703zM1322 878zM1323 891zM1468 916zM1428 936zM1345 839zM1377 881zM1418 949zM1414 838zM1506 662zM1429 863zM1433 705zM1442 662zM1455 806zM1422 599zM1349 911zM1477 593zM1442 844zM1353 638zM1327 926zM1371 708zM1401 627zM1342 876zM1440 857zM1343 884zM1404 925zM1378 620zM1540 903zM1418 645zM1289 958zM1469 749zM1317 902zM1313 1009zM1481 851zM1524 814zM1310 678zM1395 908zM1414 767zM1505 851zM1379 677zM1468 842zM1469 900zM1295 970zM1495 689zM1314 1005zM1439 868zM1336 640zM1436 922zM1315 974zM1345 768zM1414 677zM1358 633zM1352 924zM1411 710zM1382 828zM1514 780zM1286 912zM1450 599zM1330 930zM1479 736zM1441 649zM1392 623zM1406 705zM1455 867zM1453 849zM1419 848zM1340 622zM1367 922zM1397 743zM1414 663zM1400 872zM1451 839zM1402 880zM1394 906zM1429 861zM1362 856zM1429 763zM1370 955zM1335 969zM1351 609zM1426 948zM1388 989zM1323 962zM1360 659zM1474 810zM1308 999zM1291 911zM1501 895zM1430 1034zM1419 687zM1310 869zM1405 914zM1413 714zM1296 913zM1425 850zM1364 673zM1499 829zM1383 797zM1476 726zM1360 999zM1390 764zM1467 674zM1417 597zM1314 1020zM1280 916zM1338 1039zM1312 868zM1487 914zM1341 700zM1278 929zM1325 914zM1446 835zM1325 974zM1398 705zM1461 929zM1448 631zM1407 757zM1382 609zM1399 656zM1538 862zM1447 672zM1300 1019zM1323 924zM1477 725zM1343 1024zM1338 1013zM1360 832zM1341 871zM1461 642zM1306 974zM1465 627zM1433 727zM1329 874zM1474 612zM1346 914zM1474 659zM1402 924zM1409 872zM1375 847zM1405 937zM1363 925zM1447 687zM1320 918zM1326 971zM1345 661zM1454 629zM1356 994zM1435 829zM1384 872zM1480 662zM1365 925zM1280 1017zM1360 739zM1308 956zM1456 942zM1484 655zM1352 923zM1352 847zM1501 829zM1413 799zM1297 964zM1345 887zM1373 912zM1268 1038zM1429 863zM1469 872zM1308 870zM1442 887zM1341 728zM1340 1015zM1391 631zM1357 876zM1405 710zM1358 941zM1298 1001zM1402 646zM1473 942zM1410 1017zM1389 659zM1412 916zM1504 723zM1395 1045zM1464 669zM1358 890zM1418 935zM1309 1038zM1411 849zM1368 641zM1478 848zM1450 829zM1436 874zM1385 609zM1338 646zM1493 867zM1415 706zM1357 811zM1391 766zM1329 951zM1513 597zM1389 699zM1360 887zM1481 794zM1398 672zM1305 1059zM1332 962zM1454 798zM1435 869zM1336 919zM1510 821zM1359 880zM1309 944zM1521 762zM1363 955zM1344 927zM1364 601zM1334 624zM1316 1029zM1312 951zM1383 924zM1515 695zM1344 601zM1353 870zM1424 835zM1475 680zM1519 633zM1387 871zM1475 706zM1441 919zM1438 806zM1431 884zM1414 757zM1275 927zM1407 920zM1395 934zM1345 925zM1578 837zM1359 839zM1399 923zM1360 970zM1338 646zM1388 925zM1518 841zM1512 773zM1442 678zM1389 717zM1508 740zM1461 759zM1314 1033zM1429 656zM1269 1024zM1511 849zM1395 674zM1500 805zM1440 866zM1517 868zM1451 921zM1567 1033zM1423 883zM1320 910z"/><path d="M1313 1046zM1312 626zM1483 757zM1453 906zM1521 639zM1398 802zM1335 933zM1492 830zM1399 652zM1578 776zM1376 862zM1286 1030zM1465 616zM1423 715zM1392 812zM1341 888zM1385 926zM1346 811zM1389 942zM1482 885zM1416 805zM1428 704zM1375 676zM1398 920zM1341 1047zM1389 677zM1381 997zM1357 598zM1392 661zM1312 867zM1450 738zM1412 679zM1279 1004zM1375 904zM1434 896zM1269 878zM1466 668zM1384 884zM1450 686zM1511 808zM1587 690zM1376 993zM1319 947zM1394 617zM1415 799zM1468 602zM1351 630zM1290 967zM1485 800zM1372 665zM1448 664zM1305 897zM1364 906zM1268 1017zM1344 797zM1369 879zM1377 1043zM1254 997zM1466 806zM1386 899zM1466 770zM1483 910zM1486 879zM1428 845zM1361 646zM1305 970zM1284 881zM1401 695zM1308 988zM1359 950zM1364 864zM1478 810zM1576 839zM1439 641zM1408 642zM1430 607zM1415 818zM1326 702zM1422 896zM1300 1040zM1500 859zM1395 1013zM1371 698zM1311 1000zM1377 778zM1404 634zM1357 682zM1297 1041zM1603 874zM1366 821zM1470 829zM1500 666zM1457 792zM1411 600zM1462 881zM1464 874zM1423 636zM1392 992zM1403 869zM1424 876zM1316 901zM1377 892zM1420 651zM1397 692zM1261 974zM1421 774zM1444 741zM1449 874zM1375 641zM1471 878zM1437 764zM1458 846zM1306 990zM1280 960zM1377 1018zM1521 828zM1446 611zM1364 998zM1415 921zM1400 829zM1334 687zM1485 864zM1486 879zM1407 603zM1433 775zM1402 858zM1316 643zM1432 840zM1331 931zM1380 674zM1328 629zM1437 718zM1357 861zM1382 617zM1320 853zM1519 767zM1339 947zM1338 1055zM1307 1007zM1316 657zM1317 1038zM1457 623zM1300 998zM1328 1053zM1440 880zM1338 900zM1432 916zM1473 753zM1388 829zM1416 892zM1501 738zM1444 733zM1323 632zM1314 906zM1449 609zM1402 1003zM1348 770zM1426 817zM1381 863zM1317 997zM1422 688zM1534 839zM1386 932zM1327 671zM1444 723zM1413 627zM1292 941zM1571 675zM1456 1058zM1406 605zM1394 904zM1495 822zM1407 811zM1449 660zM1408 827zM1266 899zM1404 691zM1260 941zM1355 915zM1290 912zM1394 857zM1391 811zM1392 1005zM1433 673zM1484 893zM1352 995zM1349 860zM1426 812zM1456 931zM1444 871zM1518 852zM1378 645zM1485 691zM1339 965zM1326 973zM1390 855zM1331 1060zM1340 991zM1409 862zM1288 857zM1462 769zM1363 966zM1363 871zM1456 654zM1390 719zM1287 686zM1423 599zM1466 844zM1315 927zM1296 956zM1355 889zM1396 845zM1446 900zM1575 897zM1440 631zM1435 646zM1295 983zM1373 912zM1328 963zM1427 668zM1349 666zM1403 877zM1315 930zM1395 1001zM1439 875zM1384 867zM1389 866zM1462 847zM1469 660zM1409 725zM1354 950zM1362 998zM1462 885zM1311 690zM1373 639zM1495 834zM1388 620zM1324 921zM1423 928zM1517 802zM1295 962zM1341 1059zM1395 843zM1369 1003zM1440 660zM1447 923zM1464 926zM1413 1023zM1394 853zM1403 819zM1475 800zM1302 1017zM1450 871zM1475 692zM1439 610zM1421 713zM1496 846zM1434 803zM1446 813zM1424 853zM1478 697zM1401 710zM1353 857zM1312 909zM1427 671zM1361 674zM1353 1052zM1440 817zM1352 610zM1333 676zM1338 697zM1368 835zM1427 828zM1389 745zM1369 827zM1407 903zM1306 914zM1511 872zM1320 845zM1367 960zM1308 866zM1365 920zM1290 912zM1400 924zM1412 611zM1356 800zM1282 904zM1521 678zM1434 662zM1377 634zM1337 747zM1408 839zM1416 770zM1364 829zM1441 810zM1312 956zM1350 995zM1329 630zM1324 595zM1409 653zM1428 690zM1333 1008zM1431 921zM1449 640zM1350 820zM1306 1023zM1346 737zM1396 666zM1395 901zM1402 667zM1494 776zM1494 594zM1397 1037zM1469 693zM1383 858zM1418 901zM1412 665zM1365 669zM1329 798zM1430 688zM1409 785zM1438 751zM1309 866zM1376 711zM1394 900zM1455 651zM1334 600zM1355 681zM1471 606zM1385 848zM1298 911zM1469 914zM1389 744zM1487 696zM1406 715zM1358 683zM1411 1000zM1331 846zM1450 884zM1373 917zM1420 913zM1385 1043zM1355 939zM1392 859zM1476 774zM1480 613zM1404 809zM1434 599zM1355 865zM1372 613zM1316 927zM1393 775zM1425 612zM1390 697zM1458 776zM1561 835zM1359 818zM1403 953zM1338 913zM1451 925zM1347 892zM1392 839zM1371 600zM1263 965zM1398 646zM1411 838zM1429 882zM1361 857zM1314 752zM1375 853zM1406 754zM1397 875zM1354 969zM1526 828zM1530 819zM1336 727zM1429 662zM1433 905zM1481 904zM1354 992zM1349 952zM1374 821zM1388 728zM1493 801zM1296 1060zM1308 911zM1438 674zM1483 890zM1349 1009zM1389 929zM1382 886zM1404 752zM1541 934zM1352 934zM1395 941zM1377 905zM1485 599zM1332 1000zM1423 863zM1449 659zM1290 973zM1388 671zM1308 848zM1461 639zM1372 1025zM1398 618zM1432 784zM1392 842zM1351 1026zM1322 637zM1433 892zM1377 651zM1356 771zM1333 885zM1371 700zM1438 606zM1480 598zM1461 607zM1429 832zM1322 964zM1411 856zM1392 940zM1471 855zM1413 861zM1429 942zM1367 1021zM1290 621zM1423 831zM1455 789zM1378 956zM1315 944zM1257 859zM1462 899zM1345 934zM1416 875zM1359 919zM1373 708zM1345 772zM1356 946zM1482 640zM1363 877zM1472 863zM1328 816zM1334 993zM1397 778zM1465 850zM1264 871zM1428 601zM1383 855zM1454 846zM1303 995zM1495 720zM1349 787zM1469 823zM1303 1042zM1361 1012zM1428 883zM1419 661zM1332 874zM1400 630zM1288 841zM1440 819zM1356 839zM1507 699zM1477 792zM1350 1038zM1489 819zM1525 837zM1349 771zM1312 979zM1399 926zM1344 880zM1300 918zM1405 894zM1407 796zM1368 884zM1464 854zM1259 907zM1408 815zM1375 713zM1311 878zM1321 1044zM1394 905zM1253 941zM1340 718zM1405 805zM1450 684zM1300 1003zM1293 992zM1339 935zM1422 882zM1464 881zM1332 710zM1352 918zM1350 898zM1464 868zM1359 960zM1426 771zM1288 958zM1408 762zM1375 602zM1457 618zM1384 884zM1301 933zM1421 658zM1333 866zM1390 594zM1329 836zM1408 777zM1347 870zM1394 873zM1523 835zM1433 654zM1585 618zM1326 974zM1407 866zM1537 870zM1275 943zM1356 878zM1476 886zM1287 944zM1407 732zM1302 931zM1414 659zM1386 1036zM1381 663zM1258 1036zM1443 612zM1306 922zM1311 855zM1354 706zM1319 843zM1349 900zM1494 843zM1424 592zM1461 680zM1516 842zM1310 958zM1264 1035zM1402 899zM1393 694zM1330 873zM1318 1021z"/><path d="M1395 670zM1424 635zM1457 644zM1420 870zM1507 847zM1436 801zM1393 1042zM1579 813zM1385 918zM1401 804zM1438 932zM1474 784zM1354 664zM1405 857zM1475 597zM1381 714zM1294 876zM1571 947zM1318 951zM1314 957zM1406 611zM1445 787zM1475 893zM1375 678zM1352 1005zM1438 812zM1427 709zM1455 656zM1372 861zM1347 924zM1425 769zM1442 663zM1421 850zM1393 906zM1396 863zM1483 851zM1342 940zM1362 1012zM1426 947zM1337 652zM1263 980zM1335 886zM1344 927zM1373 899zM1450 630zM1482 821zM1345 989zM1481 708zM1406 693zM1413 796zM1324 841zM1449 823zM1273 930zM1433 878zM1324 696zM1510 810zM1276 873zM1380 683zM1428 701zM1497 832zM1459 639zM1373 1027zM1473 654zM1373 909zM1520 697zM1344 946zM1436 947zM1441 738zM1372 940zM1362 1051zM1420 726zM1377 1060zM1302 873zM1481 754zM1425 845zM1520 846zM1477 894zM1261 987zM1425 766zM1361 967zM1286 997zM1454 759zM1414 920zM1374 717zM1497 929zM1490 773zM1420 834zM1323 872zM1370 812zM1351 927zM1307 879zM1406 862zM1379 910zM1316 989zM1325 875zM1443 666zM1256 965zM1331 876zM1357 874zM1337 935zM1398 608zM1397 906zM1263 936zM1415 1040zM1371 992zM1540 843zM1302 1002zM1406 596zM1378 926zM1448 799zM1401 923zM1441 613zM1344 1021zM1276 1008zM1390 941zM1373 742zM1553 982zM1565 831zM1405 882zM1441 670zM1324 840zM1515 845zM1324 928zM1456 658zM1501 874zM1498 595zM1378 633zM1413 900zM1352 1052zM1328 896zM1383 852zM1385 698zM1412 660zM1406 897zM1370 969zM1334 1039zM1267 984zM1293 894zM1395 658zM1377 989zM1341 958zM1396 916zM1382 773zM1280 1042zM1492 845zM1325 973zM1455 602zM1252 959zM1387 912zM1320 917zM1389 899zM1478 905zM1380 673zM1420 832zM1422 934zM1373 670zM1330 870zM1434 694zM1423 813zM1475 595zM1360 672zM1393 993zM1367 938zM1390 898zM1472 866zM1410 923zM1530 653zM1280 881zM1333 921zM1500 892zM1323 911zM1363 938zM1375 895zM1475 815zM1354 741zM1394 627zM1378 920zM1261 930zM1394 819zM1603 926zM1431 885zM1269 931zM1442 593zM1323 846zM1437 611zM1482 891zM1336 601zM1378 844zM1431 829zM1363 917zM1433 626zM1307 994zM1429 929zM1353 651zM1319 908zM1394 917zM1328 1056zM1342 919zM1396 970zM1326 851zM1324 966zM1388 668zM1295 968zM1381 1032zM1483 830zM1434 905zM1376 694zM1325 739zM1382 616zM1478 891zM1428 935zM1355 690zM1452 634zM1493 832zM1397 852zM1421 797zM1514 705zM1391 800zM1486 831zM1362 958zM1400 881zM1436 769zM1410 858zM1387 835zM1273 1001zM1402 893zM1346 924zM1335 929zM1451 816zM1323 880zM1459 907zM1317 972zM1372 603zM1383 906zM1346 892zM1339 940zM1461 788zM1383 742zM1374 711zM1336 890zM1342 635zM1319 989zM1556 879zM1420 713zM1331 681zM1433 841zM1354 665zM1438 805zM1355 858zM1427 789zM1496 865zM1415 834zM1347 654zM1356 993zM1379 747zM1403 1058zM1358 803zM1390 699zM1469 675zM1427 883zM1437 877zM1493 869zM1428 705zM1392 645zM1323 914zM1402 888zM1354 1057zM1380 728zM1376 997zM1382 866zM1461 920zM1526 851zM1328 902zM1379 672zM1404 1039zM1472 884zM1353 667zM1494 884zM1290 919zM1562 605zM1412 851zM1491 827zM1402 1058zM1474 623zM1479 796zM1356 971zM1284 1027zM1313 966zM1331 983zM1425 891zM1427 787zM1528 763zM1405 956zM1418 836zM1378 637zM1358 886zM1350 1056zM1311 908zM1474 610zM1469 889zM1386 1034zM1441 834zM1477 852zM1319 906zM1418 813zM1378 684zM1344 684zM1477 747zM1479 812zM1472 592zM1456 928zM1410 680zM1310 655zM1385 888zM1447 824zM1384 925zM1413 813zM1282 927zM1375 729zM1348 858zM1375 751zM1406 665zM1409 696zM1280 948zM1374 623zM1437 891zM1298 939zM1316 867zM1390 858zM1355 941zM1402 915zM1404 884zM1389 613zM1372 627zM1288 864zM1326 951zM1431 679zM1452 836zM1329 621zM1274 952zM1315 720zM1402 835zM1465 922zM1563 1045zM1491 920zM1426 684zM1401 937zM1394 678zM1557 730zM1333 672zM1327 610zM1514 772zM1602 964zM1407 680zM1351 682zM1315 658zM1352 654zM1427 654zM1422 931zM1341 908zM1353 678zM1415 643zM1352 865zM1266 1052zM1365 649zM1432 935zM1415 725zM1304 1060zM1288 987zM1439 812zM1369 829zM1534 665zM1410 656zM1357 729zM1454 777zM1321 1053zM1445 708zM1364 980zM1451 627zM1425 857zM1440 866zM1417 793zM1312 869zM1441 886zM1339 758zM1418 662zM1604 705zM1437 620zM1337 1033zM1351 703zM1495 793zM1382 724zM1422 869zM1410 703zM1285 878zM1465 886zM1469 670zM1489 879zM1433 700zM1301 1047zM1331 633zM1316 997zM1392 941zM1338 855zM1478 665zM1381 951zM1394 915zM1416 709zM1267 1010zM1580 1016zM1598 668zM1442 647zM1494 817zM1419 800zM1382 600zM1511 842zM1313 945zM1340 912zM1274 874zM1479 634zM1314 1029zM1400 909zM1413 894zM1447 628zM1362 613zM1340 1040zM1479 770zM1308 1041zM1367 953zM1466 624zM1383 598zM1306 911zM1469 833zM1298 1014zM1275 1013zM1474 723zM1350 1034zM1287 1007zM1310 961zM1392 1043zM1399 880zM1321 931zM1423 921zM1404 1057zM1407 865zM1372 946zM1370 715zM1387 1052zM1362 962zM1376 608zM1411 619zM1371 931zM1496 712zM1469 891zM1371 823zM1384 885zM1380 861zM1505 841zM1409 877zM1426 795zM1374 947zM1380 828zM1577 864zM1488 610zM1345 872zM1434 820zM1596 880zM1405 645zM1384 1040zM1424 791zM1403 945zM1300 688zM1470 841zM1392 834zM1304 983zM1404 864zM1314 853zM1413 661zM1277 999zM1289 966zM1360 897zM1326 1039zM1333 901zM1332 1059zM1311 961zM1414 865zM1349 987zM1309 1054zM1366 1048zM1311 884zM1455 626zM1429 601zM1513 863zM1378 899zM1415 888zM1323 948zM1457 857zM1427 687zM1427 612zM1385 944zM1392 765zM1387 642zM1539 636zM1373 851zM1440 829zM1423 666zM1379 958zM1468 895zM1349 669zM1353 609zM1331 944zM1360 938zM1371 1040zM1306 985zM1429 762zM1357 886zM1368 930zM1446 809zM1268 998zM1456 698zM1286 991zM1369 608zM1321 912zM1506 894zM1349 903zM1437 609zM1412 707zM1369 998zM1368 741zM1375 740zM1362 1004zM1439 929zM1471 962zM1329 977zM1519 836zM1358 895zM1451 869zM1385 911zM1377 1009zM1430 930zM1299 906zM1416 784zM1464 602z"/><path d="M1436 839zM1413 866zM1341 968zM1298 932zM1498 665zM1419 657zM1351 1035zM1407 866zM1460 703zM1392 887zM1283 864zM1352 990zM1416 866zM1387 612zM1395 1036zM1414 655zM1270 886zM1358 819zM1335 1001zM1326 930zM1365 686zM1385 904zM1290 904zM1291 967zM1461 711zM1441 686zM1311 944zM1495 860zM1339 594zM1357 941zM1388 638zM1377 680zM1305 675zM1493 833zM1415 911zM1443 824zM1358 1040zM1428 617zM1465 679zM1290 964zM1417 853zM1383 993zM1431 847zM1489 839zM1417 814zM1482 917zM1405 715zM1300 938zM1377 948zM1346 1049zM1470 886zM1371 915zM1350 718zM1416 820zM1404 839zM1419 850zM1269 929zM1456 858zM1312 714zM1416 668zM1401 938zM1435 628zM1399 862zM1425 864zM1513 706zM1417 922zM1494 885zM1291 1012zM1465 641zM1326 978zM1363 735zM1339 629zM1382 698zM1314 858zM1351 884zM1300 915zM1404 648zM1268 929zM1399 858zM1339 628zM1462 887zM1394 974zM1468 628zM1390 617zM1418 691zM1409 913zM1307 725zM1355 636zM1369 897zM1326 937zM1378 863zM1277 943zM1411 738zM1600 774zM1383 924zM1424 865zM1419 871zM1390 908zM1432 771zM1414 599zM1316 1058zM1370 651zM1489 898zM1328 929zM1332 1011zM1275 856zM1412 686zM1299 908zM1411 880zM1451 855zM1434 949zM1344 914zM1313 899zM1456 888zM1483 833zM1316 622zM1395 843zM1291 859zM1356 964zM1331 867zM1348 886zM1325 865zM1442 682zM1296 997zM1454 823zM1406 816zM1496 680zM1349 928zM1419 833zM1326 985zM1324 914zM1393 908zM1361 950zM1431 912zM1340 991zM1411 855zM1359 698zM1340 1005zM1410 639zM1292 893zM1386 682zM1402 918zM1441 715zM1347 925zM1452 721zM1492 691zM1307 967zM1403 741zM1409 860zM1338 736zM1348 926zM1388 761zM1336 835zM1386 596zM1448 682zM1350 955zM1341 893zM1356 1010zM1382 644zM1303 1037zM1493 802zM1339 977zM1307 921zM1410 664zM1330 1010zM1401 940zM1406 837zM1305 1048zM1362 952zM1269 937zM1301 975zM1390 617zM1427 638zM1322 902zM1353 1041zM1379 1055zM1446 702zM1427 609zM1382 854zM1391 802zM1364 816zM1449 630zM1422 592zM1353 677zM1426 841zM1377 950zM1317 949zM1507 911zM1404 664zM1398 674zM1502 609zM1288 1032zM1379 722zM1368 892zM1538 813zM1394 851zM1357 623zM1351 998zM1421 772zM1435 822zM1415 862zM1464 905zM1343 889zM1425 867zM1347 937zM1379 890zM1434 726zM1338 598zM1451 823zM1388 906zM1391 907zM1470 915zM1342 1036zM1337 1015zM1472 907zM1287 961zM1346 913zM1328 853zM1418 644zM1396 697zM1480 869zM1380 926zM1336 663zM1376 651zM1520 785zM1483 867zM1393 613zM1542 840zM1400 859zM1446 821zM1327 990zM1401 716zM1371 866zM1424 721zM1374 1007zM1357 682zM1338 1028zM1274 1012zM1416 879zM1367 605zM1373 881zM1335 685zM1438 709zM1428 821zM1461 857zM1336 701zM1304 1010zM1388 974zM1316 960zM1508 817zM1423 653zM1395 932zM1493 815zM1506 889zM1413 915zM1600 728zM1322 928zM1487 848zM1425 648zM1429 973zM1401 676zM1300 937zM1474 923zM1403 849zM1371 684zM1332 605zM1371 855zM1386 721zM1406 940zM1525 799zM1427 706zM1470 646zM1405 625zM1370 926zM1426 785zM1275 981zM1349 625zM1294 848zM1339 650zM1435 836zM1415 848zM1383 730zM1475 837zM1418 833zM1375 899zM1365 1039zM1280 874zM1363 644zM1387 680zM1350 855zM1304 1019zM1375 927zM1346 731zM1409 866zM1485 883zM1420 850zM1501 920zM1322 988zM1422 680zM1361 698zM1342 874zM1419 692zM1444 667zM1308 982zM1491 726zM1335 915zM1357 734zM1517 804zM1351 637zM1432 803zM1483 915zM1456 665zM1321 608zM1378 827zM1344 1019zM1336 939zM1491 852zM1352 1008zM1348 862zM1457 688zM1428 860zM1513 869zM1481 902zM1352 1003zM1581 931zM1459 737zM1300 982zM1450 1046zM1362 883zM1420 917zM1428 911zM1409 737zM1360 681zM1441 819zM1306 950zM1413 897zM1419 726zM1371 658zM1441 738zM1468 1054zM1374 732zM1370 810zM1341 978zM1287 991zM1404 819zM1329 691zM1384 831zM1309 998zM1327 933zM1287 1048zM1369 908zM1424 1047zM1413 687zM1420 885zM1410 679zM1472 669zM1283 1002zM1522 620zM1389 837zM1468 881zM1371 964zM1308 983zM1479 909zM1446 863zM1262 992zM1389 802zM1461 603zM1422 828zM1377 686zM1408 1045zM1503 879zM1508 828zM1311 876zM1432 603zM1420 747zM1399 913zM1472 733zM1391 720zM1394 1001zM1346 895zM1355 944zM1277 954zM1368 666zM1399 894zM1427 707zM1360 633zM1283 967zM1351 600zM1364 947zM1470 867zM1389 936zM1483 896zM1341 1031zM1451 931zM1398 891zM1470 841zM1363 937zM1407 626zM1332 645zM1409 953zM1370 702zM1439 844zM1429 865zM1418 1058zM1487 900zM1452 768zM1299 942zM1403 907zM1378 934zM1424 775zM1520 779zM1381 710zM1350 1027zM1386 870zM1405 598zM1491 858zM1287 981zM1396 928zM1376 900zM1496 821zM1421 902zM1322 992zM1295 1028zM1372 1020zM1433 1043zM1463 783zM1461 910zM1394 645zM1440 835zM1455 868zM1485 728zM1385 854zM1397 641zM1380 1030zM1329 869zM1453 898zM1291 1050zM1406 834zM1361 1046zM1395 921zM1379 917zM1380 915zM1320 900zM1422 606zM1429 830zM1371 916zM1473 702zM1470 783zM1310 927zM1399 629zM1485 702zM1340 903zM1381 719zM1355 892zM1283 962zM1307 1006zM1467 837zM1364 907zM1267 1013zM1499 770zM1418 801zM1449 837zM1409 738zM1367 721zM1517 864zM1448 636zM1355 756zM1434 808zM1463 841zM1365 847zM1402 760zM1515 822zM1506 828zM1306 595zM1364 1002zM1449 828zM1343 946zM1371 683zM1346 966zM1449 717zM1412 854zM1454 865zM1511 636zM1359 901zM1477 746zM1401 682zM1280 990zM1376 973zM1363 939zM1386 815zM1372 1054zM1387 1032zM1443 887zM1299 855zM1410 634zM1369 595zM1362 988zM1309 1001zM1316 814zM1462 909zM1394 1011zM1370 654zM1423 863zM1351 1041zM1460 805zM1329 690zM1421 848zM1356 1038zM1344 892zM1336 997zM1433 798zM1412 838zM1322 918zM1355 1060zM1416 905zM1262 908zM1373 643zM1373 617zM1306 1010zM1347 908zM1477 819zM1307 891zM1381 928zM1457 737zM1475 728zM1417 653zM1367 637zM1439 690zM1377 801zM1337 633zM1375 719zM1437 921zM1394 633zM1457 766zM1520 827zM1513 945zM1466 862zM1350 618zM1344 647zM1372 693zM1350 953zM1379 714zM1319 906z"/><path d="M1436 637zM1321 889zM1373 722zM1372 1016zM1475 723zM1381 912zM1376 979zM1340 884zM1349 931zM1386 840zM1366 956zM1296 972zM1310 993zM1457 824zM1465 788zM1462 872zM1379 662zM1370 887zM1313 938zM1409 616zM1414 707zM1417 840zM1358 1038zM1304 959zM1334 1045zM1371 1038zM1467 643zM1411 691zM1511 814zM1384 625zM1322 1016zM1394 1049zM1456 764zM1426 652zM1366 845zM1429 680zM1289 975zM1396 939zM1431 603zM1478 827zM1423 601zM1377 1034zM1492 764zM1341 725zM1421 912zM1410 925zM1460 859zM1284 940zM1267 876zM1413 840zM1492 811zM1391 977zM1325 891zM1281 857zM1362 985zM1420 929zM1377 1048zM1338 901zM1352 817zM1293 972zM1455 747zM1316 1001zM1317 883zM1369 733zM1432 706zM1396 999zM1454 704zM1457 895zM1420 628zM1314 613zM1305 892zM1363 827zM1286 952zM1379 595zM1387 614zM1382 865zM1378 973zM1384 821zM1349 1003zM1443 637zM1424 910zM1351 880zM1435 905zM1343 1023zM1447 844zM1346 949zM1391 924zM1415 772zM1503 892zM1314 904zM1404 853zM1329 1004zM1379 943zM1365 929zM1377 858zM1459 604zM1403 739zM1397 923zM1462 824zM1346 692zM1450 652zM1300 1042zM1364 867zM1411 674zM1336 932zM1372 616zM1356 809zM1483 661zM1405 695zM1482 890zM1304 978zM1295 966zM1273 1030zM1424 844zM1316 890zM1486 850zM1331 678zM1413 703zM1372 941zM1314 928zM1367 971zM1477 886zM1461 647zM1429 592zM1411 814zM1387 709zM1337 943zM1346 639zM1326 976zM1374 816zM1532 679zM1486 861zM1435 825zM1406 678zM1292 882zM1351 926zM1334 953zM1351 778zM1430 860zM1474 928zM1324 957zM1432 723zM1474 721zM1318 930zM1332 871zM1431 668zM1385 866zM1392 780zM1474 889zM1341 827zM1375 857zM1375 833zM1371 631zM1450 708zM1379 949zM1464 826zM1339 699zM1450 592zM1407 896zM1473 887zM1382 920zM1362 911zM1557 712zM1311 686zM1426 711zM1386 932zM1374 689zM1311 986zM1444 905zM1305 983zM1475 691zM1353 971zM1447 618zM1506 838zM1358 617zM1442 790zM1484 662zM1404 650zM1329 1026zM1326 877zM1335 873zM1287 953zM1328 951zM1477 678zM1371 970zM1302 956zM1378 1037zM1415 700zM1297 1040zM1468 922zM1367 860zM1297 934zM1554 825zM1306 974zM1447 798zM1332 1007zM1321 852zM1413 776zM1303 877zM1398 635zM1429 728zM1346 876zM1329 649zM1379 891zM1428 655zM1370 1007zM1409 675zM1366 593zM1476 814zM1302 899zM1420 648zM1376 815zM1426 856zM1332 1046zM1428 852zM1415 800zM1332 848zM1394 706zM1426 921zM1507 803zM1364 937zM1356 931zM1309 848zM1350 674zM1382 906zM1372 948zM1324 1030zM1346 900zM1364 895zM1419 1054zM1413 718zM1361 904zM1378 876zM1463 827zM1360 815zM1313 933zM1348 887zM1342 878zM1427 808zM1431 783zM1462 780zM1456 655zM1292 885zM1318 940zM1383 942zM1466 686zM1328 925zM1463 905zM1390 833zM1342 695zM1381 944zM1471 616zM1369 872zM1312 969zM1369 795zM1371 648zM1254 951zM1460 778zM1351 918zM1267 965zM1354 917zM1394 725zM1354 818zM1303 935zM1385 930zM1374 878zM1296 874zM1483 829zM1461 652zM1382 658zM1391 909zM1468 667zM1348 683zM1327 740zM1390 898zM1386 919zM1414 812zM1487 666zM1395 902zM1394 890zM1350 922zM1279 961zM1425 695zM1301 1032zM1336 969zM1556 721zM1464 694zM1539 871zM1429 596zM1331 956zM1319 859zM1411 824zM1350 822zM1376 1033zM1414 951zM1501 858zM1484 836zM1303 856zM1428 618zM1426 722zM1312 966zM1298 889zM1448 759zM1378 1015zM1306 1049zM1366 887zM1290 1052zM1319 887zM1457 926zM1379 672zM1268 945zM1326 612zM1300 958zM1359 775zM1325 835zM1398 640zM1332 1050zM1491 893zM1502 724zM1399 823zM1357 910zM1403 789zM1259 939zM1329 894zM1443 797zM1510 885zM1403 688zM1275 939zM1447 622zM1372 1004zM1476 860zM1289 870zM1465 927zM1320 1034zM1368 934zM1342 604zM1323 1017zM1479 615zM1413 833zM1316 990zM1520 832zM1398 889zM1422 660zM1407 703zM1304 882zM1343 837zM1425 755zM1459 860zM1414 617zM1421 839zM1265 990zM1448 933zM1477 597zM1337 964zM1410 1004zM1467 865zM1424 899zM1347 678zM1429 867zM1363 687zM1350 1027zM1431 713zM1473 694zM1438 730zM1437 622zM1315 862zM1381 651zM1549 835zM1437 782zM1328 596zM1473 762zM1389 862zM1494 659zM1396 604zM1431 598zM1324 890zM1373 730zM1439 909zM1385 627zM1509 901zM1401 894zM1500 818zM1336 985zM1317 970zM1277 906zM1479 828zM1369 1015zM1430 881zM1353 972zM1330 937zM1421 629zM1395 841zM1483 903zM1378 928zM1437 888zM1347 842zM1375 607zM1425 877zM1482 846zM1355 935zM1377 623zM1435 686zM1373 678zM1460 877zM1405 677zM1434 812zM1485 712zM1433 659zM1366 819zM1497 673zM1265 985zM1385 1004zM1391 823zM1402 629zM1360 707zM1270 930zM1511 860zM1409 798zM1368 904zM1338 1047zM1420 808zM1449 837zM1435 938zM1440 936zM1374 670zM1344 940zM1342 979zM1417 692zM1364 762zM1368 633zM1483 631zM1272 1000zM1428 612zM1357 673zM1463 923zM1385 941zM1360 929zM1475 595zM1453 898zM1400 1048zM1348 971zM1438 626zM1475 865zM1414 934zM1397 680zM1389 945zM1412 904zM1389 838zM1399 706zM1311 904zM1354 867zM1329 607zM1309 1035zM1532 873zM1379 804zM1322 1010zM1519 770zM1438 913zM1483 843zM1421 620zM1485 790zM1344 870zM1510 755zM1433 832zM1387 802zM1313 976zM1433 695zM1390 716zM1359 761zM1384 917zM1420 944zM1437 818zM1393 802zM1407 835zM1448 651zM1465 881zM1312 908zM1438 598zM1376 1022zM1461 925zM1387 903zM1473 829zM1366 857zM1355 909zM1298 954zM1290 913zM1277 1056zM1475 833zM1279 989zM1565 968zM1357 917zM1475 828zM1371 821zM1281 996zM1436 886zM1390 923zM1437 677zM1343 637zM1470 834zM1423 639zM1424 666zM1495 695zM1257 1004zM1356 1023zM1379 839zM1362 674zM1475 913zM1373 844zM1334 703zM1325 612zM1437 883zM1289 1059zM1487 851zM1304 1014zM1343 608zM1339 853zM1329 766zM1495 876zM1466 725zM1338 1012zM1339 951zM1286 856zM1262 1023zM1312 889zM1408 921zM1451 679zM1389 955zM1445 698zM1312 850zM1394 1021zM1319 904zM1280 967zM1436 645zM1398 712zM1336 624zM1480 811zM1380 740zM1511 822zM1494 891zM1397 686zM1466 871zM1416 759zM1463 890z"/><path d="M1436 644zM1291 929zM1335 845zM1307 925zM1317 955zM1407 966zM1477 690zM1409 814zM1422 599zM1368 1044zM1279 1025zM1333 849zM1417 1032zM1327 948zM1323 987zM1488 853zM1556 816zM1329 852zM1375 897zM1355 692zM1373 1008zM1471 617zM1469 875zM1320 855zM1423 921zM1374 896zM1413 738zM1377 646zM1459 663zM1422 765zM1381 858zM1512 888zM1354 863zM1386 987zM1410 827zM1435 912zM1480 852zM1367 865zM1398 755zM1411 747zM1386 652zM1292 915zM1363 921zM1462 831zM1569 610zM1461 842zM1369 973zM1290 991zM1441 753zM1346 669zM1318 1055zM1476 900zM1326 1005zM1385 1000zM1395 952zM1461 678zM1385 635zM1385 934zM1460 758zM1430 769zM1433 611zM1322 918zM1478 802zM1296 890zM1498 835zM1382 877zM1324 645zM1438 611zM1443 904zM1425 1054zM1387 864zM1364 977zM1484 862zM1343 880zM1367 891zM1402 607zM1463 704zM1303 941zM1367 708zM1376 865zM1391 611zM1298 1050zM1486 892zM1422 943zM1488 598zM1439 636zM1306 937zM1433 682zM1398 918zM1423 599zM1269 879zM1321 988zM1374 890zM1491 925zM1405 799zM1467 732zM1311 882zM1421 889zM1417 935zM1302 1040zM1405 606zM1457 855zM1299 904zM1492 851zM1354 944zM1369 956zM1346 1025zM1399 940zM1283 960zM1536 771zM1380 601zM1470 894zM1512 778zM1388 893zM1271 926zM1462 729zM1452 814zM1388 856zM1399 861zM1289 1056zM1508 840zM1415 807zM1433 759zM1356 963zM1426 624zM1296 947zM1444 712zM1404 880zM1404 836zM1516 951zM1379 1011zM1407 608zM1531 877zM1525 709zM1469 697zM1410 642zM1401 676zM1384 847zM1382 844zM1304 969zM1348 740zM1357 941zM1258 916zM1385 835zM1385 614zM1383 650zM1464 692zM1483 797zM1538 817zM1328 1051zM1349 654zM1474 735zM1443 908zM1476 914zM1453 625zM1526 743zM1455 856zM1350 878zM1390 987zM1459 622zM1392 925zM1333 809zM1387 627zM1456 858zM1430 874zM1496 603zM1435 706zM1384 1054zM1447 794zM1424 869zM1363 859zM1335 617zM1356 931zM1390 786zM1417 738zM1547 837zM1373 925zM1384 943zM1374 922zM1452 810zM1393 756zM1313 994zM1319 952zM1488 842zM1438 820zM1400 816zM1304 941zM1352 939zM1372 690zM1363 652zM1391 999zM1386 836zM1459 723zM1451 721zM1409 612zM1322 726zM1395 744zM1322 942zM1465 847zM1401 678zM1342 855zM1446 595zM1345 902zM1424 669zM1369 1003zM1394 1006zM1356 907zM1360 936zM1320 930zM1421 629zM1362 597zM1444 721zM1346 979zM1331 1009zM1371 649zM1368 732zM1453 802zM1390 650zM1337 969zM1341 1014zM1454 702zM1399 936zM1351 1034zM1303 969zM1303 877zM1390 935zM1383 717zM1322 961zM1475 898zM1458 693zM1377 825zM1318 684zM1358 964zM1408 608zM1495 737zM1354 686zM1397 621zM1451 894zM1437 803zM1442 696zM1303 965zM1480 711zM1517 613zM1404 864zM1285 993zM1365 916zM1361 941zM1320 773zM1409 639zM1331 1049zM1485 727zM1452 769zM1289 1040zM1313 648zM1405 680zM1286 996zM1386 917zM1371 849zM1457 596zM1346 890zM1536 872zM1505 782zM1426 603zM1411 778zM1484 887zM1410 720zM1419 629zM1330 832zM1350 1039zM1427 761zM1384 950zM1376 599zM1499 874zM1411 842zM1341 1014zM1464 834zM1506 873zM1478 905zM1300 929zM1373 743zM1476 614zM1409 838zM1429 598zM1391 1060zM1439 885zM1397 693zM1489 673zM1467 850zM1315 980zM1313 1020zM1326 897zM1400 878zM1419 673zM1472 894zM1324 988zM1510 636zM1332 1029zM1449 835zM1329 933zM1395 749zM1518 896zM1353 916zM1369 828zM1372 880zM1361 949zM1445 842zM1292 1050zM1386 898zM1362 967zM1341 1010zM1398 923zM1443 716zM1413 831zM1493 886zM1486 932zM1375 958zM1335 1003zM1463 764zM1370 626zM1356 873zM1495 721zM1475 859zM1358 858zM1395 888zM1461 698zM1399 829zM1422 888zM1409 919zM1342 683zM1312 894zM1443 826zM1383 750zM1508 894zM1306 1046zM1514 886zM1402 864zM1272 873zM1371 903zM1466 751zM1427 750zM1308 951zM1442 894zM1418 827zM1378 984zM1361 1023zM1431 709zM1362 669zM1504 834zM1382 911zM1345 985zM1441 918zM1368 660zM1417 921zM1411 810zM1443 874zM1429 915zM1278 882zM1322 997zM1326 956zM1419 701zM1296 1023zM1360 882zM1334 658zM1521 782zM1412 618zM1376 936zM1414 705zM1571 681zM1459 687zM1498 863zM1484 866zM1378 870zM1438 907zM1464 878zM1369 1039zM1492 854zM1281 1004zM1381 841zM1338 936zM1380 594zM1398 846zM1357 654zM1366 1026zM1377 691zM1330 992zM1372 734zM1373 735zM1316 1007zM1368 957zM1371 904zM1365 975zM1497 874zM1413 773zM1333 939zM1360 674zM1412 707zM1317 1021zM1381 592zM1424 851zM1423 890zM1505 871zM1451 704zM1368 911zM1470 837zM1330 998zM1429 846zM1469 853zM1438 733zM1390 672zM1330 704zM1440 872zM1414 842zM1350 960zM1348 950zM1313 960zM1332 962zM1319 995zM1387 833zM1414 785zM1365 659zM1297 866zM1264 893zM1306 1037zM1516 1005zM1342 932zM1431 1057zM1385 618zM1399 896zM1436 687zM1328 692zM1365 959zM1299 888zM1404 660zM1367 707zM1379 828zM1328 647zM1449 632zM1562 817zM1434 819zM1486 875zM1493 710zM1568 903zM1396 840zM1485 837zM1416 615zM1489 765zM1296 1016zM1375 647zM1470 916zM1386 670zM1419 923zM1452 741zM1335 881zM1522 837zM1494 650zM1344 708zM1396 843zM1353 1012zM1367 1047zM1458 926zM1407 606zM1348 795zM1394 860zM1350 1045zM1364 1006zM1371 870zM1337 857zM1308 1017zM1400 826zM1373 855zM1397 1029zM1347 925zM1344 870zM1503 809zM1403 958zM1280 951zM1571 680zM1418 698zM1489 908zM1443 833zM1373 902zM1322 860zM1404 627zM1429 848zM1341 940zM1369 734zM1429 923zM1290 856zM1388 662zM1388 679zM1280 917zM1402 648zM1400 595zM1444 597zM1381 882zM1312 955zM1424 668zM1295 1054zM1418 822zM1414 898zM1423 898zM1283 899zM1353 1014zM1398 955zM1374 919zM1409 639zM1267 889zM1358 923zM1334 1004zM1298 955zM1432 753zM1437 612zM1395 634zM1334 700zM1487 771zM1365 1049zM1405 676zM1402 890zM1341 982zM1479 936zM1384 874zM1380 863zM1329 960zM1373 1050zM1352 678zM1430 652zM1419 830zM1455 646zM1305 951zM1418 791zM1373 1046zM1476 746zM1296 998zM1389 882zM1382 928zM1415 823zM1431 643zM1469 842zM1436 645zM1396 693zM1572 735zM1285 958zM1401 628z"/><path d="M1267 969zM1427 936zM1423 618zM1338 1036zM1350 972zM1300 917zM1346 1058zM1479 834zM1390 789zM1339 654zM1324 921zM1422 916zM1432 657zM1471 868zM1319 979zM1393 926zM1315 968zM1445 843zM1350 680zM1496 792zM1403 955zM1461 814zM1378 881zM1333 708zM1339 923zM1432 859zM1459 672zM1488 847zM1447 909zM1532 716zM1471 725zM1398 707zM1603 741zM1325 656zM1453 832zM1455 901zM1372 612zM1412 1000zM1461 660zM1465 923zM1354 701zM1492 639zM1336 718zM1440 594zM1382 662zM1442 935zM1319 950zM1345 977zM1356 1024zM1304 901zM1370 857zM1389 653zM1423 706zM1483 636zM1326 838zM1348 1029zM1435 892zM1414 661zM1361 888zM1255 994zM1402 855zM1326 977zM1450 835zM1491 948zM1354 940zM1404 811zM1434 754zM1419 794zM1370 959zM1395 841zM1414 885zM1375 841zM1510 828zM1398 696zM1320 953zM1458 806zM1577 842zM1416 874zM1411 912zM1275 949zM1330 874zM1449 892zM1318 623zM1387 1039zM1319 1012zM1404 1032zM1360 878zM1513 852zM1323 955zM1387 604zM1505 850zM1402 995zM1398 856zM1352 1057zM1444 633zM1370 882zM1334 1055zM1377 882zM1511 753zM1602 804zM1343 858zM1401 699zM1342 723zM1446 891zM1502 608zM1368 965zM1399 843zM1471 876zM1304 986zM1339 998zM1590 796zM1383 691zM1366 978zM1270 881zM1325 953zM1277 1055zM1465 605zM1399 687zM1562 692zM1368 932zM1289 989zM1397 679zM1327 1002zM1336 1013zM1375 869zM1254 980zM1467 662zM1391 818zM1341 949zM1507 898zM1340 993zM1439 857zM1478 674zM1390 636zM1357 844zM1391 993zM1358 902zM1362 854zM1284 862zM1312 948zM1411 888zM1489 778zM1303 865zM1458 649zM1464 822zM1372 739zM1428 641zM1573 896zM1414 700zM1420 944zM1420 701zM1431 726zM1323 975zM1364 707zM1440 647zM1295 928zM1314 1036zM1443 664zM1256 914zM1465 893zM1363 728zM1324 959zM1362 999zM1448 732zM1414 616zM1514 764zM1397 820zM1406 709zM1308 975zM1491 901zM1445 704zM1260 1011zM1317 991zM1487 778zM1333 1006zM1360 664zM1312 1012zM1419 909zM1496 871zM1472 808zM1329 833zM1483 747zM1351 624zM1510 858zM1350 665zM1388 1046zM1518 660zM1394 927zM1411 941zM1336 1042zM1561 991zM1453 695zM1373 879zM1429 938zM1401 917zM1388 723zM1298 1054zM1350 935zM1361 993zM1369 933zM1426 777zM1427 909zM1474 828zM1282 1027zM1422 670zM1398 1032zM1340 747zM1309 901zM1389 876zM1493 730zM1391 862zM1451 743zM1418 722zM1296 876zM1340 642zM1401 791zM1388 667zM1340 627zM1399 893zM1385 874zM1417 839zM1301 943zM1327 872zM1472 621zM1508 769zM1392 1017zM1394 666zM1405 910zM1507 636zM1422 922zM1363 628zM1499 898zM1284 951zM1476 892zM1357 953zM1406 882zM1340 1006zM1439 917zM1401 1025zM1501 796zM1495 737zM1416 686zM1449 595zM1362 930zM1360 872zM1371 1056zM1331 847zM1363 724zM1426 672zM1486 696zM1549 1031zM1312 959zM1453 883zM1390 872zM1441 657zM1544 933zM1363 1050zM1467 944zM1321 648zM1482 889zM1522 856zM1421 695zM1362 1054zM1406 899zM1376 839zM1380 1054zM1528 866zM1431 659zM1446 704zM1314 937zM1372 772zM1311 847zM1461 721zM1398 826zM1338 638zM1474 830zM1301 987zM1435 897zM1418 621zM1369 917zM1366 1002zM1423 891zM1436 714zM1402 885zM1493 817zM1464 818zM1333 617zM1261 929zM1347 988zM1371 733zM1417 916zM1379 687zM1396 843zM1381 884zM1399 920zM1362 974zM1446 592zM1324 968zM1295 977zM1404 619zM1291 884zM1403 812zM1546 773zM1405 944zM1401 880zM1410 727zM1367 913zM1391 604zM1373 912zM1432 920zM1324 978zM1394 722zM1321 914zM1353 972zM1329 806zM1447 860zM1417 842zM1453 908zM1314 991zM1377 870zM1361 940zM1528 611zM1329 974zM1481 943zM1441 607zM1371 984zM1421 845zM1366 692zM1388 985zM1350 951zM1379 922zM1334 634zM1292 1054zM1319 889zM1350 878zM1349 928zM1475 866zM1473 754zM1351 604zM1443 638zM1400 882zM1373 677zM1446 862zM1277 962zM1408 827zM1352 606zM1399 594zM1434 931zM1503 779zM1472 596zM1303 980zM1426 1059zM1486 870zM1506 717zM1397 961zM1419 731zM1487 607zM1355 975zM1366 818zM1328 732zM1339 880zM1416 878zM1281 985zM1411 729zM1567 766zM1328 871zM1304 689zM1359 898zM1319 941zM1358 662zM1396 1023zM1372 817zM1357 695zM1318 907zM1362 830zM1283 896zM1312 899zM1369 623zM1378 813zM1406 688zM1357 947zM1320 1043zM1461 696zM1447 760zM1467 829zM1456 611zM1474 851zM1365 935zM1437 801zM1469 698zM1293 1061zM1320 922zM1443 872zM1439 703zM1437 848zM1494 889zM1408 930zM1470 917zM1407 687zM1368 752zM1391 902zM1314 932zM1433 628zM1481 693zM1329 968zM1363 633zM1384 899zM1396 949zM1402 727zM1463 625zM1381 677zM1348 1006zM1280 964zM1319 979zM1489 896zM1465 740zM1325 870zM1423 939zM1323 1026zM1490 633zM1306 966zM1332 925zM1397 652zM1550 837zM1444 767zM1372 661zM1371 975zM1430 839zM1326 966zM1418 890zM1333 906zM1430 893zM1417 1038zM1437 717zM1426 824zM1349 968zM1457 898zM1376 617zM1328 902zM1500 685zM1435 882zM1485 656zM1438 835zM1355 611zM1383 1040zM1342 992zM1546 902zM1299 994zM1339 990zM1331 910zM1378 1053zM1398 1017zM1380 1007zM1442 804zM1319 987zM1474 853zM1438 715zM1407 927zM1440 704zM1426 653zM1462 847zM1460 838zM1379 768zM1305 873zM1273 1006zM1383 633zM1308 1054zM1518 823zM1410 628zM1304 881zM1332 892zM1377 797zM1370 1055zM1390 926zM1388 680zM1324 885zM1324 920zM1344 928zM1436 930zM1556 613zM1453 842zM1311 918zM1393 647zM1517 896zM1282 906zM1405 1029zM1376 701zM1346 809zM1358 947zM1460 828zM1355 738zM1430 1057zM1379 680zM1411 784zM1327 966zM1399 951zM1430 748zM1475 633zM1453 825zM1271 1039zM1392 734zM1393 632zM1448 926zM1405 718zM1335 975zM1352 945zM1434 825zM1444 636zM1319 634zM1462 896zM1378 918zM1417 928zM1381 905zM1315 958zM1410 953zM1381 822zM1404 906zM1400 750zM1396 831zM1418 667zM1342 817zM1361 1009zM1369 847zM1547 1025zM1421 601zM1361 986zM1370 767zM1495 775zM1301 936zM1272 1055zM1311 871zM1412 861zM1437 856zM1389 673zM1377 634zM1416 752zM1346 959zM1277 1039zM1346 684zM1522 768zM1300 849zM1457 897zM1266 1025z"/><path d="M1417 1023zM1371 1053zM1454 633zM1436 627zM1471 812zM1324 998zM1391 1017zM1459 882zM1290 932zM1469 866zM1500 830zM1358 1041zM1283 917zM1265 899zM1410 872zM1465 820zM1408 926zM1432 905zM1476 862zM1498 853zM1358 909zM1504 647zM1273 933zM1400 874zM1435 911zM1372 1001zM1321 870zM1363 869zM1335 713zM1495 1040zM1365 1003zM1333 961zM1418 918zM1447 667zM1476 663zM1381 943zM1351 1061zM1376 611zM1436 622zM1451 836zM1278 854zM1409 949zM1368 808zM1380 883zM1406 858zM1398 666zM1421 613zM1303 982zM1472 831zM1460 898zM1339 673zM1385 1042zM1394 870zM1457 931zM1407 824zM1412 902zM1442 756zM1436 689zM1401 711zM1469 595zM1427 915zM1485 826zM1353 919zM1367 987zM1398 669zM1428 890zM1397 815zM1398 734zM1404 949zM1365 809zM1432 644zM1405 691zM1478 889zM1345 671zM1313 1059zM1335 954zM1459 846zM1271 917zM1478 760zM1418 827zM1440 927zM1493 739zM1405 718zM1372 881zM1277 970zM1478 733zM1300 852zM1434 869zM1386 854zM1285 965zM1378 812zM1300 855zM1425 834zM1467 724zM1470 893zM1356 875zM1462 804zM1271 1021zM1455 913zM1565 860zM1450 700zM1365 847zM1347 940zM1300 875zM1348 701zM1466 828zM1425 862zM1407 889zM1379 714zM1408 592zM1360 677zM1426 950zM1445 644zM1529 875zM1463 863zM1467 866zM1447 917zM1439 607zM1414 739zM1368 662zM1355 885zM1375 866zM1377 931zM1355 990zM1427 612zM1347 821zM1434 881zM1416 600zM1328 838zM1442 759zM1417 687zM1454 906zM1378 822zM1364 962zM1304 985zM1328 1061zM1481 829zM1423 907zM1379 933zM1391 598zM1353 977zM1563 887zM1421 711zM1467 703zM1322 677zM1413 945zM1502 818zM1303 875zM1397 904zM1395 888zM1443 601zM1457 651zM1503 710zM1503 810zM1364 692zM1350 847zM1370 855zM1303 1041zM1426 602zM1401 942zM1446 759zM1483 852zM1380 827zM1326 1012zM1357 821zM1430 655zM1503 688zM1403 629zM1347 1025zM1402 881zM1354 844zM1271 976zM1332 994zM1324 894zM1511 710zM1313 899zM1378 724zM1545 787zM1434 852zM1402 649zM1270 898zM1359 952zM1414 619zM1391 879zM1513 863zM1444 814zM1408 849zM1400 669zM1266 900zM1372 839zM1496 843zM1378 935zM1341 676zM1408 647zM1371 600zM1402 946zM1365 895zM1465 600zM1459 751zM1512 719zM1293 877zM1425 673zM1359 1037zM1505 841zM1344 848zM1437 839zM1493 765zM1308 935zM1382 646zM1321 895zM1354 919zM1370 951zM1470 965zM1287 904zM1354 945zM1331 1010zM1453 750zM1416 852zM1456 875zM1441 929zM1324 980zM1508 898zM1284 1059zM1346 721zM1448 711zM1494 634zM1402 1029zM1429 895zM1330 909zM1501 817zM1395 612zM1416 1050zM1395 658zM1422 684zM1346 681zM1408 737zM1312 950zM1465 894zM1407 867zM1483 864zM1395 927zM1459 894zM1268 956zM1469 818zM1342 727zM1424 814zM1339 925zM1331 1041zM1465 790zM1361 1025zM1451 809zM1329 952zM1415 882zM1295 950zM1438 616zM1351 611zM1364 741zM1434 779zM1455 917zM1456 831zM1380 934zM1401 871zM1387 887zM1360 995zM1352 934zM1269 883zM1385 758zM1396 688zM1330 653zM1375 628zM1383 827zM1319 1036zM1394 844zM1387 1036zM1416 749zM1511 609zM1361 780zM1307 953zM1352 853zM1328 829zM1401 742zM1502 677zM1332 985zM1318 871zM1410 642zM1479 832zM1407 849zM1434 847zM1348 773zM1310 888zM1416 620zM1503 864zM1400 892zM1456 811zM1452 698zM1359 700zM1384 889zM1327 904zM1314 963zM1359 601zM1365 947zM1331 670zM1347 1028zM1350 611zM1343 912zM1352 935zM1341 675zM1336 893zM1401 750zM1323 950zM1440 871zM1329 870zM1517 852zM1383 823zM1429 615zM1367 831zM1371 895zM1386 879zM1383 925zM1385 868zM1429 770zM1401 1037zM1306 933zM1473 729zM1441 911zM1393 918zM1345 608zM1367 888zM1443 692zM1405 941zM1455 638zM1417 701zM1316 644zM1448 934zM1333 820zM1417 770zM1500 722zM1299 610zM1306 1000zM1397 893zM1362 953zM1484 841zM1347 611zM1400 916zM1399 874zM1391 599zM1454 629zM1448 613zM1579 880zM1481 726zM1515 792zM1411 937zM1404 718zM1491 841zM1347 821zM1433 860zM1452 894zM1514 612zM1369 632zM1450 927zM1388 603zM1436 847zM1380 683zM1354 655zM1278 883zM1463 680zM1305 1017zM1424 838zM1401 716zM1475 892zM1345 855zM1343 930zM1476 912zM1414 934zM1375 917zM1286 966zM1395 828zM1364 699zM1438 646zM1326 1057zM1476 901zM1383 769zM1379 860zM1386 597zM1447 821zM1414 620zM1293 970zM1403 702zM1515 824zM1471 842zM1333 1012zM1271 1044zM1437 617zM1379 868zM1492 704zM1379 1028zM1404 659zM1351 918zM1425 999zM1445 874zM1377 698zM1442 901zM1438 873zM1437 903zM1428 951zM1372 660zM1386 666zM1485 804zM1476 825zM1432 835zM1442 903zM1417 854zM1507 607zM1346 617zM1312 959zM1370 932zM1399 921zM1393 822zM1421 866zM1434 663zM1435 793zM1443 776zM1388 631zM1460 920zM1416 882zM1332 913zM1398 699zM1355 956zM1375 974zM1391 823zM1391 702zM1442 668zM1363 889zM1466 924zM1408 663zM1365 894zM1340 849zM1407 994zM1339 1004zM1427 712zM1393 881zM1332 994zM1268 1027zM1387 608zM1392 963zM1370 978zM1396 656zM1353 842zM1428 934zM1357 975zM1333 636zM1374 935zM1379 717zM1387 910zM1497 696zM1399 609zM1397 879zM1361 625zM1514 663zM1553 744zM1334 1021zM1347 875zM1377 976zM1398 812zM1476 592zM1366 925zM1350 984zM1311 620zM1312 997zM1482 882zM1286 877zM1505 828zM1409 725zM1363 594zM1338 634zM1281 912zM1371 933zM1367 660zM1458 926zM1460 863zM1369 880zM1328 945zM1458 827zM1386 696zM1435 825zM1303 946zM1426 655zM1452 717zM1406 604zM1306 1004zM1385 822zM1499 874zM1503 834zM1461 811zM1402 650zM1538 851zM1379 674zM1366 739zM1345 1007zM1279 928zM1374 914zM1348 897zM1494 773zM1454 888zM1380 627zM1510 822zM1422 603zM1495 870zM1431 723zM1352 972zM1429 857zM1377 873zM1284 908zM1440 673zM1317 849zM1369 1012zM1305 857zM1310 883zM1392 943zM1358 914zM1445 797zM1419 880zM1453 740zM1273 945zM1353 659zM1348 881zM1347 707zM1437 651zM1361 749zM1469 752zM1363 1048zM1485 690zM1405 924zM1347 896zM1311 949zM1393 899zM1371 1050zM1417 622zM1351 616zM1371 935zM1427 633zM1398 856zM1421 903z"/><path d="M1428 668zM1430 774zM1442 611zM1386 926zM1389 611zM1343 833zM1411 658zM1434 869zM1365 694zM1487 684zM1411 910zM1381 1037zM1323 898zM1390 724zM1292 953zM1400 933zM1373 929zM1503 883zM1318 938zM1382 896zM1416 900zM1485 742zM1466 664zM1378 653zM1399 873zM1419 671zM1407 792zM1432 594zM1439 852zM1359 598zM1370 628zM1350 1046zM1437 856zM1411 729zM1279 958zM1300 1033zM1340 834zM1446 878zM1353 864zM1321 714zM1439 700zM1402 951zM1410 1009zM1344 1040zM1420 944zM1481 905zM1424 841zM1459 768zM1317 937zM1459 901zM1381 951zM1570 825zM1424 902zM1470 597zM1260 956zM1360 916zM1342 918zM1383 858zM1392 909zM1349 641zM1420 946zM1307 987zM1383 1027zM1400 922zM1334 949zM1406 739zM1398 843zM1312 1008zM1487 778zM1439 592zM1339 914zM1345 929zM1384 715zM1382 674zM1458 826zM1434 920zM1323 671zM1466 929zM1375 897zM1383 855zM1348 960zM1461 630zM1365 909zM1266 875zM1461 934zM1350 690zM1375 681zM1484 735zM1315 856zM1353 873zM1535 791zM1472 843zM1366 980zM1397 638zM1369 697zM1356 842zM1412 848zM1377 868zM1394 715zM1340 664zM1333 871zM1434 806zM1423 667zM1358 596zM1507 844zM1382 910zM1398 626zM1284 993zM1368 910zM1271 877zM1377 827zM1479 613zM1357 918zM1534 890zM1326 601zM1359 681zM1426 859zM1471 930zM1373 863zM1356 1025zM1413 730zM1374 950zM1352 1014zM1317 831zM1517 766zM1345 939zM1427 708zM1298 945zM1387 874zM1408 645zM1431 820zM1369 958zM1470 859zM1393 1039zM1431 892zM1316 975zM1480 692zM1467 601zM1462 666zM1335 880zM1384 760zM1417 894zM1277 1033zM1350 749zM1468 824zM1292 938zM1356 937zM1407 848zM1432 762zM1333 931zM1382 631zM1475 809zM1325 848zM1518 863zM1442 829zM1429 812zM1335 874zM1465 631zM1342 956zM1297 932zM1604 761zM1488 802zM1519 931zM1280 1020zM1333 956zM1495 910zM1460 737zM1442 773zM1365 909zM1443 902zM1474 880zM1344 937zM1503 869zM1504 873zM1576 774zM1278 895zM1510 698zM1444 665zM1316 911zM1339 602zM1443 856zM1422 732zM1305 901zM1460 913zM1414 809zM1340 1018zM1385 698zM1356 1038zM1370 809zM1501 854zM1392 920zM1382 831zM1418 626zM1376 987zM1303 1009zM1408 821zM1506 834zM1496 706zM1459 769zM1337 1055zM1345 631zM1412 939zM1438 941zM1423 617zM1384 886zM1383 1044zM1304 1039zM1461 854zM1362 612zM1454 919zM1496 845zM1455 924zM1317 1027zM1255 884zM1461 605zM1326 725zM1364 819zM1457 899zM1310 978zM1426 907zM1506 671zM1448 800zM1422 847zM1391 904zM1408 955zM1477 837zM1356 899zM1412 594zM1303 957zM1392 633zM1330 1023zM1501 993zM1498 822zM1367 628zM1394 801zM1466 700zM1481 648zM1346 665zM1413 631zM1351 979zM1440 620zM1379 649zM1363 946zM1500 835zM1279 971zM1343 842zM1413 713zM1435 947zM1430 632zM1441 801zM1460 923zM1275 862zM1486 872zM1449 599zM1426 793zM1382 1054zM1369 858zM1364 1034zM1380 905zM1472 889zM1395 696zM1482 775zM1452 918zM1344 901zM1341 928zM1417 731zM1505 626zM1341 849zM1418 762zM1500 656zM1481 739zM1361 957zM1374 763zM1409 1060zM1341 955zM1353 855zM1434 762zM1393 979zM1331 834zM1353 829zM1536 843zM1378 992zM1495 847zM1359 752zM1467 712zM1309 1052zM1404 606zM1418 659zM1455 691zM1492 766zM1296 968zM1366 978zM1405 827zM1379 883zM1364 727zM1461 880zM1410 880zM1376 831zM1369 840zM1366 903zM1440 881zM1432 846zM1577 825zM1370 878zM1499 704zM1303 900zM1328 883zM1275 876zM1329 683zM1441 863zM1350 1046zM1493 868zM1343 902zM1378 907zM1466 813zM1493 778zM1411 813zM1316 973zM1498 808zM1445 853zM1422 838zM1329 989zM1376 921zM1410 745zM1431 791zM1368 985zM1430 844zM1335 850zM1289 1005zM1332 866zM1379 704zM1432 892zM1439 688zM1409 625zM1449 820zM1410 652zM1354 1037zM1321 1011zM1319 1060zM1391 834zM1398 821zM1449 713zM1490 822zM1288 903zM1269 928zM1435 881zM1364 656zM1315 923zM1439 771zM1423 605zM1314 938zM1293 983zM1601 915zM1332 930zM1370 932zM1434 597zM1425 878zM1361 973zM1490 848zM1342 636zM1380 950zM1355 1060zM1308 1050zM1532 846zM1395 788zM1432 703zM1482 651zM1435 674zM1384 665zM1372 906zM1508 869zM1417 790zM1471 703zM1396 711zM1370 918zM1460 922zM1320 938zM1436 740zM1445 800zM1410 601zM1434 840zM1375 840zM1432 720zM1424 799zM1456 801zM1329 726zM1476 867zM1305 871zM1411 630zM1319 685zM1283 1020zM1348 899zM1512 814zM1348 1027zM1417 866zM1325 1001zM1422 626zM1479 873zM1330 1061zM1428 644zM1468 640zM1443 920zM1336 940zM1422 767zM1392 1023zM1420 914zM1293 908zM1396 902zM1458 855zM1417 932zM1420 800zM1476 666zM1404 633zM1337 868zM1422 823zM1469 818zM1409 826zM1442 763zM1478 786zM1499 843zM1510 810zM1389 629zM1525 888zM1433 678zM1474 788zM1364 860zM1431 793zM1298 881zM1336 832zM1514 862zM1400 667zM1308 734zM1366 945zM1368 946zM1326 990zM1362 1014zM1336 670zM1341 1042zM1393 615zM1283 884zM1489 880zM1424 887zM1278 964zM1364 916zM1452 952zM1405 864zM1559 913zM1399 723zM1354 605zM1401 835zM1412 848zM1430 656zM1377 875zM1332 870zM1491 830zM1451 849zM1484 757zM1403 734zM1472 609zM1360 907zM1360 925zM1318 873zM1311 930zM1413 755zM1327 689zM1321 818zM1336 935zM1424 642zM1362 1020zM1396 919zM1350 672zM1313 1004zM1312 856zM1305 955zM1312 881zM1337 636zM1302 973zM1320 976zM1461 866zM1325 853zM1355 876zM1379 643zM1330 604zM1479 611zM1427 663zM1478 805zM1439 884zM1274 884zM1334 1054zM1359 620zM1396 924zM1493 810zM1389 622zM1372 786zM1388 662zM1425 859zM1491 757zM1383 601zM1443 725zM1448 618zM1458 642zM1325 1008zM1367 925zM1489 915zM1413 653zM1300 1035zM1379 953zM1260 980zM1400 706zM1292 892zM1391 711zM1461 803zM1450 863zM1381 751zM1419 859zM1523 849zM1350 796zM1354 655zM1458 835zM1371 989zM1400 962zM1474 867zM1319 845zM1304 912zM1498 827zM1316 615zM1351 966zM1364 1052zM1498 710zM1472 828zM1390 834zM1405 821zM1285 877zM1510 757zM1408 927zM1374 1060zM1410 849zM1318 897zM1469 925zM1459 873zM1268 928zM1407 842zM1373 943z"/><path d="M1517 619zM1462 731zM1308 928zM1470 854zM1463 908zM1399 913zM1320 922zM1409 946zM1329 953zM1466 735zM1293 896zM1484 921zM1504 757zM1316 999zM1436 652zM1462 770zM1419 738zM1276 882zM1561 649zM1558 875zM1477 851zM1435 907zM1355 870zM1579 801zM1253 970zM1416 692zM1332 1020zM1381 900zM1422 912zM1359 702zM1337 1003zM1330 984zM1275 983zM1387 1046zM1508 706zM1466 809zM1285 884zM1524 850zM1333 1013zM1327 950zM1350 940zM1277 861zM1406 650zM1347 1050zM1378 1026zM1407 1057zM1354 832zM1605 853zM1372 1005zM1359 598zM1376 947zM1489 835zM1440 724zM1335 1007zM1340 924zM1411 713zM1518 896zM1270 899zM1500 645zM1337 615zM1406 823zM1314 885zM1401 850zM1352 1037zM1414 878zM1275 1011zM1408 697zM1446 910zM1464 623zM1342 1037zM1417 641zM1405 610zM1264 876zM1386 848zM1334 823zM1345 904zM1310 912zM1518 909zM1292 873zM1474 666zM1396 938zM1345 842zM1319 976zM1442 609zM1423 839zM1348 866zM1392 940zM1352 951zM1411 1036zM1452 887zM1337 923zM1351 1027zM1412 793zM1321 631zM1343 675zM1290 943zM1459 924zM1301 1045zM1368 632zM1532 793zM1345 1015zM1345 692zM1446 885zM1465 865zM1389 625zM1405 858zM1342 830zM1364 702zM1319 1061zM1375 864zM1316 961zM1351 905zM1338 961zM1469 906zM1404 650zM1379 1002zM1385 706zM1343 599zM1381 694zM1416 885zM1424 647zM1429 741zM1492 887zM1388 846zM1365 610zM1347 999zM1376 1043zM1401 761zM1458 629zM1286 937zM1344 1001zM1329 962zM1503 807zM1381 825zM1439 834zM1270 957zM1468 806zM1307 1046zM1449 730zM1474 682zM1409 995zM1388 975zM1425 834zM1441 854zM1348 593zM1348 698zM1410 819zM1435 940zM1358 871zM1453 847zM1312 983zM1381 917zM1326 834zM1364 858zM1504 627zM1458 806zM1427 830zM1441 606zM1425 843zM1460 717zM1308 1007zM1436 919zM1460 679zM1469 619zM1377 719zM1289 964zM1340 946zM1340 831zM1583 761zM1397 876zM1391 822zM1273 873zM1404 682zM1482 817zM1390 893zM1364 933zM1410 847zM1263 995zM1588 967zM1357 617zM1416 746zM1341 957zM1319 717zM1293 890zM1405 902zM1394 813zM1446 729zM1486 861zM1343 1007zM1492 874zM1402 814zM1294 962zM1428 1043zM1406 718zM1338 1030zM1357 964zM1326 956zM1407 877zM1411 798zM1529 600zM1586 832zM1335 936zM1315 952zM1335 939zM1386 806zM1500 694zM1365 900zM1378 911zM1469 656zM1343 701zM1365 985zM1427 768zM1376 668zM1388 935zM1356 667zM1430 850zM1469 825zM1487 628zM1443 735zM1338 1022zM1388 844zM1430 918zM1322 1020zM1480 1050zM1367 849zM1440 913zM1348 691zM1381 741zM1455 706zM1306 623zM1394 675zM1360 635zM1313 1048zM1335 873zM1412 955zM1335 917zM1343 1050zM1254 1028zM1443 826zM1347 840zM1408 779zM1398 608zM1341 932zM1425 632zM1356 940zM1550 827zM1456 895zM1345 931zM1397 696zM1489 864zM1309 1057zM1319 879zM1377 831zM1492 841zM1455 946zM1464 676zM1369 694zM1402 1043zM1435 894zM1475 823zM1402 857zM1405 630zM1400 890zM1364 731zM1426 592zM1457 666zM1299 855zM1466 887zM1425 620zM1384 601zM1543 762zM1449 837zM1477 730zM1287 887zM1391 969zM1439 882zM1301 929zM1375 706zM1471 881zM1365 923zM1492 891zM1402 806zM1384 653zM1425 886zM1495 678zM1329 948zM1400 596zM1434 602zM1356 977zM1398 622zM1315 867zM1391 902zM1422 864zM1437 806zM1365 1002zM1278 928zM1604 933zM1401 935zM1434 734zM1572 709zM1495 754zM1278 992zM1312 988zM1352 960zM1389 861zM1456 851zM1327 981zM1383 872zM1409 679zM1411 594zM1338 654zM1378 869zM1427 865zM1460 891zM1464 696zM1372 743zM1502 769zM1423 631zM1402 623zM1472 870zM1307 597zM1448 708zM1399 826zM1337 621zM1367 954zM1347 860zM1427 831zM1412 877zM1362 922zM1329 680zM1359 730zM1382 874zM1411 864zM1433 668zM1344 884zM1465 824zM1433 689zM1441 859zM1330 663zM1421 880zM1470 903zM1377 996zM1421 653zM1345 931zM1369 593zM1399 909zM1499 883zM1291 949zM1326 920zM1317 866zM1434 887zM1346 1024zM1380 650zM1377 958zM1444 841zM1409 931zM1413 612zM1402 719zM1432 743zM1402 849zM1549 689zM1444 894zM1370 847zM1429 891zM1265 904zM1366 923zM1360 994zM1340 775zM1301 1016zM1485 782zM1321 866zM1365 897zM1358 729zM1467 865zM1389 915zM1411 792zM1273 962zM1378 731zM1389 813zM1361 643zM1343 593zM1322 665zM1366 771zM1366 830zM1380 902zM1364 710zM1394 919zM1425 843zM1484 632zM1555 773zM1408 937zM1311 1006zM1292 983zM1401 871zM1412 678zM1393 872zM1387 671zM1371 714zM1401 872zM1298 923zM1509 861zM1339 1008zM1423 787zM1386 896zM1369 609zM1360 891zM1421 943zM1326 850zM1467 665zM1393 849zM1412 859zM1375 1032zM1399 858zM1327 867zM1363 914zM1304 914zM1267 954zM1393 616zM1377 857zM1420 658zM1406 751zM1398 935zM1441 933zM1421 801zM1449 779zM1502 886zM1340 943zM1306 918zM1403 850zM1429 642zM1343 939zM1458 632zM1308 935zM1529 719zM1397 852zM1453 899zM1423 753zM1391 759zM1337 619zM1327 998zM1453 690zM1464 891zM1401 861zM1316 851zM1503 813zM1421 757zM1597 849zM1450 730zM1394 892zM1319 988zM1386 866zM1332 766zM1370 685zM1480 791zM1495 622zM1367 598zM1427 841zM1447 847zM1472 799zM1454 861zM1352 927zM1288 960zM1404 932zM1264 900zM1355 667zM1450 845zM1396 904zM1503 838zM1395 620zM1415 938zM1417 738zM1441 827zM1474 780zM1551 853zM1411 679zM1312 913zM1367 906zM1335 983zM1414 866zM1466 764zM1326 845zM1357 834zM1329 956zM1509 815zM1389 624zM1491 848zM1382 914zM1341 937zM1420 912zM1379 659zM1402 749zM1394 834zM1485 594zM1421 609zM1333 1013zM1493 900zM1299 966zM1337 725zM1490 861zM1400 936zM1427 887zM1420 792zM1358 903zM1304 896zM1412 626zM1404 621zM1465 719zM1333 1032zM1365 917zM1448 894zM1532 1025zM1380 1007zM1331 722zM1420 744zM1378 814zM1336 982zM1365 928zM1293 993zM1331 928zM1460 719zM1402 599zM1516 828zM1342 999zM1303 950zM1422 838zM1385 716zM1297 1009zM1450 734zM1327 859zM1312 941zM1391 931zM1398 672zM1291 1005zM1382 886zM1420 740zM1361 795zM1335 607zM1316 935zM1316 949zM1387 861zM1325 978zM1345 990zM1421 856z"/><path d="M1413 652zM1433 860zM1379 928zM1489 824zM1456 643zM1496 873zM1297 978zM1381 848zM1540 794zM1351 670zM1313 702zM1407 771zM1341 832zM1407 914zM1372 991zM1318 982zM1369 855zM1415 955zM1308 708zM1383 858zM1314 866zM1451 1019zM1370 951zM1376 741zM1402 883zM1294 879zM1351 1033zM1398 858zM1374 819zM1340 1031zM1507 669zM1399 718zM1384 719zM1394 674zM1408 671zM1372 802zM1435 642zM1327 890zM1517 891zM1549 738zM1316 1041zM1398 721zM1340 957zM1380 1002zM1395 830zM1342 870zM1405 658zM1414 955zM1277 974zM1388 958zM1392 724zM1409 609zM1397 881zM1426 878zM1398 920zM1449 661zM1404 815zM1339 883zM1457 713zM1425 1034zM1325 846zM1481 757zM1424 645zM1371 868zM1330 911zM1593 662zM1303 592zM1498 644zM1443 663zM1396 650zM1420 907zM1309 954zM1392 626zM1401 930zM1425 757zM1362 822zM1337 819zM1416 618zM1332 1025zM1482 969zM1467 669zM1408 605zM1459 684zM1374 610zM1268 873zM1415 669zM1403 613zM1414 928zM1395 796zM1342 632zM1465 829zM1402 613zM1382 685zM1396 678zM1406 844zM1289 928zM1584 1043zM1395 1042zM1406 635zM1262 992zM1513 864zM1391 865zM1359 744zM1468 712zM1518 648zM1460 793zM1421 775zM1449 817zM1285 923zM1356 887zM1409 707zM1481 645zM1347 1021zM1335 948zM1392 830zM1321 994zM1348 1057zM1413 678zM1440 602zM1442 709zM1426 636zM1259 972zM1372 772zM1300 1004zM1362 666zM1468 849zM1378 707zM1417 709zM1354 637zM1449 685zM1411 857zM1318 840zM1445 651zM1418 830zM1448 731zM1494 814zM1366 898zM1315 939zM1361 635zM1355 695zM1407 845zM1361 803zM1384 851zM1481 883zM1330 902zM1506 915zM1403 790zM1425 834zM1292 893zM1345 606zM1454 874zM1359 646zM1363 920zM1400 853zM1310 880zM1375 835zM1293 969zM1457 646zM1336 595zM1506 830zM1393 822zM1487 885zM1330 1018zM1467 887zM1459 617zM1304 936zM1438 867zM1358 958zM1358 646zM1359 663zM1349 1031zM1297 973zM1514 786zM1391 644zM1437 933zM1519 676zM1368 671zM1347 1026zM1529 855zM1354 1017zM1337 1057zM1432 653zM1473 786zM1499 804zM1463 845zM1493 853zM1379 661zM1404 879zM1363 641zM1414 806zM1398 677zM1378 827zM1285 949zM1457 646zM1390 779zM1572 670zM1568 618zM1455 609zM1394 948zM1355 678zM1467 904zM1418 825zM1482 694zM1345 1032zM1389 1043zM1369 984zM1407 863zM1448 936zM1503 809zM1398 756zM1273 878zM1387 911zM1329 945zM1399 873zM1366 867zM1480 927zM1438 793zM1425 674zM1497 845zM1308 1015zM1291 914zM1343 870zM1339 713zM1461 861zM1389 631zM1424 617zM1505 880zM1380 1055zM1342 719zM1433 670zM1470 902zM1418 690zM1353 875zM1474 614zM1329 694zM1496 872zM1349 943zM1412 865zM1452 773zM1438 902zM1392 658zM1465 719zM1292 1046zM1350 920zM1443 652zM1374 956zM1351 619zM1297 1058zM1458 636zM1350 613zM1400 829zM1283 986zM1381 897zM1415 895zM1405 832zM1375 668zM1478 818zM1346 674zM1382 934zM1408 738zM1391 1020zM1398 600zM1445 606zM1410 829zM1368 681zM1492 893zM1499 857zM1405 887zM1408 955zM1458 800zM1595 1029zM1455 683zM1263 923zM1441 875zM1531 875zM1339 939zM1340 1010zM1554 896zM1409 653zM1382 914zM1390 774zM1447 835zM1483 813zM1465 921zM1446 907zM1354 593zM1448 814zM1409 682zM1442 694zM1527 851zM1436 901zM1437 907zM1471 754zM1417 902zM1434 758zM1501 618zM1493 614zM1415 654zM1328 856zM1428 637zM1398 808zM1385 928zM1459 779zM1386 650zM1507 889zM1345 1054zM1320 717zM1447 792zM1405 746zM1349 694zM1345 927zM1369 706zM1373 987zM1383 987zM1449 780zM1296 1016zM1361 696zM1482 698zM1500 765zM1488 882zM1354 926zM1498 836zM1403 909zM1587 809zM1473 871zM1390 929zM1490 883zM1342 653zM1504 715zM1351 706zM1455 789zM1277 942zM1352 938zM1452 849zM1416 732zM1431 926zM1341 855zM1365 1052zM1340 938zM1341 822zM1348 598zM1302 894zM1391 731zM1341 889zM1436 896zM1529 805zM1344 910zM1272 967zM1361 932zM1428 866zM1356 655zM1490 725zM1407 832zM1341 602zM1339 915zM1353 982zM1392 935zM1453 905zM1447 932zM1425 818zM1348 827zM1435 708zM1515 825zM1444 597zM1462 781zM1352 946zM1385 749zM1391 822zM1480 750zM1427 659zM1390 816zM1350 996zM1334 600zM1457 821zM1420 883zM1518 849zM1446 819zM1357 928zM1447 723zM1303 974zM1301 946zM1347 836zM1430 924zM1393 900zM1408 849zM1469 708zM1466 824zM1401 944zM1417 642zM1570 619zM1301 923zM1460 879zM1365 837zM1327 929zM1320 993zM1309 1002zM1439 906zM1345 862zM1381 990zM1416 858zM1426 599zM1373 889zM1500 862zM1469 854zM1373 842zM1334 988zM1424 684zM1336 829zM1335 933zM1356 679zM1489 840zM1270 927zM1361 640zM1399 860zM1346 983zM1359 881zM1260 886zM1384 605zM1462 662zM1360 680zM1446 689zM1418 868zM1395 865zM1384 647zM1340 1044zM1529 745zM1330 912zM1451 931zM1380 847zM1434 856zM1380 677zM1284 862zM1501 773zM1344 652zM1302 928zM1308 852zM1346 1029zM1483 913zM1519 690zM1416 776zM1542 921zM1400 643zM1508 732zM1314 871zM1369 710zM1427 886zM1357 1041zM1403 998zM1413 957zM1399 775zM1425 746zM1460 718zM1463 793zM1375 701zM1339 974zM1496 736zM1444 631zM1368 865zM1342 713zM1569 788zM1496 860zM1415 613zM1327 629zM1365 689zM1372 971zM1490 867zM1427 712zM1275 894zM1418 706zM1408 906zM1442 834zM1306 902zM1304 841zM1438 646zM1330 948zM1281 975zM1364 895zM1342 713zM1370 631zM1376 662zM1410 1048zM1352 640zM1294 902zM1440 832zM1366 974zM1329 982zM1308 633zM1453 782zM1395 652zM1439 720zM1347 934zM1474 882zM1463 781zM1314 606zM1354 593zM1402 894zM1428 892zM1394 848zM1281 1023zM1271 934zM1397 805zM1389 598zM1462 594zM1286 955zM1391 654zM1318 950zM1434 778zM1556 675zM1405 1047zM1334 854zM1386 879zM1384 860zM1442 667zM1390 687zM1386 1048zM1356 852zM1373 883zM1317 648zM1289 886zM1274 889zM1277 907zM1418 832zM1450 714zM1433 866zM1279 852zM1563 883zM1436 655zM1447 850zM1473 951zM1580 926zM1431 840zM1288 895zM1290 923zM1373 760zM1397 916zM1345 940zM1491 870zM1338 600zM1355 731zM1408 949zM1340 890zM1266 1021zM1376 667z"/><path d="M1459 869zM1456 826zM1457 922zM1438 742zM1285 938zM1397 654zM1388 638zM1482 846zM1461 927zM1421 739zM1532 815zM1326 957zM1537 659zM1348 710zM1470 816zM1414 1051zM1422 951zM1412 1030zM1424 802zM1320 945zM1501 917zM1440 695zM1508 777zM1382 629zM1366 856zM1389 906zM1446 759zM1406 959zM1438 890zM1282 883zM1436 823zM1284 1001zM1403 667zM1398 867zM1350 885zM1503 887zM1522 777zM1490 922zM1365 893zM1409 1042zM1415 621zM1403 938zM1479 719zM1292 1024zM1448 682zM1359 939zM1347 593zM1281 997zM1486 842zM1463 677zM1323 608zM1360 636zM1346 970zM1477 786zM1293 847zM1329 1052zM1374 924zM1341 760zM1437 735zM1391 656zM1400 594zM1358 676zM1325 955zM1404 880zM1367 753zM1383 765zM1398 970zM1434 905zM1370 662zM1346 837zM1564 732zM1366 905zM1438 879zM1359 602zM1401 690zM1410 680zM1364 985zM1424 684zM1330 1013zM1409 943zM1404 899zM1347 1015zM1462 859zM1346 906zM1361 947zM1298 1013zM1417 697zM1396 934zM1397 830zM1449 645zM1424 691zM1335 1032zM1470 778zM1381 650zM1483 890zM1415 728zM1379 619zM1402 899zM1373 615zM1600 883zM1421 599zM1423 650zM1352 986zM1380 660zM1433 691zM1501 796zM1301 978zM1457 927zM1352 828zM1408 894zM1423 694zM1285 640zM1466 839zM1394 800zM1473 779zM1402 667zM1442 751zM1439 771zM1395 846zM1481 633zM1412 849zM1414 897zM1481 916zM1416 913zM1474 865zM1457 799zM1402 974zM1431 654zM1580 868zM1366 891zM1366 879zM1420 702zM1348 980zM1465 872zM1350 592zM1481 906zM1333 973zM1362 670zM1359 680zM1329 1004zM1418 844zM1452 672zM1289 1023zM1495 842zM1397 841zM1445 667zM1528 822zM1323 1019zM1435 827zM1336 1000zM1446 595zM1309 982zM1407 926zM1466 829zM1333 856zM1409 623zM1373 1028zM1353 685zM1351 689zM1375 623zM1494 692zM1273 886zM1438 925zM1339 675zM1418 938zM1329 999zM1453 639zM1406 1030zM1323 714zM1398 806zM1290 992zM1354 665zM1295 885zM1372 727zM1425 868zM1489 861zM1469 859zM1286 913zM1407 601zM1452 743zM1456 793zM1322 953zM1465 810zM1432 771zM1276 900zM1438 838zM1444 811zM1425 736zM1450 775zM1443 622zM1364 928zM1404 891zM1319 858zM1383 955zM1340 1056zM1327 969zM1369 885zM1420 747zM1420 714zM1331 950zM1485 795zM1367 970zM1540 762zM1392 710zM1368 767zM1349 728zM1398 683zM1384 681zM1455 779zM1397 602zM1367 682zM1463 651zM1361 674zM1436 674zM1405 951zM1311 965zM1328 981zM1363 782zM1313 620zM1270 963zM1375 607zM1464 686zM1379 1059zM1456 719zM1287 889zM1464 732zM1388 960zM1331 634zM1304 973zM1450 764zM1494 610zM1359 617zM1419 690zM1330 949zM1442 711zM1349 886zM1438 869zM1467 622zM1420 811zM1296 1004zM1359 621zM1371 613zM1388 866zM1476 683zM1406 687zM1318 862zM1388 613zM1428 1047zM1354 634zM1349 994zM1451 834zM1370 666zM1443 689zM1432 733zM1451 933zM1384 842zM1364 897zM1452 714zM1478 733zM1391 660zM1342 868zM1416 902zM1424 913zM1337 937zM1475 702zM1339 909zM1355 658zM1418 834zM1374 948zM1397 1041zM1480 845zM1266 988zM1544 892zM1294 913zM1266 899zM1393 680zM1475 680zM1310 686zM1601 672zM1260 889zM1416 814zM1377 723zM1356 870zM1527 793zM1485 728zM1353 945zM1478 730zM1400 1057zM1317 886zM1551 892zM1554 786zM1399 728zM1458 751zM1374 928zM1421 599zM1460 621zM1366 965zM1346 811zM1355 887zM1461 810zM1450 881zM1290 982zM1468 928zM1300 895zM1428 810zM1355 671zM1284 870zM1426 909zM1485 875zM1372 889zM1384 892zM1472 831zM1464 905zM1428 917zM1285 1016zM1325 922zM1330 665zM1414 844zM1379 885zM1298 1019zM1336 727zM1458 664zM1486 894zM1380 901zM1504 790zM1402 592zM1484 769zM1504 606zM1504 892zM1485 773zM1402 778zM1314 899zM1337 642zM1480 887zM1405 820zM1338 880zM1272 904zM1339 634zM1439 909zM1324 732zM1464 600zM1337 941zM1352 594zM1342 913zM1481 806zM1375 597zM1339 850zM1487 888zM1497 843zM1512 813zM1484 858zM1412 799zM1394 881zM1461 941zM1308 922zM1420 917zM1350 975zM1480 653zM1390 654zM1492 758zM1489 649zM1512 882zM1465 908zM1398 615zM1435 623zM1350 917zM1411 822zM1439 806zM1382 1049zM1353 965zM1352 683zM1408 707zM1314 899zM1404 723zM1446 640zM1381 861zM1487 838zM1334 849zM1408 826zM1461 834zM1394 603zM1359 889zM1477 709zM1395 937zM1417 733zM1324 981zM1465 604zM1498 613zM1380 647zM1348 934zM1367 896zM1393 722zM1379 904zM1281 893zM1405 868zM1428 796zM1376 620zM1352 940zM1333 1013zM1511 847zM1391 670zM1433 700zM1435 862zM1380 706zM1450 796zM1577 903zM1402 602zM1365 857zM1405 684zM1449 693zM1402 1002zM1375 800zM1400 689zM1363 935zM1338 623zM1390 884zM1414 902zM1390 1039zM1313 871zM1382 928zM1367 1023zM1414 816zM1333 967zM1429 865zM1443 734zM1391 615zM1315 921zM1297 933zM1351 905zM1359 858zM1349 965zM1426 704zM1380 737zM1374 841zM1432 747zM1373 712zM1511 781zM1350 656zM1336 694zM1384 965zM1424 675zM1349 1046zM1447 773zM1349 857zM1421 601zM1382 631zM1280 875zM1385 704zM1438 797zM1391 933zM1469 782zM1429 1057zM1427 916zM1380 679zM1456 833zM1428 784zM1407 797zM1268 987zM1360 624zM1366 834zM1394 839zM1356 1001zM1415 694zM1297 915zM1423 597zM1475 664zM1321 876zM1471 907zM1353 943zM1448 864zM1407 641zM1467 923zM1423 633zM1389 887zM1279 911zM1435 633zM1470 794zM1345 710zM1453 879zM1361 812zM1347 929zM1417 944zM1360 963zM1531 759zM1409 757zM1311 902zM1379 690zM1324 903zM1407 827zM1387 943zM1334 948zM1322 696zM1342 970zM1364 967zM1318 991zM1491 731zM1376 721zM1423 672zM1334 1039zM1323 864zM1318 964zM1367 939zM1370 1053zM1336 657zM1411 630zM1419 821zM1343 932zM1319 930zM1425 866zM1323 969zM1352 964zM1386 884zM1524 804zM1278 932zM1404 845zM1357 989zM1275 1026zM1584 903zM1332 948zM1470 826zM1356 959zM1375 932zM1480 761zM1383 846zM1263 879zM1434 660zM1403 702zM1427 696zM1494 877zM1453 826zM1468 605zM1409 865zM1393 889zM1476 611zM1373 1026zM1312 905zM1509 717zM1450 610zM1372 891zM1364 679zM1340 635zM1362 604zM1364 941z"/><path d="M1350 895zM1281 1041zM1340 919zM1304 920zM1492 820zM1382 961zM1412 704zM1371 666zM1394 821zM1383 902zM1457 854zM1354 890zM1276 969zM1437 653zM1392 1034zM1301 907zM1482 816zM1475 873zM1482 701zM1383 943zM1408 695zM1362 826zM1413 922zM1450 872zM1383 740zM1354 930zM1340 727zM1431 675zM1477 866zM1392 768zM1288 898zM1349 999zM1276 866zM1501 776zM1363 606zM1298 925zM1312 972zM1440 865zM1320 957zM1352 961zM1360 977zM1368 953zM1488 717zM1342 994zM1304 861zM1434 895zM1391 950zM1501 788zM1377 1032zM1304 996zM1378 666zM1309 697zM1332 974zM1309 898zM1445 599zM1283 916zM1311 1010zM1309 1033zM1418 826zM1500 674zM1314 878zM1285 882zM1371 848zM1348 905zM1375 810zM1349 840zM1598 843zM1338 958zM1495 616zM1404 868zM1359 696zM1486 901zM1373 854zM1519 732zM1325 697zM1365 1057zM1406 685zM1454 695zM1356 818zM1404 925zM1368 665zM1426 783zM1430 744zM1407 817zM1502 869zM1389 936zM1431 641zM1433 713zM1351 847zM1264 1015zM1422 599zM1499 870zM1357 958zM1518 824zM1398 859zM1478 681zM1313 946zM1411 851zM1317 860zM1444 796zM1311 894zM1379 946zM1399 888zM1353 901zM1469 757zM1439 658zM1320 1001zM1470 826zM1407 864zM1406 729zM1457 690zM1334 921zM1502 830zM1416 740zM1357 632zM1413 957zM1371 817zM1505 943zM1318 899zM1356 1044zM1458 731zM1388 964zM1369 913zM1347 1031zM1460 678zM1537 773zM1347 998zM1425 738zM1346 930zM1365 924zM1373 943zM1421 668zM1428 859zM1408 774zM1446 933zM1437 902zM1447 599zM1385 959zM1483 607zM1350 868zM1334 892zM1370 974zM1428 661zM1364 642zM1294 979zM1442 698zM1403 742zM1337 876zM1413 893zM1489 651zM1471 655zM1474 830zM1433 1053zM1331 858zM1275 851zM1271 935zM1384 610zM1346 677zM1447 818zM1350 875zM1563 798zM1326 1021zM1519 820zM1281 1021zM1302 981zM1324 850zM1365 849zM1298 899zM1478 694zM1430 627zM1279 919zM1404 760zM1268 981zM1372 905zM1413 611zM1543 867zM1448 867zM1349 974zM1387 930zM1353 913zM1512 881zM1375 620zM1303 887zM1372 945zM1430 690zM1339 967zM1416 940zM1371 933zM1319 993zM1444 815zM1428 718zM1370 648zM1413 818zM1486 837zM1477 922zM1333 981zM1368 902zM1490 799zM1445 757zM1338 646zM1444 913zM1360 760zM1335 765zM1449 776zM1504 814zM1422 954zM1359 661zM1394 883zM1351 1010zM1455 743zM1399 827zM1288 964zM1420 1031zM1399 868zM1413 704zM1366 878zM1354 936zM1435 883zM1427 878zM1332 927zM1282 988zM1501 809zM1423 649zM1344 933zM1480 732zM1532 877zM1489 857zM1373 1029zM1474 902zM1376 971zM1376 832zM1293 1056zM1325 924zM1347 1034zM1449 837zM1466 684zM1426 624zM1432 921zM1324 660zM1290 943zM1324 894zM1378 637zM1395 933zM1400 800zM1361 958zM1448 664zM1274 923zM1345 963zM1422 618zM1580 885zM1426 599zM1418 624zM1496 828zM1267 1056zM1373 745zM1484 803zM1377 823zM1468 592zM1287 1021zM1334 911zM1485 654zM1396 616zM1465 716zM1370 987zM1299 976zM1356 623zM1475 757zM1431 841zM1433 685zM1437 820zM1280 973zM1343 1018zM1481 739zM1358 1007zM1362 671zM1329 921zM1399 740zM1369 605zM1468 874zM1422 646zM1290 931zM1500 825zM1372 709zM1332 669zM1506 679zM1364 898zM1369 703zM1439 619zM1491 876zM1294 1044zM1462 878zM1403 857zM1417 650zM1446 771zM1342 837zM1483 784zM1404 847zM1301 899zM1346 652zM1354 649zM1429 624zM1479 903zM1483 694zM1373 595zM1357 828zM1266 917zM1383 921zM1414 831zM1323 685zM1348 921zM1321 888zM1504 875zM1301 1047zM1279 967zM1379 884zM1467 873zM1347 856zM1457 838zM1379 625zM1430 864zM1387 907zM1374 827zM1304 905zM1357 999zM1407 1001zM1426 811zM1351 804zM1486 694zM1397 1035zM1468 891zM1398 918zM1512 864zM1300 924zM1405 971zM1319 863zM1364 674zM1331 937zM1462 841zM1355 861zM1500 821zM1282 932zM1338 634zM1396 671zM1507 791zM1331 901zM1348 619zM1375 715zM1470 842zM1330 975zM1287 882zM1495 813zM1362 1009zM1496 689zM1369 914zM1349 601zM1312 874zM1339 1049zM1293 920zM1474 864zM1458 892zM1327 606zM1330 923zM1373 1004zM1382 863zM1384 1020zM1331 950zM1423 636zM1464 828zM1452 846zM1411 645zM1425 595zM1408 939zM1463 729zM1372 837zM1448 598zM1434 905zM1253 945zM1363 704zM1391 892zM1281 1004zM1495 897zM1417 596zM1381 1000zM1353 612zM1386 974zM1408 859zM1297 1043zM1431 827zM1395 640zM1433 686zM1337 1009zM1405 825zM1289 854zM1449 855zM1355 890zM1401 755zM1416 825zM1381 836zM1377 825zM1461 631zM1372 977zM1330 645zM1347 975zM1416 1007zM1339 713zM1264 979zM1431 696zM1306 978zM1306 914zM1428 928zM1394 658zM1323 742zM1335 911zM1356 715zM1390 648zM1401 852zM1374 702zM1349 832zM1378 845zM1391 685zM1460 866zM1379 728zM1566 894zM1469 674zM1329 1035zM1447 833zM1294 924zM1492 869zM1351 943zM1439 842zM1269 1012zM1471 822zM1347 1023zM1417 604zM1487 965zM1389 1039zM1379 985zM1335 674zM1272 877zM1401 864zM1552 912zM1350 967zM1511 898zM1449 824zM1468 743zM1442 694zM1352 1036zM1447 855zM1465 805zM1385 919zM1375 941zM1427 847zM1365 866zM1382 814zM1408 607zM1430 669zM1470 960zM1422 940zM1355 916zM1439 881zM1274 981zM1597 883zM1447 760zM1286 1058zM1391 873zM1486 842zM1408 897zM1323 910zM1389 625zM1453 838zM1294 964zM1345 609zM1450 679zM1505 660zM1312 893zM1441 618zM1352 915zM1507 804zM1500 897zM1291 922zM1473 780zM1435 743zM1427 850zM1357 908zM1274 866zM1475 706zM1426 656zM1466 920zM1402 935zM1434 745zM1373 996zM1375 945zM1355 727zM1360 960zM1542 871zM1487 618zM1422 738zM1337 647zM1485 834zM1378 1021zM1393 826zM1455 648zM1334 612zM1438 620zM1397 850zM1348 943zM1387 672zM1418 918zM1313 971zM1390 930zM1410 934zM1309 611zM1430 909zM1384 630zM1479 722zM1430 837zM1271 1034zM1414 1000zM1323 627zM1442 663zM1377 642zM1353 820zM1355 914zM1418 756zM1507 889zM1391 942zM1456 635zM1405 597zM1444 882zM1274 872zM1344 817zM1520 860zM1432 648zM1423 889zM1334 888zM1342 731zM1354 977zM1403 616zM1381 955zM1385 920zM1442 907zM1324 891z"/><path d="M1439 716zM1343 914zM1363 959zM1408 610zM1522 881zM1313 926zM1447 770zM1353 839zM1349 939zM1483 780zM1478 716zM1256 1056zM1313 1025zM1407 729zM1380 643zM1425 860zM1331 719zM1281 879zM1367 625zM1444 666zM1470 740zM1344 729zM1443 780zM1358 634zM1296 683zM1436 864zM1483 801zM1501 741zM1461 607zM1366 1038zM1310 970zM1394 897zM1437 915zM1321 927zM1324 635zM1362 901zM1467 847zM1489 747zM1413 660zM1329 892zM1333 896zM1453 910zM1394 866zM1480 886zM1357 959zM1569 859zM1346 653zM1484 842zM1421 650zM1434 846zM1432 616zM1359 851zM1387 624zM1336 926zM1423 828zM1461 901zM1468 722zM1348 631zM1341 917zM1394 709zM1399 901zM1393 808zM1375 961zM1404 757zM1368 1028zM1362 637zM1427 708zM1340 930zM1306 928zM1306 979zM1271 989zM1318 1013zM1344 883zM1587 856zM1424 680zM1306 999zM1499 781zM1387 910zM1395 608zM1420 627zM1384 715zM1427 829zM1351 595zM1310 912zM1398 1024zM1320 619zM1443 892zM1388 949zM1418 808zM1350 944zM1448 856zM1505 640zM1365 697zM1300 985zM1442 825zM1446 638zM1384 929zM1321 1039zM1368 691zM1336 618zM1394 668zM1319 864zM1309 1039zM1436 943zM1373 1043zM1476 924zM1272 967zM1293 997zM1322 973zM1420 826zM1358 891zM1297 950zM1469 825zM1476 732zM1502 822zM1529 817zM1440 610zM1393 637zM1319 1001zM1288 867zM1410 664zM1437 872zM1386 630zM1360 1060zM1481 864zM1380 837zM1418 696zM1397 630zM1437 789zM1498 690zM1455 826zM1326 1011zM1395 625zM1346 890zM1298 866zM1254 965zM1419 617zM1330 882zM1441 946zM1337 958zM1484 684zM1325 686zM1392 814zM1396 846zM1323 973zM1384 636zM1507 879zM1410 841zM1373 755zM1443 702zM1595 628zM1476 874zM1324 947zM1419 868zM1414 664zM1353 902zM1405 845zM1509 647zM1339 887zM1382 862zM1395 921zM1495 606zM1432 826zM1275 1041zM1364 673zM1455 788zM1280 922zM1465 831zM1507 731zM1383 763zM1396 760zM1411 848zM1591 701zM1405 851zM1308 983zM1354 872zM1497 833zM1445 709zM1490 872zM1308 984zM1289 986zM1437 765zM1356 667zM1453 804zM1359 999zM1410 646zM1370 1007zM1492 837zM1346 976zM1399 827zM1307 941zM1391 960zM1384 1003zM1367 956zM1431 780zM1386 796zM1331 973zM1517 1052zM1354 734zM1349 1056zM1382 714zM1425 803zM1306 897zM1362 632zM1276 959zM1374 1032zM1461 595zM1396 964zM1446 848zM1369 786zM1417 688zM1334 950zM1523 819zM1311 992zM1287 882zM1516 809zM1505 827zM1403 805zM1366 742zM1325 1057zM1385 666zM1348 989zM1469 741zM1371 844zM1337 926zM1473 598zM1459 709zM1292 878zM1344 1060zM1504 821zM1380 652zM1403 607zM1307 860zM1391 853zM1292 888zM1467 892zM1396 1023zM1380 890zM1363 658zM1278 881zM1427 1035zM1295 1047zM1350 929zM1331 982zM1424 681zM1502 697zM1267 858zM1457 871zM1329 684zM1417 883zM1391 811zM1357 626zM1403 880zM1418 656zM1267 961zM1276 894zM1385 723zM1386 865zM1353 903zM1570 838zM1345 873zM1423 811zM1329 1007zM1363 1059zM1285 883zM1532 819zM1471 886zM1482 723zM1395 605zM1353 923zM1266 997zM1321 626zM1374 922zM1425 865zM1449 776zM1315 995zM1432 852zM1397 819zM1520 602zM1471 864zM1359 846zM1410 920zM1534 784zM1333 699zM1348 899zM1341 606zM1367 612zM1514 799zM1451 771zM1379 605zM1352 614zM1375 998zM1561 871zM1359 868zM1391 985zM1450 634zM1466 855zM1343 825zM1399 858zM1366 961zM1273 877zM1415 969zM1398 597zM1498 785zM1504 828zM1344 934zM1436 604zM1422 903zM1329 899zM1301 1022zM1388 1034zM1476 813zM1350 934zM1373 599zM1332 908zM1469 833zM1433 900zM1460 832zM1404 620zM1344 904zM1422 907zM1518 759zM1433 686zM1391 902zM1438 705zM1395 856zM1520 901zM1477 638zM1348 957zM1454 918zM1341 625zM1400 932zM1450 810zM1355 730zM1428 885zM1382 1048zM1267 963zM1329 650zM1433 718zM1349 629zM1480 887zM1382 981zM1392 950zM1290 965zM1465 863zM1496 752zM1404 642zM1371 715zM1422 757zM1349 1045zM1303 922zM1298 880zM1397 712zM1368 949zM1415 842zM1432 836zM1403 979zM1298 905zM1330 856zM1337 973zM1445 822zM1491 901zM1508 751zM1414 836zM1289 944zM1560 674zM1465 794zM1453 684zM1374 1002zM1537 925zM1283 960zM1364 775zM1454 913zM1365 877zM1366 638zM1367 655zM1413 947zM1425 724zM1324 654zM1437 879zM1461 891zM1587 953zM1424 821zM1448 902zM1414 1051zM1315 1029zM1373 1050zM1388 883zM1378 857zM1375 839zM1497 914zM1368 622zM1355 999zM1376 650zM1388 853zM1308 857zM1341 958zM1338 885zM1303 871zM1415 619zM1270 1027zM1442 863zM1443 926zM1440 803zM1324 653zM1376 939zM1428 870zM1501 755zM1422 811zM1335 674zM1475 919zM1382 964zM1329 856zM1456 661zM1361 690zM1380 642zM1320 596zM1583 915zM1373 891zM1322 1057zM1433 937zM1390 897zM1450 714zM1310 945zM1303 989zM1277 1010zM1391 909zM1393 855zM1288 889zM1414 942zM1412 863zM1405 645zM1421 635zM1382 652zM1503 760zM1481 823zM1395 612zM1404 600zM1461 660zM1315 896zM1317 937zM1446 663zM1436 896zM1492 664zM1435 909zM1435 603zM1342 970zM1356 598zM1557 896zM1340 883zM1475 619zM1333 894zM1339 986zM1371 961zM1474 780zM1417 882zM1482 616zM1333 938zM1444 705zM1345 957zM1474 788zM1409 619zM1476 879zM1456 816zM1393 933zM1416 846zM1418 859zM1486 879zM1489 830zM1347 855zM1357 698zM1292 903zM1331 597zM1465 880zM1451 818zM1415 908zM1303 882zM1310 977zM1440 601zM1389 868zM1361 1047zM1400 820zM1418 901zM1270 937zM1421 889zM1317 979zM1513 875zM1397 772zM1370 628zM1342 949zM1364 852zM1388 887zM1401 785zM1339 933zM1427 635zM1363 685zM1277 872zM1341 609zM1409 729zM1486 885zM1321 934zM1329 641zM1404 835zM1445 874zM1450 814zM1353 989zM1371 676zM1378 914zM1429 605zM1486 609zM1398 1041zM1409 1003zM1368 833zM1359 893zM1294 886zM1485 890zM1350 916zM1386 953zM1334 672zM1447 863zM1467 917zM1424 626zM1267 901zM1511 764zM1329 621zM1382 727zM1391 893zM1383 945zM1505 779zM1440 692zM1493 878zM1286 891zM1460 654zM1429 685zM1357 1022zM1407 721zM1452 835zM1350 964zM1410 711zM1372 918zM1286 911zM1428 693z"/></g>
</g>
<g fill="none" stroke-width="8.5" stroke-linejoin="round" stroke-linecap="round">
<path clip-path="url(#cb1)" stroke="#333" d="M425.0 61.0L427.9 65.4L430.1 69.8L430.9 77.7L432.0 82.7L432.1 87.6L433.4 92.5L433.4 97.4L433.6 102.3L433.4 107.2L434.1 112.2L434.4 117.1L434.3 122.4L436.7 127.6L436.8 132.9L436.8 138.8L438.0 144.7L437.8 152.6L436.3 158.5L436.0 164.4L434.7 170.2L434.2 176.0L436.0 180.9L437.4 185.9L437.4 190.8L437.6 195.4L438.2 200.0L438.4 204.6L438.7 209.2L439.1 213.8L439.9 218.4L440.2 223.0L440.5 227.6L440.3 232.2L438.5 237.1L438.8 242.0L440.1 247.9L439.3 253.8L436.8 261.7L438.4 269.6L437.1 274.6L436.8 279.5L433.8 283.4L431.5 287.3L431.5 295.0"/>
<path clip-path="url(#cb1)" stroke="#333" d="M694.9 61.0L692.8 66.4L691.8 71.8L691.0 79.7L687.8 87.6L686.7 92.2L688.3 96.8L687.4 101.4L687.0 106.6L685.8 111.9L685.9 117.1L684.8 122.4L683.6 127.6L683.9 132.9L681.8 138.8L681.5 144.7L682.1 150.6L681.5 156.6L682.3 161.5L683.1 166.4L684.3 171.2L684.5 176.0L683.7 180.9L682.5 185.9L681.5 190.8L681.3 196.7L681.2 202.6L680.0 208.5L679.8 214.4L679.6 220.3L680.0 226.2L679.3 231.5L681.2 236.7L681.1 242.0L680.8 247.3L680.3 252.5L681.5 257.8L680.8 263.0L681.9 268.3L682.5 273.5L684.2 277.9L686.5 282.4L691.4 287.7L686.5 294.0"/>
<path clip-path="url(#cb2)" stroke="#0b93c9" d="M416.5 294.0L417.5 296.9L420.5 300.9L423.5 304.8L424.8 309.8L425.4 314.7L425.9 318.6L427.4 322.6L428.6 327.1L430.8 331.5L430.7 335.9L431.9 340.3L434.7 344.2L436.7 348.2L437.9 353.2L433.3 358.1L437.6 359.9L441.9 361.8L446.1 363.6L441.0 365.1L436.7 366.5L432.3 368.0L428.1 369.6L424.4 371.3L420.1 372.9L419.4 376.9L417.5 380.8L414.6 387.7L410.0 389.6L404.7 391.6L403.7 399.5L404.1 403.7L404.7 407.8L404.7 412.0L405.7 416.9L407.7 421.8L409.6 425.8L409.6 429.7L411.6 433.7L414.4 438.1L416.6 442.5L418.8 445.8L422.2 449.1L424.4 452.4L425.8 456.4L427.4 460.3L431.6 463.2L436.3 466.2L440.5 467.5L444.2 468.9L448.1 470.2L454.0 475.1L451.1 480.0L455.2 484.4L459.0 488.9L457.6 494.8L460.0 499.7L456.0 503.1L452.1 506.6L447.3 510.1L443.2 513.6L440.4 518.0L438.3 522.4L437.3 530.0"/>
<path clip-path="url(#cb2)" stroke="#0b93c9" d="M719.0 294.0L718.0 296.9L714.9 301.9L712.1 306.8L711.1 314.7L709.7 318.6L707.2 322.6L708.2 328.5L706.9 333.4L705.6 338.4L705.4 343.3L706.2 348.2L707.8 352.1L709.2 356.1L705.2 358.6L701.1 361.1L696.4 363.6L700.0 365.4L705.4 367.1L709.2 368.9L712.8 372.2L715.9 375.5L720.0 378.8L717.4 382.8L715.1 386.7L718.9 389.6L724.0 392.6L725.5 398.1L725.9 403.5L725.8 411.0L724.1 416.4L722.8 421.8L720.3 426.8L717.9 431.7L714.8 435.0L712.1 438.3L709.0 441.6L705.4 444.2L703.2 446.8L699.2 449.4L694.9 451.9L690.3 454.4L692.3 458.3L688.3 460.0L685.2 461.8L681.4 463.5L677.5 465.2L673.4 467.3L669.1 469.4L664.7 471.5L664.9 476.2L665.6 481.0L664.1 485.4L662.7 489.9L663.1 494.4L664.7 498.8L668.2 502.1L671.2 505.3L673.5 508.6L678.1 510.9L682.1 513.2L685.4 515.5L689.4 517.5L692.5 519.4L696.2 521.4L701.1 527.4L703.0 530.0"/>
</g>
<path d="M383.0 60.6V531.4M594.3 60.6V531.4M382.0 295.8H806.9M382.0 530.4H806.9M383.0 61.6h3.8M594.3 61.6h3.8M805.9 295.8v-5.0M805.9 530.4v-5.0" fill="none" stroke="#000" stroke-width="2"/>
<text transform="translate(321.06 120.44) scale(0.9803 1)" font-size="30">400</text>
<text transform="translate(320.31 214.12) scale(0.9958 1)" font-size="30">200</text>
<text transform="translate(353.22 306.80) scale(1.0246 1)" font-size="30">0</text>
<text transform="translate(321.06 354.72) scale(0.9803 1)" font-size="30">400</text>
<text transform="translate(320.31 448.56) scale(0.9958 1)" font-size="30">200</text>
<text transform="translate(353.22 541.10) scale(1.0246 1)" font-size="30">0</text>
<text transform="translate(375.12 564.40) scale(1.0246 1)" font-size="30">0</text>
<text transform="translate(469.90 564.40) scale(0.9974 1)" font-size="30">2.5</text>
<text transform="translate(576.79 564.40) scale(1.0456 1)" font-size="30">5</text>
<text transform="translate(647.89 564.40) scale(0.9833 1)" font-size="30">10</text>
<text transform="translate(721.09 564.40) scale(1.0081 1)" font-size="30">20</text>
<text transform="translate(789.37 564.40) scale(0.9871 1)" font-size="30">30</text>
<text transform="translate(383.16 606.70) scale(0.9755 1)" font-size="30">Photons (×10<tspan font-size="20" dy="-11.5">3</tspan><tspan dy="11.5">)</tspan></text>
<text transform="translate(586.70 606.70) scale(0.9791 1)" font-size="30">Uncertainty (nm)</text>
<text transform="translate(302.00 334.77) rotate(-90) scale(0.9353 1)" font-size="30"><tspan font-style="italic">z</tspan> (nm)</text>
<clipPath id="cc"><rect x="956.0" y="100.0" width="347.6" height="430.5"/></clipPath>
<rect x="956.0" y="183.5" width="347.4" height="61.1" fill="#d9dada"/>
<rect x="956.0" y="357.9" width="347.4" height="61.6" fill="#d9dada"/>
<g clip-path="url(#cc)" fill="none">
<path d="M1094.8 244.6C1091.3 244.3 1080.9 243.3 1073.9 242.5C1067.0 241.7 1060.1 240.8 1053.1 239.9C1046.2 239.0 1039.5 238.0 1032.3 236.9C1025.2 235.8 1016.6 234.4 1010.1 233.4C1003.7 232.3 999.1 231.5 993.5 230.4C987.9 229.3 980.8 227.8 976.4 226.7C972.0 225.7 969.7 224.9 967.1 224.0C964.6 223.0 962.5 222.0 960.9 221.0C959.3 220.0 958.2 219.1 957.4 218.0C956.6 216.8 956.0 215.4 956.0 214.1C956.0 212.8 956.6 211.4 957.4 210.2C958.2 209.1 959.3 208.2 960.9 207.2C962.5 206.2 964.6 205.1 967.1 204.2C969.7 203.2 972.0 202.5 976.4 201.4C980.8 200.3 987.9 198.8 993.5 197.7C999.1 196.6 1003.7 195.9 1010.1 194.8C1016.6 193.7 1025.2 192.4 1032.3 191.3C1039.5 190.2 1046.2 189.2 1053.1 188.3C1060.1 187.3 1067.0 186.5 1073.9 185.7C1080.9 184.9 1091.3 183.9 1094.8 183.5" stroke="#9a9a9a" stroke-width="4" stroke-dasharray="10.5 5.5"/>
<path d="M1094.8 183.5C1102.8 182.7 1131.7 179.6 1143.3 178.4C1154.9 177.1 1155.8 177.0 1164.1 176.2C1172.4 175.4 1179.4 174.7 1193.2 173.4C1207.1 172.0 1229.1 169.8 1247.3 168.0C1265.6 166.2 1293.6 163.4 1302.8 162.4" stroke="#bcbcbc" stroke-width="1.8" stroke-dasharray="11.5 7"/>
<path d="M1094.8 244.6C1102.8 245.5 1131.7 248.6 1143.3 249.8C1154.9 251.0 1155.8 251.1 1164.1 252.0C1172.4 252.8 1179.4 253.4 1193.2 254.8C1207.1 256.2 1229.1 258.3 1247.3 260.1C1265.6 262.0 1293.6 264.8 1302.8 265.7" stroke="#bcbcbc" stroke-width="1.8" stroke-dasharray="11.5 7"/>
<path d="M1094.8 419.0C1091.3 418.6 1080.9 417.6 1073.9 416.8C1067.0 416.1 1060.1 415.2 1053.1 414.3C1046.2 413.3 1039.5 412.3 1032.3 411.3C1025.2 410.2 1016.6 408.8 1010.1 407.7C1003.7 406.6 999.1 405.9 993.5 404.8C987.9 403.7 980.8 402.2 976.4 401.1C972.0 400.0 969.7 399.3 967.1 398.3C964.6 397.4 962.5 396.3 960.9 395.3C959.3 394.3 958.2 393.5 957.4 392.3C956.6 391.2 956.0 389.7 956.0 388.4C956.0 387.1 956.6 385.7 957.4 384.6C958.2 383.4 959.3 382.6 960.9 381.5C962.5 380.5 964.6 379.5 967.1 378.5C969.7 377.6 972.0 376.9 976.4 375.8C980.8 374.7 987.9 373.2 993.5 372.1C999.1 371.0 1003.7 370.2 1010.1 369.1C1016.6 368.1 1025.2 366.7 1032.3 365.6C1039.5 364.5 1046.2 363.5 1053.1 362.6C1060.1 361.7 1067.0 360.8 1073.9 360.0C1080.9 359.2 1091.3 358.2 1094.8 357.9" stroke="#9a9a9a" stroke-width="4" stroke-dasharray="10.5 5.5"/>
<path d="M1094.8 357.9C1102.8 357.0 1131.7 353.9 1143.3 352.7C1154.9 351.5 1155.8 351.4 1164.1 350.6C1172.4 349.7 1179.4 349.1 1193.2 347.7C1207.1 346.3 1229.1 344.2 1247.3 342.4C1265.6 340.5 1293.6 337.7 1302.8 336.8" stroke="#bcbcbc" stroke-width="1.8" stroke-dasharray="11.5 7"/>
<path d="M1094.8 419.0C1102.8 419.9 1131.7 422.9 1143.3 424.2C1154.9 425.4 1155.8 425.5 1164.1 426.3C1172.4 427.2 1179.4 427.8 1193.2 429.2C1207.1 430.5 1229.1 432.7 1247.3 434.5C1265.6 436.3 1293.6 439.2 1302.8 440.1" stroke="#bcbcbc" stroke-width="1.8" stroke-dasharray="11.5 7"/>
<path d="M1094.8 593.4C1091.3 593.0 1080.9 592.0 1073.9 591.2C1067.0 590.4 1060.1 589.6 1053.1 588.6C1046.2 587.7 1039.5 586.7 1032.3 585.6C1025.2 584.5 1016.6 583.2 1010.1 582.1C1003.7 581.0 999.1 580.3 993.5 579.1C987.9 578.0 980.8 576.5 976.4 575.4C972.0 574.4 969.7 573.7 967.1 572.7C964.6 571.7 962.5 570.7 960.9 569.7C959.3 568.7 958.2 567.8 957.4 566.7C956.6 565.5 956.0 564.1 956.0 562.8C956.0 561.5 956.6 560.1 957.4 558.9C958.2 557.8 959.3 556.9 960.9 555.9C962.5 554.9 964.6 553.8 967.1 552.9C969.7 551.9 972.0 551.2 976.4 550.1C980.8 549.1 987.9 547.5 993.5 546.4C999.1 545.3 1003.7 544.6 1010.1 543.5C1016.6 542.4 1025.2 541.1 1032.3 540.0C1039.5 538.9 1046.2 537.9 1053.1 537.0C1060.1 536.0 1067.0 535.2 1073.9 534.4C1080.9 533.6 1091.3 532.6 1094.8 532.2" stroke="#9a9a9a" stroke-width="4" stroke-dasharray="10.5 5.5"/>
<path d="M1164.1 524.9C1169.0 524.4 1179.4 523.4 1193.2 522.1C1207.1 520.7 1229.1 518.5 1247.3 516.7C1265.6 514.9 1293.6 512.1 1302.8 511.1" stroke="#bcbcbc" stroke-width="1.8" stroke-dasharray="11.5 7"/>
<path d="M1164.1 600.7C1169.0 601.1 1179.4 602.1 1193.2 603.5C1207.1 604.9 1229.1 607.0 1247.3 608.9C1265.6 610.7 1293.6 613.5 1302.8 614.4" stroke="#bcbcbc" stroke-width="1.8" stroke-dasharray="11.5 7"/>
<path d="M1122.2 99.8C1122.7 102.5 1123.7 110.1 1125.3 115.8C1126.9 121.5 1128.8 128.5 1131.8 133.9C1134.8 139.3 1138.5 143.0 1143.4 148.2C1148.4 153.4 1154.6 159.2 1161.5 165.0C1168.4 170.8 1175.7 176.6 1184.7 183.0C1193.8 189.4 1207.2 196.8 1215.8 203.7C1224.4 210.6 1231.5 217.9 1236.4 224.4C1241.4 230.9 1243.9 238.6 1245.5 242.5C1247.1 246.4 1246.8 244.9 1246.1 248.0C1245.4 251.1 1245.2 256.3 1241.1 261.0C1237.0 265.7 1229.4 271.5 1221.4 276.4C1213.4 281.3 1202.6 286.0 1193.2 290.5C1183.8 295.0 1174.5 298.8 1165.1 303.2C1155.7 307.6 1145.4 312.5 1137.0 317.2C1128.6 321.9 1120.4 326.6 1114.5 331.3C1108.6 336.0 1104.6 340.7 1101.8 345.4C1099.0 350.1 1097.4 355.2 1097.6 359.4C1097.8 363.6 1099.5 366.9 1103.2 370.7C1107.0 374.4 1111.7 378.0 1120.1 381.9C1128.5 385.8 1143.9 389.5 1153.8 394.1C1163.7 398.7 1170.3 403.9 1179.2 409.5C1188.1 415.1 1198.4 421.7 1207.3 427.8C1216.2 433.9 1225.6 440.5 1232.6 446.1C1239.6 451.7 1245.3 456.7 1249.5 461.6C1253.7 466.5 1256.7 471.7 1257.9 475.7C1259.1 479.7 1258.8 482.0 1256.5 485.5C1254.2 489.0 1250.7 493.1 1243.9 496.8C1237.1 500.6 1226.5 504.5 1215.7 508.0C1204.9 511.5 1191.9 514.9 1179.2 517.9C1166.5 520.9 1146.4 524.9 1139.8 526.3" stroke="#999" stroke-width="3.5" stroke-linecap="round"/>
<path d="M1131.0 100.9L1153.7 122.3L1145.5 137.8L1159.4 146.9L1152.4 153.3L1164.1 165.5L1161.5 175.3L1165.4 193.4L1162.0 211.5L1166.6 224.4L1177.0 234.7L1171.3 241.3L1182.5 251.1L1182.5 258.1L1173.0 266.6L1178.6 276.4L1169.3 296.1L1168.5 303.7L1159.5 311.0L1166.5 320.0L1165.1 327.1L1180.6 344.0L1173.0 360.8L1186.2 370.7L1179.7 379.1L1189.0 391.3L1187.6 411.0L1191.8 422.2L1180.6 432.0L1182.5 447.5L1187.0 456.0L1171.3 465.8L1186.2 474.3L1179.2 487.0L1174.1 501.0L1175.0 509.4L1145.4 517.9L1160.9 526.3" stroke="#333" stroke-width="6.3" stroke-linejoin="round"/>
<path d="M1100.0 102.4L1116.2 112.0L1125.8 121.0L1127.9 137.8L1131.0 147.4L1153.7 165.0L1147.3 173.2L1161.0 181.0L1157.6 190.8L1182.2 198.6L1179.6 207.6L1161.0 216.6L1217.0 224.9L1107.7 241.2L1108.3 251.1L1094.2 259.5L1089.1 267.1L1046.4 276.4L1048.3 284.9L1040.7 292.5L1039.0 302.6L1044.7 315.8L1054.0 328.5L1060.4 344.0L1072.2 353.8L1087.7 360.8L1087.7 369.3L1103.2 380.5L1131.3 388.4L1132.7 396.9L1142.6 406.7L1232.6 422.2L1249.5 432.0L1231.2 439.6L1273.4 456.5L1260.8 465.8L1270.6 474.3L1243.9 482.7L1229.8 491.1L1200.3 499.6L1193.2 510.8L1181.4 517.9L1179.7 524.9" stroke="#0c93cd" stroke-width="6.3" stroke-linejoin="round"/>
</g>
<path d="M956.0 99.0V530.5H1303.8M956.0 100.0H1303.8M956.0 487.4h3.6M956.0 444.4h6.5M956.0 401.4h3.6M956.0 358.3h6.5M956.0 315.2h3.6M956.0 272.2h6.5M956.0 229.1h3.6M956.0 186.1h6.5M956.0 143.1h3.6M999.4 530.5v-3.6M1042.8 530.5v-6.5M1086.1 530.5v-3.6M1129.4 530.5v-6.5M1172.8 530.5v-3.6M1216.1 530.5v-6.5M1259.5 530.5v-3.6M1302.8 530.5v-6.5M990.7 100.0v3.6M1025.4 100.0v6.5M1060.1 100.0v3.6M1094.8 100.0v6.5M1129.4 100.0v3.6M1164.1 100.0v6.5M1198.8 100.0v3.6M1233.4 100.0v6.5M1268.1 100.0v3.6M1302.8 100.0v6.5" fill="none" stroke="#000" stroke-width="2"/>
<text transform="translate(927.42 543.30) scale(1.0246 1)" font-size="30">0</text>
<text transform="translate(893.72 456.90) scale(1.0118 1)" font-size="30">100</text>
<text transform="translate(894.51 370.75) scale(0.9958 1)" font-size="30">200</text>
<text transform="translate(894.76 284.10) scale(0.9906 1)" font-size="30">300</text>
<text transform="translate(895.26 197.55) scale(0.9803 1)" font-size="30">400</text>
<text transform="translate(894.76 110.90) scale(0.9906 1)" font-size="30">500</text>
<text transform="translate(948.12 564.40) scale(1.0246 1)" font-size="30">0</text>
<text transform="translate(1021.87 564.40) scale(0.9834 1)" font-size="30">0.5</text>
<text transform="translate(1121.40 564.40) scale(0.9700 1)" font-size="30">1</text>
<text transform="translate(1195.04 564.40) scale(0.9595 1)" font-size="30">1.5</text>
<text transform="translate(1291.93 564.40) scale(1.0473 1)" font-size="30">2</text>
<text transform="translate(949.32 86.30) scale(1.0246 1)" font-size="30" fill="#707070">0</text>
<text transform="translate(1090.00 86.10) scale(0.9700 1)" font-size="30" fill="#707070">1</text>
<text transform="translate(1225.63 86.30) scale(1.0473 1)" font-size="30" fill="#707070">2</text>
<text transform="translate(999.48 46.90) scale(0.9672 1)" font-size="30" fill="#707070">Enhancement factor</text>
<text transform="translate(1031.65 606.70) scale(0.9801 1)" font-size="30">Photons (×10<tspan font-size="20" dy="-11.5">3</tspan><tspan dy="11.5">)</tspan></text>
<text transform="translate(874.60 353.76) rotate(-90) scale(0.9437 1)" font-size="30"><tspan font-style="italic">z</tspan> (nm)</text>
</svg>
</body></html>
